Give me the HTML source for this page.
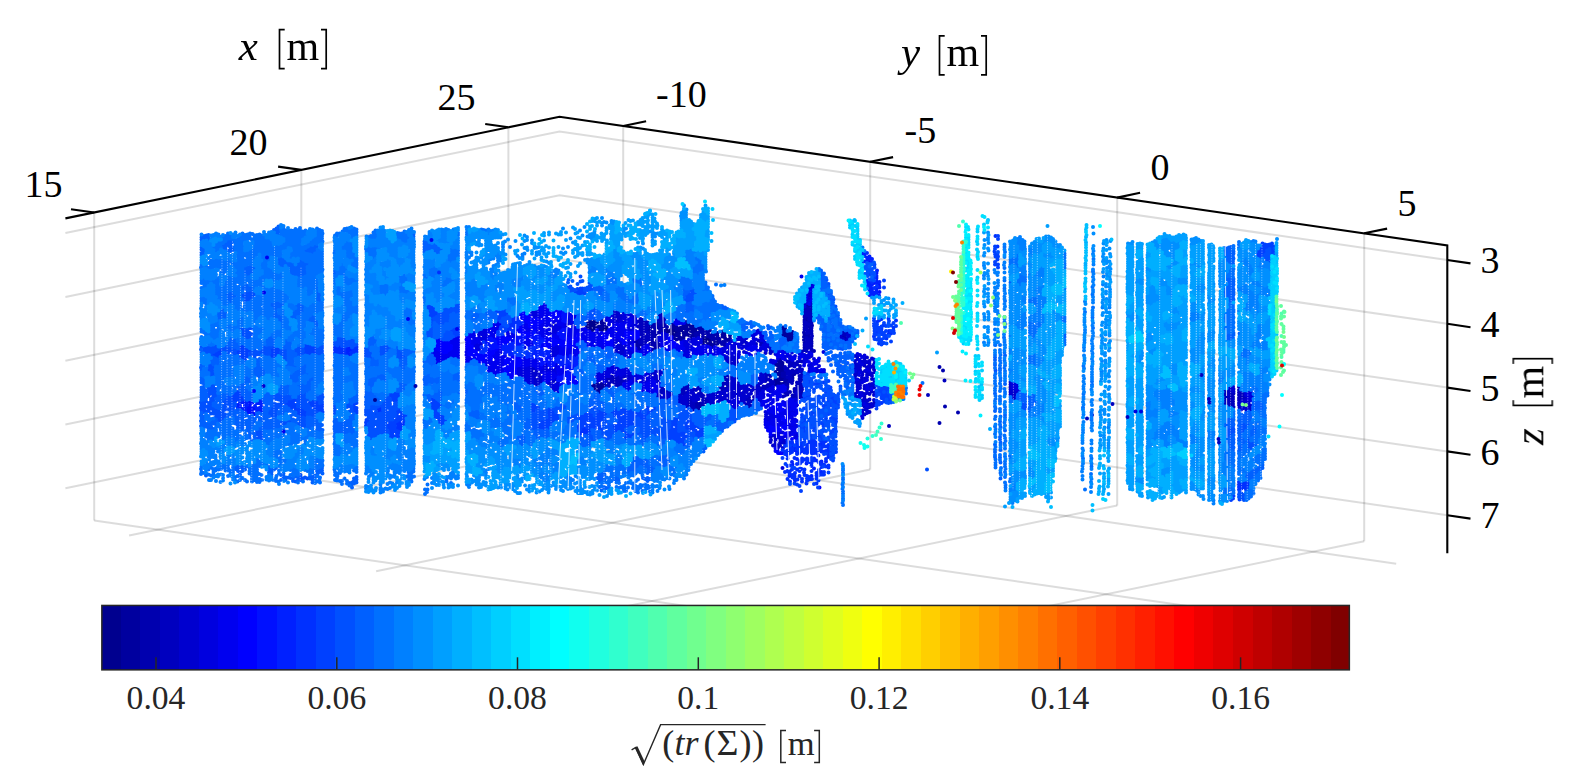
<!DOCTYPE html>
<html lang="en"><head><meta charset="utf-8"><title>Point cloud uncertainty</title>
<style>
html,body{margin:0;padding:0;background:#fff;}
body{width:1575px;height:775px;overflow:hidden;font-family:"Liberation Serif",serif;}
svg{display:block;}
text{-webkit-font-smoothing:antialiased;}
#ticks,#labels,#cbar,#cblabel{opacity:.999;}
.g{stroke:#262626;stroke-opacity:.16;stroke-width:2.0;fill:none;}
.ax{stroke:#000;stroke-width:2.1;fill:none;stroke-linejoin:miter;}
.tk{font-family:"Liberation Serif",serif;font-size:38px;fill:#000;}
.ctk{font-family:"Liberation Serif",serif;font-size:33.6px;fill:#262626;}
.lb{font-family:"Liberation Serif",serif;fill:#000;}
.lbi{font-family:"Liberation Serif",serif;font-style:italic;font-size:43px;fill:#000;}
.br{stroke:#000;stroke-width:1.7;fill:none;}
.cg .br{stroke:#262626;stroke-width:1.5;}
.cg .lb{fill:#262626;}
.cbb{fill:none;stroke:#262626;stroke-width:1.5;}
.cbt{stroke:#262626;stroke-width:1.5;}
.sq{fill:none;stroke:#262626;stroke-width:1.4;stroke-linejoin:miter;}
.cl{font-family:"Liberation Serif",serif;font-size:36px;fill:#262626;}
.cli{font-family:"Liberation Serif",serif;font-style:italic;font-size:36px;fill:#262626;}
</style></head>
<body>
<svg width="1575" height="775" viewBox="0 0 1575 775">
<rect width="1575" height="775" fill="#fff"/>
<g id="grid"><line class="g" x1="94.2" y1="212.5" x2="94.2" y2="520.4"/><line class="g" x1="94.2" y1="520.4" x2="982.0" y2="648.9"/><line class="g" x1="301.3" y1="169.9" x2="301.3" y2="477.8"/><line class="g" x1="301.3" y1="477.8" x2="1189.1" y2="606.3"/><line class="g" x1="508.4" y1="127.3" x2="508.4" y2="435.2"/><line class="g" x1="508.4" y1="435.2" x2="1396.2" y2="563.7"/><line class="g" x1="623.2" y1="126.0" x2="623.2" y2="433.9"/><line class="g" x1="623.2" y1="433.9" x2="129.1" y2="535.5"/><line class="g" x1="870.2" y1="161.8" x2="870.2" y2="469.6"/><line class="g" x1="870.2" y1="469.6" x2="376.1" y2="571.3"/><line class="g" x1="1117.2" y1="197.6" x2="1117.2" y2="505.4"/><line class="g" x1="1117.2" y1="505.4" x2="623.1" y2="607.0"/><line class="g" x1="1364.2" y1="233.3" x2="1364.2" y2="541.2"/><line class="g" x1="1364.2" y1="541.2" x2="870.1" y2="642.8"/><polyline class="g" points="65.4,233.1 559.5,131.5 1447.3,260.0"/><polyline class="g" points="65.4,296.9 559.5,195.2 1447.3,323.8"/><polyline class="g" points="65.4,360.7 559.5,259.1 1447.3,387.6"/><polyline class="g" points="65.4,424.5 559.5,322.9 1447.3,451.4"/><polyline class="g" points="65.4,488.3 559.5,386.6 1447.3,515.2"/></g>
<g id="cloud" fill="none" stroke-linecap="round" stroke-width="8.0" transform="scale(.5)">
<path stroke="#00008f" d="M1174 652h0m1 5h0m0-10h0m5 10h0m0-15h0m0 5h0m0 5h0m4-1h0m0 10h0m1-15h0m4 6h0m0-11h0m1 6h0m-1 10h0m5-12h0m0 10h0m10 5h0m5-3h0m4-2h0m1 5h0m119 0h0m1 5h0m5-3h0m4-4h0m1 6h0m-1 5h0m6-8h0m-1 9h0m5-6h0m53 14h0m0 5h0m1 6h0m4-13h0m0 6h0m5-5h0m0 11h0m4-7h0m160-4h0"/>
<path stroke="#00009f" d="M1185 773h0m4-4h0m0 6h0m0 5h0m5-13h0m0 6h0m0 9h0m4-129h0m1 118h0m0 5h0m0-117h0m0 121h0m0 6h0m4-146h0m0 5h0m0 10h0m0 113h0m1-117h0m0 122h0m0 6h0m4-132h0m1 5h0m0 117h0m0 6h0m134-127h0m1 5h0m4-3h0m0 5h0m0 21h0m5-22h0m0 5h0m0 11h0m0 9h0m5-22h0m0 5h0m0 5h0m0 6h0m0 4h0m4-22h0m1 5h0m-1 16h0m1 5h0m4-30h0m1 5h0m-1 10h0m1 5h0m-1 5h0m5-32h0m0 5h0m1 5h0m-1 6h0m1 4h0m0 5h0m4-20h0m1 10h0m-1 11h0m5-17h0m0 5h0m0 5h0m0 9h0m0 6h0m5-26h0m0 4h0m0 6h0m0 5h0m0 4h0m4-13h0m0 5h0m30 23h0m-1 5h0m5-1h0m0 4h0m5-10h0m1 5h0m4-7h0m0 5h0m10-24h0m0 6h0m0 4h0m4-7h0m0 5h0m1 5h0m5 4h0m5-9h0m0 6h0m0 5h0m91 47h0m0 15h0m0 15h0m-1 5h0m1 5h0m5-47h0m0 6h0m0 4h0m0 6h0m0 10h0m0 11h0m0 4h0m0 6h0m5-51h0m0 5h0m-1 5h0m0 5h0m1 5h0m-1 4h0m1 6h0m0 6h0m0 5h0m0 9h0m5-113h0m-1 5h0m0 6h0m0 5h0m0 55h0m0 5h0m0 6h0m0 5h0m1 16h0m-1 10h0m5-111h0m0 6h0m0 4h0m0 5h0m0 93h0m5-98h0m0 4h0m0 6h0m0 4h0m5-15h0m-1 5h0m1 10h0m5-17h0m0 5h0m0 6h0m-1 4h0m29-38h0"/>
<path stroke="#0000af" d="M1271 687h0m0-6h0m0 11h0m5-14h0m0 5h0m0 5h0m0 6h0m0 5h0m5-10h0m-1 10h0m15-39h0m5-8h0m0 5h0m0 5h0m0 5h0m0 21h0m5-39h0m0 4h0m0 11h0m0 4h0m0 6h0m-1 5h0m1 5h0m0 5h0m-1 10h0m6-53h0m0 6h0m0 5h0m0 5h0m0 5h0m0 5h0m-1 15h0m1 5h0m0 6h0m4-52h0m0 4h0m0 5h0m0 11h0m1 10h0m-1 5h0m1 6h0m0 5h0m0 4h0m4-46h0m0 5h0m1 4h0m-1 6h0m0 25h0m5-42h0m0 5h0m0 5h0m0 6h0m6-17h0m-1 5h0m0 10h0m5-8h0m57 14h0m1 5h0m0 133h0m0 4h0m-1 6h0m6-160h0m0 9h0m0 6h0m-1 137h0m0 6h0m1 5h0m4-164h0m0 5h0m1 4h0m-1 143h0m0 5h0m5-154h0m0 5h0m0 5h0m0 5h0m1 138h0m4-150h0m0 5h0m5-3h0m0 4h0m0 5h0m4-11h0m1 10h0m0 4h0m4-6h0m1 5h0m0 5h0m4-10h0m1 9h0m4-12h0m0 6h0m0 4h0m4 2h0m1 6h0m5 0h0m-1 4h0m6-6h0m0 4h0m0 5h0m115 56h0m0 5h0m6-8h0m-1 5h0m1 5h0m-1 6h0m5-2h0m0 6h0m0 5h0m-1 9h0m1 11h0m10-38h0m0 5h0m4-8h0m0 46h0m10-6h0m4-28h0m0 25h0m6-177h0m0 11h0m0 21h0m-1 25h0m1 4h0m-1 5h0m0 6h0m1 5h0m0 10h0m4-85h0m0 26h0m1 15h0m-1 21h0m5-60h0m1 32h0m-1 9h0m0 6h0m0 9h0m0 5h0m5-52h0m1 30h0m-1 32h0m0 9h0m5 10h0m58-29h0m5 3h0"/>
<path stroke="#0000bf" d="M1213 757h0m0 5h0m1 10h0m5-15h0m-1 10h0m0 5h0m5-9h0m0-10h0m0 6h0m4 1h0m1 5h0m0-10h0m4 15h0m1-15h0m-1 5h0m1 5h0m5-13h0m0 4h0m0 6h0m0 5h0m-1 5h0m5-2h0m0-10h0m0 5h0m5-2h0m29-120h0m0 10h0m5-15h0m0 6h0m0 5h0m0 5h0m0 4h0m-1 5h0m1 6h0m-1 10h0m0 5h0m5-44h0m0 15h0m1-10h0m-1 5h0m0 10h0m1 5h0m0 5h0m-1 6h0m1 5h0m-1 4h0m1 6h0m4-48h0m0 4h0m0 5h0m0 6h0m0 5h0m0 11h0m1 4h0m0 5h0m-1 6h0m5-44h0m1 5h0m-1 5h0m1 10h0m-1 5h0m0 6h0m0 4h0m5-7h0m0 5h0m15-38h0m0 148h0m4-158h0m0 4h0m1 5h0m0 6h0m0 138h0m5-156h0m-1 5h0m0 5h0m0 6h0m0 132h0m0 5h0m0 5h0m5-148h0m0 5h0m0 138h0m0 5h0m5-3h0m5 2h0m4 2h0m15 4h0m4-13h0m1 6h0m-1 4h0m6-13h0m-1 5h0m0 4h0m1 6h0m4-18h0m0 6h0m1 9h0m4-15h0m1 6h0m-1 20h0m0 5h0m0 5h0m0 5h0m5-12h0m0 5h0m0 5h0m0 6h0m5-37h0m0 26h0m0 5h0m0 5h0m0 4h0m5-39h0m5-7h0m-1 4h0m1 11h0m4-12h0m1 6h0m0 5h0m0 5h0m5-1h0m0 5h0m-1 4h0m0 5h0m5-6h0m0 5h0m5-4h0m0 6h0m24-31h0m4-10h0m1 6h0m0 4h0m0 5h0m4-27h0m1 5h0m-1 9h0m1 11h0m5-27h0m-1 9h0m1 5h0m0 5h0m-1 7h0m6-24h0m-1 5h0m0 10h0m0 5h0m5-20h0m29 46h0m0 10h0m5-14h0m0 5h0m-1 5h0m1 5h0m0 5h0m4-12h0m1 9h0m5-18h0m0 6h0m4-112h0m5-7h0m0 92h0m5-88h0m0 5h0m0 87h0m0 5h0m5-95h0m0 86h0m0 5h0m4-32h0m1 6h0m0 5h0m-1 5h0m1 11h0m0 4h0m4-28h0m1 10h0m-1 11h0m0 5h0m5-23h0m0 9h0m0 6h0m0 5h0m5-8h0m0 4h0m20 25h0m4-59h0m1 5h0m-1 31h0m0 15h0m0 6h0m5-68h0m0 15h0m0 5h0m0 5h0m0 6h0m0 20h0m0 10h0m5-61h0m0 5h0m-1 4h0m1 11h0m0 5h0m0 6h0m0 5h0m-1 4h0m1 21h0m5-59h0m-1 6h0m1 10h0m-1 4h0m1 16h0m-1 5h0m1 25h0m-1 6h0m5-70h0m0 16h0m0 35h0m0 5h0m0 6h0m6-65h0m-1 5h0m0 11h0m1 5h0m-1 20h0m0 6h0m0 5h0m1 5h0m0 10h0m-1 5h0m6-74h0m0 10h0m-1 6h0m0 14h0m0 6h0m1 5h0m-1 5h0m0 6h0m0 4h0m0 5h0m0 11h0m5-91h0m0 20h0m0 21h0m0 5h0m-1 5h0m1 15h0m0 6h0m0 4h0m-1 11h0m1 5h0m4-171h0m1 5h0m0 5h0m0 10h0m0 5h0m0 6h0m0 4h0m0 31h0m0 10h0m5-84h0m0 4h0m0 6h0m0 4h0m-1 16h0m0 10h0m1 5h0m0 5h0m-1 10h0m1 6h0m-1 5h0m1 5h0m0 5h0m-1 5h0m5-84h0m0 5h0m1 5h0m0 5h0m-1 6h0m0 10h0m0 15h0m0 15h0m1 5h0m0 5h0m0 6h0m4-89h0m0 5h0m0 16h0m0 5h0m0 4h0m0 6h0m0 4h0m0 10h0m0 6h0m0 5h0m0 10h0m0 10h0m0 11h0m0 5h0m1-87h0m0 56h0m58 4h0m4-13h0m0 5h0m5-2h0m0 4h0m0 11h0m4-16h0m5 9h0m15 90h0m9 46h0m5-18h0m0-61h0m1 26h0m19 48h0m700-13h0m0 10h0m0 5h0m0-25h0m1 5h0m-1 10h0m4-15h0m1 5h0m-1 5h0m1 6h0m-1 5h0m1 5h0m4-27h0m0 5h0m-1 5h0m1 6h0m0 4h0m0 6h0m0 5h0m4-27h0m0 6h0m1 5h0m-1 5h0m1 5h0m-1 6h0m5-25h0m-1 7h0m0 4h0m0 5h0m0 5h0m1 6h0m11-24h0m0-16h0m0 6h0m0 5h0m0 11h0m0 4h0m5-17h0m0 6h0m0 5h0m0 4h0m4-2h0m1-11h0m0 6h0m4 5h0"/>
<path stroke="#0000cf" d="M1063 736h0m0 5h0m0 5h0m1 5h0m5-14h0m-1 10h0m1 5h0m-1 5h0m0 5h0m0 5h0m5-28h0m0 5h0m1 5h0m0 11h0m-1 5h0m1 5h0m4-21h0m1 5h0m-1 4h0m0 6h0m0 5h0m5-14h0m0 5h0m0 6h0m14 0h0m5 2h0m5-6h0m5-4h0m4 7h0m112-143h0m0 5h0m0 5h0m0 5h0m4-14h0m0 10h0m0 71h0m1-77h0m0 16h0m0 51h0m0 6h0m4-56h0m0 47h0m0-67h0m0 5h0m0 5h0m0 5h0m1 57h0m-1 10h0m5-12h0m0 5h0m1-67h0m-1 6h0m1 51h0m-1 15h0m0 5h0m0 46h0m5-53h0m0 5h0m0-11h0m0 57h0m5-62h0m0 61h0m0 10h0m5-11h0m0 5h0m0 6h0m5-10h0m0 6h0m39-10h0m4-3h0m0 11h0m5-13h0m0 5h0m0 6h0m0 5h0m5-17h0m0 11h0m-1 4h0m1 6h0m-1 30h0m5-52h0m1 5h0m0 5h0m-1 6h0m0 35h0m0 5h0m6-52h0m-1 51h0m5-58h0m0 52h0m0 5h0m5-7h0m-1 5h0m1 5h0m5-8h0m0 4h0m4-4h0m15 4h0m0 6h0m0 5h0m4-12h0m1 5h0m0 6h0m5-10h0m-1 6h0m0 4h0m0 5h0m5-18h0m0 5h0m0 6h0m1 5h0m-1 6h0m5-31h0m0 5h0m1 6h0m4-13h0m0 5h0m0 10h0m4-10h0m1 4h0m0 5h0m0 6h0m5-9h0m0 5h0m0 5h0m4-8h0m1 5h0m19-8h0m0 5h0m5-8h0m0 5h0m0 6h0m0 6h0m-1 4h0m6-22h0m-1 5h0m0 5h0m1 5h0m0 5h0m4-20h0m1 5h0m-1 5h0m5-12h0m0 10h0m1 10h0m4-19h0m0 6h0m0 4h0m0 5h0m5-14h0m0 10h0m0 5h0m5-84h0m-1 66h0m0 5h0m1 5h0m0 5h0m4-84h0m0 6h0m0 5h0m1 56h0m0 10h0m0 10h0m4-84h0m1 5h0m-1 5h0m0 51h0m0 10h0m0 5h0m0 6h0m5-87h0m0 6h0m0 10h0m1 31h0m-1 5h0m0 5h0m0 4h0m0 5h0m0 6h0m0 5h0m0 6h0m5-80h0m-1 5h0m0 5h0m1 5h0m0 26h0m0 5h0m0 5h0m0 5h0m0 6h0m0 9h0m0 6h0m4-113h0m0 41h0m1 5h0m-1 6h0m1 24h0m0 16h0m-1 5h0m1 5h0m0 5h0m-1 5h0m5-118h0m1 5h0m-1 87h0m0 5h0m0 5h0m0 6h0m0 4h0m0 5h0m5-115h0m0 5h0m1 5h0m-1 4h0m0 83h0m0 4h0m1 11h0m-1 5h0m0 5h0m0 5h0m5-124h0m1 5h0m-1 10h0m0 77h0m1 5h0m0 5h0m-1 4h0m0 6h0m0 5h0m0 5h0m0 5h0m5-129h0m0 10h0m0 87h0m0 6h0m0 5h0m0 9h0m5-24h0m-1 10h0m1 10h0m5-17h0m0 9h0m-1 6h0m6-13h0m-1 5h0m5-9h0m1 5h0m-1 5h0m0 5h0m0 5h0m6-33h0m-1 11h0m0 10h0m0 5h0m0 4h0m5-40h0m0 4h0m0 5h0m0 6h0m0 4h0m5-18h0m-1 5h0m1 4h0m0 5h0m4-56h0m6-13h0m4 2h0m0 6h0m0 5h0m0 168h0m1 6h0m-1 4h0m5-182h0m0 169h0m0 20h0m5-20h0m0 6h0m0 5h0m0 5h0m0 5h0m4-1h0m1 4h0m4-9h0m0 5h0m6-11h0m-1 5h0m1 11h0m5-14h0m-1 5h0m19-154h0m5 53h0m5-43h0m5-4h0m15-152h0m0 5h0m-1 6h0m5-23h0m0 137h0m58-41h0m5 7h0m10 2h0m0-10h0m0 5h0m4-6h0m10 43h0m0 10h0m0 10h0m0 21h0m0 35h0m1-60h0m-1 9h0m0 11h0m0 16h0m0 29h0m5-81h0m0 6h0m0 15h0m0 5h0m0 11h0m0 20h0m0 15h0m-1 10h0m1-65h0m0 15h0m0 30h0m0 6h0m4-15h0m1 11h0m-1 15h0m1-61h0m0 4h0m0 6h0m0 21h0m0 10h0m4-48h0m0 22h0m0 10h0m0 5h0m0 26h0m1-37h0m0 52h0m0 5h0m0 15h0m0 5h0m4-110h0m0 6h0m0 5h0m0 86h0m0 16h0m1-87h0m-1 30h0m0 5h0m0 11h0m0 9h0m1 6h0m0 15h0m4-103h0m0 9h0m0 11h0m0 10h0m0 72h0m0-67h0m0 36h0m1 15h0m-1 6h0m0 15h0m0 4h0m4-94h0m1 37h0m-1 4h0m1 26h0m0-77h0m0 5h0m0 10h0m0 11h0m0 30h0m0 10h0m0 21h0m0 5h0m0 10h0m4-41h0m0 25h0m1 5h0m0-96h0m0 16h0m0 14h0m0 5h0m0 6h0m0 10h0m0 5h0m4-54h0m0 10h0m0 46h0m0 25h0m1-77h0m0 10h0m-1 6h0m1 5h0m0 25h0m0 16h0m-1 5h0m1 20h0m272-46h0m0 5h0m0 5h0m0 5h0m0 5h0m0 5h0m5-8h0m-1 6h0m0 5h0m1 5h0m5-15h0m-1 5h0m0 6h0m0 4h0m5-13h0m423-8h0m5-1h0m-1 6h0m4-8h0m1 5h0m0 5h0m11 23h0m0 4h0m1 5h0m4-6h0m0 5h0m0 5h0m0-16h0m5-2h0m0 5h0m0 5h0m0 5h0m4-16h0m0 6h0m0 5h0m1 6h0m0 4h0m4-18h0m0 5h0m0 5h0m0 5h0m4-7h0m0 5h0m1 5h0"/>
<path stroke="#0000df" d="M948 691h0m5-2h0m0 5h0m0 4h0m5-35h0m0 6h0m0 6h0m0 15h0m0 5h0m0 4h0m4-36h0m1 5h0m-1 10h0m0 10h0m5-29h0m0 5h0m1 5h0m-1 5h0m1 5h0m4-19h0m1 6h0m-1 4h0m0 6h0m0 4h0m5-6h0m58 61h0m0 6h0m0 5h0m4-11h0m1 5h0m-1 5h0m0 5h0m5-13h0m1 6h0m0 5h0m0 5h0m4-16h0m0 5h0m1 4h0m-1 6h0m0 5h0m0 5h0m5-27h0m0 5h0m0 5h0m0 5h0m0 5h0m1 5h0m-1 5h0m5-32h0m0 5h0m0 4h0m0 6h0m0 6h0m0 5h0m0 5h0m0 4h0m5-144h0m0 5h0m0 127h0m0 6h0m0 5h0m5-143h0m0 5h0m0 5h0m4-12h0m1 5h0m0 6h0m4-1h0m0 5h0m5 103h0m0 4h0m5-13h0m0 6h0m0 4h0m5-13h0m0 4h0m-1 6h0m0 5h0m6-2h0m4-90h0m0 16h0m0 24h0m1 5h0m0 6h0m-1 10h0m0 25h0m0 6h0m0 30h0m5-118h0m0 5h0m0 5h0m0 30h0m0 5h0m0 6h0m1 35h0m-1 30h0m0 6h0m0 5h0m1-71h0m4-60h0m0 5h0m0 6h0m0 5h0m0 25h0m0 6h0m0 4h0m0 26h0m0 5h0m0 5h0m0 5h0m0 5h0m0 21h0m0 4h0m0-65h0m0 4h0m0 67h0m5-127h0m0 6h0m-1 36h0m1 5h0m0 5h0m0 5h0m0 61h0m0 10h0m0-5h0m0 10h0m5-132h0m0 5h0m9-9h0m0 4h0m5-12h0m0 6h0m1-10h0m4 3h0m0 6h0m5 8h0m0-5h0m48 98h0m0 10h0m0-5h0m0 10h0m5-7h0m0-10h0m0 5h0m0 10h0m4-8h0m1-4h0m0 9h0m4-3h0m1-11h0m0 6h0m0 11h0m0 4h0m4-130h0m0 6h0m1 97h0m0 5h0m-1 4h0m1 6h0m4-117h0m0 4h0m0 113h0m1-108h0m-1 5h0m0 88h0m0 4h0m0 5h0m5-13h0m0 5h0m0-107h0m0 11h0m0 101h0m5-60h0m-1 5h0m1 6h0m-1 51h0m1-103h0m0 5h0m0 31h0m0 56h0m0 5h0m4-5h0m0 16h0m1-72h0m-1 6h0m1 61h0m4-9h0m0 5h0m0-61h0m0 67h0m5-104h0m0 41h0m1 56h0m0 5h0m-1 5h0m5-125h0m0 112h0m1-106h0m-1 5h0m0 9h0m0 67h0m1 30h0m-1 5h0m4-112h0m1 5h0m0 102h0m0-112h0m0 72h0m0 5h0m0 4h0m0 26h0m0 10h0m4-118h0m1 10h0m0 16h0m0 4h0m0 20h0m0 6h0m0 5h0m0 10h0m0 5h0m0 11h0m0 25h0m0 5h0m4-96h0m1-20h0m0 6h0m0 25h0m-1 25h0m1 16h0m-1 5h0m1 5h0m0 35h0m4-113h0m0 6h0m0 10h0m0 56h0m0-61h0m1 10h0m-1 5h0m0 20h0m1 5h0m-1 66h0m1 6h0m-1 6h0m5-112h0m1-20h0m-1 4h0m0 6h0m1 5h0m-1 102h0m0 5h0m0 5h0m1 6h0m4-14h0m0 6h0m5-6h0m0 5h0m0 11h0m5-14h0m0 5h0m0 6h0m4-13h0m0 15h0m5-18h0m0 10h0m0 5h0m5-8h0m0 5h0m19-84h0m0 6h0m6-13h0m0 6h0m-1 4h0m0 5h0m5-15h0m0 5h0m0 5h0m5-8h0m0 6h0m34 6h0m0 5h0m0 4h0m0 11h0m-1 6h0m1 4h0m5-28h0m-1 6h0m0 5h0m1 5h0m-1 5h0m1 5h0m0 5h0m5-36h0m-1 10h0m0 6h0m1 5h0m-1 5h0m0 5h0m0 5h0m5-32h0m0 10h0m0 6h0m0 15h0m5-36h0m0 4h0m0 5h0m5-8h0m0 5h0m-1 4h0m6-12h0m0 10h0m0 5h0m5-11h0m0 5h0m43 13h0m0 6h0m-1 5h0m6-12h0m-1 5h0m0 10h0m6-23h0m0 5h0m0 11h0m4-18h0m1 4h0m-1 6h0m0 5h0m0 5h0m0 96h0m1 7h0m4-128h0m0 10h0m0 5h0m0 10h0m0 97h0m0 10h0m5-130h0m0 6h0m0 5h0m0 5h0m0 5h0m-1 96h0m1 6h0m0 5h0m0 5h0m5-128h0m-1 21h0m1 5h0m0 82h0m0 4h0m-1 5h0m1 6h0m-1 4h0m5-127h0m0 5h0m0 10h0m0 5h0m0 5h0m0 91h0m6-109h0m4 8h0m5-12h0m0 4h0m0 10h0m5-18h0m0 5h0m4-23h0m1 14h0m-1 6h0m5-23h0m0 5h0m0 5h0m1 5h0m0 5h0m5-24h0m-1 5h0m0 11h0m0 116h0m5-134h0m0 4h0m1 128h0m-1 6h0m5-134h0m0 5h0m0 5h0m0 5h0m0 16h0m-1 4h0m1 87h0m0 6h0m0 4h0m0 5h0m4-132h0m1 6h0m0 5h0m0 10h0m0 6h0m-1 85h0m1 6h0m0 6h0m4-108h0m1 5h0m-1 5h0m1 5h0m-1 123h0m1 5h0m0 4h0m-1 6h0m6-151h0m-1 92h0m0 21h0m0 25h0m1 9h0m0 6h0m5-120h0m-1 5h0m0 51h0m0 6h0m0 45h0m0 6h0m1 4h0m5-116h0m-1 5h0m0 47h0m0 5h0m0 5h0m0 46h0m0 6h0m5-128h0m0 15h0m0 112h0m5-118h0m-1 148h0m1 5h0m0 5h0m4-10h0m1 10h0m0 6h0m4-16h0m0 10h0m0 61h0m6-232h0m-1 9h0m0 6h0m0 153h0m5-160h0m0 102h0m0 5h0m0 26h0m5-133h0m0 5h0m0 98h0m0 10h0m0 4h0m0 21h0m0 5h0m0 11h0m0 4h0m4-165h0m1 15h0m-1 102h0m0 10h0m1 6h0m0 15h0m0 10h0m5-151h0m0 87h0m-1 5h0m1 20h0m0 26h0m0 20h0m0 5h0m4-74h0m0 10h0m0 31h0m0 10h0m1 16h0m0 4h0m9-163h0m5-96h0m0 97h0m0 5h0m0 5h0m0 6h0m5-137h0m0 12h0m0 5h0m0 106h0m0 5h0m0 5h0m4-145h0m0 25h0m1 103h0m-1 4h0m0 6h0m0 16h0m1 4h0m0 6h0m-1 4h0m5-175h0m0 10h0m1 5h0m-1 11h0m0 132h0m1-138h0m0 143h0m4-163h0m0 148h0m0 25h0m1-20h0m4 14h0m0 6h0m4-21h0m1 10h0m0 10h0m4 3h0m5-41h0m1 36h0m62 2h0m0 16h0m5-50h0m0 51h0m4-39h0m0 4h0m0 26h0m0 46h0m1-86h0m0 35h0m0 41h0m4-57h0m0 36h0m0 26h0m0 41h0m0-118h0m1 122h0m4-125h0m0 51h0m0 46h0m5-68h0m0 15h0m0 5h0m0 11h0m0 41h0m1-36h0m-1 5h0m5-38h0m10 16h0m0 5h0m277 3h0m0 5h0m0 4h0m4-10h0m0 6h0m0 5h0m6-9h0m-1 6h0m0 5h0m5 2h0m452 5h0m0 4h0m5-8h0m0 11h0m0 5h0m0-10h0m5-3h0m-1 6h0m0 10h0m1-6h0m4-2h0"/>
<path stroke="#0000ef" d="M863 705h0m5-2h0m0 4h0m1 5h0m5-12h0m-1 5h0m0 6h0m1 5h0m-1 5h0m1 6h0m4-22h0m0 4h0m0 5h0m0 5h0m0 5h0m5-15h0m0 5h0m0 5h0m0 4h0m5-14h0m0 6h0m-1 5h0m6-11h0m0 5h0m-1 5h0m5-14h0m0 5h0m0 5h0m4-34h0m1 5h0m0 16h0m-1 5h0m1 4h0m4-33h0m0 6h0m1 4h0m0 6h0m-1 4h0m0 5h0m1 6h0m-1 5h0m5-26h0m1-11h0m-1 5h0m0 10h0m1 6h0m-1 4h0m0 5h0m0 6h0m5-39h0m0 11h0m0 26h0m0-31h0m0 10h0m0 5h0m0 5h0m0 5h0m0 11h0m18-18h0m-1 6h0m0 6h0m1 4h0m0 5h0m0 5h0m4-56h0m0 5h0m0 41h0m0 5h0m0 5h0m5-56h0m1 5h0m0 10h0m-1 5h0m0 31h0m5-54h0m0 6h0m0 5h0m0 5h0m0 5h0m1 31h0m4-39h0m0 5h0m4-4h0m1 5h0m14 37h0m0 5h0m0 6h0m5-74h0m0 5h0m0 56h0m0 5h0m0 11h0m0 4h0m0 6h0m4-89h0m1 10h0m0 6h0m0 51h0m-1 4h0m1 6h0m0 4h0m-1 6h0m6-93h0m0 5h0m-1 6h0m1 9h0m0 5h0m0 37h0m0 14h0m-1 5h0m1 6h0m0 5h0m0 5h0m5-99h0m-1 10h0m0 6h0m1 41h0m-1 4h0m0 6h0m1 4h0m-1 6h0m0 4h0m1 6h0m-1 10h0m1 5h0m4-106h0m0 5h0m0 5h0m1 5h0m0 41h0m0 5h0m-1 5h0m0 6h0m0 4h0m0 6h0m0 9h0m0 6h0m0 4h0m5-96h0m0 50h0m0 6h0m1 10h0m-1 5h0m0 5h0m0 5h0m0 5h0m0 6h0m0 5h0m5-32h0m0 5h0m0 5h0m0 5h0m0 10h0m-1 5h0m5-32h0m5-49h0m1 5h0m0 5h0m5 1h0m4-7h0m1 5h0m-1 10h0m5-12h0m0 6h0m15-25h0m0 6h0m-1 65h0m0 6h0m1 5h0m4-88h0m1 5h0m-1 5h0m0 30h0m0 10h0m0 21h0m0 5h0m0 5h0m0 5h0m5-83h0m0 6h0m0 4h0m0 5h0m1 15h0m-1 6h0m1 4h0m0 31h0m-1 6h0m0 5h0m5-73h0m0 5h0m0 20h0m0 5h0m0 6h0m0 24h0m0 5h0m0 6h0m5-64h0m0 21h0m0 5h0m0 30h0m0 6h0m0 4h0m4-9h0m1 5h0m-1 5h0m5-73h0m1 6h0m-1 55h0m1 5h0m-1 6h0m0 5h0m5-119h0m1 5h0m-1 5h0m0 25h0m0 6h0m0 9h0m0 62h0m0 5h0m0 5h0m6-126h0m-1 5h0m0 6h0m0 5h0m0 5h0m0 15h0m0 5h0m0 5h0m0 5h0m0 6h0m0 4h0m0 62h0m5-126h0m0 5h0m0 6h0m0 4h0m0 5h0m0 10h0m0 5h0m0 5h0m0 11h0m-1 6h0m1 4h0m0 5h0m0 71h0m0 6h0m0 5h0m0 5h0m5-152h0m-1 5h0m1 10h0m0 6h0m0 5h0m-1 5h0m1 5h0m0 5h0m0 10h0m0 5h0m0 10h0m-1 72h0m0 5h0m0 11h0m1-144h0m0 138h0m5-140h0m-1 5h0m0 15h0m0 5h0m0 6h0m1 10h0m-1 9h0m1 78h0m-1 5h0m1 10h0m0-133h0m0 128h0m4-8h0m0 10h0m1-5h0m4-109h0m0 26h0m0 5h0m0 72h0m0 4h0m0 5h0m5-115h0m0 31h0m0 5h0m0 76h0m5-110h0m0 30h0m0 5h0m-1 61h0m1 5h0m0 6h0m0-102h0m0 86h0m5-102h0m0 6h0m0 4h0m0 6h0m-1 31h0m0 14h0m1 11h0m-1 5h0m1 31h0m-1 4h0m0 6h0m1-51h0m4-49h0m1 5h0m0 41h0m-1 5h0m0 5h0m1 6h0m0 19h0m0 6h0m-1 5h0m0 5h0m1-102h0m4 49h0m0 6h0m0 4h0m1 5h0m-1 36h0m5-119h0m0 32h0m0 4h0m0 5h0m0 5h0m0 25h0m0 6h0m0 5h0m0 5h0m0-81h0m5-2h0m0 5h0m0 25h0m0 6h0m-1 5h0m1 5h0m0 21h0m0 4h0m0 6h0m5-73h0m-1 4h0m1 5h0m-1 16h0m0 4h0m1 6h0m0 5h0m0 26h0m0 5h0m5-75h0m-1 31h0m1 5h0m-1 6h0m0 20h0m1 15h0m-1 5h0m1-76h0m0 20h0m0 46h0m4-43h0m0 6h0m0 30h0m0 5h0m0 5h0m0 5h0m5-41h0m1-9h0m0 45h0m4-46h0m0 15h0m1-6h0m0 11h0m4-21h0m0 16h0m0 9h0m0-20h0m0 15h0m4-16h0m0 5h0m0 6h0m0 5h0m1 10h0m-1 4h0m5-29h0m0 10h0m1 6h0m0-11h0m0 21h0m4-22h0m0 4h0m0 6h0m0 10h0m1-5h0m0 10h0m4-10h0m1-15h0m-1 5h0m0 6h0m0 15h0m5-28h0m0 20h0m0 6h0m0-31h0m0 15h0m0 6h0m5-12h0m0 5h0m0 5h0m-1 5h0m1 5h0m0 5h0m4-28h0m0 21h0m1-11h0m0 5h0m0 11h0m0 5h0m5-29h0m0 19h0m0 6h0m5-28h0m0 5h0m4-10h0m0 5h0m5-8h0m0 5h0m0 5h0m0 4h0m5-19h0m-1 11h0m1 10h0m0-15h0m0 9h0m4 1h0m1-20h0m0 10h0m0 16h0m4-24h0m0 5h0m0 5h0m1 5h0m0 5h0m0 5h0m5-27h0m-1 5h0m0 6h0m0 4h0m0 6h0m5 104h0m0-123h0m0 6h0m0 5h0m0 5h0m0 5h0m1 97h0m3-123h0m1 16h0m0 107h0m0 4h0m0 6h0m5-134h0m0 6h0m0 44h0m0 72h0m-1 6h0m1 5h0m0 5h0m4-137h0m0 118h0m0-123h0m1 57h0m0 71h0m0 10h0m4-88h0m0 6h0m1 5h0m0 67h0m4-71h0m1 5h0m4 2h0m5 0h0m5-8h0m0 5h0m0 6h0m0 5h0m0 56h0m0 5h0m0 5h0m0 4h0m4-89h0m1 6h0m-1 5h0m0 5h0m0 62h0m1 4h0m4-8h0m0 16h0m0-92h0m1 4h0m-1 11h0m0 67h0m0 5h0m5-80h0m0 5h0m0 61h0m0 5h0m0 5h0m0 6h0m0 5h0m4-25h0m1 5h0m0 5h0m0 11h0m0 6h0m4-23h0m0 4h0m1 5h0m0 5h0m0 7h0m5-12h0m0 5h0m-1 5h0m5-16h0m0 5h0m5-84h0m0 5h0m5-5h0m0 10h0m5-12h0m0 15h0m5-8h0m0 5h0m5 1h0m5-54h0m0 51h0m4-57h0m0 5h0m0 4h0m1 42h0m0 5h0m0 5h0m4-59h0m0 6h0m0 46h0m0 4h0m0 6h0m5-57h0m0 39h0m0 6h0m0 5h0m5-50h0m-1 51h0m19 0h0m1 5h0m0 5h0m5-8h0m-1 4h0m1 6h0m4-12h0m1 4h0m-1 5h0m5-11h0m0 5h0m1 5h0m0 5h0m4-17h0m0 6h0m0 4h0m0 6h0m5-17h0m0 5h0m0 6h0m5-10h0m0 16h0m5-13h0m0 5h0m0 6h0m4 2h0m5-15h0m0 5h0m1 5h0m-1 5h0m5-12h0m0 5h0m1 5h0m4-8h0m0 5h0m0 5h0m57-11h0m1 10h0m4-13h0m1 5h0m-1 11h0m6-18h0m0 5h0m4-5h0m0 6h0m0 10h0m5-7h0m5 106h0m0 4h0m5-9h0m0 6h0m5-6h0m0 11h0m-1 30h0m0 5h0m1 5h0m4-64h0m0 21h0m1 10h0m0 25h0m0 5h0m-1 6h0m5-65h0m0 6h0m1 9h0m-1 10h0m1 6h0m-1 21h0m0 5h0m5-60h0m1 11h0m-1 4h0m0 10h0m0 5h0m1 6h0m-1 16h0m0 4h0m0 5h0m5-66h0m-1 6h0m1 10h0m0 20h0m0 6h0m0 4h0m0 11h0m0 5h0m-1 5h0m6-149h0m0 5h0m-1 5h0m1 61h0m0 6h0m-1 5h0m0 5h0m0 5h0m0 5h0m1 31h0m0 4h0m-1 6h0m0 10h0m6-148h0m-1 10h0m1 61h0m0 5h0m0 6h0m-1 5h0m0 4h0m1 31h0m-1 6h0m0 5h0m0 4h0m0 5h0m0 6h0m5-149h0m1 5h0m-1 5h0m0 6h0m1 55h0m-1 5h0m0 6h0m1 21h0m-1 20h0m0 5h0m1 5h0m0 10h0m-1 5h0m5-74h0m0 5h0m0 26h0m0 5h0m0 10h0m0 5h0m0 21h0m5-140h0m0 97h0m0 5h0m0 16h0m0 5h0m0 5h0m0 5h0m0 10h0m0 5h0m0 11h0m0 5h0m0 4h0m5-76h0m-1 5h0m1 5h0m0 10h0m0 16h0m5-120h0m0 86h0m0 5h0m0 6h0m0 5h0m0 10h0m-1 16h0m1 5h0m-1 10h0m1 10h0m4-151h0m1 91h0m0 6h0m0 5h0m0 11h0m0 9h0m-1 5h0m1 11h0m-1 5h0m1 5h0m4-59h0m0 15h0m0 5h0m0 52h0m5-171h0m0 6h0m0 4h0m5-4h0m4 18h0m5-136h0m5-13h0m0 142h0m1-116h0m4-7h0m0 107h0m0 31h0m0 4h0m5-168h0m0 153h0m0 10h0m5-16h0m0 5h0m5-10h0m5 23h0m5 5h0m95 33h0"/>
<path stroke="#0000ff" d="M869 697h0m5-17h0m0 5h0m-1 5h0m0 6h0m5-18h0m0 6h0m0 5h0m0 5h0m0 5h0m4-17h0m0 6h0m1 5h0m0 5h0m-1 4h0m5-18h0m0 6h0m0 5h0m1 4h0m0 6h0m4-22h0m0 6h0m0 5h0m1 5h0m0 5h0m4-20h0m0 5h0m0 5h0m0 6h0m5-8h0m0 5h0m32-24h0m-1 6h0m1 5h0m0 5h0m0 4h0m5-14h0m0 5h0m-1 4h0m0 6h0m1 5h0m-1 5h0m0 4h0m6-15h0m0 6h0m-1 5h0m0 5h0m5-7h0m0 9h0m4-7h0m1 5h0m0 10h0m5-9h0m-1 5h0m1 5h0m0 5h0m5-16h0m0 5h0m-1 5h0m6-9h0m-1 5h0m0 5h0m0 5h0m5-14h0m5-12h0m0 5h0m0 5h0m0 5h0m5-12h0m0 5h0m-1 5h0m1 5h0m5-16h0m-1 5h0m5-27h0m1 20h0m4-25h0m0 6h0m0 4h0m0 5h0m5-15h0m0 5h0m0 5h0m1 6h0m-1 4h0m5-21h0m0 5h0m0 5h0m5-6h0m0 5h0m0 5h0m0 35h0m0 5h0m-1 11h0m1 5h0m5-65h0m-1 5h0m0 35h0m1 6h0m-1 10h0m0 5h0m0 5h0m1 6h0m4-72h0m0 41h0m1 10h0m0 6h0m-1 5h0m0 10h0m1 5h0m4-42h0m0 11h0m0 5h0m0 4h0m0 6h0m0 5h0m0 4h0m0 6h0m5-43h0m0 5h0m0 6h0m0 4h0m0 5h0m0 6h0m0 5h0m0 4h0m5-87h0m0 57h0m0 5h0m0 4h0m0 6h0m4-103h0m1 26h0m0 5h0m-1 4h0m1 52h0m0 5h0m0 5h0m-1 5h0m5-104h0m0 5h0m0 5h0m1 25h0m0 6h0m5-42h0m0 4h0m-1 6h0m0 4h0m0 26h0m5-32h0m0 4h0m0 6h0m1 25h0m-1 5h0m5-42h0m0 5h0m0 5h0m0 5h0m0 6h0m0 15h0m0 5h0m5-33h0m0 5h0m0 10h0m0 15h0m5-25h0m0 6h0m-1 4h0m1 6h0m4-22h0m1 4h0m-1 6h0m1 5h0m5-11h0m-1 5h0m5-4h0m0 45h0m0 6h0m5-4h0m5-9h0m0 6h0m0 4h0m5-12h0m0 10h0m0 5h0m5-69h0m0 5h0m-1 10h0m0 37h0m1 4h0m4-57h0m0 5h0m0 5h0m0 45h0m0 6h0m0 5h0m5-8h0m0 5h0m0-66h0m0 15h0m5-14h0m0 10h0m0 52h0m0-57h0m5-5h0m0 5h0m0 56h0m0 5h0m5-7h0m0 5h0m-1 5h0m6-12h0m4-1h0m0 5h0m0 5h0m0 5h0m5-12h0m0 5h0m0 5h0m0 67h0m0-5h0m5-64h0m0 62h0m0 10h0m0-77h0m0 72h0m0 10h0m4-89h0m0 5h0m0 71h0m1-66h0m0 76h0m0 6h0m5-94h0m-1 10h0m1-16h0m0 10h0m0 87h0m4-86h0m48-3h0m0-4h0m1 10h0m4-8h0m0 10h0m0 5h0m5-5h0m0 5h0m5-8h0m0 5h0m0 5h0m20-13h0m4 3h0m0 5h0m5-22h0m0 5h0m0 6h0m0 10h0m4-16h0m1-5h0m0 9h0m5-8h0m0 10h0m4-11h0m1 5h0m0 5h0m4-9h0m0-4h0m1 10h0m0 5h0m4-13h0m0 4h0m0 6h0m63 3h0m0 5h0m4-8h0m0 4h0m1 5h0m-1 5h0m1 6h0m5-8h0m-1 5h0m188 170h0m5-7h0m0 5h0m0 5h0m0 5h0m5-13h0m0 5h0m5-46h0m0 42h0m0 4h0m0 36h0m0 5h0m4-93h0m1 10h0m0 36h0m-1 5h0m0 41h0m1 5h0m4-97h0m0 5h0m1 6h0m-1 40h0m1 46h0m4-97h0m0 10h0m1 19h0m0 16h0m-1 52h0m5-65h0m0 11h0m0 5h0m0 10h0m14 11h0"/>
<path stroke="#0010ff" d="M495 816h0m0 4h0m-1 5h0m5-21h0m1 5h0m-1 5h0m0 5h0m1 5h0m5-19h0m-1 11h0m0 4h0m0 5h0m5-8h0m0 11h0m463-143h0m5-7h0m0 10h0m5-11h0m0 4h0m-1 11h0m1 5h0m5-16h0m0 9h0m0 6h0m4-12h0m0 5h0m0 5h0m5 0h0m34-14h0m0 5h0m5-10h0m0 5h0m0 4h0m0 6h0m5-15h0m0 14h0m5-17h0m0 5h0m-1 5h0m0 6h0m5-13h0m15-1h0m4-9h0m0 10h0m1 5h0m4-7h0m1 5h0m4-6h0m1 5h0m-1 41h0m5-40h0m0 41h0m1 5h0m-1 5h0m5-49h0m0 46h0m5-9h0m0 5h0m4-7h0m0 10h0m1 5h0m4-13h0m0 6h0m0 4h0m0 5h0m6-6h0m-1 4h0m10-63h0m-1 93h0m1-5h0m4-92h0m1 5h0m0 6h0m0 81h0m-1 5h0m1 10h0m4-140h0m0 5h0m0 6h0m0 19h0m0 10h0m0 6h0m0 81h0m0 11h0m1-143h0m0 127h0m4-119h0m0 6h0m0 4h0m0 26h0m0 4h0m0 77h0m1-122h0m0 31h0m0 4h0m0 72h0m4-7h0m0 6h0m0 15h0m0 5h0m0 5h0m0 5h0m0 5h0m0-25h0m5-7h0m0 10h0m0-15h0m0 36h0m5-37h0m0 5h0m593-212h0m9 42h0m5-20h0m5 24h0m1 14h0"/>
<path stroke="#0020ff" d="M475 810h0m0 4h0m5-8h0m0 6h0m0 4h0m5-12h0m0 14h0m5-16h0m0 5h0m0 4h0m0 6h0m0 4h0m4-16h0m0 5h0m16 2h0m4-6h0m0 11h0m0 5h0m5-21h0m-1 5h0m1 10h0m-1 5h0m6-19h0m-1 5h0m0 5h0m0 5h0m1 5h0m170-125h0m0 5h0m-1 5h0m6-11h0m0 5h0m-1 5h0m1 5h0m4-12h0m303-6h0m0 5h0m5-6h0m-1 5h0m1 6h0m-1 4h0m6-13h0m-1 5h0m0 4h0m5-14h0m1 5h0m-1 5h0m0 5h0m0 5h0m5-22h0m1 6h0m0 5h0m-1 10h0m5-13h0m33 15h0m1 6h0m5-31h0m0 15h0m-1 6h0m5-18h0m1 6h0m0 10h0m-1 5h0m1 5h0m4-32h0m1 5h0m-1 5h0m0 11h0m0 5h0m6-25h0m0 16h0m-1 5h0m0 5h0m5-3h0m0 5h0m5-8h0m0 4h0m5-3h0m-1 5h0m15 8h0m0 5h0m5-9h0m0 6h0m0 5h0m5 5h0m0-15h0m0 11h0m4-9h0m1 6h0m-1 5h0m5-13h0m0 11h0m1-6h0m0 11h0m4-7h0m5-11h0m0 5h0m0 10h0m5-12h0m0 5h0m0 5h0m5 2h0m0 6h0m0-15h0m0 4h0m4-7h0m0 5h0m1 6h0m0 5h0m423 221h0m5-58h0m0 30h0m1 5h0m5-34h0m-1 5h0m1 61h0m4-73h0m0 16h0m0 14h0m5-12h0m5-4h0m9 25h0m10 25h0m5-35h0m0 20h0m0-31h0m5 15h0m5 25h0m5-58h0m0 56h0m0-21h0m9 0h0m5-9h0m67-409h0m0 5h0m5-3h0m0 5h0m0 11h0m5-8h0m0 6h0m0 40h0m1 5h0m-1 6h0m5-59h0m0 77h0m0-72h0m0 46h0m0 5h0m0 6h0m0 4h0m0 6h0m4-11h0m0 11h0m1-67h0m0 51h0m0 10h0m0 11h0m4 1h0m1-6h0m4-33h0m0 10h0m0 16h0m0 9h0m1-46h0m-1 15h0m0 10h0m0 17h0m6-19h0m0 11h0m-1 16h0"/>
<path stroke="#0030ff" d="M670 695h0m0 5h0m0 6h0m5-10h0m0 5h0m0 5h0m5-14h0m0 4h0m-1 6h0m1 5h0m4-10h0m0 5h0m0 6h0m5-11h0m0 6h0m0 4h0m14-2h0m0 5h0m5-14h0m0 5h0m0 6h0m5-13h0m0 5h0m0 5h0m39 124h0m4-11h0m0 6h0m5-7h0m0 5h0m33 26h0m0 6h0m0 4h0m5-13h0m0 5h0m0 6h0m0 4h0m5-10h0m-1 6h0m1 4h0m4-14h0m1 6h0m154-157h0m-1 10h0m5-20h0m0 15h0m0 6h0m5-14h0m0 4h0m0 6h0m44-43h0m4-10h0m0 5h0m0 5h0m5-21h0m0 4h0m0 6h0m0 4h0m0 11h0m6-28h0m-1 5h0m0 5h0m0 6h0m0 5h0m0 4h0m0 6h0m4-31h0m1 5h0m0 5h0m-1 6h0m1 4h0m4-10h0m1 4h0m5-2h0m9 58h0m0 5h0m0 5h0m5-17h0m0 11h0m0 4h0m5-17h0m0 6h0m4-6h0m92 169h0m0 4h0m5-11h0m0 5h0m5-5h0m0 6h0m0 5h0m4-7h0m1 5h0m4-5h0m386 39h0m5-8h0m0 11h0m0 5h0m0 36h0m5-63h0m0 5h0m0 15h0m0 5h0m0 5h0m0 6h0m0 15h0m0 10h0m0 16h0m5-73h0m0 11h0m0 4h0m0 6h0m0 25h0m0 11h0m-1 5h0m1 16h0m4-79h0m1 4h0m0 10h0m-1 6h0m0 35h0m1 11h0m0 5h0m4-39h0m1 30h0m-1 6h0m0 5h0m5-74h0m0 9h0m0 6h0m0 10h0m0 20h0m0 11h0m1 20h0m4-68h0m0 5h0m0 26h0m1 5h0m0 10h0m-1 5h0m0 10h0m5-66h0m0 6h0m0 5h0m0 20h0m0 6h0m-1 15h0m1 20h0m0 5h0m4-64h0m1 6h0m-1 14h0m1 20h0m-1 6h0m1 5h0m5-60h0m-1 6h0m0 5h0m1 5h0m0 11h0m0 4h0m0 31h0m0 5h0m0 5h0m-1 5h0m6-84h0m-1 5h0m0 5h0m1 6h0m-1 4h0m1 16h0m-1 5h0m0 30h0m0 5h0m5-78h0m1 5h0m-1 5h0m0 5h0m0 5h0m1 21h0m-1 5h0m0 5h0m0 10h0m1-35h0m0 51h0m4-77h0m0 5h0m0 5h0m0 5h0m0 25h0m0-20h0m4-16h0m1 5h0m0 10h0m0 6h0m0 40h0m0 5h0m0 6h0m0 10h0m4-67h0m0 11h0m1 14h0m-1 26h0m1-62h0m0 51h0m4-58h0m0 11h0m0 5h0m0 31h0m1 5h0m0 15h0m0-46h0m4-138h0m0 118h0m0 4h0m0 6h0m1 10h0m0 26h0m0 15h0m0 5h0m4-67h0m0 11h0m0 9h0m0 16h0m0 15h0m5-43h0m0 4h0m0 5h0m0 11h0m0 21h0m0-27h0m0 31h0m77-429h0m10 18h0m0 40h0m4 109h0m1-97h0m5-4h0m0 72h0m0 20h0m4-23h0m0 46h0m5-29h0m0-20h0m0 168h0m4-155h0m6 26h0m4-9h0m0-31h0m1 25h0m4 5h0m5-12h0m5-14h0m686 328h0m0 5h0m0 5h0m0-15h0m5 8h0m0-5h0m0 10h0m4-12h0m1 5h0m0 4h0m4 0h0m0 5h0m1-15h0m0 5h0m4-2h0m0 10h0m0-6h0"/>
<path stroke="#0040ff" d="M427 709h0m5-2h0m0 5h0m5-9h0m-1 5h0m1 5h0m5-14h0m0 5h0m-1 5h0m5-8h0m19 90h0m1 5h0m-1 4h0m5-14h0m0 5h0m0 5h0m1 5h0m4-99h0m0 5h0m0 77h0m1 5h0m-1 4h0m1 6h0m4-105h0m1 5h0m-1 5h0m0 10h0m0 72h0m0 4h0m0 5h0m0 6h0m5-109h0m0 4h0m0 6h0m0 5h0m0 4h0m0 6h0m0 77h0m0 5h0m4-105h0m1 6h0m-1 4h0m1 5h0m-1 5h0m1 6h0m4-22h0m0 6h0m0 5h0m1 4h0m5-11h0m43-4h0m0 6h0m0 5h0m0 5h0m5-20h0m0 5h0m-1 5h0m1 6h0m0 5h0m5-19h0m-1 5h0m1 6h0m-1 5h0m6-14h0m-1 4h0m0 6h0m15 100h0m5-6h0m0 5h0m-1 5h0m5-9h0m1 4h0m0 6h0m0 5h0m5-20h0m-1 6h0m0 5h0m0 5h0m6-14h0m-1 10h0m0 5h0m0 5h0m5 3h0m0 5h0m0-10h0m5 0h0m0 4h0m0 6h0m0 5h0m4-13h0m1 5h0m0 5h0m4-140h0m0 5h0m1 5h0m0 5h0m-1 123h0m0 5h0m1-10h0m4-132h0m0 6h0m1 10h0m0-5h0m4-9h0m0 4h0m0 11h0m0 97h0m0 5h0m0-107h0m5-3h0m0 101h0m0 6h0m0 4h0m1-118h0m-1 11h0m5-8h0m0 4h0m-1 6h0m1 96h0m0 15h0m0-9h0m0 4h0m4-3h0m1 5h0m-1 5h0m1-15h0m4 7h0m0 5h0m0 6h0m5-13h0m0 10h0m0-6h0m1 11h0m63-16h0m0 6h0m0 4h0m0 6h0m5-18h0m0 10h0m0 6h0m0 4h0m20 14h0m-1 5h0m0 6h0m5-9h0m39 9h0m-1 5h0m5-68h0m0 4h0m0 52h0m0 4h0m0 5h0m0 6h0m0 4h0m0 6h0m0 5h0m5-85h0m0 5h0m0 5h0m-1 46h0m1 6h0m-1 5h0m1 4h0m0 5h0m0 5h0m-1 6h0m5-90h0m1 5h0m-1 5h0m0 5h0m0 41h0m0 5h0m1 5h0m-1 5h0m1 5h0m0 11h0m4-86h0m1 4h0m0 6h0m-1 4h0m0 22h0m0 4h0m0 6h0m0 5h0m0 4h0m0 20h0m0 5h0m1 6h0m4-85h0m0 5h0m0 26h0m0 4h0m0 11h0m0 5h0m0 25h0m0 5h0m0 6h0m5-51h0m0 4h0m-1 5h0m0 5h0m5-8h0m1 5h0m0 5h0m4-9h0m42-219h0m-1 5h0m5-5h0m0 4h0m0 6h0m0 5h0m0 5h0m5-18h0m0 4h0m0 6h0m0 6h0m0 4h0m0 5h0m0 159h0m0 9h0m0 5h0m0 6h0m4-202h0m0 5h0m1 5h0m-1 5h0m1 168h0m-1 5h0m1 5h0m-1 6h0m1 5h0m0 4h0m0 5h0m-1 6h0m5-211h0m0 6h0m0 173h0m1 4h0m-1 6h0m1 5h0m-1 6h0m1 4h0m-1 6h0m5-28h0m0 5h0m0 5h0m0 11h0m0 5h0m0 5h0m0 5h0m0 5h0m4-37h0m0 21h0m0 5h0m1 5h0m0 4h0m0 6h0m4-18h0m0 5h0m1 4h0m0 5h0m5-5h0m9-181h0m4-4h0m1 6h0m0 5h0m4-11h0m0 4h0m0 6h0m0 4h0m5-17h0m0 5h0m0 6h0m0 4h0m76-46h0m4 0h0m0 11h0m0 5h0m0 25h0m0 5h0m5-46h0m0 5h0m0 6h0m0 4h0m1 16h0m-1 4h0m0 11h0m5-47h0m0 5h0m0 5h0m0 21h0m0 10h0m-1 5h0m6-47h0m0 5h0m0 5h0m0 25h0m0 5h0m5-34h0m14 74h0m0 5h0m5-11h0m0 5h0m0 10h0m4-15h0m1 4h0m0 5h0m0 6h0m5-18h0m0 5h0m-1 5h0m0 10h0m5-7h0m15 102h0m0 6h0m0 5h0m0 4h0m5-15h0m0 5h0m-1 6h0m0 4h0m6-6h0m4-2h0m1 36h0m-1 6h0m5-15h0m1 6h0m-1 5h0m0 6h0m5-15h0m0 6h0m0 5h0m0 4h0m4-18h0m1 5h0m-1 5h0m1 5h0m5-38h0m-1 5h0m0 4h0m1 12h0m-1 5h0m1 4h0m-1 6h0m1 4h0m0-25h0m5-13h0m-1 5h0m0 10h0m0 11h0m0 5h0m1-21h0m0 11h0m4-18h0m0 5h0m0 5h0m0 6h0m0 5h0m5-13h0m0 4h0m0 6h0m5-8h0m0 4h0m34-251h0m4-7h0m1 10h0m-1 265h0m0 10h0m1-280h0m0 276h0m4-276h0m0 5h0m0 244h0m0 11h0m0 5h0m0 5h0m0 6h0m1-282h0m-1 261h0m5-261h0m0 10h0m0 245h0m0 5h0m0 5h0m1-260h0m-1 266h0m0 5h0m5-21h0m-1 5h0m0 4h0m1 6h0m0-260h0m0 239h0m5 25h0m-1 4h0m1-25h0m0 6h0m0 4h0m5-14h0m0 5h0m0 10h0m0 10h0m-1 6h0m1-20h0m4 12h0m0 6h0m1-25h0m0 4h0m0 6h0m0 4h0m4 7h0m0-15h0m0 5h0m0 5h0m1 10h0m4-7h0m0-20h0m0 5h0m0 5h0m0 4h0m4-16h0m1 4h0m-1 5h0m1 5h0m-1 5h0m1-25h0m0 31h0m0 5h0m4-22h0m0 4h0m0 20h0m1-35h0m0 5h0m5-4h0m-1 5h0m1 6h0m4-8h0m10-3h0m4 1h0m1-6h0m0 11h0m0 21h0m0 4h0m4-29h0m0 25h0m0 10h0m1-45h0m0 4h0m0 36h0m4-24h0m0 11h0m0 15h0m1-36h0m0 5h0m0 11h0m0 10h0m0 5h0m4-3h0m0 6h0m0-36h0m0 6h0m0 9h0m0 6h0m1 20h0m4-12h0m0-31h0m1 5h0m-1 10h0m0 6h0m0 5h0m0 10h0m1 5h0m3-36h0m0 9h0m1 31h0m-1 10h0m1-56h0m0 11h0m0 10h0m0 5h0m0 5h0m0 5h0m0 15h0m0 11h0m4-32h0m1-26h0m0 6h0m-1 5h0m1 5h0m0 5h0m0 10h0m-1 16h0m1 5h0m4-55h0m0 15h0m0 5h0m0-15h0m0 5h0m1 15h0m-1 6h0m1 19h0m0 6h0m4-6h0m1-46h0m-1 5h0m1 5h0m-1 6h0m1 10h0m4-24h0m1 9h0m4-8h0m0 5h0m4-10h0m0 6h0m1 5h0m0 5h0m5-9h0m0 6h0m0 5h0m4-2h0m1-5h0m5-19h0m-1 6h0m0 4h0m0 6h0m5-4h0m5-3h0m5-7h0m0 5h0m29 41h0m0 4h0m0 6h0m0 5h0m5-34h0m0 4h0m-1 6h0m0 5h0m1 5h0m-1 6h0m1 4h0m-1 6h0m6-40h0m0 5h0m0 6h0m-1 10h0m0 5h0m0 5h0m0 5h0m0 6h0m5-43h0m0 5h0m0 6h0m0 4h0m0 6h0m0 5h0m0 5h0m0 5h0m0 5h0m1 6h0m4-17h0m0 4h0m0 5h0m0 5h0m0 6h0m5-22h0m0 5h0m0 9h0m-1 6h0m6-20h0m-1 5h0m1 5h0m0 5h0m0 6h0m0 5h0m4-44h0m0 6h0m1 5h0m0 15h0m4-30h0m0 11h0m1 5h0m4-18h0m1 5h0m-1 5h0m0 5h0m5-10h0m0 5h0m0 5h0m0 4h0m5-8h0m-1 9h0m1 6h0m-1 4h0m6-17h0m0 11h0m-1 4h0m0 5h0m6-16h0m-1 5h0m0 5h0m0 5h0m6-16h0m-1 5h0m0 5h0m0 5h0m159 44h0m6 12h0m4-37h0m5 0h0m5 44h0m4-44h0m0 45h0m0 31h0m5 2h0m5-165h0m0 46h0m0 5h0m1 25h0m-1 6h0m0 15h0m0 71h0m5-142h0m0 5h0m0 11h0m0 10h0m5-104h0m0 45h0m-1 20h0m1 21h0m0 5h0m0 10h0m-1 5h0m1 5h0m0 15h0m0 6h0m-1 5h0m6-141h0m-1 26h0m1 10h0m0 9h0m0 32h0m4-75h0m1 11h0m0 4h0m-1 26h0m6 34h0m-1 5h0m0 20h0m0 21h0m0 45h0m1-40h0m4-108h0m0 11h0m0 46h0m0 30h0m0 6h0m0 107h0m5-164h0m0 66h0m0-102h0m5-1h0m-1 52h0m0 51h0m1 4h0m0 21h0m-1 66h0m1-168h0m5 53h0m-1 26h0m1 6h0m4-82h0m0 5h0m0 11h0m0 34h0m0 6h0m0 10h0m1 46h0m-1 25h0m1-117h0m4-31h0m0 52h0m0 5h0m0-31h0m0 96h0m5-145h0m0 41h0m0 25h0m0 47h0m0 70h0m0-168h0m4-2h0m1 21h0m0 10h0m0 31h0m0 31h0m0-57h0m0 52h0m0 41h0m0 9h0m5-119h0m-1 5h0m1 5h0m-1 30h0m1 26h0m-1 5h0m0 11h0m0 14h0m0 20h0m0 11h0m1-81h0m4-39h0m0 46h0m0 11h0m1-51h0m0 10h0m0 20h0m0 6h0m0 61h0m4-94h0m48-285h0m15 24h0m9 88h0m0 4h0m0 6h0m0 5h0m1-123h0m-1 26h0m1 102h0m0 5h0m0 6h0m0 10h0m4-9h0m0 117h0m1-137h0m0 5h0m0 5h0m0 20h0m-1 113h0m0 9h0m1 6h0m-1 4h0m0 6h0m5-156h0m0 118h0m0 25h0m0 5h0m1-153h0m-1 11h0m0 9h0m1 6h0m-1 102h0m5-131h0m0 15h0m0 15h0m0 103h0m0-123h0m0 16h0m0 10h0m0 87h0m1 5h0m-1 10h0m0 5h0m5-150h0m0 20h0m0 5h0m0 5h0m0 10h0m0 88h0m0 4h0m0 11h0m0 4h0m0 6h0m0 4h0m4-151h0m0 127h0m0-117h0m1 10h0m0 102h0m0 11h0m0 5h0m0 4h0m4 6h0m1-158h0m-1 133h0m0 5h0m1 10h0m-1 4h0m5-143h0m0 148h0m0-137h0m0 21h0m5-37h0m0 15h0m1 5h0m4-14h0m670 348h0m5-8h0m-1 5h0m13 2h0m37-498h0m0 6h0m0 5h0m5-15h0m-1 5h0m0 5h0m0 4h0m1 6h0m4-30h0m0 5h0m0 5h0m0 4h0m0 6h0m0 5h0m5-23h0m0 6h0m0 4h0m0 5h0m5-14h0m0 6h0m4-7h0m0 4h0m5-6h0m0 6h0m0 4h0m0 5h0m0 5h0m5-14h0m-1 10h0"/>
<path stroke="#0050ff" d="M403 694h0m-1 111h0m1 6h0m-1 5h0m1 5h0m5-125h0m0 5h0m-1 102h0m1 5h0m0 6h0m0 5h0m-1 5h0m6-129h0m-1 6h0m1 4h0m-1 98h0m0 10h0m0 10h0m5-128h0m0 4h0m0 6h0m0 25h0m1 5h0m-1 5h0m0 36h0m0 5h0m1 6h0m-1 5h0m1 14h0m-1 6h0m0 5h0m0 5h0m5-127h0m0 5h0m0 5h0m0 6h0m0 20h0m0 5h0m0 5h0m0 5h0m0 5h0m0 20h0m0 6h0m0 4h0m0 6h0m0 11h0m0 4h0m0 5h0m0 5h0m0 5h0m0 10h0m5-133h0m0 5h0m0 5h0m0 31h0m-1 5h0m1 5h0m0 4h0m0 21h0m0 6h0m0 4h0m0 6h0m0 4h0m-1 5h0m1 6h0m0 15h0m0 5h0m0 6h0m5-136h0m0 6h0m0 4h0m0 77h0m0 6h0m0 4h0m0 6h0m0 25h0m0 5h0m0 5h0m0 5h0m5-136h0m0 123h0m0 5h0m0 5h0m-1 5h0m0 5h0m6-15h0m-1 4h0m1 6h0m0 6h0m4-146h0m1 106h0m-1 10h0m0 6h0m0 4h0m0 6h0m0 5h0m0 6h0m5-148h0m0 5h0m0 6h0m0 97h0m0 5h0m0 5h0m0 5h0m0 5h0m0 10h0m0 6h0m5-139h0m0 5h0m0 5h0m0 87h0m0 5h0m0 5h0m0 5h0m0 11h0m5-122h0m0 4h0m0 92h0m-1 5h0m1 5h0m-1 5h0m1 6h0m-1 5h0m6-120h0m0 5h0m0 5h0m0 97h0m0 6h0m0 4h0m0 5h0m5-122h0m-1 5h0m1 6h0m-1 97h0m0 4h0m5 8h0m5-161h0m5-69h0m0 5h0m0 66h0m0 5h0m0 6h0m5-83h0m0 5h0m0 4h0m0 5h0m-1 56h0m1 6h0m0 5h0m0 5h0m5-88h0m0 5h0m0 5h0m-1 5h0m0 56h0m1 5h0m0 6h0m-1 5h0m1 4h0m5-92h0m-1 5h0m1 5h0m0 5h0m0 56h0m-1 10h0m0 5h0m0 5h0m1 31h0m0 5h0m4-126h0m0 4h0m1 5h0m0 62h0m-1 11h0m0 35h0m0 5h0m5-120h0m0 111h0m0 6h0m0 5h0m0 5h0m5-11h0m-1 5h0m1 153h0m-1 6h0m1 9h0m5-173h0m0 5h0m0 153h0m-1 5h0m1 5h0m0 5h0m5-177h0m0 6h0m0 158h0m0 4h0m0 6h0m-1 5h0m5-186h0m0 5h0m0 6h0m0 4h0m5-14h0m1 5h0m-1 6h0m0 4h0m5-14h0m0 5h0m1 5h0m-1 5h0m0 112h0m0 6h0m5-134h0m0 122h0m0 5h0m0 6h0m0 4h0m5-40h0m-1 5h0m1 11h0m0 5h0m-1 5h0m1 5h0m0 5h0m-1 5h0m6-44h0m0 5h0m-1 5h0m1 11h0m0 5h0m0 5h0m0 5h0m-1 5h0m0 5h0m5-45h0m0 6h0m0 4h0m1 10h0m-1 5h0m6-115h0m-1 6h0m0 5h0m0 82h0m1 4h0m-1 5h0m1 6h0m-1 5h0m0 31h0m5-142h0m0 6h0m0 5h0m1 5h0m0 76h0m-1 5h0m0 6h0m0 40h0m0 5h0m5-149h0m0 5h0m0 11h0m0 5h0m0 71h0m0 6h0m0 5h0m0 45h0m0-137h0m0 132h0m5-51h0m0 5h0m0 46h0m5-51h0m0 5h0m-1 46h0m10-145h0m0 6h0m5-3h0m0 4h0m0 5h0m0 83h0m0 5h0m0 9h0m0 6h0m0 35h0m0-153h0m0 108h0m5-108h0m0 5h0m0 5h0m0 5h0m0 76h0m0 10h0m0 6h0m0 5h0m0 31h0m0 4h0m0 5h0m0 5h0m0 98h0m0 4h0m0-163h0m0 21h0m0 148h0m4-262h0m1 4h0m-1 5h0m1 87h0m0 5h0m0 6h0m-1 5h0m1 30h0m0 5h0m0-56h0m0 26h0m0 20h0m0 16h0m0 106h0m4-170h0m1 16h0m-1 9h0m1 6h0m-1 19h0m0 6h0m0 6h0m1 5h0m-1 101h0m1-163h0m0 5h0m0 10h0m4-8h0m1 14h0m-1 6h0m0 10h0m0 128h0m1-148h0m0 15h0m4-9h0m1 5h0m0 5h0m0 5h0m4-9h0m0 6h0m0 5h0m5-10h0m0 6h0m4-29h0m0 26h0m1-128h0m0 5h0m0 5h0m0 87h0m4-100h0m0 5h0m0 5h0m0 5h0m0 82h0m1 15h0m0-10h0m0 5h0m4-109h0m0 4h0m0 6h0m0 5h0m0 82h0m0 9h0m0 6h0m1-10h0m25-109h0m0 4h0m0 123h0m0 5h0m0 5h0m0 5h0m4-150h0m0 5h0m0 4h0m1 5h0m5-15h0m0 6h0m-1 5h0m6-10h0m-1 5h0m1 5h0m-1 5h0m5-15h0m0 5h0m0 5h0m0 6h0m5-11h0m-1 5h0m1 4h0m0 118h0m0 5h0m4-134h0m1 6h0m0 4h0m0 118h0m0 4h0m0 11h0m5-144h0m-1 5h0m0 5h0m1 6h0m-1 117h0m0 4h0m1 6h0m4-141h0m0 5h0m0 5h0m5-2h0m19 8h0m0 5h0m0 5h0m0 5h0m0 108h0m0 4h0m0 5h0m5-130h0m0 4h0m0 5h0m0 5h0m0 107h0m0 6h0m0 5h0m0 5h0m1 11h0m-1 4h0m1 6h0m0 4h0m-1 5h0m0 6h0m6-166h0m-1 5h0m0 5h0m0 96h0m0 6h0m0 5h0m0 5h0m0 5h0m1 5h0m-1 5h0m0 6h0m0 4h0m0 6h0m0 4h0m1 6h0m-1 5h0m0 4h0m5-65h0m0 4h0m0 11h0m0 5h0m0 4h0m0 6h0m0 5h0m-1 5h0m0 5h0m1 5h0m0 6h0m0 4h0m5-61h0m-1 5h0m1 6h0m-1 10h0m1 10h0m0 5h0m0 11h0m-1 4h0m1 6h0m-1 4h0m5-60h0m0 15h0m0 5h0m1 5h0m0 6h0m0 4h0m-1 5h0m0 6h0m0 4h0m1 6h0m4-175h0m0 5h0m0 5h0m0 6h0m0 101h0m0 16h0m0 5h0m0 5h0m0 5h0m0 4h0m0 6h0m0 4h0m0 6h0m0 5h0m5-173h0m0 5h0m-1 4h0m1 6h0m0 96h0m0 5h0m0 6h0m0 4h0m0 6h0m0 5h0m0 5h0m0 5h0m0 6h0m0 5h0m-1 4h0m1 5h0m0 6h0m4-176h0m0 6h0m1 4h0m0 6h0m-1 91h0m0 5h0m1 5h0m0 6h0m0 5h0m0 5h0m-1 5h0m1 5h0m0 5h0m0 6h0m-1 4h0m1 5h0m0 6h0m0 5h0m4-173h0m1 5h0m-1 5h0m1 92h0m-1 5h0m0 6h0m0 5h0m0 5h0m1 10h0m-1 5h0m1 5h0m-1 5h0m0 21h0m1 4h0m4-169h0m0 102h0m0 4h0m0 6h0m0 5h0m0 5h0m0 6h0m0 4h0m0 6h0m0 5h0m5-24h0m0 4h0m0 6h0m0 5h0m0 5h0m0 4h0m5-32h0m-1 5h0m1 4h0m-1 5h0m1 6h0m0 5h0m4-137h0m0 5h0m0 5h0m0 5h0m0 5h0m0 92h0m0 5h0m0 5h0m5-116h0m0 5h0m0 5h0m0 6h0m5-11h0m-1 6h0m1 4h0m4-3h0m46-50h0m0 5h0m1 5h0m4-16h0m0 5h0m0 5h0m0 6h0m5-28h0m0 5h0m0 5h0m0 5h0m-1 5h0m1 5h0m-1 5h0m5-38h0m1 3h0m4-6h0m0 6h0m0 5h0m5-17h0m0 4h0m0 5h0m0 5h0m0 6h0m5-21h0m0 5h0m0 5h0m0 5h0m-1 5h0m1 30h0m5-59h0m0 5h0m0 5h0m-1 5h0m0 5h0m1 5h0m0 6h0m0 20h0m0 5h0m-1 5h0m5-63h0m0 6h0m0 5h0m0 6h0m0 4h0m1 5h0m-1 21h0m0 4h0m0 6h0m0 6h0m5-61h0m0 5h0m0 5h0m0 5h0m0 6h0m0 4h0m0 20h0m0 6h0m0 5h0m0 5h0m5-64h0m0 5h0m-1 5h0m1 41h0m0 5h0m0 5h0m4-59h0m1 5h0m-1 51h0m5-63h0m1 6h0m-1 5h0m0 5h0m5-17h0m0 5h0m0 5h0m0 4h0m85 20h0m5-6h0m0 6h0m0 5h0m5-12h0m-1 5h0m1 5h0m0 5h0m5-19h0m0 5h0m-1 15h0m5-20h0m0 5h0m0 6h0m44 185h0m0 5h0m-1 4h0m1 6h0m0 5h0m0 11h0m5-31h0m-1 5h0m1 5h0m-1 5h0m1 6h0m-1 4h0m0 6h0m6-38h0m0 5h0m0 5h0m-1 5h0m0 5h0m1 6h0m0 5h0m-1 4h0m5-36h0m0 5h0m0 5h0m1 5h0m0 5h0m4-19h0m0 5h0m0 6h0m1 4h0m4-13h0m0 5h0m0 10h0m5-19h0m-1 5h0m0 6h0m1 4h0m14-16h0m5-4h0m0 6h0m0 4h0m5-8h0m4-5h0m1 5h0m0 5h0m4-12h0m1 10h0m0-5h0m4 3h0m1-6h0m4-236h0m0 266h0m0 5h0m1-10h0m4-263h0m0 6h0m0 6h0m0 249h0m0 10h0m0-15h0m4-251h0m1 4h0m0 250h0m0 10h0m4-262h0m1 255h0m0-6h0m0 10h0m4-271h0m1 260h0m0 10h0m5-285h0m0 10h0m4-1h0m5 15h0m0 4h0m5-1h0m0 51h0m-1 5h0m0 235h0m1-296h0m0 52h0m4-61h0m0 15h0m0 41h0m1 5h0m-1 184h0m1 10h0m-1 46h0m0 5h0m1-301h0m0 5h0m0 56h0m0 5h0m0 240h0m4-307h0m0 9h0m0 57h0m0 188h0m0 51h0m1-254h0m-1 10h0m1 188h0m-1 51h0m1 10h0m4-258h0m0 15h0m0 188h0m0 6h0m0 50h0m1-265h0m0 10h0m0 189h0m4 3h0m0 5h0m9 42h0m1 5h0m4-19h0m0 15h0m0 11h0m1-37h0m-1 6h0m0 10h0m5-2h0m0 10h0m0-21h0m1 26h0m-1 10h0m5-31h0m0 31h0m0-26h0m1 6h0m-1 4h0m0 6h0m0 5h0m5-24h0m0 6h0m-1 19h0m1-14h0m0 4h0m0 6h0m4-9h0m1 5h0m43-27h0m0 5h0m0 5h0m5 2h0m0-15h0m0 5h0m0 5h0m0 20h0m4 1h0m1-26h0m0 5h0m0 5h0m0 5h0m0 5h0m4-13h0m1-25h0m-1 20h0m1 9h0m-1 6h0m1 6h0m-1 5h0m1 5h0m4-12h0m1-42h0m-1 5h0m1 16h0m-1 4h0m1 6h0m-1 5h0m1 10h0m0 5h0m0 5h0m5-39h0m0 5h0m0 5h0m0 6h0m-1 5h0m0 5h0m1 5h0m-1 5h0m6-33h0m-1 5h0m0 10h0m0 5h0m0 5h0m5-4h0m0 6h0m5-12h0m0 5h0m-1 5h0m1 5h0m5-12h0m0 5h0m4-5h0m1 4h0m0 6h0m0 5h0m4-33h0m0 5h0m0 11h0m0 5h0m0 5h0m1 6h0m0 5h0m4-42h0m0 4h0m0 6h0m0 5h0m0 6h0m0 4h0m0 5h0m0 5h0m0 6h0m4-39h0m0 6h0m1 5h0m-1 5h0m1 5h0m0 5h0m-1 6h0m1 4h0m5-34h0m0 5h0m0 5h0m-1 5h0m20-24h0m0 4h0m0 10h0m0 6h0m0 5h0m0 6h0m4-34h0m0 6h0m0 5h0m0 5h0m1 5h0m0 5h0m0 6h0m4-260h0m0 219h0m0 6h0m0 4h0m1 6h0m0 5h0m0 5h0m-1 10h0m1 5h0m4-268h0m0 6h0m0 5h0m1 220h0m-1 4h0m1 6h0m-1 4h0m1 26h0m4-275h0m0 5h0m1 5h0m-1 6h0m1 213h0m-1 11h0m0 5h0m0 30h0m1 5h0m-1 6h0m5-293h0m0 6h0m0 4h0m0 5h0m0 5h0m0 220h0m0 10h0m0 5h0m0 31h0m0 4h0m5-290h0m0 4h0m0 5h0m0 6h0m0 4h0m0 266h0m0 5h0m0 5h0m5-290h0m62 251h0m1 5h0m4-23h0m1 5h0m-1 5h0m0 5h0m1 6h0m4-21h0m1 6h0m-1 5h0m0 5h0m0 5h0m5-18h0m0 5h0m0 5h0m0 5h0m0 6h0m4-22h0m1 6h0m-1 5h0m0 5h0m126-18h0m0 26h0m0 15h0m0 5h0m1 5h0m0 6h0m4-76h0m0 21h0m0 19h0m0 11h0m0 10h0m0 5h0m0 6h0m5-116h0m0 5h0m-1 6h0m1 4h0m0 16h0m-1 4h0m1 11h0m0 31h0m0 15h0m0 21h0m-1 5h0m6-121h0m0 5h0m0 6h0m-1 4h0m0 11h0m1 9h0m0 10h0m0 11h0m0 5h0m0 5h0m0 11h0m0 4h0m0 11h0m0 10h0m0 6h0m0 4h0m-1 6h0m0 4h0m5-119h0m0 15h0m1 10h0m-1 6h0m0 10h0m1 4h0m-1 5h0m0 6h0m0 5h0m1 10h0m-1 10h0m0 5h0m1 5h0m0 5h0m-1 5h0m1 6h0m-1 4h0m0 6h0m0 5h0m5-120h0m0 11h0m0 5h0m0 25h0m0 11h0m1 4h0m-1 21h0m0 5h0m1 5h0m-1 10h0m1-91h0m4-10h0m0 30h0m0 15h0m0 10h0m0 25h0m0 6h0m0 5h0m0 5h0m0 25h0m0-61h0m0 57h0m4-109h0m1 32h0m0 5h0m0 9h0m0 6h0m0 10h0m-1 5h0m0 11h0m1 5h0m0 9h0m0 6h0m0 5h0m0 10h0m0-101h0m0 76h0m5-77h0m-1 25h0m1 5h0m0 21h0m0 5h0m0 10h0m0 5h0m-1 5h0m1 30h0m0-46h0m0 31h0m4-109h0m0 16h0m0 5h0m0 19h0m0 12h0m1 14h0m0 6h0m-1 35h0m1-311h0m0 214h0m0 72h0m0 30h0m4-87h0m1 41h0m-1 5h0m0 6h0m1 10h0m-1 16h0m0 15h0m1 5h0m0-87h0m4-21h0m0 20h0m0 16h0m0 10h0m0 16h0m0 15h0m0 4h0m0 11h0m1-302h0m-1 200h0m0 5h0m0 11h0m0 4h0m1 46h0m4-258h0m0 20h0m0 199h0m0 31h0m0 5h0m0 20h0m0 5h0m0 5h0m0 26h0m0-106h0m0 10h0m0 10h0m0 4h0m0 11h0m0 5h0m5-215h0m-1 86h0m1 102h0m0 5h0m0 11h0m-1 19h0m1 6h0m0 15h0m0 31h0m-1 10h0m1 5h0m0 6h0m0 4h0m0 20h0m0-137h0m0 127h0m4-99h0m1 5h0m-1 5h0m0 5h0m1 6h0m-1 15h0m0 5h0m1 36h0m0 10h0m-1 5h0m1 15h0m0-317h0m0 190h0m0 81h0m0 11h0m0 25h0m4-293h0m0 179h0m0 5h0m1 30h0m0 5h0m-1 21h0m0 15h0m0 5h0m0 21h0m1-82h0m0 10h0m0 41h0m0 20h0m0 6h0m0 9h0m4-104h0m0 21h0m1-27h0m0 11h0m0 5h0m4-82h0m0 10h0m0 41h0m0-76h0m4 1h0m10 28h0m5 10h0m6 28h0m4-88h0m19-143h0m0 4h0m0 11h0m5-17h0m0 5h0m0 11h0m0-21h0m1 15h0m0 11h0m4-24h0m0 10h0m0 5h0m0 16h0m5-11h0m0 11h0m0-21h0m0 6h0m4-19h0m0 36h0m1-26h0m0 11h0m0 4h0m4 221h0m0 10h0m5-110h0m0 103h0m0 15h0m10-5h0m5-97h0m0 112h0m0 6h0m4-158h0m0 5h0m1 20h0m-1 113h0m0 21h0m5-16h0m0 4h0m0 11h0m262 3h0m1 4h0m0 5h0m5-8h0m0 5h0m-1 5h0m404 39h0m0 6h0m0 6h0m1 4h0m4-16h0m0 4h0m0 5h0m0 6h0m4-16h0m0 5h0m0 6h0m4-14h0m1 5h0m0 5h0m12 120h0m-1 5h0m0 5h0m5-135h0m0 6h0m0 122h0m0 10h0m0-148h0m0 5h0m0 138h0m4-145h0m0 10h0m1-5h0m0 10h0m0 128h0m0 4h0m0 6h0m4-148h0m0 5h0m5-7h0m0 30h0m0 4h0m0 5h0m0 5h0m5-7h0m0 10h0m0-5h0m5-7h0m0 5h0m4 1h0m19-381h0m0 5h0m4-14h0m0 5h0m0 5h0m1 5h0m-1 5h0m5-23h0m0 6h0m0 5h0m1 5h0m0 4h0m0 7h0m9-28h0m0 12h0"/>
<path stroke="#0060ff" d="M403 475h0m0 4h0m0 16h0m0 4h0m0 6h0m0 5h0m-1 189h0m1 5h0m0 26h0m-1 5h0m1 5h0m0 15h0m0 5h0m0 5h0m0 10h0m0 5h0m0 5h0m0 5h0m0 5h0m0 5h0m0 26h0m-1 5h0m1 5h0m-1 6h0m1 4h0m-1 6h0m6-380h0m0 5h0m0 20h0m0 6h0m-1 4h0m0 225h0m1 25h0m-1 6h0m1 5h0m0 5h0m0 5h0m-1 5h0m0 5h0m1 5h0m0 6h0m-1 34h0m0 6h0m1 5h0m0 5h0m0 5h0m5-383h0m-1 5h0m1 305h0m-1 6h0m1 5h0m-1 5h0m1 51h0m-1 5h0m0 98h0m5-481h0m0 5h0m0 5h0m1 367h0m-1 5h0m0 5h0m5-136h0m0 4h0m0 118h0m0 5h0m0 5h0m0 5h0m5-143h0m0 4h0m0 6h0m0 4h0m0 78h0m0 4h0m0 31h0m0 5h0m0 11h0m4-141h0m0 5h0m1 5h0m0 71h0m0 6h0m-1 5h0m1 5h0m0 25h0m0 5h0m0 5h0m5-222h0m0 5h0m0 5h0m-1 82h0m1 5h0m-1 5h0m1 61h0m-1 6h0m1 4h0m-1 11h0m1 5h0m4-195h0m0 6h0m0 5h0m0 6h0m0 152h0m0 5h0m1 5h0m-1 6h0m1 5h0m0 5h0m5-324h0m-1 5h0m0 122h0m0 5h0m0 5h0m1 5h0m-1 154h0m0 4h0m0 6h0m5-311h0m0 5h0m0 6h0m1 91h0m-1 37h0m0 4h0m1 5h0m-1 153h0m0 5h0m4-311h0m1 5h0m0 5h0m0 10h0m0 87h0m0 6h0m0 4h0m0 87h0m0 5h0m0 97h0m0 41h0m-1 5h0m6-352h0m0 5h0m0 6h0m0 5h0m0 4h0m-1 82h0m1 5h0m-1 5h0m1 6h0m0 5h0m0 72h0m-1 4h0m1 5h0m0 5h0m0 133h0m0 5h0m4-345h0m1 11h0m0 5h0m0 87h0m-1 5h0m0 4h0m1 87h0m0 5h0m-1 6h0m1 132h0m0 6h0m4-240h0m0 87h0m0 5h0m0 5h0m0 5h0m0 128h0m0 5h0m0 5h0m1 5h0m0 5h0m0 5h0m-1 87h0m1 4h0m4-252h0m1 6h0m0 5h0m0 76h0m-1 52h0m0 10h0m0 5h0m1 5h0m-1 4h0m1 6h0m-1 76h0m0 6h0m1 5h0m4-171h0m0 5h0m0 4h0m1 41h0m-1 6h0m0 4h0m1 6h0m-1 9h0m0 6h0m1 5h0m-1 77h0m0 10h0m0 5h0m5-375h0m0 5h0m0 189h0m0 4h0m0 6h0m0 5h0m0 6h0m0 35h0m0 5h0m0 5h0m0 5h0m0 5h0m0 5h0m0 6h0m0 4h0m0 72h0m0 5h0m0 6h0m5-406h0m0 5h0m0 5h0m0 26h0m0 5h0m-1 179h0m1 5h0m0 5h0m0 10h0m0 5h0m0 5h0m0 5h0m0 5h0m0 30h0m0 6h0m0 10h0m0 6h0m0 86h0m0 5h0m4-404h0m1 5h0m0 5h0m0 5h0m-1 21h0m0 5h0m1 5h0m0 173h0m0 5h0m-1 5h0m1 15h0m-1 6h0m0 4h0m0 6h0m0 5h0m0 31h0m1 10h0m0 5h0m0 5h0m0 5h0m-1 5h0m6-328h0m-1 6h0m0 4h0m1 6h0m-1 25h0m1 5h0m-1 178h0m1 6h0m-1 20h0m0 5h0m1 5h0m-1 5h0m0 36h0m0 5h0m1 5h0m-1 5h0m1 5h0m0 6h0m0 5h0m-1 5h0m0 5h0m5-341h0m0 6h0m0 5h0m1 30h0m0 5h0m0 174h0m-1 30h0m1 6h0m-1 5h0m0 5h0m0 31h0m0 4h0m0 5h0m1 6h0m-1 5h0m0 4h0m1 11h0m-1 15h0m5-344h0m0 198h0m0 6h0m0 5h0m0 4h0m1 88h0m-1 4h0m0 26h0m0 5h0m1 5h0m3-158h0m1 4h0m0 5h0m0 6h0m0 5h0m0 5h0m0 5h0m0 77h0m0 5h0m5-114h0m0 6h0m-1 5h0m1 6h0m0 4h0m0 5h0m0 5h0m0 5h0m-1 72h0m1 10h0m0 5h0m0 16h0m4-121h0m1 5h0m-1 5h0m0 5h0m1 46h0m-1 31h0m0 10h0m0 5h0m1 10h0m-1 5h0m5-118h0m0 5h0m1 5h0m0 40h0m0 6h0m-1 5h0m1 4h0m-1 11h0m1 5h0m-1 5h0m0 6h0m0 5h0m1 10h0m-1 5h0m1 5h0m4-178h0m0 5h0m0 6h0m0 96h0m1 5h0m0 6h0m0 5h0m-1 4h0m0 5h0m0 6h0m1 5h0m-1 5h0m1 5h0m-1 5h0m0 5h0m1 5h0m-1 6h0m1 5h0m4-183h0m0 4h0m0 5h0m0 5h0m0 98h0m0 5h0m0 5h0m0 5h0m1 5h0m-1 10h0m0 16h0m0 9h0m0 5h0m0 6h0m0 4h0m0 77h0m0 6h0m0 5h0m5-338h0m0 5h0m0 61h0m0 5h0m0 5h0m-1 6h0m1 102h0m0 5h0m0 4h0m0 6h0m0 5h0m0 30h0m0 6h0m0 5h0m0 5h0m0 81h0m0 6h0m0 5h0m5-489h0m0 147h0m0 6h0m0 4h0m0 10h0m-1 6h0m1 46h0m0 5h0m0 5h0m0 148h0m0 5h0m0 6h0m0 4h0m0 5h0m0 82h0m5-482h0m0 5h0m0 5h0m-1 138h0m0 5h0m1 5h0m-1 5h0m0 5h0m0 5h0m1 6h0m-1 203h0m1 5h0m0 6h0m0 5h0m-1 81h0m5-483h0m1 4h0m0 6h0m-1 4h0m1 52h0m0 4h0m0 6h0m-1 77h0m1 4h0m-1 5h0m0 15h0m0 6h0m0 5h0m1 138h0m0 4h0m-1 41h0m1 5h0m0 10h0m-1 6h0m0 6h0m1 4h0m4-339h0m0 5h0m1 5h0m-1 6h0m0 76h0m1 6h0m-1 20h0m0 5h0m0 5h0m0 128h0m0 5h0m0 4h0m1 5h0m-1 31h0m0 5h0m0 5h0m0 26h0m0 97h0m0 10h0m5-442h0m0 6h0m0 4h0m0 5h0m0 77h0m0 81h0m0 5h0m0 77h0m0 5h0m0 5h0m0 5h0m0 26h0m0 5h0m0 5h0m0 5h0m0 118h0m0 5h0m0 4h0m5-434h0m0 5h0m0 153h0m0 6h0m-1 4h0m1 5h0m0 36h0m0 41h0m0 5h0m0 5h0m-1 5h0m1 26h0m-1 5h0m1 5h0m-1 137h0m1-5h0m5-424h0m0 154h0m0 5h0m0 4h0m0 6h0m0 5h0m0 5h0m0 5h0m0 5h0m0 6h0m-1 4h0m1 41h0m0 5h0m-1 5h0m1 5h0m0 31h0m-1 5h0m1 133h0m0-428h0m4 0h0m0 4h0m1 6h0m0 10h0m0 87h0m0 51h0m0 5h0m-1 5h0m0 5h0m1 11h0m-1 4h0m1 5h0m0 5h0m-1 6h0m1 20h0m0 6h0m0 65h0m-1 10h0m1 6h0m-1 118h0m1-414h0m0 164h0m4-178h0m0 5h0m0 10h0m0 6h0m0 75h0m1 6h0m-1 72h0m1 5h0m-1 5h0m1 5h0m-1 5h0m0 5h0m0 5h0m0 16h0m1 5h0m-1 5h0m0 5h0m0 66h0m0 10h0m0 5h0m0 112h0m0 6h0m1-424h0m0 97h0m0 189h0m4-290h0m0 6h0m0 10h0m1 71h0m-1 11h0m0 5h0m0 71h0m0 5h0m0 31h0m0 5h0m0 5h0m0 71h0m0 5h0m0 11h0m1 4h0m-1 108h0m0 10h0m1-418h0m0 67h0m0 14h0m0 107h0m0 26h0m0 5h0m4-232h0m0 5h0m0 5h0m0 10h0m0 62h0m0 4h0m0 5h0m0 6h0m0 112h0m0 10h0m0 5h0m0 15h0m0 62h0m0 5h0m0 122h0m0-433h0m0 20h0m1 61h0m0 138h0m-1 16h0m0 193h0m5-434h0m0 5h0m0 5h0m0 6h0m0 4h0m-1 6h0m1 5h0m0 56h0m0 10h0m0 6h0m0 4h0m0 108h0m0 15h0m0 26h0m0 4h0m0-167h0m0 127h0m0 5h0m0 26h0m5-248h0m0 6h0m0 4h0m-1 5h0m1 6h0m0 71h0m-1 5h0m1 112h0m0 5h0m-1 5h0m0 6h0m0 26h0m1 5h0m0 5h0m0-235h0m0 61h0m0 158h0m4-242h0m0 4h0m0 6h0m1 5h0m0 5h0m0 188h0m0 6h0m0 5h0m0 25h0m-1 11h0m1-281h0m0 230h0m0 45h0m4-273h0m0 26h0m0 235h0m1 4h0m0 5h0m0 10h0m-1 52h0m0 4h0m0 6h0m1 5h0m-1 5h0m1-357h0m0 142h0m0 107h0m0 32h0m4-275h0m0 138h0m0 117h0m0 5h0m0 11h0m0 66h0m0 4h0m0 5h0m0 103h0m0 4h0m1-463h0m-1 5h0m1 137h0m0 133h0m0 10h0m-1 56h0m1 21h0m4-361h0m0 11h0m0 127h0m0 5h0m0 5h0m0 118h0m0 76h0m0 5h0m0 5h0m0 5h0m0 113h0m0-464h0m0 254h0m0 199h0m0 5h0m5-467h0m-1 4h0m1 6h0m0 336h0m-1 10h0m1 103h0m0 4h0m0-321h0m0 6h0m0 4h0m0 5h0m0 185h0m0 9h0m4-350h0m0 86h0m1 11h0m0 5h0m0 5h0m-1 51h0m1 189h0m-1 5h0m0 5h0m1 5h0m-1 5h0m0 82h0m1 6h0m0-373h0m0 10h0m0 57h0m0 4h0m4-58h0m1 4h0m-1 5h0m0 266h0m0 75h0m0 6h0m1-342h0m0 245h0m0 5h0m0 5h0m4-7h0m0 86h0m0 5h0m1-81h0m0 87h0m25-405h0m0 5h0m0 291h0m-1 5h0m1 5h0m-1 5h0m0 5h0m1 5h0m0 5h0m5-28h0m-1 4h0m1 5h0m0 6h0m0 5h0m-1 4h0m6-19h0m-1 4h0m0 6h0m0 5h0m0 5h0m5-19h0m0 5h0m0 4h0m0 5h0m0 6h0m5-20h0m0 5h0m0 4h0m0 6h0m0 5h0m5-26h0m-1 5h0m1 5h0m-1 10h0m1 5h0m5-67h0m0 5h0m0 31h0m0 5h0m-1 5h0m1 4h0m0 6h0m-1 5h0m1 5h0m-1 102h0m5-170h0m1 5h0m-1 5h0m0 26h0m0 5h0m0 5h0m0 6h0m1 4h0m-1 6h0m0 5h0m0 5h0m1 97h0m-1 4h0m1 6h0m4-182h0m0 5h0m0 5h0m0 25h0m0 6h0m0 5h0m0 21h0m0 5h0m0 92h0m0 4h0m0 6h0m5-176h0m0 6h0m0 4h0m0 153h0m0 5h0m0 6h0m20-181h0m0 5h0m-1 5h0m1 5h0m-1 5h0m0 5h0m1 6h0m4-137h0m0 5h0m0 5h0m0 6h0m1 40h0m-1 25h0m0 5h0m0 5h0m0 16h0m1 5h0m-1 5h0m1 6h0m-1 5h0m0 4h0m0 5h0m5-141h0m0 6h0m0 5h0m0 5h0m0 31h0m0 5h0m0 5h0m0 25h0m0 5h0m0 5h0m0 5h0m0 5h0m0 6h0m0 5h0m0 5h0m0 5h0m0 6h0m0 4h0m4-132h0m1 4h0m0 6h0m-1 5h0m1 26h0m0 4h0m0 6h0m-1 4h0m1 27h0m0 5h0m0 4h0m-1 5h0m1 16h0m-1 5h0m1 5h0m0 5h0m0 5h0m5-128h0m0 6h0m0 36h0m-1 4h0m1 6h0m-1 25h0m1 6h0m-1 31h0m0 5h0m0 4h0m1 6h0m4-87h0m0 5h0m0 6h0m1 20h0m-1 4h0m1 41h0m-1 5h0m1 6h0m4-58h0m0 5h0m0 5h0m0 46h0m5-56h0m0 4h0m0 5h0m5-6h0m0 5h0m-1 4h0m24 14h0m0 6h0m5-60h0m0 4h0m0 6h0m0 35h0m0 5h0m0 6h0m0 4h0m5-81h0m0 20h0m0 6h0m-1 5h0m1 5h0m0 31h0m-1 4h0m1 5h0m0 6h0m5-86h0m-1 6h0m0 5h0m0 10h0m0 5h0m0 5h0m1 5h0m0 5h0m0 30h0m-1 5h0m0 6h0m5-81h0m0 6h0m0 4h0m1 6h0m0 5h0m-1 5h0m0 5h0m0 40h0m5-69h0m0 5h0m0 5h0m5-7h0m-1 5h0m5-240h0m0 5h0m0 230h0m22-220h0m0 5h0m0 6h0m0 5h0m0 5h0m0 219h0m1 31h0m-1 5h0m1 5h0m0 5h0m-1 21h0m0 50h0m5-355h0m0 4h0m0 5h0m0 6h0m0 214h0m0 5h0m0 5h0m0 26h0m0 5h0m0 5h0m1 5h0m-1 5h0m0 20h0m0 5h0m5-306h0m0 6h0m0 4h0m0 210h0m0 5h0m0 5h0m1 5h0m-1 5h0m0 20h0m0 5h0m0 5h0m0 6h0m0 25h0m0 5h0m0 5h0m4-308h0m1 5h0m0 214h0m-1 5h0m1 5h0m0 5h0m0 6h0m0 24h0m0 6h0m0 4h0m-1 26h0m5-304h0m0 5h0m1 5h0m-1 5h0m1 143h0m-1 5h0m1 5h0m0 6h0m0 5h0m0 5h0m-1 5h0m0 40h0m1 6h0m-1 5h0m0 30h0m0 6h0m0 25h0m1 5h0m5-303h0m-1 6h0m0 5h0m0 4h0m0 144h0m0 5h0m0 5h0m0 5h0m0 5h0m1 5h0m-1 82h0m0 5h0m0 5h0m0 20h0m0 6h0m1 5h0m5-303h0m-1 5h0m0 6h0m0 147h0m0 5h0m0 5h0m0 5h0m0 5h0m0 83h0m0 4h0m0 5h0m0 16h0m0 4h0m0 5h0m0 5h0m0 6h0m5-302h0m0 153h0m0 5h0m-1 5h0m1 6h0m0 4h0m0 113h0m0 4h0m0 6h0m0 5h0m4-147h0m0 6h0m0 4h0m5-15h0m1 4h0m-1 5h0m5-9h0m0 5h0m1 5h0m4-28h0m0 6h0m-1 5h0m1 5h0m0 5h0m0 5h0m5-29h0m0 6h0m0 4h0m0 6h0m-1 5h0m0 5h0m1 97h0m-1 5h0m0 5h0m5-129h0m1 6h0m-1 4h0m0 5h0m0 6h0m0 96h0m0 5h0m0 6h0m5-130h0m0 5h0m0 6h0m0 4h0m0 5h0m0 97h0m0 6h0m0 4h0m0 5h0m0 26h0m18-6h0m0 4h0m4 41h0m0 5h0m5-208h0m0 9h0m0 5h0m1 184h0m-1 5h0m0 5h0m5-201h0m0 10h0m0 184h0m0 5h0m0 4h0m5-206h0m0 6h0m0 4h0m0 184h0m0 5h0m0 6h0m0 5h0m5-209h0m0 6h0m0 188h0m0 5h0m0 5h0m0 5h0m14-213h0m0 5h0m5-7h0m0 5h0m0 10h0m5-16h0m0 4h0m0 6h0m0 4h0m5-10h0m0 5h0m-1 4h0m5-6h0m1 5h0m-1 5h0m34 166h0m5 4h0m0 5h0m0 5h0m5-11h0m0 6h0m0 4h0m0 5h0m0 52h0m0 4h0m5-66h0m0 5h0m0 5h0m0 51h0m0 10h0m0 5h0m4-17h0m0 4h0m1 6h0m0 4h0m-1 6h0m5-43h0m1 6h0m-1 20h0m0 6h0m0 4h0m5-47h0m0 4h0m0 5h0m0 6h0m0 5h0m5-17h0m0 5h0m0 5h0m0 5h0m9-73h0m1 81h0m0 6h0m4-93h0m0 10h0m0 76h0m0 5h0m0 5h0m1 5h0m5-103h0m0 5h0m0 10h0m-1 72h0m0 5h0m1 10h0m4-106h0m0 6h0m0 4h0m1 5h0m-1 5h0m1 72h0m-1 5h0m0 5h0m5-84h0m0 76h0m0 5h0m0 5h0m5-14h0m0 5h0m0 5h0m-1 6h0m6-13h0m-1 4h0m0 6h0m39-308h0m1-5h0m8 2h0m6 84h0m-1 102h0m1-107h0m0 97h0m0 4h0m4-104h0m0 5h0m0 46h0m0 57h0m0 128h0m1-246h0m0 6h0m0 15h0m0 5h0m0 81h0m4-106h0m0 5h0m0 5h0m0 56h0m0 41h0m0 138h0m0 5h0m0 10h0m1-245h0m0 41h0m0 5h0m0 51h0m4-93h0m0 36h0m0 10h0m0 184h0m0 15h0m0-259h0m0 4h0m0 6h0m1 46h0m-1 9h0m0 42h0m0 4h0m0 138h0m0 5h0m5-240h0m0 41h0m0 194h0m0 4h0m0 5h0m0-260h0m0 6h0m0 56h0m0 178h0m4-159h0m0 168h0m0 11h0m1-174h0m0 158h0m0 10h0m4-81h0m0 77h0m0 5h0m1-174h0m0 6h0m0 81h0m0 93h0m4-185h0m0 90h0m0 11h0m1-96h0m0 9h0m0 82h0m-1 56h0m1 6h0m4-290h0m0 153h0m0 66h0m0 66h0m0 11h0m1-292h0m0 138h0m-1 5h0m0 67h0m0 15h0m0 61h0m1 11h0m4-303h0m0 50h0m0 108h0m0 4h0m0 51h0m0 5h0m0 6h0m0 10h0m0 56h0m0 92h0m0-377h0m0 40h0m0 10h0m0 6h0m1 5h0m-1 102h0m0 61h0m0 66h0m0 5h0m4-302h0m1 55h0m0 6h0m0 5h0m0 96h0m0 57h0m0 15h0m0 5h0m-1 66h0m0 72h0m1 6h0m0-378h0m0 5h0m0 4h0m0 37h0m0 107h0m0 10h0m0 55h0m0 6h0m0 15h0m0 47h0m0 5h0m0 4h0m0 87h0m0 5h0m5-232h0m-1 11h0m1 61h0m-1 70h0m0 73h0m1 4h0m-1 6h0m0 5h0m0 19h0m1-407h0m0 5h0m0 5h0m0 5h0m0 41h0m0 5h0m0 102h0m0 82h0m4-238h0m0 51h0m0 71h0m0 5h0m0 26h0m0 76h0m0 10h0m0 154h0m1-236h0m0 41h0m0 26h0m0 11h0m0 133h0m0 10h0m-1 20h0m5-263h0m1-20h0m-1 4h0m1 11h0m-1 66h0m0 5h0m1 51h0m-1 143h0m5-259h0m0 71h0m0 40h0m0-132h0m0 4h0m0 6h0m0 5h0m0 71h0m1 51h0m-1 10h0m0 134h0m5-274h0m0 132h0m0-138h0m0 10h0m0 6h0m0 66h0m0 5h0m0 6h0m0 40h0m0 10h0m0 5h0m4-136h0m1 76h0m0 5h0m0 6h0m0 5h0m0 36h0m0 4h0m0 117h0m4-249h0m0 245h0m0 5h0m1-118h0m4 115h0m0 5h0m15-102h0m5-1h0m0 5h0m0 72h0m0 5h0m0 4h0m4-89h0m1 5h0m-1 5h0m0 66h0m1 6h0m0 5h0m4-83h0m0 66h0m0 6h0m0-77h0m0 61h0m0 5h0m0 16h0m1 4h0m4-24h0m0-56h0m0 5h0m0 56h0m1 5h0m-1 6h0m0 4h0m0 6h0m5-85h0m0 5h0m0 52h0m0 4h0m0 5h0m0 6h0m0 4h0m5-61h0m0 11h0m0 36h0m0 5h0m0 4h0m4-48h0m1 4h0m0 5h0m0 32h0m0 4h0m0 5h0m0 26h0m4-23h0m1-50h0m-1 36h0m0 10h0m0 29h0m6-124h0m-1 86h0m0 5h0m0 6h0m1 5h0m0 4h0m-1 6h0m0 10h0m0 6h0m5-131h0m0 4h0m0 98h0m0 4h0m0 5h0m0 16h0m5-131h0m0 5h0m0 10h0m0 5h0m0 5h0m0 82h0m0 5h0m0 5h0m4-120h0m1 5h0m0 6h0m0 6h0m0 5h0m0 4h0m0 87h0m5-123h0m0 5h0m-1 11h0m1 4h0m-1 6h0m1 4h0m0 5h0m0 41h0m5-87h0m0 5h0m-1 4h0m0 6h0m0 5h0m0 5h0m0 10h0m0 5h0m0 6h0m0 4h0m0 26h0m1 36h0m-1 4h0m0 11h0m5-129h0m0 5h0m1 5h0m-1 5h0m0 5h0m1 5h0m0 5h0m-1 51h0m0 6h0m0 4h0m0 21h0m0 5h0m1 5h0m-1 10h0m5-132h0m0 4h0m0 6h0m0 5h0m0 9h0m0 6h0m0 50h0m0 5h0m1 27h0m-1 5h0m0 4h0m0 5h0m0 5h0m5-129h0m0 5h0m0 5h0m0 67h0m-1 30h0m0 11h0m1 5h0m0 4h0m5-130h0m-1 5h0m1 112h0m-1 5h0m6-126h0m0 10h0m0 5h0m4-18h0m1 5h0m-1 5h0m0 5h0m5-17h0m0 5h0m0 6h0m0 5h0m5 3h0m0 5h0m0 6h0m5-8h0m0 5h0m5-239h0m0 6h0m-1 5h0m1 5h0m0 219h0m5-231h0m-1 4h0m1 21h0m-1 5h0m0 5h0m1 5h0m-1 260h0m0 11h0m5-311h0m0 25h0m0 5h0m0 5h0m0 6h0m0 255h0m0 5h0m0 5h0m0 4h0m5-287h0m0 5h0m0 6h0m1 5h0m-1 255h0m0 5h0m0 5h0m5-276h0m0 5h0m0 6h0m0 208h0m0 5h0m0 6h0m0 40h0m5-60h0m0 6h0m0 4h0m-1 5h0m0 5h0m1 6h0m4-23h0m0 4h0m1 6h0m-1 5h0m1 5h0m-1 5h0m5-26h0m0 5h0m1 5h0m-1 4h0m0 5h0m1 6h0m-1 5h0m5-22h0m0 5h0m0 5h0m0 5h0m0 6h0m1 45h0m0 6h0m5-68h0m-1 5h0m0 4h0m1 6h0m-1 41h0m0 5h0m5-65h0m0 5h0m0 5h0m5-13h0m0 6h0m0 5h0m4-8h0m1 21h0m4-10h0m0 5h0m1 5h0m5-7h0m-1 5h0m0 5h0m0 5h0m5-18h0m0 4h0m0 5h0m0 6h0m0 4h0m4-249h0m1 5h0m-1 230h0m0 4h0m1 6h0m-1 5h0m6-247h0m0 5h0m0 225h0m-1 4h0m1 5h0m5-236h0m0 229h0m0 6h0m29-204h0m-1 5h0m0 6h0m6-13h0m-1 6h0m0 5h0m0 5h0m5-17h0m0 9h0m4-8h0m5-3h0m1 5h0m0 5h0m-1 97h0m1 5h0m0 6h0m0 4h0m5-115h0m0 11h0m0 86h0m-1 5h0m0 6h0m1 4h0m0 6h0m0 36h0m-1 5h0m0 5h0m1 5h0m4-70h0m0 4h0m1 5h0m-1 6h0m0 35h0m1 5h0m-1 6h0m0 5h0m0 5h0m5-13h0m0 5h0m0 6h0m5-2h0m5-151h0m4-1h0m1 5h0m-1 6h0m5-24h0m1 5h0m-1 20h0m0 6h0m6-28h0m-1 10h0m1 5h0m-1 5h0m0 6h0m5-9h0m0 5h0m15 0h0m-1 5h0m1 5h0m0 5h0m0 5h0m4-21h0m0 5h0m0 6h0m0 4h0m5-13h0m1 5h0m-1 5h0m43 162h0m15-30h0m5-185h0m4-5h0m1 5h0m0 127h0m0-122h0m4-99h0m0 16h0m1 4h0m-1 6h0m0 5h0m0 5h0m0 61h0m0 5h0m1 5h0m-1 10h0m1 174h0m0-286h0m0 35h0m0 52h0m4-82h0m0 6h0m0 5h0m0 4h0m1 6h0m-1 5h0m0 61h0m1 5h0m0 6h0m-1 4h0m0 10h0m0 11h0m0 15h0m0 5h0m1-147h0m0 111h0m0 26h0m4-128h0m0 10h0m0 6h0m0 15h0m0 61h0m0 5h0m0 5h0m0 5h0m0 5h0m0 5h0m0 5h0m0 5h0m0 5h0m0 5h0m0 6h0m0 9h0m0 169h0m1-301h0m-1 245h0m5-227h0m0 5h0m0 35h0m0 5h0m0 26h0m0 11h0m0 10h0m-1 4h0m1 6h0m0 25h0m0 138h0m0-286h0m0 143h0m5-130h0m0 5h0m0 12h0m0 4h0m0 10h0m0 21h0m-1 11h0m1 10h0m0 4h0m0 11h0m0 5h0m0 25h0m-1 15h0m1-106h0m0 15h0m0 15h0m0 52h0m0 35h0m4-135h0m0 10h0m0 5h0m0 11h0m1 4h0m-1 26h0m1 5h0m0 5h0m-1 5h0m1 15h0m-1 6h0m0 9h0m0 16h0m0 31h0m1-108h0m0 57h0m0 25h0m4-93h0m0 5h0m0 35h0m0 25h0m0 22h0m0 4h0m1-82h0m0 26h0m0 16h0m0 5h0m0 4h0m0 41h0m0 5h0m4-99h0m0 5h0m0 5h0m0 5h0m0 5h0m0 15h0m0 11h0m0 9h0m0 6h0m0 5h0m0 26h0m0 15h0m0-26h0m1 15h0m0 6h0m-1 10h0m0 5h0m5-102h0m0 20h0m0 15h0m0 5h0m0 21h0m0 10h0m0 25h0m0 11h0m0-102h0m0 5h0m0 55h0m0 27h0m0 40h0m0 4h0m4-38h0m1-91h0m0 5h0m0 25h0m0 5h0m0 6h0m0 20h0m0 10h0m0 10h0m0 5h0m0 11h0m5-89h0m0 25h0m-1 20h0m0 5h0m0 10h0m1 11h0m0 5h0m-1 21h0m1-41h0m0 9h0m0 16h0m0 10h0m0 11h0m0 9h0m0 16h0m4-103h0m0 57h0m0 14h0m0 16h0m0 5h0m1-123h0m0 6h0m0 30h0m0 5h0m0 16h0m0 5h0m0 46h0m0 5h0m4-107h0m0 4h0m0 15h0m0 6h0m0 10h0m0 10h0m0 37h0m0-52h0m1 20h0m0 5h0m0 16h0m-1 16h0m1 15h0m4-43h0m0 21h0m0 15h0m1-92h0m-1 10h0m0 10h0m0 30h0m0 17h0m5-64h0m0 5h0m5-9h0m0 4h0m0 6h0m24-139h0m4-4h0m1 25h0m277 11h0m15 224h0m-1 5h0m0 5h0m5-14h0m0 5h0m0 6h0m0 5h0m5-14h0m-1 5h0m1 4h0m0 5h0m5-13h0m0 5h0m0 5h0m0 5h0m9-10h0m1 5h0m0 5h0m0 5h0m0 6h0m-1 4h0m1 5h0m4-34h0m0 4h0m1 6h0m0 4h0m-1 5h0m0 6h0m5-24h0m0 5h0m0 6h0m4 2h0m56-134h0m0 5h0m320-178h0m0 5h0m0 353h0m0-347h0m1 5h0m0 65h0m-1 6h0m1 5h0m-1 5h0m0 255h0m5-351h0m-1 5h0m0 5h0m1 5h0m-1 5h0m0 5h0m0 36h0m0 15h0m0 6h0m0 5h0m1 4h0m0 6h0m0 77h0m-1 5h0m0 4h0m1 158h0m-1 6h0m0 5h0m1 5h0m-1 25h0m0 5h0m5-389h0m0 5h0m0 5h0m0 6h0m0 5h0m0 5h0m-1 5h0m1 30h0m0 6h0m0 5h0m0 5h0m0 5h0m0 5h0m0 6h0m0 4h0m-1 5h0m1 6h0m0 66h0m0 5h0m-1 4h0m0 159h0m1 5h0m0 5h0m0 5h0m0 25h0m0 6h0m0 6h0m-1 4h0m5-399h0m0 6h0m1 5h0m-1 5h0m1 5h0m0 5h0m-1 6h0m1 5h0m-1 25h0m0 5h0m0 5h0m0 6h0m0 5h0m0 5h0m0 5h0m0 5h0m1 5h0m0 5h0m-1 66h0m0 6h0m0 4h0m0 158h0m1 5h0m-1 6h0m0 5h0m1 21h0m-1 4h0m0 6h0m1 5h0m-1 4h0m0 6h0m5-395h0m0 4h0m-1 5h0m1 5h0m-1 5h0m0 5h0m1 31h0m0 5h0m0 6h0m-1 5h0m1 5h0m0 5h0m0 5h0m-1 5h0m1 5h0m0 67h0m0 4h0m-1 6h0m1 163h0m-1 5h0m1 5h0m0 21h0m-1 5h0m1 4h0m0 6h0m-1 4h0m1 6h0m-1 5h0m12-23h0m1-210h0m-1 174h0m1 5h0m-1 5h0m0 6h0m0 4h0m0 5h0m1 5h0m-1 10h0m1 11h0m0 5h0m-1 5h0m5-68h0m0 52h0m0 14h0m0-71h0m0 11h0m0 5h0m0 25h0m0 5h0m0 5h0m0 11h0m0 4h0m4-63h0m1 5h0m0 5h0m0 36h0m0 5h0m0 5h0m4-62h0m0 5h0m0 11h0m0 41h0m0 65h0m0-111h0m1 9h0m0 108h0m4-131h0m0 6h0m0 5h0m0 4h0m0 6h0m0 30h0m0 77h0m0 5h0m0-10h0m0 15h0m4-125h0m0 5h0m0 25h0m1 5h0m0 72h0m0 5h0m0 5h0m0 5h0m0-132h0m0 5h0m0 30h0m5-53h0m-1 6h0m0 4h0m0 36h0m0 6h0m1 5h0m0 81h0m0 5h0m-1 5h0m1-152h0m0 66h0m0 71h0m5-137h0m0 6h0m-1 5h0m0 4h0m0 37h0m0 5h0m0 4h0m0 72h0m0 5h0m0 5h0m5-145h0m0 6h0m-1 5h0m1 5h0m0 118h0m-1 4h0m1 6h0m4-143h0m1 4h0m0 6h0m0 4h0m0 118h0m-1 5h0m5-133h0m0 5h0m0 6h0m0 112h0m0 6h0"/>
<path stroke="#0070ff" d="M403 530h0m-1 5h0m1 26h0m0 5h0m0 10h0m0 21h0m0 5h0m0 56h0m0 5h0m0 11h0m0 71h0m0 5h0m0 183h0m-1 5h0m1 6h0m-1 4h0m6-415h0m-1 26h0m0 4h0m1 5h0m0 6h0m-1 20h0m0 6h0m1 5h0m-1 56h0m1 4h0m0 72h0m-1 5h0m1 5h0m0 6h0m0 193h0m4-414h0m1 31h0m-1 5h0m1 5h0m0 25h0m-1 5h0m1 5h0m-1 57h0m0 5h0m1 66h0m-1 5h0m0 5h0m1 5h0m-1 77h0m0 5h0m0 5h0m1 30h0m-1 5h0m6-347h0m-1 10h0m0 25h0m1 6h0m0 102h0m0 20h0m-1 57h0m0 4h0m0 82h0m1 6h0m0 4h0m-1 20h0m0 6h0m0 4h0m0 6h0m0 61h0m0 10h0m5-428h0m0 6h0m0 5h0m0 5h0m0 25h0m0 87h0m0 6h0m1 4h0m-1 5h0m1 6h0m-1 5h0m0 10h0m0 5h0m0 148h0m0 25h0m0 6h0m0 4h0m0 6h0m0 56h0m0 16h0m5-456h0m0 26h0m0 5h0m0 5h0m-1 5h0m1 25h0m0 6h0m0 81h0m0 5h0m0 5h0m0 6h0m0 4h0m0 5h0m0 6h0m0 10h0m0 148h0m0 25h0m0 6h0m0 5h0m0 5h0m-1 60h0m1 6h0m0 5h0m5-461h0m0 5h0m0 5h0m0 5h0m0 15h0m-1 5h0m1 5h0m0 5h0m0 26h0m0 6h0m0 5h0m0 5h0m0 4h0m0 6h0m0 5h0m-1 56h0m1 4h0m0 11h0m-1 5h0m1 6h0m0 5h0m0 56h0m-1 5h0m0 5h0m1 5h0m0 5h0m0 4h0m0 6h0m0 5h0m0 87h0m0 5h0m0 6h0m0 4h0m0 67h0m-1 4h0m5-456h0m1 5h0m0 4h0m0 5h0m-1 21h0m0 6h0m0 5h0m0 5h0m1 20h0m0 5h0m-1 5h0m0 5h0m1 5h0m-1 5h0m0 6h0m1 4h0m0 6h0m-1 45h0m0 5h0m1 6h0m0 5h0m0 5h0m-1 6h0m1 4h0m0 61h0m0 6h0m-1 5h0m0 4h0m1 6h0m0 5h0m-1 5h0m1 5h0m0 5h0m-1 5h0m0 6h0m0 61h0m1 5h0m-1 15h0m1 6h0m0 66h0m4-455h0m0 5h0m1 6h0m0 25h0m0 5h0m-1 5h0m0 5h0m1 10h0m-1 31h0m0 5h0m0 5h0m1 6h0m0 4h0m-1 6h0m0 55h0m0 57h0m1 5h0m0 5h0m-1 6h0m1 4h0m0 5h0m0 5h0m0 5h0m-1 6h0m0 5h0m1 5h0m-1 5h0m0 5h0m1 11h0m-1 65h0m0 6h0m1 4h0m-1 6h0m1 66h0m0 5h0m4-462h0m0 5h0m0 5h0m0 35h0m0 6h0m0 5h0m0 6h0m0 4h0m0 5h0m0 26h0m0 5h0m0 5h0m1 5h0m-1 6h0m0 5h0m0 4h0m0 6h0m0 96h0m1 5h0m0 6h0m-1 10h0m0 6h0m0 4h0m0 5h0m1 5h0m-1 6h0m0 5h0m0 9h0m0 5h0m0 6h0m0 5h0m0 62h0m1 4h0m0 5h0m0 6h0m0 5h0m-1 5h0m1 4h0m-1 6h0m1 51h0m0 5h0m4-463h0m0 6h0m0 4h0m1 41h0m-1 5h0m0 6h0m1 4h0m-1 5h0m1 21h0m-1 5h0m0 6h0m1 5h0m-1 5h0m0 9h0m1 6h0m-1 5h0m0 5h0m1 45h0m-1 52h0m0 5h0m0 5h0m1 5h0m-1 5h0m0 5h0m0 6h0m0 5h0m0 5h0m1 5h0m-1 20h0m0 5h0m0 6h0m0 55h0m1 6h0m-1 5h0m0 4h0m0 6h0m0 5h0m0 5h0m0 5h0m0 56h0m0 6h0m0 4h0m5-474h0m0 5h0m0 5h0m0 40h0m0 5h0m0 7h0m-1 4h0m1 6h0m0 15h0m0 4h0m0 5h0m0 6h0m0 5h0m0 5h0m-1 5h0m1 21h0m0 5h0m0 40h0m0 6h0m0 56h0m0 10h0m0 5h0m0 5h0m0 6h0m0 4h0m0 5h0m0 6h0m-1 20h0m1 5h0m0 5h0m0 56h0m0 5h0m0 5h0m0 5h0m0 6h0m0 5h0m0 5h0m0 60h0m0 6h0m0 5h0m0 11h0m5-480h0m0 5h0m0 46h0m0 31h0m0 5h0m0 5h0m0 5h0m0 5h0m0 6h0m0 70h0m0 5h0m0 6h0m0 51h0m-1 4h0m1 6h0m0 5h0m0 4h0m0 7h0m0 4h0m0 6h0m-1 5h0m1 19h0m0 6h0m-1 6h0m1 5h0m0 50h0m0 5h0m-1 6h0m1 5h0m0 5h0m0 5h0m0 4h0m-1 5h0m0 67h0m1 6h0m5-468h0m-1 46h0m0 6h0m1 25h0m-1 6h0m0 5h0m1 4h0m-1 5h0m1 5h0m0 21h0m0 5h0m0 45h0m-1 6h0m1 5h0m0 50h0m0 6h0m0 6h0m-1 4h0m1 10h0m-1 6h0m1 5h0m0 5h0m0 16h0m-1 10h0m0 5h0m1 50h0m0 5h0m0 5h0m-1 11h0m1 5h0m-1 5h0m1 5h0m0 62h0m0 5h0m0 5h0m4-464h0m1 5h0m0 5h0m-1 5h0m1 5h0m0 26h0m-1 4h0m0 6h0m1 10h0m0 10h0m-1 6h0m0 4h0m0 5h0m0 6h0m0 5h0m0 5h0m0 11h0m1 4h0m-1 5h0m0 6h0m0 5h0m1 36h0m0 4h0m0 56h0m0 6h0m0 5h0m0 5h0m-1 45h0m0 6h0m0 82h0m1 5h0m-1 9h0m1 5h0m-1 72h0m0 6h0m6-482h0m-1 4h0m0 5h0m0 6h0m1 5h0m-1 6h0m0 4h0m1 5h0m0 6h0m-1 5h0m0 5h0m0 4h0m1 6h0m-1 4h0m0 6h0m0 5h0m0 5h0m1 5h0m0 10h0m-1 6h0m0 5h0m0 4h0m0 7h0m0 4h0m0 5h0m1 5h0m-1 5h0m1 5h0m-1 21h0m0 5h0m0 6h0m0 4h0m1 21h0m-1 5h0m0 30h0m0 5h0m0 5h0m0 6h0m0 132h0m0 5h0m0 5h0m0 6h0m0 5h0m0 71h0m0 11h0m6-488h0m-1 5h0m0 5h0m0 5h0m0 5h0m0 5h0m0 5h0m0 5h0m0 5h0m0 5h0m0 6h0m1 5h0m0 5h0m-1 5h0m0 5h0m0 5h0m0 5h0m0 6h0m0 4h0m0 6h0m0 5h0m0 4h0m0 5h0m0 6h0m0 5h0m0 5h0m0 5h0m0 5h0m0 5h0m0 21h0m0 5h0m0 5h0m0 5h0m0 25h0m0 6h0m0 4h0m1 32h0m-1 4h0m0 6h0m0 132h0m0 10h0m0 5h0m0 77h0m0 6h0m5-493h0m0 5h0m0 4h0m0 6h0m-1 5h0m1 5h0m0 6h0m0 4h0m0 6h0m0 4h0m0 6h0m0 5h0m0 5h0m0 5h0m0 5h0m0 5h0m0 6h0m0 4h0m0 5h0m-1 6h0m1 5h0m0 15h0m0 15h0m0 21h0m0 15h0m0 5h0m0 6h0m0 5h0m0 25h0m0 5h0m0 5h0m0 36h0m0 5h0m0 229h0m5-486h0m-1 5h0m1 5h0m0 25h0m0 6h0m0 10h0m0 4h0m0 6h0m0 20h0m0 6h0m0 5h0m0 4h0m0 41h0m-1 6h0m1 5h0m0 5h0m-1 56h0m1 5h0m0 5h0m0 36h0m0 5h0m0 5h0m0 5h0m0 6h0m0 4h0m0 112h0m0 6h0m0 5h0m-1 5h0m1 82h0m5-491h0m-1 5h0m0 5h0m1 25h0m0 5h0m0 5h0m0 6h0m0 4h0m-1 5h0m1 26h0m0 5h0m0 46h0m0 5h0m-1 5h0m1 6h0m-1 60h0m1 6h0m-1 5h0m0 41h0m0 5h0m0 6h0m1 4h0m0 20h0m-1 5h0m0 98h0m0 4h0m1 56h0m-1 31h0m6-496h0m-1 6h0m1 4h0m-1 26h0m1 5h0m0 5h0m0 6h0m-1 4h0m1 5h0m-1 26h0m1 4h0m-1 6h0m1 6h0m0 35h0m-1 5h0m1 5h0m0 6h0m-1 60h0m1 6h0m-1 4h0m0 5h0m0 42h0m0 5h0m1 4h0m-1 5h0m1 21h0m-1 6h0m0 157h0m0 6h0m0 5h0m6-479h0m-1 11h0m1 20h0m0 5h0m-1 5h0m1 6h0m0 4h0m-1 5h0m0 5h0m1 31h0m-1 5h0m0 6h0m0 30h0m0 5h0m0 5h0m0 5h0m0 5h0m0 57h0m0 4h0m0 6h0m0 4h0m1 6h0m-1 40h0m0 6h0m1 5h0m-1 20h0m0 6h0m0 86h0m0 71h0m0 6h0m0 5h0m0 5h0m0 4h0m0 6h0m0 5h0m5-492h0m0 4h0m0 5h0m0 5h0m0 6h0m0 4h0m0 5h0m0 5h0m1 6h0m0 5h0m-1 46h0m0 5h0m0 5h0m0 5h0m0 20h0m0 6h0m0 5h0m0 5h0m1 5h0m-1 5h0m1 6h0m-1 4h0m0 6h0m1 4h0m-1 10h0m0 6h0m1 5h0m0 5h0m-1 5h0m0 5h0m0 5h0m0 6h0m0 5h0m0 158h0m0 4h0m0 72h0m0 5h0m0 5h0m0 5h0m1 5h0m-1 6h0m0 5h0m5-490h0m0 5h0m0 5h0m0 5h0m0 5h0m0 4h0m-1 6h0m1 5h0m-1 5h0m1 51h0m0 6h0m-1 4h0m1 20h0m0 6h0m0 5h0m0 5h0m0 6h0m0 4h0m0 5h0m0 6h0m0 4h0m0 6h0m0 15h0m0 6h0m0 4h0m0 6h0m0 4h0m0 5h0m0 6h0m0 5h0m0 5h0m0 152h0m0 6h0m0 6h0m0 60h0m0 6h0m0 4h0m0 5h0m0 6h0m0 4h0m0 6h0m-1 5h0m1 5h0m0 5h0m5-495h0m0 5h0m0 5h0m-1 5h0m0 5h0m1 5h0m0 6h0m0 4h0m0 51h0m0 5h0m0 6h0m0 4h0m0 21h0m0 5h0m0 5h0m0 6h0m0 4h0m-1 6h0m0 5h0m1 5h0m0 5h0m0 25h0m-1 6h0m1 5h0m0 10h0m0 6h0m0 4h0m-1 5h0m1 5h0m0 148h0m0 5h0m0 72h0m-1 5h0m1 4h0m-1 16h0m1 10h0m0 6h0m4-493h0m1 5h0m0 5h0m0 5h0m-1 5h0m0 5h0m0 5h0m1 6h0m-1 4h0m0 5h0m0 10h0m0 6h0m0 5h0m0 15h0m0 6h0m1 4h0m-1 5h0m1 6h0m0 20h0m-1 5h0m0 5h0m1 6h0m-1 9h0m1 5h0m0 6h0m-1 25h0m0 6h0m1 4h0m-1 20h0m0 6h0m0 5h0m1 16h0m-1 9h0m0 5h0m1 6h0m-1 117h0m0 76h0m1 6h0m-1 20h0m1 10h0m4-486h0m0 5h0m1 5h0m0 6h0m-1 5h0m1 5h0m0 5h0m-1 5h0m1 5h0m0 5h0m-1 5h0m1 5h0m0 6h0m-1 4h0m1 6h0m-1 4h0m1 6h0m0 5h0m-1 10h0m1 5h0m0 10h0m0 6h0m0 5h0m0 4h0m-1 6h0m1 5h0m-1 5h0m0 5h0m0 5h0m1 5h0m-1 25h0m0 26h0m1 5h0m-1 26h0m0 5h0m1 6h0m0 5h0m0 5h0m0 127h0m0 5h0m0 5h0m0 10h0m-1 46h0m5-448h0m0 5h0m0 5h0m0 5h0m0 6h0m0 4h0m0 6h0m0 5h0m0 5h0m1 5h0m-1 5h0m0 6h0m0 4h0m1 6h0m-1 4h0m0 5h0m0 20h0m0 6h0m1 5h0m0 5h0m-1 5h0m0 6h0m0 5h0m0 4h0m0 6h0m1 5h0m-1 5h0m1 4h0m0 6h0m-1 77h0m0 5h0m1 4h0m-1 6h0m0 5h0m0 5h0m0 6h0m0 117h0m0 9h0m0 6h0m0 5h0m0 5h0m0 41h0m5-449h0m0 6h0m0 5h0m0 4h0m0 6h0m0 5h0m0 5h0m0 5h0m0 6h0m1 15h0m-1 5h0m0 5h0m1 5h0m-1 5h0m0 21h0m0 4h0m1 5h0m-1 6h0m0 5h0m1 5h0m-1 5h0m0 5h0m0 6h0m0 5h0m0 5h0m1 4h0m-1 6h0m0 76h0m0 6h0m1 4h0m-1 6h0m0 5h0m1 5h0m-1 5h0m0 117h0m0 5h0m0 10h0m0 6h0m0 4h0m5-403h0m0 5h0m0 5h0m0 5h0m0 5h0m0 5h0m0 30h0m0 6h0m0 5h0m0 5h0m0 20h0m0 6h0m0 5h0m0 5h0m0 4h0m0 6h0m0 15h0m0 5h0m0 6h0m0 4h0m0 36h0m0 51h0m0 6h0m0 5h0m0 5h0m0 5h0m0 5h0m0 5h0m0 112h0m0 6h0m0 4h0m-1 6h0m1 4h0m4-386h0m1 4h0m0 5h0m0 6h0m0 36h0m0 5h0m-1 5h0m1 4h0m0 11h0m0 5h0m0 5h0m0 5h0m0 6h0m0 4h0m-1 6h0m1 20h0m0 40h0m0 6h0m-1 4h0m0 46h0m1 6h0m-1 5h0m1 5h0m-1 5h0m1 6h0m0 5h0m0 117h0m0 4h0m-1 5h0m1 27h0m0 4h0m0 5h0m-1 47h0m5-467h0m1 5h0m0 4h0m0 6h0m0 4h0m0 36h0m0 6h0m0 4h0m0 22h0m-1 4h0m1 5h0m0 6h0m-1 5h0m1 60h0m0 6h0m-1 5h0m1 5h0m-1 47h0m1 4h0m0 5h0m0 5h0m-1 6h0m1 4h0m-1 6h0m0 107h0m0 5h0m0 5h0m1 6h0m-1 25h0m0 5h0m1 5h0m-1 4h0m1 37h0m-1 4h0m0 6h0m6-469h0m-1 5h0m0 5h0m1 5h0m0 5h0m0 37h0m-1 4h0m1 5h0m0 21h0m-1 5h0m0 4h0m1 6h0m0 5h0m-1 20h0m1 6h0m0 35h0m-1 6h0m0 4h0m1 57h0m0 5h0m-1 15h0m1 5h0m-1 107h0m0 10h0m0 5h0m0 26h0m0 5h0m0 11h0m0 5h0m1 10h0m0 9h0m0 6h0m-1 16h0m5-503h0m1 5h0m-1 5h0m0 21h0m1 5h0m-1 5h0m0 5h0m1 5h0m-1 36h0m0 5h0m0 5h0m0 25h0m0 5h0m1 5h0m-1 6h0m0 5h0m1 16h0m0 4h0m0 5h0m-1 20h0m0 6h0m0 5h0m0 6h0m1 5h0m-1 4h0m0 57h0m0 4h0m1 122h0m-1 7h0m0 5h0m1 4h0m-1 31h0m1 5h0m-1 5h0m0 5h0m0 5h0m0 5h0m5-472h0m0 5h0m0 5h0m0 5h0m0 15h0m0 6h0m0 5h0m0 56h0m0 30h0m0 5h0m0 5h0m0 6h0m0 5h0m0 15h0m0 5h0m0 6h0m0 4h0m0 6h0m0 5h0m0 5h0m0 5h0m0 198h0m0 6h0m0 5h0m0 5h0m0 51h0m5-460h0m0 5h0m0 5h0m0 5h0m0 5h0m0 5h0m0 5h0m0 6h0m0 92h0m0 5h0m0 5h0m0 5h0m0 30h0m0 5h0m0 5h0m0 5h0m0 5h0m0 6h0m0 76h0m0 117h0m0 10h0m0 57h0m0 5h0m5-464h0m0 4h0m0 5h0m0 6h0m0 5h0m0 5h0m-1 5h0m1 102h0m-1 5h0m0 10h0m1 5h0m0 26h0m0 5h0m0 5h0m0 5h0m0 5h0m0 16h0m0 5h0m0 55h0m0 6h0m0 107h0m0 5h0m-1 10h0m1 5h0m0 20h0m5-427h0m0 4h0m0 6h0m0 5h0m0 5h0m-1 5h0m1 5h0m0 15h0m-1 6h0m0 5h0m1 92h0m0 45h0m0 6h0m0 10h0m0 5h0m-1 5h0m1 56h0m0 5h0m0 5h0m0 26h0m-1 5h0m0 10h0m1 61h0m0 6h0m-1 4h0m1 6h0m0 5h0m0 5h0m-1 4h0m0 6h0m0 56h0m0 10h0m1-336h0m0 4h0m0 164h0m0 107h0m4-427h0m1 5h0m-1 10h0m1 6h0m-1 4h0m1 10h0m0 6h0m0 5h0m-1 102h0m1 5h0m-1 5h0m0 46h0m0 5h0m0 5h0m0 6h0m0 55h0m0 5h0m1 31h0m-1 5h0m0 5h0m0 11h0m1 55h0m0 5h0m0 5h0m-1 5h0m0 6h0m0 5h0m1 5h0m-1 5h0m1 56h0m-1 6h0m1 5h0m0-480h0m0 21h0m0 20h0m0 255h0m0 21h0m0 147h0m4-478h0m0 6h0m0 4h0m0 10h0m0 6h0m0 4h0m0 5h0m1 16h0m-1 5h0m0 102h0m0 46h0m0 6h0m0 4h0m0 46h0m0 10h0m0 10h0m0 31h0m0 5h0m0 5h0m0 5h0m0 5h0m0 5h0m0 73h0m1 4h0m-1 5h0m0 5h0m0 6h0m0 51h0m0 5h0m1-469h0m0 25h0m0 5h0m0 219h0m0 128h0m0 97h0m4-483h0m0 6h0m0 5h0m0 5h0m0 5h0m0 5h0m0 10h0m0 6h0m0 4h0m0 46h0m0 6h0m0 5h0m0 5h0m0 61h0m0 10h0m0 5h0m0 6h0m0 4h0m0 5h0m0 5h0m0 6h0m0 45h0m0 16h0m0 31h0m0 9h0m0 11h0m0 152h0m0 6h0m0 5h0m0 15h0m1-505h0m0 37h0m0 142h0m0 51h0m0 25h0m-1 10h0m0 6h0m1 51h0m0 86h0m0 5h0m-1 6h0m0 5h0m4-428h0m0 5h0m1 10h0m0 5h0m0 10h0m0 10h0m-1 5h0m1 5h0m0 5h0m0 5h0m-1 41h0m1 5h0m0 6h0m0 66h0m0 5h0m0 4h0m0 6h0m0 5h0m0 10h0m-1 6h0m1 4h0m0 10h0m0 5h0m0 27h0m0 4h0m0 6h0m0 4h0m-1 25h0m1 6h0m0 5h0m0 113h0m0-414h0m0 16h0m0 9h0m0 82h0m0 88h0m0 20h0m0 194h0m4-411h0m1 5h0m0 5h0m0 20h0m0 6h0m0 4h0m0 6h0m0 10h0m0 41h0m0 10h0m0 5h0m-1 52h0m0 4h0m0 6h0m1 10h0m0 5h0m0 10h0m0 5h0m0 10h0m-1 5h0m0 6h0m1 25h0m-1 5h0m0 5h0m0 5h0m1 25h0m0 6h0m0 117h0m0-362h0m0 41h0m0 10h0m0 76h0m0 16h0m0 15h0m0 20h0m0 71h0m0 200h0m5-498h0m-1 27h0m0 15h0m0 5h0m1 4h0m0 6h0m0 31h0m0 10h0m0 4h0m0 6h0m0 40h0m-1 6h0m0 15h0m1 5h0m0 5h0m-1 5h0m0 5h0m1 10h0m-1 11h0m1 36h0m0 5h0m-1 5h0m1 30h0m0 10h0m-1 5h0m0 108h0m0 4h0m1 5h0m-1 6h0m0 51h0m1-479h0m0 10h0m0 25h0m0 61h0m0 66h0m0 6h0m0 41h0m0 55h0m0 32h0m4-269h0m0 20h0m0 6h0m0 9h0m0 11h0m0 5h0m0 20h0m0 5h0m0 10h0m0 5h0m0 10h0m0 26h0m0 6h0m0 4h0m0 6h0m0 5h0m0 76h0m0 5h0m0 6h0m0 15h0m0 5h0m0 10h0m0 4h0m0 32h0m0 5h0m0 66h0m0 5h0m0 10h0m0 67h0m1-449h0m0 26h0m0 25h0m0 5h0m0 5h0m0 15h0m0 16h0m0 143h0m0 4h0m0 138h0m4-361h0m0 5h0m0 10h0m0 5h0m0 11h0m0 4h0m0 6h0m0 5h0m0 6h0m0 4h0m0 10h0m0 10h0m0 26h0m0 11h0m0 5h0m0 4h0m0 35h0m0 57h0m0 6h0m0 14h0m0 6h0m0 4h0m0 32h0m0 10h0m0 71h0m0 6h0m0 66h0m0 4h0m0 6h0m1-465h0m0 6h0m-1 30h0m1 15h0m0 36h0m0 10h0m-1 11h0m1 26h0m0 96h0m0 5h0m0 15h0m0 6h0m0 50h0m0 10h0m4-319h0m0 5h0m0 5h0m0 21h0m0 10h0m0 5h0m0 10h0m0 5h0m0 6h0m0 5h0m0 4h0m0 6h0m0 5h0m0 5h0m0 5h0m0 9h0m0 21h0m0 5h0m0 51h0m0 47h0m0 4h0m0 5h0m0 5h0m0 15h0m0 7h0m0 5h0m0 14h0m0 11h0m0 5h0m0 10h0m0 5h0m0 76h0m0-356h0m0 15h0m1 51h0m-1 35h0m0 5h0m0 5h0m1 31h0m-1 11h0m1 60h0m0 6h0m-1 36h0m0 15h0m0 71h0m0 6h0m1 5h0m-1 71h0m0 6h0m5-469h0m0 6h0m0 25h0m0 10h0m0 5h0m0 10h0m0 11h0m0 4h0m0 5h0m0 5h0m0 11h0m0 10h0m0 31h0m-1 5h0m1 5h0m0 5h0m0 36h0m0 5h0m0 5h0m0 5h0m-1 5h0m0 6h0m1 30h0m0 5h0m0 5h0m0 5h0m0 6h0m0 15h0m0 14h0m-1 26h0m1 72h0m0 4h0m-1 5h0m1 6h0m0 46h0m0 5h0m0 6h0m0 30h0m0-480h0m0 26h0m0 15h0m0 10h0m0 26h0m0 10h0m0 82h0m0 35h0m0 21h0m0 30h0m0 6h0m0 10h0m0 5h0m0 10h0m0 5h0m0 5h0m0 5h0m0 11h0m0 122h0m0 41h0m4-504h0m0 10h0m0 6h0m0 5h0m0 10h0m1 16h0m0 5h0m-1 4h0m1 11h0m0 20h0m0 6h0m-1 9h0m1 11h0m0 36h0m-1 4h0m1 5h0m-1 10h0m0 41h0m1 6h0m-1 10h0m0 31h0m0 10h0m1 20h0m0 10h0m0 21h0m0 15h0m0 76h0m-1 5h0m0 6h0m1 46h0m-1 10h0m1 4h0m-1 27h0m1-501h0m0 21h0m0 16h0m0 20h0m0 10h0m0 5h0m0 5h0m0 26h0m0 56h0m0 36h0m0 4h0m0 16h0m0 10h0m0 5h0m0 26h0m0 10h0m0 5h0m0 5h0m0 10h0m0 10h0m0 6h0m0 5h0m0 148h0m0 35h0m4-492h0m0 10h0m0 10h0m0 20h0m0 5h0m0 5h0m1 21h0m-1 15h0m0 66h0m1 46h0m0 11h0m-1 4h0m0 10h0m0 6h0m1 30h0m-1 6h0m0 4h0m1 22h0m-1 4h0m0 5h0m0 5h0m0 102h0m0 11h0m0 46h0m1 31h0m-1 4h0m1 6h0m0-500h0m0 10h0m0 10h0m0 31h0m0 5h0m0 5h0m0 10h0m0 6h0m0 65h0m0 10h0m0 6h0m0 40h0m0 15h0m0 36h0m0 21h0m0 5h0m0 5h0m0 128h0m0 46h0m0 10h0m0 5h0m4-472h0m0 10h0m0 5h0m0 26h0m0 5h0m0 10h0m0 5h0m0 5h0m0 5h0m0 72h0m0 5h0m0 5h0m0 66h0m0 6h0m0 55h0m0 6h0m0 4h0m0 6h0m0 5h0m0 102h0m0 5h0m0 56h0m1-459h0m0 16h0m-1 30h0m1 26h0m-1 4h0m0 78h0m1 40h0m-1 5h0m1 5h0m0 5h0m0 35h0m0 6h0m-1 5h0m1 5h0m0 6h0m0 5h0m-1 137h0m1 46h0m0 10h0m25-460h0m0 30h0m-1 5h0m1 46h0m0 5h0m0 5h0m0 5h0m0 82h0m0 5h0m0 5h0m0 5h0m0 5h0m0 41h0m0 5h0m0 6h0m0 4h0m-1 6h0m1 5h0m0 5h0m0 5h0m0 5h0m-1 5h0m1 5h0m0 6h0m0 4h0m0 6h0m0 4h0m0 6h0m0 5h0m-1 5h0m1 6h0m0 4h0m-1 66h0m1 6h0m0 5h0m-1 4h0m1 6h0m0 5h0m0 5h0m0 5h0m-1 30h0m1 5h0m0 6h0m0 10h0m4-493h0m0 5h0m0 71h0m1 5h0m-1 6h0m1 21h0m-1 4h0m1 6h0m0 5h0m-1 61h0m0 5h0m1 5h0m0 5h0m0 5h0m0 40h0m-1 5h0m0 6h0m0 6h0m1 4h0m0 6h0m0 5h0m0 5h0m0 5h0m0 4h0m0 5h0m-1 6h0m1 6h0m-1 4h0m1 6h0m0 4h0m0 6h0m-1 5h0m1 5h0m0 86h0m0 5h0m0 6h0m0 4h0m0 6h0m0 36h0m0 5h0m-1 4h0m0 5h0m5-494h0m0 67h0m0 5h0m1 5h0m-1 5h0m1 26h0m0 5h0m0 5h0m-1 4h0m1 57h0m0 5h0m0 5h0m0 5h0m0 5h0m0 5h0m0 41h0m-1 5h0m0 5h0m1 6h0m-1 4h0m0 6h0m0 4h0m0 6h0m0 5h0m1 4h0m0 6h0m-1 5h0m0 5h0m0 6h0m0 4h0m0 6h0m1 5h0m-1 5h0m0 5h0m0 87h0m0 5h0m1 5h0m0 5h0m-1 5h0m1 35h0m0 16h0m5-499h0m0 30h0m-1 5h0m0 31h0m1 5h0m-1 5h0m0 5h0m1 5h0m-1 36h0m0 5h0m0 5h0m0 35h0m1 6h0m-1 5h0m0 5h0m0 5h0m0 6h0m0 5h0m0 4h0m1 6h0m0 40h0m-1 6h0m0 4h0m0 5h0m0 6h0m0 6h0m0 4h0m1 5h0m-1 6h0m0 4h0m0 6h0m0 5h0m0 5h0m0 5h0m0 11h0m0 5h0m0 5h0m0 96h0m0 66h0m0 6h0m5-510h0m0 4h0m0 27h0m0 5h0m0 5h0m0 36h0m0 4h0m0 5h0m0 6h0m0 5h0m0 5h0m0 5h0m0 21h0m0 4h0m0 6h0m0 4h0m0 6h0m0 4h0m0 16h0m0 5h0m0 6h0m0 5h0m0 10h0m0 61h0m0 5h0m0 5h0m0 5h0m0 5h0m0 21h0m0 5h0m0 4h0m0 109h0m0 4h0m0 5h0m0 5h0m0 71h0m5-500h0m-1 5h0m1 21h0m-1 5h0m1 4h0m0 5h0m0 6h0m0 6h0m0 4h0m0 26h0m0 15h0m0 5h0m0 5h0m0 5h0m0 15h0m0 6h0m-1 5h0m1 5h0m0 6h0m0 5h0m0 5h0m-1 5h0m1 4h0m-1 5h0m1 6h0m0 5h0m0 72h0m0 5h0m0 4h0m0 5h0m0 6h0m0 20h0m-1 4h0m1 6h0m0 108h0m0 5h0m-1 5h0m0 4h0m1 77h0m0 5h0m5-506h0m-1 5h0m1 20h0m0 6h0m0 5h0m-1 5h0m1 5h0m0 5h0m-1 6h0m1 40h0m0 6h0m-1 4h0m1 16h0m-1 5h0m1 5h0m0 4h0m-1 6h0m1 5h0m0 5h0m-1 5h0m0 5h0m1 5h0m0 5h0m0 82h0m-1 5h0m0 5h0m1 5h0m0 6h0m0 5h0m-1 10h0m1 5h0m0 5h0m0 107h0m0 5h0m-1 5h0m1 5h0m0 87h0m4-511h0m1 5h0m0 5h0m0 5h0m0 10h0m-1 5h0m1 6h0m-1 4h0m0 5h0m1 6h0m-1 4h0m0 11h0m0 6h0m0 25h0m0 4h0m0 6h0m0 15h0m0 5h0m0 5h0m1 11h0m-1 5h0m0 4h0m1 6h0m0 5h0m-1 5h0m1 97h0m-1 5h0m0 6h0m1 4h0m0 6h0m-1 5h0m1 5h0m0 4h0m0 113h0m0 5h0m-1 5h0m0 6h0m5-432h0m0 5h0m0 5h0m0 5h0m0 35h0m0 6h0m0 5h0m0 5h0m0 5h0m0 5h0m1 26h0m-1 5h0m0 51h0m0 4h0m0 6h0m1 101h0m-1 6h0m0 5h0m1 5h0m-1 5h0m0 6h0m0 5h0m0 4h0m0 6h0m0 5h0m0 5h0m1 91h0m0 6h0m-1 5h0m0 5h0m0 5h0m1 5h0m-1 40h0m0 6h0m5-482h0m0 5h0m0 6h0m0 46h0m0 4h0m0 6h0m0 4h0m0 6h0m0 25h0m0 52h0m0 5h0m0 4h0m0 6h0m0 102h0m0 5h0m0 5h0m0 5h0m0 5h0m0 5h0m0 6h0m0 4h0m0 5h0m0 6h0m0 5h0m0 4h0m0 77h0m0 6h0m0 5h0m0 9h0m0 6h0m0 5h0m0 41h0m0 5h0m0 5h0m19-446h0m1 6h0m-1 214h0m0 4h0m0 6h0m1 4h0m0 6h0m-1 5h0m0 5h0m1 6h0m0 5h0m0 4h0m-1 5h0m1 6h0m0 5h0m5-305h0m-1 21h0m0 4h0m0 6h0m0 4h0m1 210h0m-1 5h0m0 5h0m0 10h0m0 5h0m0 5h0m1 5h0m-1 21h0m1 5h0m4-308h0m0 4h0m0 20h0m1 5h0m-1 6h0m0 5h0m1 183h0m-1 5h0m0 36h0m0 6h0m0 4h0m0 6h0m5-287h0m0 6h0m0 5h0m0 20h0m0 5h0m0 5h0m0 5h0m0 5h0m-1 179h0m1 6h0m0 4h0m-1 6h0m1 25h0m0 4h0m0 6h0m-1 5h0m5-290h0m0 4h0m1 6h0m0 5h0m0 20h0m-1 5h0m1 6h0m-1 4h0m1 179h0m0 5h0m-1 5h0m1 5h0m0 6h0m0 5h0m0 20h0m0 5h0m-1 6h0m0 4h0m0 36h0m6-290h0m-1 199h0m0 4h0m0 6h0m0 4h0m1 5h0m0 21h0m-1 5h0m1 6h0m0 40h0m-1 5h0m5-220h0m0 5h0m0 5h0m1 5h0m-1 128h0m0 5h0m0 4h0m0 6h0m0 5h0m0 5h0m0 5h0m0 41h0m0 5h0m0 5h0m5-225h0m0 5h0m0 5h0m0 5h0m0 128h0m-1 5h0m1 4h0m0 6h0m0 6h0m-1 5h0m1 5h0m0 40h0m0 5h0m0 5h0m0 5h0m5-231h0m-1 5h0m1 5h0m0 6h0m-1 4h0m1 122h0m-1 6h0m1 5h0m-1 5h0m0 5h0m1 5h0m-1 5h0m1 6h0m0 41h0m-1 4h0m5-223h0m0 6h0m0 4h0m1 5h0m-1 122h0m0 5h0m1 6h0m-1 5h0m0 5h0m1 6h0m-1 4h0m0 5h0m0 46h0m5-88h0m0 5h0m0 5h0m0 5h0m0 21h0m0 4h0m0 5h0m5-49h0m0 6h0m0 5h0m0 4h0m0 26h0m0 5h0m0 5h0m0 5h0m5-54h0m0 5h0m0 6h0m0 25h0m-1 6h0m1 4h0m0 6h0m0 4h0m5-289h0m-1 4h0m1 5h0m0 260h0m-1 6h0m1 5h0m-1 4h0m0 6h0m0 5h0m5-294h0m0 4h0m0 6h0m0 77h0m0 5h0m0 4h0m0 11h0m-1 4h0m1 6h0m0 153h0m0 5h0m0 5h0m0 6h0m0 4h0m0 5h0m5-295h0m-1 4h0m1 6h0m0 5h0m0 72h0m0 5h0m0 4h0m-1 6h0m0 5h0m1 5h0m0 5h0m0 158h0m-1 5h0m1 6h0m0 4h0m0 5h0m5-299h0m0 4h0m-1 6h0m1 5h0m-1 5h0m0 67h0m0 5h0m0 5h0m1 5h0m-1 11h0m1 4h0m0 5h0m-1 36h0m1 5h0m0 5h0m-1 112h0m1 5h0m0 5h0m-1 6h0m0 5h0m5-295h0m0 5h0m0 5h0m0 6h0m0 71h0m0 5h0m0 20h0m1 5h0m-1 31h0m1 5h0m-1 5h0m0 5h0m0 102h0m0 6h0m0 4h0m1 6h0m-1 5h0m0 4h0m1 6h0m-1 188h0m5-477h0m0 107h0m0 35h0m0 6h0m0 5h0m0 5h0m0 5h0m0 4h0m0 6h0m0 87h0m0 5h0m0 5h0m0 5h0m-1 5h0m1 5h0m0 5h0m-1 178h0m1 6h0m0 5h0m0 5h0m4-340h0m0 6h0m0 5h0m1 5h0m-1 4h0m1 6h0m0 5h0m0 87h0m0 5h0m0 5h0m-1 5h0m1 6h0m0 4h0m0 179h0m0 4h0m-1 6h0m1 4h0m0 7h0m4-322h0m0 6h0m1 87h0m-1 4h0m1 5h0m-1 6h0m0 5h0m0 5h0m1 16h0m-1 5h0m0 157h0m0 6h0m1 10h0m21-403h0m1 6h0m-1 39h0m1 5h0m0 5h0m0 124h0m-1 4h0m1 6h0m0 5h0m0 4h0m-1 97h0m1 6h0m0 5h0m0 123h0m0 9h0m4-432h0m0 173h0m0 6h0m1 4h0m0 6h0m-1 96h0m0 5h0m0 6h0m0 4h0m1 113h0m0 10h0m-1 5h0m5-445h0m0 6h0m0 5h0m0 183h0m0 6h0m0 5h0m0 26h0m0 66h0m0 5h0m0 5h0m4-309h0m1 6h0m0 5h0m0 4h0m0 185h0m0 5h0m0 4h0m-1 5h0m0 22h0m1 4h0m0 61h0m-1 5h0m5-309h0m1 5h0m0 5h0m-1 5h0m0 6h0m0 178h0m1 5h0m-1 6h0m0 4h0m1 5h0m0 16h0m0 4h0m0 6h0m-1 4h0m5-245h0m0 4h0m0 5h0m0 185h0m0 4h0m0 6h0m1 5h0m0 4h0m0 21h0m-1 5h0m0 5h0m5-241h0m0 194h0m0 5h0m0 5h0m0 5h0m0 20h0m0 5h0m5-205h0m0 173h0m-1 6h0m1 5h0m-1 5h0m0 5h0m0 5h0m1 6h0m-1 4h0m5-217h0m1 4h0m-1 6h0m1 173h0m0 6h0m0 4h0m0 5h0m-1 5h0m1 6h0m0 5h0m-1 5h0m1 6h0m-1 4h0m0 21h0m5-256h0m0 5h0m0 5h0m0 5h0m1 173h0m-1 6h0m0 5h0m0 4h0m0 6h0m0 4h0m1 6h0m0 6h0m-1 4h0m0 5h0m0 16h0m1 5h0m0 5h0m0 143h0m0 4h0m4-453h0m0 5h0m0 6h0m0 36h0m0 5h0m0 5h0m0 173h0m0 5h0m0 5h0m0 6h0m1 5h0m-1 5h0m0 5h0m0 5h0m0 5h0m0 5h0m0 5h0m0 16h0m0 5h0m0 5h0m5-319h0m0 5h0m0 5h0m-1 5h0m1 5h0m-1 5h0m1 36h0m0 4h0m0 154h0m0 5h0m-1 6h0m1 20h0m0 5h0m0 5h0m0 5h0m0 5h0m0 5h0m-1 5h0m1 6h0m-1 5h0m1 20h0m0 4h0m0 153h0m5-466h0m0 5h0m0 5h0m0 5h0m0 5h0m-1 41h0m1 158h0m-1 5h0m1 6h0m0 35h0m-1 5h0m1 6h0m0 4h0m-1 6h0m0 15h0m1 5h0m4-307h0m0 5h0m0 5h0m0 5h0m0 6h0m0 198h0m1 5h0m-1 5h0m0 5h0m0 31h0m0 4h0m0 6h0m0 5h0m0 6h0m5-55h0m0 37h0m0-301h0m0 4h0m0 31h0m0 6h0m0 5h0m0 209h0m0 5h0m0 46h0m0 4h0m0 5h0m18-316h0m0 4h0m0 153h0m0 6h0m-1 5h0m1 4h0m0 92h0m-1 5h0m0 36h0m0 5h0m1 16h0m0 5h0m-1 4h0m0 6h0m1 40h0m-1 5h0m0 6h0m0 5h0m5-240h0m0 5h0m1 5h0m0 5h0m-1 92h0m0 36h0m0 4h0m0 6h0m1 5h0m0 5h0m0 6h0m-1 4h0m1 5h0m0 6h0m-1 5h0m1 41h0m-1 5h0m0 4h0m5-234h0m0 16h0m0 81h0m0 5h0m0 37h0m0 4h0m0 5h0m0 5h0m0 5h0m0 6h0m1 5h0m0 4h0m-1 6h0m1 5h0m-1 5h0m0 46h0m0 5h0m0 5h0m1 5h0m4-227h0m0 5h0m0 66h0m0 5h0m0 6h0m0 36h0m0 5h0m0 5h0m0 5h0m0 5h0m0 5h0m0 6h0m0 4h0m0 5h0m0 6h0m0 4h0m0 41h0m0 5h0m0 6h0m0 5h0m4-232h0m1 10h0m0 5h0m0 5h0m0 61h0m0 5h0m0 46h0m0 5h0m0 6h0m0 4h0m0 6h0m-1 4h0m1 6h0m0 5h0m0 5h0m0 46h0m0 5h0m0 5h0m0 5h0m5-238h0m0 10h0m0 5h0m0 5h0m0 71h0m0 5h0m0 5h0m0 6h0m-1 35h0m1 5h0m-1 6h0m1 5h0m0 4h0m0 6h0m-1 5h0m0 5h0m1 46h0m0 4h0m-1 6h0m1 5h0m5-419h0m0 169h0m-1 4h0m1 5h0m0 6h0m-1 15h0m0 76h0m0 6h0m1 4h0m0 5h0m0 26h0m-1 10h0m1 5h0m-1 6h0m1 4h0m0 6h0m-1 20h0m0 6h0m1 5h0m-1 25h0m1 5h0m0 5h0m4-412h0m1 168h0m0 6h0m-1 96h0m1 5h0m0 5h0m-1 5h0m1 31h0m-1 5h0m0 10h0m0 36h0m0 5h0m1 5h0m-1 31h0m0 4h0m5-411h0m0 174h0m0 4h0m0 97h0m0 31h0m0 5h0m1 5h0m-1 5h0m0 5h0m0 47h0m1 4h0m4-73h0m0 5h0m0 6h0m0 4h0m0 6h0m0 5h0m0 50h0m5-72h0m0 5h0m0 5h0m0 5h0m0 55h0m0 6h0m0 4h0m0 6h0m5-88h0m-1 6h0m0 10h0m1 5h0m0 5h0m-1 50h0m1 6h0m0 4h0m4-83h0m0 5h0m0 6h0m1 5h0m0 5h0m-1 41h0m0 5h0m1 5h0m0 5h0m-1 5h0m6-80h0m-1 5h0m0 5h0m0 5h0m0 4h0m1 6h0m0 5h0m-1 36h0m0 5h0m0 5h0m0 5h0m0 31h0m1 4h0m5-117h0m-1 5h0m0 5h0m1 6h0m-1 4h0m0 5h0m0 6h0m0 5h0m0 35h0m0 5h0m0 6h0m0 26h0m0 5h0m1 9h0m4-123h0m0 5h0m-1 6h0m1 10h0m0 4h0m0 5h0m0 47h0m0 5h0m0 4h0m0 5h0m0 21h0m0 5h0m0 6h0m5-124h0m0 4h0m-1 5h0m1 6h0m0 5h0m-1 5h0m1 5h0m0 6h0m0 5h0m0 14h0m0 16h0m0 5h0m0 5h0m-1 5h0m0 5h0m1 5h0m0 11h0m-1 5h0m1 5h0m4-290h0m1 5h0m0 168h0m-1 11h0m0 5h0m1 11h0m-1 4h0m1 11h0m-1 5h0m0 4h0m0 5h0m0 11h0m0 5h0m0 5h0m0 10h0m1 5h0m0 6h0m0 10h0m0 5h0m0 5h0m4-290h0m0 5h0m0 6h0m0 153h0m0 5h0m0 4h0m0 11h0m0 5h0m0 5h0m1 5h0m-1 5h0m1 5h0m0 16h0m0 4h0m0 6h0m-1 4h0m1 6h0m-1 5h0m0 10h0m0 5h0m0 5h0m0 6h0m0 4h0m5-282h0m0 5h0m0 6h0m0 5h0m0 153h0m0 5h0m0 5h0m1 5h0m-1 6h0m0 4h0m0 5h0m0 5h0m1 32h0m-1 4h0m1 5h0m-1 6h0m0 25h0m0 5h0m5-278h0m0 5h0m0 6h0m0 148h0m0 5h0m0 5h0m0 6h0m0 4h0m0 5h0m0 5h0m0 6h0m0 4h0m0 42h0m5-236h0m-1 154h0m1 5h0m0 4h0m-1 6h0m1 4h0m0 6h0m0 5h0m0 5h0m0 6h0m0 4h0m-1 30h0m1 6h0m5-82h0m0 4h0m0 5h0m0 5h0m-1 6h0m0 5h0m1 5h0m0 5h0m0 11h0m0 5h0m0 20h0m0 5h0m0 5h0m5-79h0m0 6h0m-1 5h0m1 4h0m-1 11h0m1 5h0m0 5h0m0 6h0m-1 4h0m1 5h0m0 11h0m0 5h0m-1 4h0m0 6h0m1 5h0m0 5h0m0 16h0m5-94h0m-1 10h0m0 5h0m1 5h0m-1 5h0m1 5h0m-1 6h0m0 5h0m0 5h0m0 5h0m1 5h0m-1 5h0m0 6h0m0 5h0m0 25h0m1 4h0m4-97h0m0 4h0m0 5h0m0 6h0m0 10h0m0 5h0m0 5h0m0 5h0m1 5h0m-1 6h0m0 4h0m0 6h0m0 30h0m0 5h0m0 5h0m0 6h0m0 4h0m0 5h0m5-114h0m0 6h0m0 10h0m0 5h0m0 10h0m0 6h0m-1 4h0m1 5h0m0 5h0m0 5h0m0 5h0m0 31h0m0 6h0m0 5h0m0 5h0m0 5h0m0 5h0m5-119h0m0 4h0m0 5h0m0 6h0m-1 5h0m1 6h0m0 4h0m0 61h0m0 10h0m0 5h0m0 6h0m0 5h0m4-112h0m1 10h0m-1 6h0m1 4h0m-1 6h0m0 71h0m0 5h0m0 5h0m5-93h0m1 4h0m-1 5h0m0 6h0m6-11h0m-1 4h0m1 10h0m4-13h0m0 11h0m0 4h0m0 6h0m4-19h0m1 4h0m0 5h0m0 5h0m5-8h0m0 5h0m0 5h0m9 51h0m0 5h0m0 6h0m5-69h0m0 5h0m0 57h0m0 5h0m0 4h0m1-14h0m4-65h0m0 5h0m0 5h0m0 56h0m0 6h0m4-66h0m1 5h0m0 57h0m0-71h0m0 4h0m4 32h0m1 10h0m0 25h0m0-31h0m4-13h0m0 6h0m1 5h0m-1 5h0m0 26h0m1-6h0m4-52h0m0 15h0m0 5h0m0 5h0m0 5h0m0 5h0m0 11h0m0 9h0m1-5h0m0 11h0m4-68h0m0 5h0m0 5h0m0 6h0m0 10h0m0 25h0m0 5h0m0 5h0m0 10h0m0-76h0m0 35h0m1 36h0m4-72h0m0 4h0m0 5h0m0 6h0m0 10h0m0 31h0m0 10h0m0 5h0m0 4h0m0 6h0m0-61h0m0 40h0m5-63h0m0 6h0m0 5h0m0 5h0m0 5h0m-1 6h0m0 9h0m1 21h0m0 10h0m-1 5h0m1 5h0m0-46h0m0 51h0m5-94h0m0 5h0m-1 10h0m0 10h0m1 10h0m0 5h0m-1 6h0m0 30h0m1 5h0m0-87h0m0 36h0m0 35h0m0 6h0m0 15h0m4-114h0m0 36h0m0 15h0m0 5h0m0 11h0m1 50h0m0-112h0m0 16h0m0 4h0m0 36h0m0 11h0m0 20h0m4-122h0m0 4h0m0 5h0m0 21h0m0 16h0m0 9h0m0 6h0m0 25h0m0 5h0m0 6h0m0 5h0m0 4h0m1-71h0m-1 5h0m0 11h0m1 15h0m4-57h0m0 5h0m0 21h0m0 5h0m0 5h0m0 5h0m0 5h0m0 5h0m0 31h0m0 5h0m0 4h0m0 5h0m1-100h0m-1 60h0m0 20h0m5-107h0m0 20h0m0 6h0m0 35h0m0 50h0m-1 6h0m1-87h0m0 21h0m0 5h0m0 10h0m0 5h0m0 5h0m0 6h0m0 4h0m0 37h0m5-114h0m0 16h0m-1 35h0m0 10h0m0 5h0m0 15h0m0 26h0m1-117h0m0 55h0m0 10h0m0 16h0m0 6h0m0 25h0m0 10h0m5-122h0m-1 6h0m0 51h0m0 10h0m0 4h0m1 6h0m0 5h0m-1 5h0m1-76h0m0 41h0m0 10h0m4-12h0m0 30h0m0 16h0m1-97h0m-1 4h0m1 51h0m0 6h0m0 31h0m4-91h0m0 61h0m0-46h0m0 35h0m0 16h0m0 20h0m5-88h0m0 15h0m0 10h0m0-20h0m0 5h0m0 10h0m4-7h0m0 5h0m1-16h0m0 27h0m0 249h0m4-380h0m0 6h0m0 112h0m1 10h0m0 244h0m-1 6h0m1-270h0m0 5h0m0 20h0m4-141h0m0 15h0m0 112h0m0 225h0m0 4h0m0 22h0m1-373h0m0 5h0m0 122h0m0 6h0m4-166h0m0 250h0m0 5h0m0 127h0m0 15h0m0-392h0m1 5h0m0 15h0m0 5h0m-1 5h0m1 5h0m0 6h0m0 117h0m-1 5h0m0 5h0m1 87h0m0 5h0m-1 107h0m1 6h0m0 29h0m4-403h0m0 246h0m0-240h0m0 21h0m0 5h0m0 4h0m0 6h0m1 117h0m-1 10h0m1 82h0m-1 5h0m0 5h0m0 112h0m0 6h0m1 15h0m-1 5h0m0 5h0m0 5h0m5-157h0m0 6h0m-1 61h0m1 51h0m0 5h0m0-377h0m0 163h0m0 5h0m0 82h0m0 132h0m0 5h0m0 5h0m0 10h0m4-407h0m0 10h0m0 210h0m0 36h0m0 66h0m0 56h0m0 4h0m0 11h0m0 6h0m1-240h0m0 5h0m0 5h0m0 56h0m0 25h0m0 11h0m0 56h0m0 10h0m0 5h0m4-321h0m0 11h0m0 143h0m0 60h0m0 88h0m0 9h0m1-320h0m0 4h0m0 21h0m0 5h0m0 137h0m0 6h0m0 55h0m-1 21h0m0 5h0m1 61h0m0 11h0m0 5h0m0 46h0m0 4h0m0 6h0m-1 5h0m1 16h0m0 9h0m4-385h0m0 4h0m0 118h0m0 15h0m0 153h0m0 57h0m0 4h0m1-366h0m-1 4h0m0 6h0m1 131h0m-1 6h0m1 56h0m0 6h0m0 25h0m0 5h0m-1 5h0m1 46h0m0 5h0m-1 5h0m0 10h0m1 6h0m0 41h0m-1 15h0m0 5h0m1 15h0m0 10h0m4-395h0m0 194h0m0 103h0m0 5h0m0-307h0m0 10h0m0 6h0m0 5h0m0 183h0m1 26h0m-1 5h0m0 57h0m0 5h0m1 15h0m0 41h0m-1 4h0m0 5h0m0 36h0m5-374h0m0 179h0m0 152h0m0-357h0m0 6h0m0 4h0m0 5h0m0 5h0m0 215h0m0 4h0m0 57h0m0 10h0m0 6h0m0 50h0m1 6h0m-1 5h0m1 25h0m-1 6h0m1 4h0m4-378h0m0 210h0m0-225h0m0 5h0m0 5h0m0 285h0m0 52h0m0 10h0m0 20h0m0 11h0m0 5h0m4-103h0m0 96h0m1-382h0m0 5h0m0 5h0m-1 280h0m1 6h0m0 61h0m0 15h0m4-14h0m0-352h0m1 6h0m0 184h0m-1 91h0m0 5h0m1 5h0m0 56h0m0 20h0m4-361h0m0 275h0m0 66h0m1-388h0m-1 6h0m0 30h0m1 5h0m0 11h0m0 178h0m0 5h0m0 5h0m0 21h0m0 56h0m-1 10h0m1 4h0m0 62h0m0 16h0m0 4h0m-1 5h0m5-411h0m0 245h0m1-251h0m-1 31h0m0 5h0m0 5h0m1 5h0m-1 184h0m0 15h0m0 16h0m0 51h0m0 4h0m0 10h0m0 6h0m0 56h0m1 15h0m-1 10h0m1 5h0m-1 5h0m5-375h0m0 214h0m0 66h0m0-325h0m0 4h0m0 20h0m0 6h0m0 5h0m0 5h0m0 26h0m0 4h0m0 154h0m0 5h0m0 5h0m0 15h0m0 5h0m0 61h0m0 6h0m0 56h0m0 4h0m0 16h0m0 15h0m0 5h0m0 6h0m4-199h0m0 10h0m1-239h0m-1 5h0m1 5h0m0 4h0m0 52h0m0 5h0m0 163h0m0 10h0m0 15h0m-1 72h0m1 46h0m0 5h0m0 6h0m0 25h0m0 5h0m4-172h0m1-184h0m0 5h0m-1 5h0m1 159h0m-1 10h0m0 11h0m0 5h0m0 122h0m1 5h0m-1 5h0m0 5h0m0 20h0m0 11h0m5-344h0m1-16h0m-1 5h0m1 6h0m-1 153h0m1 4h0m0 6h0m-1 5h0m0 138h0m0 4h0m0 26h0m1 5h0m0 5h0m4-350h0m0 159h0m0 5h0m0 5h0m0 5h0m0 5h0m0 71h0m0 6h0m0 86h0m1 5h0m4-268h0m0 35h0m0 47h0m0 4h0m0 5h0m0 6h0m0 5h0m0 66h0m1 6h0m-1 35h0m1 5h0m-1 5h0m0 47h0m0 9h0m5-274h0m0 5h0m0 16h0m0 5h0m0 6h0m0 50h0m0 6h0m0 4h0m0 6h0m0 4h0m0 61h0m0 6h0m0 5h0m0 31h0m-1 4h0m1 5h0m0 6h0m5-226h0m0 5h0m-1 4h0m0 16h0m1 5h0m0 56h0m-1 5h0m1 5h0m0 5h0m0 6h0m-1 66h0m1 5h0m0 5h0m0 26h0m0 10h0m0 5h0m-1 5h0m6-231h0m-1 6h0m1 21h0m0 4h0m0 5h0m0 61h0m0 6h0m0 5h0m0 66h0m-1 5h0m0 5h0m1 25h0m0 6h0m0 10h0m0 5h0m4-230h0m1 5h0m-1 4h0m1 21h0m-1 5h0m6-38h0m-1 6h0m0 5h0m0 20h0m0 6h0m1 30h0m-1 5h0m5-66h0m0 4h0m0 57h0m0 5h0m5-64h0m0 5h0m0 57h0m0 4h0m0 5h0m-1 41h0m1 5h0m-1 5h0m1 6h0m5-65h0m0 5h0m0 5h0m0 36h0m0 4h0m0 7h0m-1 4h0m1 6h0m-1 96h0m0 5h0m1 5h0m4-177h0m1 5h0m-1 6h0m1 5h0m-1 35h0m1 5h0m-1 5h0m0 6h0m1 5h0m0 97h0m-1 5h0m0 10h0m6-325h0m-1 77h0m0 112h0m0 5h0m0 5h0m1 5h0m0 67h0m-1 4h0m0 41h0m1 6h0m4-328h0m0 5h0m0 5h0m0 5h0m0 72h0m0 5h0m0 107h0m0 5h0m0 10h0m0 57h0m0 4h0m1 5h0m-1 6h0m0 30h0m5-374h0m0 51h0m0 5h0m0 5h0m0 6h0m0 5h0m0 5h0m0 71h0m0 5h0m0 179h0m0 4h0m0 6h0m5-348h0m0 4h0m0 6h0m-1 5h0m1 41h0m0 5h0m0 5h0m0 10h0m0 5h0m0 5h0m0 66h0m-1 5h0m1 5h0m-1 174h0m1 5h0m0 5h0m0 6h0m5-352h0m-1 6h0m1 4h0m0 5h0m0 6h0m0 35h0m0 6h0m-1 5h0m0 5h0m0 5h0m0 10h0m1 255h0m-1 5h0m1 5h0m4-349h0m0 5h0m0 5h0m0 5h0m0 5h0m1 52h0m0 4h0m4-76h0m0 6h0m0 5h0m0 5h0m0 4h0m0 52h0m1 4h0m-1 6h0m0 5h0m5-84h0m0 6h0m0 5h0m0 5h0m0 50h0m0 6h0m0 5h0m0 6h0m5-109h0m0 6h0m0 4h0m-1 31h0m1 52h0m0 4h0m0 5h0m0 5h0m0 5h0m4-131h0m1 6h0m0 10h0m0 5h0m0 5h0m0 5h0m0 65h0m-1 6h0m0 26h0m1 4h0m0 5h0m5-134h0m-1 5h0m0 5h0m1 5h0m-1 5h0m0 5h0m1 6h0m0 65h0m0 5h0m0 21h0m-1 5h0m1 5h0m4-128h0m1 5h0m0 4h0m-1 6h0m0 5h0m1 71h0m0 5h0m0 5h0m0 16h0m-1 5h0m5-114h0m1 6h0m-1 5h0m1 40h0m-1 26h0m0 5h0m0 5h0m0 5h0m0 5h0m0 5h0m0 5h0m5-72h0m0 5h0m0 5h0m0 5h0m1 25h0m-1 6h0m0 4h0m0 6h0m0 4h0m0 6h0m0 5h0m0 5h0m5-66h0m0 6h0m-1 26h0m0 5h0m1 5h0m-1 5h0m1 4h0m0 5h0m-1 6h0m1 209h0m0 4h0m5-251h0m-1 5h0m1 5h0m0 5h0m0 5h0m-1 6h0m0 5h0m1 9h0m-1 205h0m1 5h0m4-257h0m1 6h0m-1 5h0m0 4h0m0 5h0m1 6h0m-1 4h0m1 215h0m-1 6h0m0 5h0m5-245h0m0 4h0m1 6h0m-1 5h0m0 4h0m1 210h0m-1 5h0m5-227h0m0 5h0m0 5h0m0 210h0m0 5h0m0 5h0m5-228h0m0 5h0m15 118h0m0 11h0m4-14h0m0 5h0m0 5h0m1 6h0m-1 97h0m0 4h0m6-116h0m-1 5h0m0 5h0m0 6h0m0 96h0m5-110h0m0 6h0m0 5h0m0 5h0m5-108h0m0 92h0m0 5h0m0 5h0m0 6h0m5-109h0m-1 5h0m1 169h0m-1 4h0m1 6h0m-1 5h0m0 5h0m6-197h0m0 5h0m-1 164h0m1 10h0m-1 5h0m0 5h0m0 4h0m5-189h0m0 172h0m1 6h0m0 5h0m-1 5h0m5-17h0m0 5h0m0 5h0m0 5h0m4-9h0m0 5h0m1 5h0m5-13h0m-1 6h0m1 5h0m4-3h0m34-140h0m1 5h0m4-8h0m0 5h0m0 5h0m0 5h0m4-9h0m1 5h0m0 5h0m0 5h0m4-16h0m1 4h0m0 6h0m15-45h0m4 10h0m0 25h0m0 5h0m0 10h0m5 0h0m5-17h0m0 9h0m0 6h0m5-34h0m0 5h0m0 5h0m-1 10h0m0 5h0m0 5h0m6-18h0m0 6h0m-1 5h0m1 5h0m-1 5h0m0 5h0m5-2h0m10 44h0m29-101h0m0 107h0m0-214h0m5 115h0m-1 97h0m5-168h0m0 97h0m1-10h0m4-88h0m1 11h0m4-14h0m0 6h0m0 66h0m0 5h0m0 5h0m0 10h0m0-26h0m0 36h0m0 26h0m5-124h0m-1 51h0m0 20h0m1 15h0m0 21h0m0-67h0m4-7h0m0 26h0m1-10h0m0 15h0m0 26h0m0 5h0m5-23h0m0 16h0m-1 25h0m1 25h0m0-101h0m0 19h0m0 5h0m0 6h0m4-23h0m0 30h0m0 15h0m0 10h0m1 82h0m4-123h0m1 20h0m0 31h0m3 94h0m1 5h0m5-135h0m0 36h0m0 6h0m0 71h0m4-32h0m1 10h0m0-41h0m4 47h0m0 35h0m1-10h0m-1 15h0m5-58h0m0 10h0m0 26h0m0 10h0m0 4h0m0 6h0m0-133h0m0 11h0m0 10h0m0 31h0m1 51h0m-1 15h0m5-114h0m77 143h0m10-5h0m15-23h0m0 11h0m209-268h0m0 5h0m0 5h0m0 143h0m0 122h0m0 5h0m0 5h0m-1 108h0m1 5h0m0 41h0m-1 5h0m6-447h0m0 6h0m0 4h0m-1 276h0m6-285h0m0 5h0m0 5h0m4-18h0m0 4h0m0 5h0m0 6h0m1 4h0m-1 5h0m1 26h0m0 6h0m4-15h0m0 6h0m0 4h0m0 6h0m0 5h0m5-19h0m0 5h0m-1 5h0m6-8h0m0 5h0m0 4h0m10 37h0m0 4h0m0 41h0m0 6h0m0 5h0m0 5h0m0 4h0m0 6h0m0 41h0m0 5h0m0 4h0m0 6h0m5-132h0m-1 4h0m0 6h0m0 40h0m1 5h0m-1 5h0m1 6h0m0 5h0m-1 5h0m1 6h0m0 35h0m-1 5h0m0 5h0m0 5h0m5-130h0m0 5h0m0 4h0m0 47h0m0 5h0m0 5h0m0 5h0m0 5h0m0 36h0m0 5h0m0 5h0m0 6h0m0 4h0m4-134h0m1 5h0m-1 5h0m1 5h0m0 36h0m0 5h0m0 5h0m-1 5h0m0 5h0m1 66h0m5-87h0m0 5h0m0 5h0m4-9h0m0 6h0m42-19h0m-1 4h0m0 5h0m5-135h0m0 4h0m0 5h0m0 11h0m0 4h0m0 5h0m0 41h0m0 57h0m0 4h0m0 5h0m0 37h0m0 5h0m0 4h0m320-55h0m0 5h0m0 270h0m0 10h0m0 67h0m0-357h0m0 15h0m0 10h0m0 5h0m0 255h0m0 62h0m1 5h0m4-433h0m0 4h0m0 68h0m-1 5h0m0 4h0m0 5h0m0 6h0m0 5h0m1 4h0m0 6h0m-1 5h0m0 5h0m0 235h0m0 4h0m0 6h0m1 5h0m0 5h0m-1 5h0m0 52h0m1 5h0m0 4h0m3-445h0m1 5h0m0 6h0m0 56h0m0 5h0m0 5h0m0 5h0m0 5h0m0 5h0m-1 5h0m1 6h0m-1 4h0m1 6h0m0 5h0m0 5h0m-1 235h0m1 4h0m0 5h0m0 6h0m0 4h0m0 6h0m0 4h0m0 47h0m0 5h0m0 10h0m5-455h0m-1 6h0m1 5h0m-1 5h0m0 57h0m1 4h0m-1 6h0m0 4h0m0 6h0m1 5h0m-1 4h0m0 6h0m1 5h0m-1 5h0m0 5h0m1 6h0m-1 238h0m0 6h0m0 6h0m0 5h0m0 4h0m1 5h0m0 46h0m-1 5h0m0 10h0m5-497h0m0 5h0m0 41h0m-1 5h0m0 5h0m0 6h0m0 56h0m0 4h0m1 6h0m0 4h0m-1 6h0m1 5h0m-1 5h0m1 5h0m-1 5h0m1 5h0m-1 6h0m1 162h0m0 5h0m0 6h0m0 72h0m0 4h0m-1 5h0m1 6h0m-1 4h0m1 6h0m-1 5h0m0 41h0m1 4h0m0 5h0m11-491h0m0 340h0m0-351h0m0 5h0m0 133h0m0 199h0m0 5h0m1 5h0m-1 56h0m0 20h0m1 5h0m-1 5h0m0 6h0m0 5h0m0 5h0m0 5h0m0 6h0m0 4h0m5-42h0m-1 30h0m1-229h0m0 5h0m0 198h0m0 6h0m0 25h0m4-242h0m0 169h0m0 4h0m1 26h0m0 41h0m-1 5h0m1-240h0m0 5h0m0 6h0m0 177h0m0 11h0m0 5h0m4-209h0m0 15h0m0 148h0m0 5h0m0 11h0m0 20h0m0 5h0m0 82h0m0 9h0m0-290h0m0 5h0m1 163h0m0 16h0m0 4h0m0 52h0m0 45h0m0 11h0m4-299h0m0 153h0m0 5h0m0 11h0m0 30h0m0 86h0m0 5h0m0 6h0m0-291h0m0 5h0m0 5h0m0 148h0m0 41h0m0 76h0m5-273h0m0 72h0m0 66h0m0 5h0m0 5h0m0 25h0m0 97h0m0 6h0m0 5h0m0-112h0m0 116h0m4-220h0m1 4h0m0 11h0m-1 56h0m1 31h0m0 5h0m0 40h0m-1 62h0m1 5h0m4-213h0m0 5h0m1 5h0m-1 5h0m0 56h0m0 6h0m0 20h0m0 5h0m0 5h0m0 5h0m0 25h0m0 6h0m0 5h0m0 31h0m1 5h0m4-181h0m0 5h0m0 41h0m0 20h0m0 10h0m0 6h0m0 4h0m0 6h0m0 5h0m0 6h0m-1 5h0m1 25h0m-1 5h0m1 5h0m0 5h0m0 25h0m0 5h0m0 6h0m4-138h0m1 5h0m0 5h0m-1 10h0m1 6h0m0 4h0m0 6h0m-1 5h0m1 4h0m-1 6h0m0 35h0m1 6h0m-1 5h0m0 5h0m1 5h0m-1 15h0m0 5h0m1 6h0m4-168h0m0 5h0m0 5h0m0 5h0m0 20h0m1 6h0m0 4h0m-1 21h0m0 5h0m0 5h0m1 35h0m0 5h0m-1 6h0m0 5h0m0 5h0m0 5h0m5-140h0m0 5h0m0 6h0m0 4h0m0 5h0m-1 6h0m1 5h0m-1 5h0m0 5h0m1 5h0m0 5h0m0 21h0m0 5h0m0 4h0m0 32h0m0 4h0m0 5h0m0 6h0m0 5h0m5-132h0m0 5h0"/>
<path stroke="#0080ff" d="M403 469h0m0 16h0m0 5h0m0 50h0m0 5h0m0 6h0m0 5h0m0 26h0m0 4h0m0 5h0m0 16h0m0 5h0m-1 5h0m1 5h0m-1 5h0m0 6h0m1 5h0m-1 40h0m0 5h0m0 5h0m1 21h0m0 5h0m0 5h0m0 5h0m0 133h0m0 4h0m-1 6h0m1 5h0m0 6h0m0 5h0m-1 4h0m1 6h0m0 5h0m4-416h0m1 6h0m0 5h0m0 45h0m-1 6h0m0 4h0m1 5h0m0 26h0m-1 5h0m1 6h0m0 30h0m0 5h0m-1 5h0m1 5h0m0 41h0m-1 5h0m1 5h0m-1 5h0m0 16h0m1 9h0m0 5h0m-1 6h0m0 132h0m0 5h0m0 6h0m1 10h0m-1 5h0m1 5h0m0 5h0m-1 36h0m1 5h0m5-455h0m-1 5h0m0 5h0m0 5h0m1 5h0m-1 5h0m0 32h0m0 4h0m1 6h0m-1 4h0m0 5h0m0 21h0m0 4h0m0 6h0m1 5h0m-1 21h0m1 4h0m-1 6h0m0 5h0m0 46h0m1 5h0m0 5h0m-1 5h0m0 21h0m0 4h0m0 6h0m1 5h0m0 4h0m-1 26h0m1 6h0m0 4h0m0 6h0m-1 112h0m1 4h0m-1 6h0m1 5h0m-1 25h0m0 6h0m0 5h0m0 5h0m0 5h0m5-460h0m0 5h0m1 5h0m0 5h0m-1 5h0m0 11h0m0 25h0m0 5h0m0 5h0m1 6h0m-1 15h0m1 5h0m-1 5h0m0 5h0m1 6h0m0 4h0m-1 5h0m0 6h0m1 20h0m-1 5h0m1 6h0m-1 5h0m0 30h0m0 5h0m1 5h0m0 26h0m0 4h0m-1 6h0m1 5h0m-1 30h0m0 5h0m0 5h0m1 6h0m-1 112h0m1 10h0m0 5h0m-1 5h0m0 5h0m0 5h0m1 6h0m-1 10h0m0 5h0m1 26h0m4-489h0m1 5h0m-1 10h0m0 4h0m0 7h0m1 5h0m-1 4h0m0 6h0m1 30h0m0 6h0m0 4h0m-1 6h0m0 9h0m0 6h0m0 5h0m0 4h0m0 6h0m0 5h0m0 5h0m0 5h0m0 25h0m0 6h0m0 6h0m1 4h0m-1 35h0m0 37h0m1 40h0m-1 6h0m0 4h0m0 127h0m0 5h0m0 6h0m0 6h0m0 4h0m0 11h0m0 4h0m0 31h0m5-490h0m0 5h0m0 25h0m0 6h0m0 4h0m0 6h0m0 25h0m0 6h0m0 4h0m0 6h0m0 14h0m0 6h0m0 5h0m0 5h0m0 5h0m0 5h0m0 5h0m0 6h0m0 25h0m0 5h0m0 5h0m0 40h0m0 72h0m0 5h0m0 5h0m0 133h0m0 5h0m-1 5h0m1 6h0m0 10h0m0 5h0m0 26h0m5-488h0m0 5h0m0 36h0m0 6h0m0 25h0m-1 5h0m1 5h0m-1 5h0m1 40h0m-1 5h0m1 6h0m0 5h0m-1 21h0m1 5h0m0 5h0m0 41h0m0 4h0m0 210h0m-1 15h0m0 5h0m1 5h0m0 5h0m0 26h0m0 10h0m5-493h0m0 6h0m0 30h0m-1 4h0m1 6h0m-1 25h0m1 62h0m0 5h0m0 5h0m0 5h0m-1 62h0m1 4h0m-1 5h0m1 5h0m-1 205h0m0 5h0m1 20h0m0 5h0m-1 5h0m0 16h0m0 4h0m5-479h0m1 25h0m-1 6h0m1 10h0m-1 35h0m0 5h0m1 6h0m0 4h0m0 5h0m-1 36h0m0 6h0m0 4h0m0 26h0m0 5h0m1 6h0m0 10h0m-1 4h0m0 5h0m0 5h0m0 6h0m1 5h0m-1 5h0m1 199h0m0 5h0m-1 5h0m1 25h0m0 22h0m-1 15h0m5-494h0m0 32h0m0 5h0m1 5h0m-1 4h0m0 37h0m1 4h0m-1 6h0m0 5h0m0 46h0m0 26h0m0 5h0m1 4h0m0 6h0m-1 10h0m1 5h0m-1 5h0m1 5h0m-1 5h0m1 6h0m0 198h0m-1 5h0m0 5h0m0 5h0m0 46h0m0 6h0m0 5h0m5-458h0m0 5h0m0 4h0m0 6h0m0 36h0m0 4h0m0 57h0m0 6h0m0 20h0m0 5h0m0 4h0m0 10h0m0 17h0m0 10h0m1 71h0m-1 5h0m0 118h0m0 5h0m0 10h0m1 25h0m-1 5h0m5-419h0m0 5h0m0 32h0m0 4h0m0 67h0m0 5h0m0 10h0m0 5h0m0 5h0m0 6h0m0 15h0m0 5h0m0 4h0m0 5h0m-1 5h0m1 78h0m0 4h0m0 6h0m0 107h0m0 5h0m0 6h0m0 4h0m0 20h0m0 5h0m0 6h0m0 5h0m5-414h0m0 5h0m0 16h0m-1 5h0m0 6h0m1 5h0m0 61h0m0 5h0m-1 5h0m0 5h0m0 5h0m1 5h0m0 5h0m-1 5h0m0 21h0m0 5h0m1 86h0m0 6h0m-1 5h0m1 112h0m0 5h0m0 5h0m0 20h0m0 11h0m0 5h0m0 25h0m5-482h0m0 5h0m-1 36h0m0 5h0m0 6h0m0 14h0m0 5h0m1 6h0m-1 5h0m1 62h0m-1 4h0m1 5h0m0 5h0m-1 6h0m1 4h0m0 11h0m0 20h0m0 5h0m0 86h0m0 6h0m0 113h0m0 4h0m-1 6h0m1 5h0m0 15h0m0 4h0m0 6h0m-1 5h0m1 5h0m0 21h0m-1 5h0m1 5h0m5-494h0m0 4h0m-1 5h0m1 32h0m-1 4h0m0 5h0m1 6h0m-1 20h0m1 10h0m0 71h0m0 6h0m0 5h0m0 5h0m-1 5h0m1 5h0m0 15h0m0 6h0m-1 5h0m0 61h0m1 4h0m-1 6h0m1 5h0m-1 11h0m0 5h0m0 122h0m0 5h0m1 26h0m-1 5h0m0 5h0m6-457h0m-1 154h0m1 5h0m-1 5h0m0 25h0m0 5h0m0 5h0m1 62h0m-1 5h0m0 5h0m0 5h0m0 5h0m0 5h0m0 5h0m1 6h0m-1 116h0m5-416h0m1 154h0m-1 4h0m0 5h0m0 31h0m0 6h0m0 5h0m0 61h0m0 5h0m0 5h0m0 6h0m0 4h0m1 5h0m-1 5h0m0 117h0m1 6h0m4-263h0m0 5h0m0 102h0m0 5h0m0 5h0m0 5h0m0 5h0m0 6h0m0 5h0m0 112h0m0 5h0m0 5h0m0 5h0m5-405h0m0 5h0m0 6h0m0 5h0m-1 127h0m1 5h0m0 5h0m0 6h0m0 4h0m0 5h0m0 235h0m5-404h0m0 5h0m0 5h0m0 6h0m0 127h0m0 10h0m0 6h0m-1 4h0m0 6h0m1 71h0m-1 5h0m6-242h0m0 6h0m0 4h0m0 128h0m0 5h0m-1 5h0m1 6h0m-1 5h0m1 5h0m0 65h0m0 7h0m-1 4h0m1 6h0m5-249h0m0 4h0m-1 6h0m0 56h0m0 5h0m0 71h0m0 5h0m1 6h0m-1 4h0m0 5h0m1 6h0m-1 66h0m1 5h0m-1 6h0m0 5h0m0 25h0m1 5h0m4-242h0m0 4h0m0 5h0m0 11h0m1 5h0m-1 4h0m0 6h0m1 25h0m-1 138h0m0 5h0m0 6h0m0 24h0m1 6h0m-1 5h0m0 5h0m4-255h0m1 4h0m0 6h0m0 4h0m0 6h0m0 5h0m0 5h0m0 5h0m0 5h0m-1 21h0m1 5h0m0 4h0m0 57h0m0 5h0m0 118h0m0 4h0m5-261h0m0 5h0m0 6h0m0 5h0m-1 5h0m1 5h0m-1 6h0m1 5h0m0 4h0m0 26h0m0 5h0m0 5h0m0 51h0m0 6h0m0 9h0m0 21h0m0 87h0m0 5h0m4-244h0m1 21h0m0 5h0m-1 31h0m0 5h0m0 5h0m0 46h0m1 5h0m-1 5h0m1 6h0m0 19h0m-1 5h0m5-210h0m0 5h0m0 113h0m1 55h0m-1 6h0m0 5h0m1 5h0m-1 10h0m0 5h0m0 5h0m0 5h0m5-208h0m0 5h0m0 168h0m0 6h0m0 5h0m0 5h0m0 5h0m0 5h0m0 5h0m0 229h0m0 5h0m0 46h0m0 5h0m5-494h0m0 5h0m0 5h0m0 51h0m0 6h0m0 112h0m0 5h0m0 5h0m0 5h0m0 5h0m0 6h0m0 224h0m0 4h0m0 6h0m0 5h0m0 5h0m0 36h0m0 4h0m0 7h0m5-497h0m0 5h0m0 5h0m0 5h0m0 36h0m0 5h0m0 5h0m0 5h0m0 5h0m0 103h0m0 5h0m-1 5h0m1 5h0m0 5h0m0 5h0m0 92h0m0 132h0m0 6h0m0 5h0m0 5h0m0 5h0m0 5h0m0 41h0m-1 5h0m6-494h0m0 5h0m-1 5h0m1 5h0m-1 5h0m1 5h0m0 26h0m0 5h0m0 5h0m-1 5h0m1 5h0m0 5h0m0 26h0m0 72h0m0 5h0m0 5h0m0 5h0m0 5h0m0 97h0m0 5h0m0 5h0m0 117h0m0 4h0m-1 7h0m1 4h0m5-426h0m0 5h0m0 5h0m-1 5h0m0 31h0m1 5h0m0 5h0m-1 6h0m1 5h0m0 4h0m-1 21h0m0 5h0m0 5h0m1 66h0m0 5h0m-1 6h0m1 5h0m0 25h0m-1 6h0m0 5h0m0 65h0m1 6h0m-1 5h0m1 112h0m-1 5h0m1 5h0m0 6h0m4-423h0m0 5h0m1 5h0m-1 5h0m0 46h0m0 5h0m0 5h0m0 21h0m0 5h0m0 5h0m1 71h0m0 5h0m0 5h0m-1 21h0m1 5h0m-1 5h0m0 5h0m0 46h0m1 5h0m0 15h0m-1 6h0m0 5h0m0 4h0m0 62h0m0 46h0m0 4h0m0 5h0m0 6h0m1 72h0m4-518h0m0 5h0m0 20h0m0 6h0m0 5h0m0 51h0m0 4h0m0 21h0m0 5h0m0 5h0m1 5h0m-1 103h0m0 5h0m1 4h0m-1 6h0m0 45h0m1 6h0m-1 4h0m0 6h0m0 5h0m0 5h0m0 67h0m0 5h0m0 40h0m0 5h0m0 5h0m0 6h0m0 40h0m1 5h0m4-487h0m0 26h0m0 4h0m0 21h0m1 5h0m-1 5h0m0 25h0m0 6h0m0 5h0m0 9h0m0 5h0m0 6h0m1 5h0m-1 5h0m0 81h0m0 6h0m0 4h0m0 6h0m0 6h0m0 5h0m0 50h0m0 6h0m0 5h0m0 5h0m1 5h0m-1 5h0m0 5h0m0 66h0m0 5h0m0 41h0m0 5h0m0 5h0m0 5h0m0 36h0m0 6h0m0 5h0m1 20h0m4-460h0m0 10h0m0 5h0m-1 15h0m1 10h0m0 5h0m0 5h0m0 6h0m0 5h0m0 5h0m0 5h0m0 5h0m0 6h0m0 80h0m0 6h0m0 5h0m0 67h0m0 4h0m0 6h0m0 4h0m0 6h0m-1 5h0m1 61h0m0 5h0m0 6h0m0 35h0m0 5h0m0 5h0m0 5h0m0 41h0m0 5h0m0 5h0m0-433h0m0 30h0m4-81h0m1 40h0m0 5h0m0 5h0m0 5h0m-1 6h0m0 4h0m0 16h0m0 4h0m1 6h0m0 11h0m0 4h0m-1 5h0m0 5h0m1 5h0m-1 6h0m1 5h0m0 76h0m0 5h0m0 77h0m-1 5h0m0 6h0m1 4h0m0 5h0m-1 67h0m1 4h0m0 36h0m0 5h0m0 5h0m0 36h0m-1 5h0m0 6h0m0 9h0m0 26h0m1-413h0m0 51h0m0 332h0m4-438h0m1 4h0m-1 20h0m0 31h0m0 6h0m0 4h0m1 6h0m0 5h0m0 5h0m-1 10h0m0 5h0m1 6h0m0 4h0m0 62h0m-1 97h0m0 4h0m1 154h0m-1 10h0m1 5h0m0-352h0m0 342h0m5-408h0m-1 6h0m0 31h0m1 5h0m0 5h0m-1 10h0m0 5h0m0 5h0m0 5h0m0 6h0m0 4h0m1 5h0m0 82h0m-1 5h0m0 5h0m0 219h0m0 6h0m0 5h0m1-357h0m0 362h0m5-412h0m-1 6h0m0 4h0m1 26h0m-1 5h0m0 5h0m0 6h0m0 4h0m0 6h0m0 5h0m0 5h0m0 5h0m0 5h0m0 6h0m1 75h0m-1 5h0m0 6h0m0 214h0m0 4h0m0 6h0m0 5h0m0 11h0m1-256h0m0 179h0m4-339h0m0 5h0m0 56h0m0 5h0m0 6h0m0 4h0m0 6h0m0 4h0m0 77h0m0 5h0m0 169h0m0 4h0m0 5h0m0 36h0m0 5h0m0 5h0m0 5h0m5-336h0m0 10h0m0 5h0m0 5h0m0 5h0m0 260h0m0 31h0m0 5h0m0 5h0m0 5h0m0-326h0m0 275h0m5-379h0m0 5h0m-1 4h0m1 93h0m-1 9h0m0 5h0m1 6h0m0 5h0m0 255h0m0 5h0m0 5h0m-1 26h0m0 4h0m0 6h0m1-322h0m5-110h0m-1 6h0m1 5h0m0 91h0m-1 6h0m1 4h0m-1 12h0m1 5h0m-1 4h0m1 51h0m0 21h0m-1 5h0m1 174h0m-1 5h0m1 4h0m-1 57h0m1-332h0m4-126h0m0 10h0m1 6h0m-1 112h0m1 11h0m-1 5h0m0 34h0m0 11h0m0 10h0m0 5h0m1 11h0m-1 4h0m1-223h0m0 10h0m0 127h0m0 51h0m0 10h0m0 15h0m4-208h0m0 138h0m0 41h0m0 10h0m0 5h0m0 16h0m0 5h0m0 4h0m0 230h0m0 5h0m0 5h0m0 5h0m0-474h0m1 5h0m-1 11h0m1 4h0m0 117h0m-1 6h0m1 50h0m0 22h0m0 238h0m4-446h0m0 127h0m0 5h0m0 5h0m0 46h0m0 26h0m0 5h0m0 5h0m0 230h0m0 9h0m0 6h0m0 5h0m0-475h0m0 10h0m0 5h0m0 179h0m0 36h0m0 230h0m5-458h0m0 5h0m0 5h0m0 112h0m0 10h0m-1 6h0m1 5h0m-1 311h0m1-327h0m0 41h0m4 8h0m0 142h0m0 5h0m1-230h0m0 77h0m0 199h0m0 5h0m4-284h0m0 10h0m0 11h0m0 5h0m0 5h0m1 45h0m-1 6h0m0 5h0m0 5h0m0 128h0m0 5h0m0 55h0m1-341h0m0 5h0m0 61h0m0 11h0m0 81h0m0 6h0m0 127h0m0 5h0m0 41h0m0 10h0m0 5h0m4-354h0m0 4h0m0 6h0m0 51h0m0 10h0m0 5h0m0 21h0m0 10h0m0 40h0m0 6h0m0 4h0m0 6h0m0 116h0m0 6h0m0 10h0m0 56h0m1-286h0m0 16h0m0 5h0m0 5h0m0 10h0m0 10h0m0 27h0m0 5h0m0 24h0m0 123h0m0 51h0m0 6h0m24-360h0m0 6h0m1 4h0m0 6h0m0 5h0m0 15h0m-1 5h0m1 5h0m0 6h0m0 4h0m0 6h0m0 36h0m0 4h0m-1 6h0m1 4h0m0 6h0m0 25h0m0 5h0m0 52h0m0 4h0m0 154h0m4-355h0m0 5h0m0 4h0m0 5h0m1 5h0m-1 6h0m1 5h0m0 5h0m0 5h0m0 5h0m-1 5h0m1 5h0m0 5h0m0 77h0m-1 5h0m1 5h0m0 184h0m0 5h0m0 10h0m0 5h0m0 107h0m5-464h0m0 6h0m-1 4h0m0 6h0m1 5h0m0 4h0m-1 6h0m0 5h0m0 5h0m0 6h0m1 4h0m0 6h0m-1 87h0m0 4h0m1 5h0m-1 185h0m0 4h0m1 5h0m-1 6h0m1 4h0m-1 5h0m0 6h0m1 91h0m-1 10h0m5-474h0m0 6h0m0 5h0m0 5h0m1 5h0m-1 15h0m1 5h0m-1 5h0m0 6h0m1 4h0m-1 51h0m0 7h0m0 29h0m1 6h0m0 5h0m-1 5h0m1 158h0m-1 21h0m0 4h0m1 5h0m-1 5h0m0 6h0m1 5h0m-1 10h0m0 61h0m1 5h0m-1 26h0m0 5h0m0 5h0m5-474h0m0 5h0m0 5h0m0 5h0m0 20h0m0 6h0m0 4h0m0 7h0m0 4h0m0 5h0m0 41h0m0 5h0m0 5h0m0 36h0m0 5h0m0 26h0m0 9h0m0 6h0m0 4h0m0 6h0m0 67h0m0 5h0m0 5h0m0 20h0m0 5h0m0 5h0m0 5h0m0 5h0m0 5h0m0 6h0m0 10h0m0 5h0m0 5h0m0 5h0m0 5h0m0 6h0m0 55h0m0 5h0m0 6h0m0 5h0m0 25h0m0 6h0m0 5h0m4-475h0m1 5h0m-1 5h0m1 41h0m0 4h0m0 6h0m0 5h0m0 10h0m0 5h0m0 25h0m0 5h0m0 67h0m0 5h0m0 5h0m0 6h0m0 4h0m0 5h0m0 6h0m0 61h0m0 4h0m0 6h0m-1 21h0m1 4h0m0 6h0m0 4h0m0 5h0m-1 5h0m0 6h0m1 5h0m0 20h0m0 5h0m0 6h0m0 56h0m0 5h0m0 10h0m-1 5h0m1 21h0m0 5h0m0 5h0m5-486h0m-1 16h0m1 4h0m-1 5h0m1 41h0m0 5h0m0 16h0m0 5h0m0 5h0m0 21h0m-1 4h0m1 62h0m0 5h0m0 5h0m0 5h0m-1 5h0m1 5h0m0 6h0m0 5h0m-1 71h0m1 20h0m0 5h0m0 5h0m-1 5h0m0 6h0m1 5h0m-1 35h0m0 62h0m0 4h0m0 6h0m0 5h0m1 26h0m-1 5h0m1 4h0m0 5h0m4-491h0m1 67h0m0 26h0m0 5h0m0 20h0m0 5h0m-1 21h0m0 35h0m0 6h0m0 5h0m1 4h0m-1 5h0m1 21h0m-1 41h0m1 4h0m-1 47h0m0 5h0m1 5h0m-1 5h0m0 5h0m0 5h0m0 107h0m0 6h0m1 25h0m0 5h0m4-386h0m0 5h0m0 15h0m0 6h0m0 5h0m0 5h0m1 6h0m0 5h0m-1 4h0m0 5h0m0 5h0m0 41h0m0 25h0m0 36h0m0 5h0m0 6h0m0 61h0m0 5h0m0 56h0m0 6h0m0 81h0m5-385h0m0 6h0m0 5h0m0 10h0m0 5h0m0 4h0m0 6h0m0 5h0m0 5h0m0 6h0m0 5h0m0 4h0m0 67h0m0 5h0m0 4h0m0 26h0m0 5h0m0 6h0m0 4h0m0 108h0m0 4h0m0 6h0m0 5h0m0 5h0m20-379h0m0 56h0m0 5h0m-1 5h0m1 5h0m-1 5h0m1 5h0m-1 5h0m1 5h0m-1 26h0m1 6h0m0 4h0m0 5h0m-1 5h0m1 5h0m0 6h0m0 5h0m-1 5h0m1 5h0m-1 5h0m1 5h0m-1 5h0m1 280h0m0 6h0m0 5h0m-1 5h0m0 25h0m0 5h0m5-498h0m1 5h0m0 6h0m-1 35h0m1 5h0m-1 5h0m0 5h0m1 6h0m-1 4h0m1 5h0m-1 5h0m0 5h0m0 26h0m0 5h0m1 6h0m-1 5h0m0 5h0m0 4h0m0 6h0m0 5h0m0 4h0m1 6h0m0 5h0m0 5h0m0 6h0m-1 280h0m0 5h0m0 5h0m1 10h0m-1 21h0m5-493h0m0 5h0m0 6h0m0 30h0m0 5h0m0 5h0m0 6h0m0 10h0m0 4h0m0 5h0m0 6h0m0 4h0m1 11h0m-1 5h0m0 26h0m0 4h0m0 6h0m0 6h0m0 4h0m0 265h0m0 5h0m0 6h0m0 5h0m0 30h0m1 5h0m-1 5h0m5-469h0m0 5h0m0 5h0m0 30h0m0 6h0m0 5h0m0 15h0m0 5h0m0 5h0m0 5h0m0 5h0m0 6h0m0 5h0m-1 5h0m0 5h0m1 20h0m0 5h0m0 6h0m0 50h0m0 108h0m0 5h0m0 117h0m0 5h0m-1 5h0m1 36h0m-1 5h0m6-469h0m-1 5h0m1 5h0m0 26h0m-1 5h0m1 5h0m0 20h0m-1 5h0m0 5h0m0 6h0m1 5h0m0 5h0m0 4h0m0 5h0m0 6h0m-1 26h0m0 5h0m0 5h0m1 35h0m0 6h0m0 4h0m0 6h0m0 92h0m-1 5h0m1 5h0m0 5h0m-1 128h0m5-449h0m0 4h0m1 6h0m-1 6h0m0 5h0m0 4h0m0 6h0m0 70h0m0 6h0m0 4h0m0 6h0m0 5h0m1 5h0m-1 21h0m1 5h0m-1 4h0m0 6h0m0 5h0m0 30h0m1 6h0m-1 5h0m0 4h0m1 6h0m-1 5h0m1 5h0m0 71h0m-1 5h0m0 6h0m0 5h0m1 6h0m5-324h0m-1 5h0m1 6h0m-1 4h0m0 5h0m0 5h0m0 6h0m0 4h0m0 32h0m0 5h0m0 82h0m0 4h0m0 5h0m0 5h0m0 31h0m0 5h0m0 5h0m1 11h0m-1 4h0m0 5h0m0 77h0m0 5h0m1 5h0m-1 6h0m0 188h0m0 6h0m0 5h0m0 5h0m5-526h0m0 4h0m0 6h0m-1 5h0m1 5h0m0 5h0m0 6h0m0 4h0m0 32h0m-1 4h0m1 6h0m-1 4h0m1 6h0m0 4h0m0 67h0m0 4h0m0 6h0m0 5h0m0 26h0m0 20h0m0 5h0m-1 5h0m1 76h0m0 6h0m-1 4h0m1 6h0m0 199h0m0 4h0m4-521h0m0 5h0m0 6h0m1 5h0m0 5h0m0 4h0m-1 6h0m1 30h0m0 5h0m-1 5h0m1 11h0m-1 5h0m0 5h0m1 5h0m0 56h0m0 5h0m0 6h0m-1 4h0m0 5h0m0 15h0m0 5h0m1 26h0m0 6h0m-1 81h0m1 5h0m-1 5h0m0 5h0m1 128h0m0 5h0m0 61h0m4-499h0m0 5h0m1 6h0m-1 5h0m0 4h0m0 5h0m0 16h0m0 5h0m0 6h0m1 5h0m-1 20h0m0 61h0m0 5h0m0 6h0m0 4h0m0 5h0m1 5h0m-1 6h0m0 4h0m0 5h0m1 26h0m0 5h0m-1 61h0m0 6h0m1 4h0m-1 6h0m0 5h0m0 5h0m0 6h0m0 4h0m1 112h0m-1 5h0m0 5h0m0 6h0m0 5h0m1 20h0m0 5h0m-1 5h0m0 21h0m0 10h0m5-496h0m0 5h0m0 5h0m0 5h0m0 4h0m0 5h0m0 6h0m0 11h0m0 4h0m0 5h0m0 41h0m0 5h0m0 46h0m0 6h0m0 5h0m0 4h0m0 6h0m0 5h0m0 5h0m0 5h0m0 16h0m0 4h0m0 5h0m0 6h0m0 61h0m0 4h0m0 144h0m0 5h0m0 5h0m0 5h0m0 5h0m0 10h0m0 5h0m0 16h0m0 5h0m0 9h0m0 11h0m5-488h0m-1 5h0m1 6h0m0 4h0m0 5h0m0 5h0m0 56h0m0 6h0m-1 5h0m0 51h0m1 5h0m0 5h0m0 5h0m-1 6h0m1 4h0m0 26h0m0 5h0m-1 5h0m0 66h0m1 143h0m0 6h0m-1 5h0m1 15h0m0 5h0m0 5h0m0 16h0m0 14h0m4-482h0m1 5h0m0 6h0m-1 4h0m1 5h0m-1 5h0m0 5h0m1 52h0m-1 4h0m0 5h0m0 6h0m0 51h0m0 5h0m0 6h0m1 4h0m0 6h0m-1 30h0m1 5h0m-1 5h0m0 210h0m0 5h0m0 20h0m1 5h0m0 4h0m-1 6h0m0 5h0m1 5h0m4-474h0m1 5h0m0 6h0m-1 5h0m0 5h0m0 5h0m0 5h0m1 5h0m-1 5h0m1 5h0m0 41h0m-1 5h0m1 5h0m0 67h0m-1 5h0m0 5h0m0 30h0m1 5h0m0 194h0m-1 11h0m0 5h0m0 4h0m0 6h0m0 5h0m0 15h0m0 6h0m0 4h0m0 5h0m0 21h0m5-483h0m-1 5h0m0 5h0m1 25h0m0 5h0m0 6h0m0 5h0m0 36h0m-1 20h0m1 5h0m0 5h0m0 41h0m0 5h0m0 5h0m0 5h0m0 224h0m0 6h0m0 5h0m0 5h0m0 5h0m0 5h0m0 5h0m0 5h0m0 5h0m0 10h0m0 5h0m0 6h0m0 5h0m5-459h0m0 5h0m-1 26h0m0 4h0m0 6h0m1 61h0m0 5h0m0 5h0m0 5h0m0 36h0m-1 5h0m1 5h0m0 5h0m0 158h0m0 6h0m0 60h0m0 5h0m0 6h0m0 5h0m0 6h0m-1 9h0m1 5h0m0 6h0m0 5h0m-1 10h0m0 5h0m6-452h0m-1 30h0m0 5h0m1 66h0m-1 6h0m0 5h0m0 4h0m1 32h0m-1 5h0m0 4h0m1 6h0m-1 132h0m0 5h0m0 26h0m0 5h0m1 5h0m-1 56h0m1 5h0m-1 10h0m1 6h0m-1 5h0m1 15h0m-1 5h0m0 5h0m1 5h0m0 5h0m4-478h0m0 25h0m0 25h0m1 37h0m-1 40h0m0 5h0m0 42h0m0 4h0m0 6h0m0 5h0m0 5h0m0 5h0m0 112h0m1 5h0m-1 5h0m1 5h0m-1 21h0m0 5h0m0 5h0m0 5h0m0 11h0m1 4h0m-1 6h0m0 4h0m1 5h0m-1 47h0m0 5h0m0 4h0m0 11h0m0 5h0m0 5h0m1 5h0m4-478h0m0 5h0m0 5h0m0 11h0m0 4h0m0 6h0m0 5h0m0 10h0m0 5h0m0 5h0m0 30h0m0 6h0m0 5h0m0 5h0m0 26h0m0 5h0m-1 5h0m1 55h0m0 6h0m0 6h0m0 4h0m0 102h0m0 5h0m-1 6h0m1 5h0m0 5h0m0 20h0m0 6h0m0 5h0m0 4h0m0 5h0m0 6h0m0 5h0m0 5h0m0 5h0m0 5h0m0 11h0m0 4h0m0 26h0m0 5h0m0 5h0m0 6h0m0 5h0m0 5h0m0 4h0m0 6h0m0 5h0m5-483h0m0 5h0m-1 5h0m1 6h0m-1 4h0m1 6h0m-1 4h0m1 6h0m0 5h0m0 5h0m-1 5h0m0 6h0m1 5h0m0 4h0m-1 5h0m1 6h0m-1 15h0m0 4h0m1 6h0m0 5h0m0 21h0m0 5h0m0 4h0m0 6h0m-1 56h0m0 5h0m1 6h0m0 4h0m-1 41h0m1 56h0m-1 5h0m0 5h0m0 6h0m0 4h0m0 20h0m1 6h0m0 6h0m0 4h0m0 6h0m0 4h0m0 6h0m0 5h0m0 4h0m-1 6h0m1 5h0m0 6h0m-1 4h0m1 26h0m0 4h0m-1 6h0m1 5h0m0 5h0m0 5h0m-1 6h0m1 4h0m0 6h0m5-473h0m-1 14h0m1 5h0m0 6h0m0 5h0m-1 5h0m0 5h0m0 6h0m0 5h0m0 5h0m0 5h0m1 5h0m0 5h0m-1 5h0m0 10h0m0 6h0m0 4h0m0 5h0m1 20h0m-1 6h0m1 5h0m0 5h0m-1 20h0m0 31h0m1 5h0m0 5h0m-1 6h0m0 4h0m0 5h0m0 32h0m1 4h0m-1 6h0m0 45h0m0 5h0m0 41h0m1 5h0m-1 5h0m1 5h0m-1 5h0m1 6h0m0 5h0m-1 5h0m0 5h0m0 5h0m1 5h0m0 5h0m0 5h0m-1 5h0m0 21h0m0 5h0m1 5h0m-1 6h0m0 4h0m1 5h0m0 6h0m-1 4h0m23-459h0m0 5h0m0 42h0m0 4h0m0 5h0m-1 5h0m1 5h0m0 5h0m0 37h0m-1 5h0m1 4h0m0 21h0m-1 56h0m1 5h0m-1 5h0m1 6h0m0 5h0m0 87h0m0 4h0m0 6h0m0 10h0m0 5h0m-1 4h0m0 6h0m0 148h0m5-484h0m1 5h0m-1 41h0m1 5h0m-1 5h0m0 5h0m1 6h0m-1 5h0m1 4h0m-1 27h0m0 4h0m0 5h0m0 92h0m1 97h0m0 5h0m-1 5h0m0 21h0m1 5h0m-1 5h0m0 138h0m5-490h0m0 4h0m0 6h0m0 5h0m0 5h0m0 35h0m0 6h0m0 5h0m0 4h0m0 42h0m0 5h0m0 5h0m0 189h0m0 5h0m0 4h0m0 26h0m0 6h0m5-350h0m0 5h0m0 5h0m-1 5h0m1 5h0m-1 36h0m1 5h0m0 5h0m-1 31h0m1 5h0m0 5h0m0 6h0m0 4h0m0 200h0m0 4h0m0 169h0m0 10h0m4-447h0m0 5h0m0 4h0m1 32h0m0 5h0m-1 5h0m0 5h0m0 5h0m0 5h0m1 5h0m0 5h0m5-114h0m-1 72h0m0 5h0m0 5h0m0 5h0m0 5h0m0 6h0m0 4h0m0 6h0m0 4h0m1 5h0m-1 5h0m6-123h0m-1 5h0m0 51h0m0 10h0m0 5h0m0 6h0m0 5h0m0 4h0m0 5h0m0 6h0m0 4h0m0 5h0m0 6h0m0 5h0m0 5h0m0 127h0m0 92h0m5-362h0m0 4h0m0 6h0m0 4h0m0 5h0m0 5h0m0 46h0m0 5h0m-1 6h0m0 5h0m1 5h0m0 5h0m0 6h0m0 4h0m0 10h0m0 5h0m0 6h0m0 5h0m0 5h0m0 132h0m0 6h0m-1 5h0m1 66h0m0 10h0m0 5h0m0 6h0m0 30h0m0 5h0m4-401h0m1 6h0m0 4h0m0 5h0m-1 5h0m1 5h0m0 41h0m0 5h0m0 5h0m0 6h0m0 4h0m-1 6h0m1 5h0m0 30h0m0 6h0m-1 132h0m1 5h0m0 5h0m0 6h0m-1 55h0m1 6h0m-1 4h0m1 11h0m0 4h0m-1 6h0m1 30h0m-1 6h0m0 4h0m1 5h0m4-414h0m0 6h0m1 4h0m-1 6h0m1 5h0m-1 5h0m0 36h0m0 5h0m0 5h0m0 5h0m0 5h0m1 6h0m0 5h0m-1 172h0m0 6h0m1 5h0m-1 5h0m0 56h0m0 6h0m0 19h0m1 6h0m-1 5h0m0 5h0m0 26h0m0 10h0m0 5h0m1 77h0m4-494h0m0 25h0m0 41h0m0 5h0m0 5h0m0 5h0m0 5h0m0 6h0m0 41h0m0 127h0m0 5h0m0 5h0m0 5h0m0 61h0m0 26h0m0 5h0m0 5h0m0 6h0m0 19h0m0 5h0m0 6h0m0 5h0m0 81h0m5-462h0m0 37h0m0 4h0m0 16h0m-1 4h0m0 36h0m1 6h0m0 137h0m-1 5h0m1 5h0m-1 52h0m1 4h0m0 21h0m0 11h0m0 4h0m0 25h0m0 6h0m0 82h0m-1 4h0m1 6h0m5-498h0m-1 25h0m0 6h0m0 5h0m0 30h0m0 5h0m0 6h0m0 51h0m1 5h0m-1 5h0m1 137h0m-1 5h0m0 6h0m0 45h0m1 5h0m-1 16h0m1 5h0m0 5h0m-1 36h0m0 87h0m1 4h0m0 5h0m4-474h0m0 4h0m0 6h0m1 5h0m-1 30h0m1 5h0m-1 6h0m0 4h0m0 21h0m0 5h0m1 5h0m-1 5h0m0 5h0m1 6h0m0 4h0m-1 5h0m1 6h0m-1 4h0m0 133h0m0 5h0m1 46h0m-1 5h0m0 5h0m1 5h0m-1 5h0m0 41h0m0 5h0m0 5h0m0 93h0m1 4h0m4-389h0m0 173h0m0-265h0m0 5h0m0 5h0m0 6h0m0 4h0m0 31h0m0 5h0m0 6h0m0 4h0m0 6h0m0 10h0m0 5h0m0 11h0m0 4h0m0 6h0m0 4h0m0 5h0m0 5h0m0 138h0m0 56h0m0 5h0m0 5h0m0 11h0m0 41h0m0 4h0m0 93h0m0 5h0m17-502h0m1 5h0m0 40h0m-1 6h0m0 5h0m0 5h0m1 5h0m-1 15h0m1 6h0m-1 5h0m0 20h0m1 5h0m-1 5h0m1 5h0m0 6h0m0 5h0m0 51h0m0 5h0m0 5h0m0 5h0m0 5h0m-1 76h0m1 6h0m0 5h0m-1 5h0m1 5h0m-1 5h0m0 46h0m1 5h0m0 6h0m0 19h0m0 128h0m4-515h0m1 50h0m-1 11h0m1 50h0m-1 6h0m1 5h0m0 6h0m-1 5h0m0 4h0m0 52h0m0 5h0m0 5h0m0 5h0m1 5h0m-1 71h0m1 5h0m-1 6h0m0 5h0m0 4h0m1 6h0m-1 56h0m1 5h0m0 15h0m-1 5h0m1 5h0m0 123h0m-1 5h0m5-469h0m0 5h0m0 51h0m0 5h0m0 5h0m1 6h0m0 5h0m0 4h0m-1 5h0m0 26h0m0 31h0m1 5h0m-1 5h0m0 5h0m0 71h0m1 5h0m-1 5h0m0 6h0m0 5h0m0 5h0m0 77h0m0 4h0m1 6h0m0 4h0m4-293h0m0 6h0m0 5h0m0 4h0m0 5h0m0 7h0m1 4h0m-1 25h0m0 6h0m0 116h0m0 6h0m0 5h0m0 5h0m0 6h0m0 5h0m0 76h0m0 5h0m0 5h0m5-284h0m0 6h0m0 5h0m0 6h0m0 5h0m0 5h0m0 30h0m0 113h0m0 4h0m0 5h0m0 6h0m0 92h0m0 5h0m0 5h0m0 30h0m5-305h0m-1 5h0m1 5h0m-1 5h0m1 6h0m0 10h0m-1 5h0m1 4h0m0 6h0m0 219h0m0 42h0m0 5h0m5-318h0m0 5h0m0 5h0m0 5h0m-1 5h0m0 6h0m1 4h0m0 16h0m-1 5h0m1 30h0m0 158h0m0 6h0m-1 5h0m1 56h0m-1 5h0m1 6h0m0 4h0m5-319h0m0 4h0m-1 5h0m0 5h0m1 5h0m-1 6h0m0 5h0m1 41h0m-1 5h0m0 5h0m0 96h0m0 5h0m1 5h0m-1 37h0m1 4h0m-1 21h0m0 56h0m1 10h0m-1 5h0m0 51h0m5-375h0m0 4h0m1 6h0m-1 15h0m0 50h0m0 5h0m0 5h0m0 93h0m0 5h0m1 5h0m0 4h0m-1 32h0m0 5h0m0 5h0m0 5h0m0 5h0m0 4h0m0 6h0m0 5h0m0 41h0m0 5h0m0 5h0m0 11h0m0 5h0m0 46h0m0 5h0m0 5h0m5-492h0m0 5h0m0 5h0m0 51h0m0 5h0m0 52h0m0 70h0m0 6h0m0 96h0m0 5h0m0 6h0m0 36h0m0 9h0m0 6h0m0 10h0m0 5h0m0 10h0m0 31h0m0 16h0m0 9h0m0 46h0m5-476h0m0 56h0m0 21h0m0 5h0m0 5h0m0 5h0m0 87h0m0 5h0m0 5h0m0 97h0m0 5h0m0 5h0m0 5h0m0 36h0m0 5h0m0 11h0m0 5h0m0 4h0m0 5h0m0 5h0m0 26h0m0 5h0m-1 5h0m1 6h0m0 4h0m0 6h0m5-425h0m0 56h0m0 15h0m-1 6h0m0 5h0m1 10h0m0 5h0m0 194h0m0 5h0m0 5h0m0 36h0m0 5h0m0 10h0m-1 5h0m1 10h0m0 5h0m-1 31h0m1 5h0m-1 5h0m0 6h0m6-369h0m0 19h0m0 17h0m-1 5h0m0 20h0m0 4h0m1 6h0m-1 61h0m0 117h0m0 6h0m1 30h0m-1 5h0m0 6h0m0 5h0m0 5h0m1 5h0m0 4h0m-1 47h0m0 5h0m1 5h0m5-377h0m-1 5h0m0 5h0m0 5h0m0 6h0m0 40h0m0 5h0m0 179h0m0 11h0m1 4h0m-1 41h0m1 5h0m0 5h0m0 11h0m-1 4h0m0 42h0m0 4h0m6-367h0m-1 5h0m0 5h0m0 46h0m0 5h0m0 5h0m0 5h0m0 5h0m0 163h0m0 6h0m0 5h0m0 51h0m0 4h0m0 11h0m0 10h0m5-348h0m0 5h0m0 76h0m0 6h0m0 173h0m0 5h0m0 6h0m0 5h0m0 45h0m0 6h0m0 5h0m0 5h0m0 5h0m0 5h0m-1 5h0m5-358h0m0 265h0m1 6h0m0 4h0m0 56h0m0 6h0m0 10h0m0 4h0m5-227h0m-1 5h0m1 5h0m-1 5h0m0 133h0m1 5h0m4-266h0m1 118h0m-1 5h0m1 5h0m0 189h0m-1 5h0m1 66h0m-1 6h0m5-328h0m0 5h0m1 6h0m-1 244h0m0 5h0m0 6h0m0 24h0m0 6h0m0 5h0m0 6h0m0 20h0m0 30h0m0 5h0m6-364h0m-1 10h0m0 5h0m0 250h0m0 5h0m0 6h0m0 10h0m0 5h0m0 5h0m0 5h0m0 5h0m0 6h0m0 4h0m0 10h0m0 5h0m0 31h0m0 5h0m0 5h0m5-418h0m0 46h0m-1 5h0m1 4h0m0 6h0m0 270h0m0 5h0m0 5h0m0 6h0m0 4h0m0 5h0m-1 15h0m1 6h0m-1 5h0m0 25h0m0 6h0m0 5h0m6-374h0m0 6h0m0 5h0m0 6h0m-1 274h0m1 6h0m0 5h0m0 5h0m0 5h0m-1 51h0m1 11h0m-1 4h0m6-425h0m0 5h0m-1 40h0m0 5h0m1 291h0m-1 6h0m5-349h0m19 413h0m1 5h0m4-6h0m1 9h0m0 5h0m5-16h0m0 10h0m-1 5h0m0 5h0m0 10h0m0 5h0m5-44h0m0 6h0m1 4h0m-1 10h0m0 11h0m0 5h0m0 5h0m0 6h0m5-188h0m-1 5h0m1 5h0m0 16h0m0 117h0m0 5h0m-1 5h0m1 5h0m-1 5h0m0 16h0m1 10h0m0 4h0m4-186h0m1 5h0m0 5h0m0 4h0m0 6h0m-1 5h0m1 97h0m0 5h0m0 5h0m-1 5h0m1 6h0m0 4h0m-1 5h0m0 21h0m1 10h0m-1 5h0m1-11h0m4-400h0m0 225h0m1 4h0m0 12h0m0 4h0m0 5h0m0 6h0m-1 4h0m0 88h0m0 4h0m1 6h0m0 5h0m0 14h0m-1 27h0m1 5h0m4-416h0m1 5h0m-1 5h0m0 234h0m0 6h0m0 4h0m1 6h0m0 4h0m-1 5h0m0 42h0m0 5h0m0 41h0m1 9h0m-1 11h0m1 6h0m-1 5h0m0 19h0m1-168h0m0 123h0m5-364h0m-1 11h0m0 4h0m0 230h0m1 4h0m-1 62h0m0 46h0m0 5h0m0 5h0m0 20h0m0 10h0m0 6h0m1-142h0m0 45h0m0 11h0m4-320h0m0 5h0m0 5h0m0 5h0m0 234h0m0 6h0m0 51h0m0 11h0m0 25h0m0 26h0m0 20h0m0 5h0m0 4h0m0 5h0m0-40h0m5-360h0m0 306h0m0 5h0m0 9h0m0 16h0m0 5h0m0 20h0m0 6h0m0 25h0m0 5h0m0 5h0m0-397h0m0 311h0m0 71h0m4-147h0m1 4h0m0 62h0m-1 5h0m1 5h0m0 4h0m0 12h0m0 9h0m0 6h0m0-112h0m0 101h0m4-104h0m1 72h0m-1 9h0m0 21h0m1 10h0m0-107h0m0 5h0m0 66h0m4-78h0m0 4h0m0 5h0m0 67h0m0 26h0m0 5h0m1 4h0m4-108h0m0 102h0m0 72h0m0 5h0m0 5h0m4-185h0m1 11h0m0 173h0m0 5h0m0 5h0m0-179h0m4-17h0m1 189h0m0-184h0m0 5h0m5 7h0m0 164h0m4-160h0m0 127h0m1 5h0m4-213h0m0 86h0m0 117h0m0 6h0m1-204h0m0 86h0m-1 122h0m5-214h0m0 92h0m0 122h0m0 5h0m0-224h0m1 10h0m0 82h0m-1 116h0m0 6h0m5-205h0m0 21h0m0 4h0m0 51h0m0 5h0m0 11h0m0 123h0m0-220h0m0 92h0m0 122h0m5-195h0m0 21h0m-1 56h0m1-71h0m0 5h0m0 4h0m0 52h0m0 4h0m4-254h0m0 184h0m0 10h0m1 5h0m0-204h0m0 194h0m4-6h0m0 5h0m0 5h0m0-204h0m1 4h0m0 5h0m-1 200h0m5-209h0m0 5h0m0 6h0m0 189h0m0 4h0m0 6h0m0-158h0m0 5h0m5 3h0m0-57h0m0 52h0m0 9h0m5-2h0m4 202h0m1-15h0m0 5h0m4-218h0m0 225h0m0 5h0m0 81h0m1-306h0m0 210h0m0 5h0m0 96h0m-1 6h0m5-314h0m0 210h0m0 5h0m0 9h0m0-265h0m0 5h0m1 11h0m-1 20h0m1 225h0m-1 86h0m1 5h0m0 5h0m0 11h0m4-327h0m0 5h0m0 209h0m0 6h0m0 87h0m0 19h0m0-361h0m0 5h0m0 5h0m0 21h0m0 316h0m0 4h0m5-319h0m0 5h0m0 317h0m0-352h0m0 5h0m0 20h0m0 316h0m0 6h0m0 10h0m0 4h0m4-335h0m0 5h0m0 30h0m0 6h0m1 5h0m0 290h0m0-357h0m0 30h0m0 312h0m0 5h0m4-295h0m0 6h0m0 10h0m1-46h0m0 41h0m0 177h0m0 6h0m0 6h0m-1 111h0m1 5h0m0 5h0m0 6h0m4-132h0m1-199h0m-1 6h0m0 5h0m1 5h0m-1 5h0m1 112h0m-1 57h0m0 5h0m0 117h0m1 10h0m-1 5h0m5-124h0m0 112h0m0 41h0m0-352h0m0 5h0m0 5h0m0 6h0m0 4h0m1 92h0m-1 6h0m0 4h0m1 6h0m-1 4h0m0 51h0m1 11h0m0 123h0m-1 5h0m5-319h0m0 112h0m0 10h0m0 56h0m0 15h0m0-189h0m0 6h0m0 5h0m0 103h0m0 10h0m0 56h0m0 5h0m0 10h0m0 148h0m5-342h0m-1 9h0m1 5h0m-1 184h0m1-193h0m0 107h0m0 5h0m0 4h0m0 52h0m0 5h0m0 5h0m0 5h0m0 5h0m0 148h0m4-342h0m0 5h0m0 173h0m0 15h0m1-183h0m0 5h0m0 96h0m0 6h0m-1 5h0m0 61h0m1 5h0m0 11h0m-1 5h0m1 4h0m0 138h0m4-339h0m0 183h0m0 10h0m0 153h0m1-352h0m-1 11h0m1 111h0m0 6h0m-1 45h0m1 10h0m0 21h0m4-78h0m0-5h0m0 11h0m1 5h0m-1 26h0m0 4h0m1 5h0m-1 22h0m0 4h0m0 5h0m5-45h0m1-30h0m-1 4h0m0 32h0m0 4h0m5-48h0m0 10h0m0 5h0m0 25h0m0 5h0m5-40h0m0 5h0m0 6h0m0 24h0m-1 6h0m5-34h0m1-5h0m-1 10h0m5-8h0m1-24h0m4-96h0m0-4h0m0 9h0m1 87h0m-1 5h0m1 6h0m0 20h0m4-126h0m0 5h0m0 6h0m1 86h0m0 6h0m-1 4h0m5-115h0m0 5h0m0 5h0m-1 5h0m1 102h0m0 224h0m0 5h0m0 5h0m0 11h0m0 4h0m0 6h0m0 5h0m5-369h0m0 5h0m0 97h0m0 5h0m0 219h0m-1 5h0m1 5h0m0 5h0m-1 5h0m1 11h0m4-261h0m1 5h0m0 5h0m-1 214h0m0 5h0m0 6h0m1 4h0m0 5h0m0 6h0m-1 10h0m1 10h0m4-262h0m1 6h0m0 168h0m0 10h0m-1 5h0m1 26h0m-1 5h0m0 6h0m1 5h0m-1 5h0m0 20h0m5-263h0m1 6h0m-1 5h0m0 31h0m0 5h0m0 137h0m0 6h0m0 4h0m0 42h0m1 5h0m-1 4h0m5-327h0m0 88h0m0 5h0m0 19h0m0 6h0m0 5h0m0 6h0m0 132h0m0 4h0m0 6h0m0 5h0m0 52h0m5-329h0m0 5h0m0 9h0m-1 98h0m1 5h0m0 5h0m0 6h0m0 4h0m0 132h0m0 6h0m-1 5h0m1 51h0m5-329h0m0 4h0m0 5h0m0 6h0m0 5h0m-1 61h0m1 5h0m0 26h0m0 4h0m0 5h0m0 6h0m0 142h0m0 5h0m0 5h0m0 5h0m0 46h0m0 21h0m4-351h0m1 6h0m-1 4h0m1 5h0m0 62h0m-1 6h0m1 40h0m-1 5h0m0 5h0m1 138h0m0 5h0m0 6h0m0 4h0m4-339h0m1 5h0m-1 50h0m0 6h0m1 71h0m-1 5h0m1 25h0m0 6h0m-1 5h0m1 5h0m-1 153h0m0 5h0m1 41h0m0 10h0m-1 5h0m5-388h0m0 4h0m0 133h0m0 26h0m0 5h0m0 5h0m0 158h0m0 46h0m0 5h0m5-390h0m0 6h0m0 4h0m0 5h0m0 6h0m0 321h0m0 5h0m0 5h0m0 5h0m5-353h0m-1 4h0m1 6h0m-1 5h0m1 327h0m-1 4h0m1 6h0m4-413h0m1 398h0m0 5h0m-1 5h0m1 5h0m0 6h0m0 20h0m0 5h0m4-456h0m1 4h0m0 6h0m0 5h0m-1 5h0m1 383h0m-1 5h0m0 5h0m0 5h0m1 6h0m-1 4h0m1 5h0m0 6h0m-1 5h0m1 4h0m4-448h0m1 6h0m-1 4h0m0 6h0m0 5h0m0 5h0m0 372h0m0 5h0m0 5h0m1 5h0m0 6h0m0 4h0m0 5h0m-1 5h0m0 6h0m5-441h0m0 5h0m0 5h0m0 6h0m0 5h0m0 5h0m0 5h0m0 5h0m0 368h0m0 9h0m0 11h0m0 5h0m5-424h0m0 4h0m0 6h0m0 6h0m0 5h0m0 5h0m0 20h0m0 5h0m0 4h0m0 7h0m0 5h0m0 35h0m0 281h0m0 4h0m0 6h0m0 4h0m0 6h0m-1 5h0m1 5h0m0 5h0m4-417h0m1 20h0m-1 25h0m0 6h0m1 5h0m-1 5h0m1 5h0m0 6h0m0 5h0m-1 10h0m0 5h0m0 5h0m1 5h0m0 15h0m0 5h0m-1 5h0m1 245h0m0 5h0m-1 6h0m0 5h0m1 5h0m0 5h0m-1 5h0m1 4h0m4-359h0m0 6h0m0 5h0m1 5h0m-1 4h0m1 6h0m-1 5h0m1 6h0m0 5h0m0 5h0m-1 5h0m0 4h0m0 16h0m1 5h0m-1 5h0m0 123h0m1 5h0m0 122h0m0 5h0m0 5h0m-1 6h0m1 9h0m4-363h0m1 5h0m-1 5h0m0 6h0m0 5h0m0 5h0m1 5h0m-1 5h0m1 5h0m-1 5h0m0 5h0m1 5h0m-1 5h0m1 21h0m0 5h0m-1 15h0m1 107h0m-1 5h0m0 6h0m1 5h0m0 106h0m-1 6h0m1 4h0m0 6h0m-1 5h0m0 5h0m5-359h0m0 5h0m0 6h0m0 4h0m1 5h0m-1 6h0m0 5h0m0 10h0m1 5h0m-1 6h0m0 5h0m1 41h0m-1 5h0m1 4h0m-1 103h0m1 15h0m0 5h0m-1 6h0m0 96h0m0 5h0m0 5h0m0 5h0m5-353h0m1 4h0m-1 42h0m0 5h0m0 5h0m0 5h0m0 47h0m0 4h0m0 5h0m0 118h0m0 4h0m0 5h0m5-197h0m-1 5h0m1 5h0m0 5h0m0 41h0m-1 5h0m1 5h0m-1 5h0m0 117h0m1 5h0m0 5h0m4-200h0m1 5h0m-1 6h0m1 51h0m-1 4h0m1 5h0m4-12h0m0 5h0m1 6h0m0 10h0m5-21h0m-1 5h0m1 10h0m-1 5h0m5-17h0m5 17h0m0 77h0m0 5h0m0 4h0m5-9h0m0 5h0m-1 4h0m6-11h0m0 10h0m29-19h0m-1 5h0m0 5h0m6-74h0m-1 4h0m1 46h0m0 10h0m0 6h0m0 9h0m5-72h0m-1 5h0m0 45h0m0 11h0m0 5h0m1 5h0m0 5h0m4-78h0m0 6h0m0 40h0m0 10h0m0 5h0m0 5h0m0 5h0m5-75h0m0 5h0m0 5h0m-1 46h0m1 5h0m0 5h0m0 6h0m0 5h0m0 4h0m5-78h0m-1 50h0m1 5h0m0 5h0m0 5h0m-1 6h0m0 5h0m1 5h0m5-100h0m-1 72h0m0 6h0m1 5h0m0 4h0m-1 6h0m1 4h0m4-95h0m0 65h0m0 6h0m0 10h0m0 5h0m0 5h0m0 6h0m0 81h0m5-176h0m0 57h0m0 5h0m0 5h0m0 5h0m0 5h0m0 5h0m0 11h0m4-89h0m1 5h0m0 52h0m0 15h0m0 5h0m0 4h0m0 6h0m5-86h0m0 57h0m0 10h0m0 5h0m0 5h0m-1 5h0m1 6h0m4-27h0m1 5h0m-1 5h0m1 15h0m4-12h0m1 4h0m-1 6h0m0 5h0m5-13h0m0 5h0m5-79h0m0 76h0m0 5h0m0 11h0m5-87h0m0 10h0m0 6h0m-1 71h0m1 5h0m5-99h0m-1 6h0m1 10h0m-1 5h0m6-25h0m-1 5h0m1 6h0m0 4h0m-1 6h0m6 24h0m4-3h0m1 5h0m4-1h0m5-41h0m0 30h0m0 6h0m0 5h0m5-8h0m4-8h0m0 21h0m5-34h0m1 6h0m28 75h0m5-108h0m0 107h0m10-205h0m10 207h0m4 5h0m1-6h0m23-88h0m14 122h0m5 4h0m1-5h0m4-128h0m0 127h0m25-286h0m4 7h0m5 75h0m53 211h0m14 11h0m6-1h0m4-17h0m210-84h0m0 5h0m0 5h0m-1 32h0m1 4h0m0 6h0m0 117h0m0 112h0m0 5h0m4-243h0m1 230h0m-1 5h0m1 5h0m-1 26h0m5-356h0m0 316h0m0 4h0m1 5h0m-1 6h0m5-503h0m0 5h0m0 4h0m0 159h0m0 5h0m0 5h0m5-182h0m0 5h0m0 5h0m0 5h0m0 6h0m0 4h0m0 36h0m0 5h0m0 93h0m0 5h0m0 5h0m0 4h0m0 5h0m0 6h0m5-178h0m0 6h0m0 5h0m0 5h0m0 5h0m0 30h0m0 5h0m0 6h0m0 5h0m-1 46h0m0 4h0m1 6h0m0 25h0m0 5h0m0 5h0m-1 6h0m1 5h0m0 5h0m0 5h0m4-176h0m0 5h0m0 5h0m1 5h0m-1 36h0m0 4h0m1 5h0m0 6h0m-1 46h0m0 4h0m0 6h0m0 20h0m0 5h0m1 6h0m-1 4h0m1 5h0m0 5h0m10-152h0m0 4h0m0 6h0m0 41h0m0 86h0m0 5h0m0 189h0m0 5h0m5-336h0m0 4h0m-1 6h0m1 5h0m-1 117h0m1 5h0m-1 5h0m1 179h0m-1 5h0m1 5h0m0 5h0m4-283h0m0 30h0m0 46h0m0 5h0m0 5h0m0 5h0m1 174h0m-1 4h0m1 11h0m4-288h0m-1 6h0m1 5h0m0 20h0m0 6h0m0 5h0m-1 5h0m1 25h0m-1 5h0m0 5h0m0 6h0m1 5h0m-1 5h0m1 71h0m0 5h0m0 5h0m0 6h0m0 81h0m0 5h0m-1 5h0m1 6h0m0 5h0m-1 4h0m6-296h0m-1 4h0m0 5h0m1 6h0m-1 20h0m1 6h0m-1 4h0m1 10h0m-1 6h0m1 5h0m-1 6h0m0 4h0m0 6h0m1 5h0m-1 5h0m0 5h0m0 5h0m1 76h0m-1 5h0m0 6h0m0 4h0m0 76h0m1 7h0m0 5h0m0 4h0m0 5h0m4-293h0m0 4h0m0 6h0m-1 5h0m1 25h0m0 5h0m-1 5h0m1 6h0m-1 5h0m0 5h0m1 5h0m0 4h0m0 5h0m0 5h0m0 6h0m0 5h0m0 5h0m0 6h0m0 75h0m0 6h0m0 4h0m0 83h0m0 5h0m0 4h0m-1 6h0m6-288h0m0 6h0m-1 5h0m0 5h0m0 20h0m0 21h0m0 5h0m1 5h0m-1 5h0m0 5h0m1 16h0m0 5h0m-1 4h0m0 5h0m0 77h0m0 87h0m1 5h0m-1 5h0m0 5h0m5-227h0m0 5h0m0 5h0m37-84h0m166 284h0m0 5h0m0 10h0m0 5h0m0 5h0m0 6h0m1-21h0m4-13h0m0 6h0m0 9h0m0 11h0m0 5h0m1-21h0m0 10h0m4-2h0m0 5h0m0 52h0m0-46h0m5-50h0m0 10h0m-1 26h0m1 6h0m-1 5h0m0 36h0m1 5h0m0 4h0m0-87h0m0 46h0m0 46h0m4-95h0m1 5h0m0 5h0m0 5h0m-1 21h0m0 5h0m1 4h0m-1 5h0m0 26h0m0 6h0m0 10h0m1-97h0m0 92h0m4-91h0m0 5h0m0 5h0m0 31h0m0 36h0m0 5h0m0 5h0m0 5h0m0 5h0m1-81h0m0 5h0m4-20h0m0 5h0m0 5h0m0 6h0m0 4h0m0 6h0m0 5h0m0 4h0m0 37h0m0 9h0m0 6h0m0 5h0m0 5h0m0-21h0m4-77h0m0 10h0m1 4h0m-1 5h0m1 6h0m0 5h0m0 6h0m0 30h0m0 5h0m0 5h0m0 6h0m0 14h0m0 5h0m0 6h0m0 5h0m0-107h0m0 87h0m4-99h0m1 5h0m0 5h0m-1 5h0m1 5h0m-1 5h0m0 6h0m1 9h0m0 31h0m-1 5h0m1 6h0m-1 10h0m0 4h0m1 6h0m0 5h0m0 10h0m-1 5h0m1-86h0m0 9h0m0 67h0m4-107h0m1 4h0m-1 5h0m0 6h0m1 5h0m-1 5h0m0 4h0m0 6h0m1 5h0m0 5h0m-1 10h0m0 11h0m0 5h0m0 5h0m0 5h0m0 5h0m1 20h0m-1 5h0m1-60h0m0 40h0m4-88h0m0 6h0m1 5h0m-1 4h0m0 6h0m0 5h0m0 16h0m0 9h0m0 15h0m0 6h0m0 5h0m0 5h0m0 5h0m0 25h0m5-92h0m0 9h0m0 15h0m0 6h0m0 20h0m0 5h0m0 6h0m0 5h0m0 5h0m0-67h0m4 20h0m1 5h0m-1 31h0m1 5h0m0 9h0m0 6h0m0-10h0m4-44h0m1 36h0m-1 5h0m1 4h0m0 5h0m0 5h0m4-2h0m0 4h0m5-2h0m0 6h0m0 5h0m5-9h0m0 4h0m0 5h0m12-266h0m0 4h0m-1 6h0m1 4h0m-1 230h0m1 5h0m0 5h0m0 5h0m5-260h0m-1 5h0m0 6h0m0 4h0m0 230h0m1 5h0m-1 5h0m0 6h0m5-262h0m-1 5h0m0 5h0m1 5h0m0 234h0m0 6h0m-1 4h0m5-257h0m0 5h0m0 6h0m21 224h0m0 15h0m1-10h0m0 5h0m3-10h0m0 11h0m1 4h0m-1 5h0m1-15h0m4-3h0m0 5h0m-1 5h0m0 5h0m1 122h0m0 6h0m14-250h0m-1 4h0m0 6h0m4 169h0m1-183h0m0 5h0m0 5h0m0 163h0m0 5h0m0 11h0m4-185h0m0 167h0m0 6h0m0 5h0m0 5h0m0 5h0m0 5h0m4-20h0m1 5h0m-1 6h0m1 5h0m-1 5h0m1 4h0m0 5h0m3-26h0m1 5h0m0 5h0m-1 6h0m1 4h0m0 6h0m-1 5h0m1 4h0m4-36h0m0 6h0m0 5h0m1 5h0m0 5h0m-1 5h0m0 10h0m5-28h0m-1 5h0m0 5h0m1 5h0m0 5h0m0 5h0m0 6h0m11-397h0m0 6h0m0 377h0m5-383h0m-1 204h0m1-256h0m0 56h0m0 5h0m0 184h0m0 5h0m0 148h0m0 5h0m0 6h0m0 20h0m0 5h0m0 5h0m4-441h0m0 51h0m1 15h0m-1 158h0m0 5h0m0 10h0m0 10h0m0 11h0m0 142h0m0 6h0m0 26h0m1-429h0m0 50h0m0 5h0m0 37h0m0 137h0m0 10h0m0 10h0m0 143h0m0 31h0m0 11h0m4-444h0m0 5h0m0 5h0m0 4h0m0 41h0m0 6h0m0 10h0m0 20h0m0 112h0m0 5h0m0 26h0m0 5h0m0 16h0m0 4h0m0 148h0m0 6h0m0 9h0m0 21h0m0-377h0m0 30h0m0 5h0m0 5h0m1 107h0m0 15h0m0 16h0m0 6h0m0 15h0m0 132h0m0 5h0m0 16h0m4-412h0m0 6h0m0 15h0m0 6h0m0 30h0m0 5h0m0 4h0m0 12h0m0 9h0m0 5h0m0 107h0m0 31h0m0 6h0m0 4h0m0 6h0m0 143h0m0 25h0m0 5h0m0-408h0m0 5h0m0 55h0m0 12h0m0 15h0m0 106h0m0 21h0m0 25h0m0 6h0m0 147h0m0 5h0m5-446h0m-1 45h0m1 16h0m0 6h0m0 35h0m-1 5h0m0 6h0m1 4h0m0 5h0m-1 6h0m1 4h0m0 6h0m-1 122h0m0 10h0m0 11h0m1 5h0m0 147h0m0 5h0m-1 5h0m1 5h0m0 31h0m0 5h0m-1 6h0m1-440h0m0 6h0m0 41h0m0 112h0m0 56h0m0 10h0m0 178h0m5-455h0m0 56h0m-1 5h0m1 21h0m-1 4h0m0 16h0m0 6h0m0 4h0m1 11h0m-1 5h0m1 76h0m-1 6h0m1 4h0m-1 51h0m0 5h0m0 5h0m1 6h0m-1 5h0m1 30h0m-1 26h0m0 16h0m1 86h0m-1 5h0m0 30h0m0 6h0m0 5h0m1-373h0m0 230h0m0 148h0m4-494h0m0 82h0m0 4h0m0 21h0m0 6h0m0 5h0m0 5h0m0 5h0m0 5h0m0 51h0m0 5h0m0 11h0m1 4h0m0 5h0m-1 62h0m1 5h0m-1 5h0m0 5h0m0 25h0m0 5h0m0 26h0m0 5h0m0 5h0m0 5h0m0 93h0m0 29h0m0 6h0m4-435h0m0 30h0m1 5h0m0 5h0m0 15h0m0 5h0m0 6h0m0 5h0m0 5h0m-1 5h0m1 5h0m0 5h0m-1 26h0m0 4h0m1 5h0m-1 6h0m1 5h0m0 5h0m-1 6h0m1 4h0m0 5h0m0 5h0m0 56h0m0 6h0m-1 5h0m1 6h0m0 4h0m0 15h0m-1 6h0m1 4h0m-1 32h0m1 5h0m0 5h0m5-318h0m-1 6h0m0 4h0m1 6h0m-1 31h0m0 5h0m1 10h0m0 5h0m-1 62h0m1 4h0m0 6h0m0 5h0m0 5h0m-1 5h0m0 15h0m1 5h0m-1 41h0m1 6h0m0 4h0m-1 6h0m0 4h0m0 5h0m0 6h0m1 5h0m-1 5h0m1 4h0m0 6h0m-1 5h0m0 6h0m1 40h0m-1 41h0m0 4h0m1 6h0m4-372h0m0 5h0m0 11h0m1 5h0m-1 35h0m0 5h0m0 5h0m0 6h0m0 97h0m0 4h0m0 5h0m0 6h0m0 36h0m0 5h0m0 5h0m0 5h0m0 5h0m1 5h0m-1 4h0m0 6h0m0 5h0m1 6h0m-1 56h0m0 5h0m1 5h0m-1 25h0m0 6h0m1 4h0m-1 5h0m5-364h0m0 5h0m0 6h0m0 41h0m0 4h0m0 6h0m0 96h0m0 6h0m0 4h0m0 6h0m0 36h0m0 4h0m0 5h0m0 21h0m0 5h0m0 5h0m0 5h0m0 61h0m0 5h0m0 6h0m-1 20h0m1 6h0m0 9h0m-1 5h0m6-366h0m0 5h0m-1 5h0m1 36h0m-1 5h0m1 5h0m-1 10h0m0 92h0m1 5h0m-1 5h0m0 5h0m1 36h0m-1 6h0m0 25h0m1 5h0m0 5h0m-1 5h0m5-252h0m1 5h0m-1 5h0m0 41h0m1 5h0m-1 5h0"/>
<path stroke="#008fff" d="M403 515h0m0 5h0m0 5h0m0 118h0m0 5h0m0 4h0m0 251h0m0 5h0m-1 5h0m1 10h0m0 5h0m4-415h0m1 5h0m0 4h0m0 7h0m-1 111h0m1 5h0m0 5h0m0 6h0m-1 244h0m1 6h0m0 5h0m-1 5h0m0 5h0m1 4h0m4-413h0m0 9h0m1 6h0m-1 112h0m1 5h0m-1 6h0m0 5h0m1 5h0m-1 244h0m1 5h0m-1 11h0m5-307h0m1 5h0m0 5h0m-1 25h0m0 6h0m0 4h0m0 5h0m5-182h0m0 127h0m0 5h0m0 6h0m0 4h0m0 260h0m0 5h0m5-409h0m0 6h0m0 5h0m0 122h0m0 5h0m0 5h0m0 6h0m0 260h0m0 4h0m4-415h0m1 6h0m0 132h0m0 5h0m-1 6h0m1 260h0m0 4h0m5-411h0m0 142h0m0 271h0m5-413h0m-1 429h0m0 5h0m1 4h0m4-7h0m0 5h0m1 5h0m0 4h0m4-8h0m10-450h0m0 501h0m9-64h0m1 6h0m-1 56h0m6-74h0m0 11h0m-1 4h0m0 5h0m0 5h0m0 6h0m0 4h0m5-28h0m0 4h0m0 6h0m0 5h0m0 6h0m0 4h0m0 5h0m5-33h0m0 5h0m0 5h0m0 10h0m0 11h0m4-28h0m0 26h0m0 5h0m6-36h0m-1 4h0m0 5h0m0 5h0m1 6h0m-1 4h0m0 5h0m5-37h0m0 5h0m0 16h0m1 4h0m-1 6h0m0 5h0m0 5h0m0 5h0m6-151h0m-1 107h0m0 5h0m0 10h0m0 4h0m1 6h0m0 6h0m4-142h0m0 5h0m0 6h0m0 5h0m0 5h0m0 5h0m0 81h0m0 6h0m0 4h0m0 5h0m0 6h0m0 5h0m0 10h0m0 5h0m5-148h0m0 5h0m0 5h0m0 5h0m0 5h0m0 5h0m0 81h0m0 5h0m0 6h0m0 5h0m0 5h0m0 5h0m0 5h0m5-143h0m0 5h0m0 5h0m0 5h0m-1 5h0m1 5h0m-1 87h0m1 5h0m0 5h0m0 5h0m-1 5h0m1 11h0m5-157h0m-1 5h0m1 6h0m-1 5h0m1 5h0m0 5h0m0 5h0m0 5h0m-1 92h0m1 4h0m-1 6h0m0 5h0m1 5h0m0 5h0m-1 6h0m1 5h0m0 14h0m4-367h0m0 188h0m1 5h0m0 5h0m0 5h0m0 5h0m0 5h0m-1 5h0m0 102h0m0 5h0m0 5h0m0 6h0m1 5h0m-1 4h0m0 6h0m1 5h0m0 10h0m4-372h0m0 5h0m0 6h0m0 179h0m0 5h0m1 5h0m-1 5h0m0 4h0m0 6h0m1 5h0m-1 112h0m1 21h0m-1 5h0m0 5h0m0 10h0m0 5h0m5-377h0m0 5h0m0 6h0m0 178h0m0 5h0m0 6h0m0 4h0m0 153h0m0 5h0m4-363h0m1 5h0m0 5h0m0 190h0m0 4h0m0 153h0m0 6h0m0 4h0m0 5h0m5-15h0m0 10h0m0 5h0m5-216h0m0 204h0m0 5h0m0 5h0m4-219h0m1 5h0m-1 6h0m5-8h0m0 5h0m0 6h0m5-111h0m0 107h0m0 5h0m0 5h0m1 168h0m-1 11h0m5-302h0m0 5h0m0 4h0m0 6h0m0 5h0m-1 97h0m1 179h0m0 4h0m0 5h0m0-15h0m5-276h0m-1 6h0m1 4h0m-1 265h0m1 6h0m0 5h0m0 5h0m0-295h0m5 4h0m-1 16h0m1 5h0m-1 5h0m0 245h0m0 5h0m1 6h0m0 4h0m0-281h0m0 286h0m5-274h0m-1 5h0m1 6h0m-1 5h0m0 4h0m0 235h0m1 6h0m-1 5h0m0 4h0m5-268h0m0 10h0m0 239h0m0 11h0m1-255h0m0 11h0m4 236h0m0 31h0m0 10h0m1-15h0m-1 10h0m5-16h0m0 15h0m0 5h0m0 6h0m0-16h0m5-8h0m-1 6h0m1 16h0m0-47h0m0 21h0m0 16h0m0 4h0m4-38h0m1 5h0m0 5h0m-1 5h0m0 11h0m1 9h0m0 5h0m4-48h0m1 25h0m-1 6h0m0 15h0m0 4h0m1-46h0m0 11h0m0 5h0m4-29h0m0 4h0m0 11h0m0 15h0m1-6h0m4-19h0m0 6h0m0 10h0m0 10h0m1-30h0m-1 15h0m5-9h0m0 10h0m0 6h0m0 9h0m0-20h0m0 16h0m4-9h0m1-15h0m0 5h0m0 15h0m0 6h0m0 5h0m4-30h0m1 6h0m-1 10h0m0 16h0m1-11h0m0 6h0m4-24h0m0 25h0m0 5h0m1-34h0m0 15h0m0 5h0m0 5h0m25-308h0m0 6h0m0 5h0m0 4h0m0 16h0m-1 4h0m0 6h0m0 5h0m1 271h0m-1 4h0m1 5h0m0 5h0m-1 5h0m5-375h0m0 5h0m1 5h0m-1 25h0m1 5h0m0 6h0m0 5h0m-1 20h0m1 5h0m0 5h0m-1 6h0m1 270h0m-1 5h0m1 5h0m0 5h0m4-377h0m0 5h0m0 5h0m0 5h0m0 26h0m0 5h0m1 6h0m-1 4h0m1 21h0m0 5h0m-1 5h0m0 275h0m1 5h0m0 5h0m4-372h0m0 5h0m0 5h0m0 5h0m0 31h0m0 6h0m0 305h0m0 5h0m1 6h0m4-10h0m0 5h0m0 5h0m0 5h0m5-10h0m0 5h0m0 4h0m5-393h0m-1 5h0m0 377h0m0 5h0m0 5h0m5-444h0m0 55h0m1 5h0m0 118h0m-1 4h0m0 6h0m1 239h0m-1 6h0m0 5h0m0 5h0m6-447h0m-1 5h0m0 5h0m0 5h0m1 6h0m-1 4h0m0 36h0m1 5h0m-1 87h0m0 5h0m0 5h0m1 5h0m-1 10h0m0 5h0m0 6h0m0 4h0m1 231h0m-1 4h0m1 5h0m-1 6h0m1 5h0m-1 4h0m5-450h0m0 4h0m0 6h0m0 5h0m0 5h0m0 5h0m0 5h0m0 6h0m0 30h0m0 91h0m0 6h0m0 5h0m0 5h0m0 6h0m0 4h0m0 5h0m0 6h0m0 189h0m0 40h0m0 6h0m0 4h0m0 5h0m0 5h0m0 6h0m0 4h0m20-451h0m0 6h0m0 5h0m-1 5h0m1 15h0m0 5h0m0 5h0m-1 5h0m0 47h0m1 4h0m0 6h0m-1 4h0m1 72h0m0 5h0m0 6h0m-1 4h0m1 6h0m0 4h0m-1 5h0m1 6h0m-1 164h0m0 5h0m1 4h0m0 10h0m0 6h0m-1 4h0m0 6h0m0 5h0m1 4h0m-1 6h0m1 5h0m0 5h0m0 5h0m0 6h0m-1 56h0m5-468h0m0 5h0m0 51h0m0 5h0m1 6h0m-1 4h0m1 72h0m-1 4h0m1 5h0m-1 6h0m0 204h0m0 5h0m0 5h0m0 6h0m1 4h0m-1 5h0m1 6h0m-1 5h0m1 5h0m-1 5h0m1 5h0m-1 30h0m0 6h0m0 15h0m0 5h0m5-468h0m0 27h0m0 30h0m0 15h0m0 5h0m0 5h0m0 5h0m0 31h0m0 6h0m0 4h0m0 6h0m0 4h0m0 6h0m0 5h0m0 5h0m0 214h0m0 5h0m0 25h0m0 6h0m0 5h0m0 5h0m0 4h0m0 37h0m0 5h0m0 5h0m5-444h0m0 5h0m0 51h0m0 6h0m0 4h0m0 20h0m0 6h0m0 5h0m0 5h0m0 5h0m-1 5h0m1 5h0m0 5h0m0 6h0m0 214h0m0 4h0m0 6h0m0 26h0m0 5h0m0 5h0m0 4h0m0 5h0m0 6h0m0 15h0m0 5h0m0 5h0m0 16h0m0 4h0m4-453h0m1 5h0m0 5h0m0 51h0m-1 6h0m1 4h0m-1 6h0m0 19h0m0 6h0m0 5h0m1 5h0m-1 6h0m1 4h0m0 224h0m0 6h0m-1 5h0m1 5h0m0 6h0m0 4h0m0 11h0m-1 5h0m1 4h0m0 5h0m0 6h0m0 9h0m0 11h0m-1 6h0m1 15h0m-1 5h0m5-480h0m1 5h0m-1 6h0m0 4h0m0 6h0m0 5h0m0 5h0m0 6h0m0 4h0m0 5h0m0 6h0m0 5h0m0 35h0m1 5h0m-1 6h0m0 30h0m0 6h0m1 4h0m-1 6h0m1 4h0m0 220h0m-1 5h0m0 6h0m0 4h0m0 5h0m0 5h0m0 5h0m1 5h0m0 6h0m-1 5h0m0 5h0m0 5h0m0 5h0m1 15h0m-1 6h0m5-501h0m1 46h0m-1 4h0m0 5h0m0 5h0m0 5h0m0 16h0m0 5h0m0 5h0m0 5h0m0 5h0m0 6h0m0 4h0m0 26h0m0 5h0m0 5h0m1 5h0m-1 26h0m1 5h0m-1 5h0m0 5h0m0 5h0m1 21h0m-1 198h0m0 5h0m0 6h0m0 5h0m0 4h0m0 6h0m0 5h0m0 5h0m0 5h0m0 6h0m0 5h0m0 4h0m0 6h0m0 4h0m0 5h0m0 6h0m0 5h0m1 5h0m-1 5h0m5-510h0m0 45h0m0 6h0m0 5h0m-1 5h0m1 5h0m0 36h0m0 5h0m0 5h0m0 25h0m0 6h0m0 5h0m0 4h0m0 5h0m0 26h0m0 6h0m0 5h0m0 4h0m0 10h0m0 6h0m0 5h0m0 199h0m0 5h0m0 5h0m-1 5h0m0 5h0m1 5h0m-1 11h0m1 9h0m0 6h0m0 5h0m0 5h0m0 5h0m-1 5h0m1 5h0m-1 5h0m1 6h0m0 5h0m5-466h0m-1 5h0m1 5h0m0 5h0m0 5h0m-1 20h0m1 26h0m0 31h0m0 5h0m0 5h0m0 5h0m-1 30h0m1 6h0m0 15h0m-1 5h0m1 5h0m-1 5h0m0 194h0m1 5h0m-1 5h0m1 6h0m-1 5h0m0 5h0m0 4h0m0 6h0m1 15h0m0 5h0m0 6h0m0 5h0m-1 4h0m0 11h0m1 5h0m4-448h0m0 5h0m0 26h0m0 4h0m1 6h0m-1 10h0m0 5h0m1 25h0m0 5h0m0 5h0m-1 5h0m0 6h0m1 51h0m0 4h0m-1 6h0m0 5h0m0 194h0m0 5h0m1 5h0m0 5h0m-1 5h0m0 31h0m1 5h0m-1 25h0m5-435h0m0 20h0m0 6h0m0 5h0m0 4h0m0 6h0m0 5h0m0 5h0m0 16h0m0 5h0m0 5h0m0 5h0m0 5h0m0 5h0m0 5h0m0 5h0m0 46h0m0 5h0m0 51h0m0 6h0m0 4h0m0 31h0m0 5h0m0 5h0m0 5h0m0 6h0m0 96h0m0 46h0m5-407h0m0 6h0m0 5h0m0 5h0m0 5h0m0 5h0m-1 5h0m1 5h0m0 6h0m0 4h0m0 21h0m-1 6h0m1 4h0m0 5h0m0 5h0m0 5h0m0 6h0m0 4h0m0 6h0m-1 92h0m1 5h0m0 5h0m0 5h0m0 31h0m0 4h0m0 5h0m0 6h0m0 4h0m-1 134h0m1 4h0m0 52h0m4-452h0m1 5h0m-1 5h0m1 5h0m-1 5h0m0 5h0m1 5h0m-1 6h0m1 4h0m0 26h0m0 5h0m-1 5h0m0 5h0m0 6h0m0 5h0m1 5h0m0 4h0m0 6h0m-1 86h0m1 6h0m0 5h0m-1 4h0m1 31h0m-1 6h0m0 5h0m0 5h0m0 4h0m0 133h0m0 6h0m0 4h0m1 47h0m-1 4h0m1 6h0m4-448h0m1 4h0m0 6h0m-1 4h0m0 6h0m1 5h0m0 5h0m0 21h0m0 5h0m-1 5h0m1 4h0m-1 6h0m0 4h0m0 6h0m0 5h0m0 5h0m0 5h0m0 6h0m0 5h0m0 81h0m1 6h0m-1 4h0m0 36h0m1 6h0m-1 152h0m0 31h0m0 4h0m0 17h0m5-479h0m0 5h0m0 6h0m0 4h0m0 26h0m0 5h0m0 5h0m0 56h0m0 5h0m0 5h0m0 6h0m0 4h0m0 6h0m0 4h0m0 52h0m0 5h0m0 5h0m0 102h0m0 5h0m0 5h0m0 5h0m0 113h0m0 35h0m0 5h0m0 6h0m5-475h0m0 5h0m0 5h0m0 5h0m0 21h0m-1 5h0m0 4h0m0 6h0m1 62h0m0 5h0m0 5h0m0 5h0m0 5h0m0 5h0m0 26h0m-1 4h0m1 6h0m0 5h0m0 4h0m0 6h0m0 5h0m-1 5h0m0 92h0m0 5h0m0 5h0m1 5h0m-1 5h0m1 143h0m0 5h0m0 10h0m4-473h0m1 5h0m-1 6h0m0 5h0m1 4h0m0 16h0m-1 5h0m0 6h0m1 4h0m0 67h0m-1 5h0m0 41h0m0 5h0m1 5h0m0 5h0m-1 5h0m0 5h0m1 5h0m0 6h0m0 101h0m-1 6h0m0 4h0m1 6h0m-1 142h0m1 5h0m4-462h0m0 5h0m0 4h0m0 5h0m0 11h0m0 6h0m0 4h0m0 6h0m0 5h0m0 4h0m0 57h0m0 5h0m0 4h0m0 57h0m0 5h0m0 5h0m0 6h0m0 4h0m0 6h0m0 102h0m0 4h0m0 5h0m0 78h0m0 4h0m0 77h0m0 4h0m1 6h0m3-472h0m1 19h0m-1 5h0m1 5h0m0 6h0m0 5h0m0 61h0m0 5h0m0 5h0m-1 61h0m1 6h0m0 4h0m0 5h0m0 6h0m0 20h0m0 5h0m0 5h0m0 6h0m0 66h0m-1 5h0m1 5h0m0 72h0m0 4h0m0 5h0m0 6h0m0 71h0m0 5h0m5-431h0m0 5h0m0 61h0m0 5h0m0 5h0m0 62h0m0 4h0m0 6h0m0 4h0m0 6h0m-1 20h0m1 5h0m0 5h0m-1 6h0m1 61h0m0 5h0m0 5h0m0 77h0m0 4h0m0 6h0m5-345h0m-1 60h0m1 6h0m-1 4h0m1 11h0m-1 4h0m1 5h0m0 47h0m-1 4h0m0 5h0m1 6h0m-1 25h0m0 6h0m0 56h0m0 5h0m0 5h0m0 5h0m0 5h0m0 76h0m0 6h0m1 5h0m21-383h0m1 5h0m-1 46h0m0 6h0m1 4h0m-1 5h0m1 41h0m0 5h0m-1 5h0m0 5h0m0 5h0m0 5h0m0 6h0m1 5h0m-1 5h0m0 6h0m1 30h0m-1 5h0m0 4h0m1 6h0m0 5h0m-1 5h0m0 143h0m0 5h0m1 6h0m-1 4h0m1 6h0m0 5h0m-1 26h0m0 4h0m0 5h0m5-417h0m1 5h0m0 5h0m0 46h0m-1 5h0m1 6h0m-1 19h0m1 6h0m0 5h0m-1 5h0m0 15h0m1 5h0m-1 5h0m0 6h0m1 4h0m-1 6h0m1 5h0m0 5h0m0 36h0m-1 4h0m0 6h0m0 4h0m0 153h0m1 6h0m-1 5h0m0 5h0m0 5h0m1 5h0m0 26h0m0 5h0m-1 5h0m5-419h0m1 6h0m-1 5h0m0 41h0m1 4h0m-1 5h0m1 6h0m-1 20h0m0 5h0m0 5h0m0 5h0m0 31h0m0 5h0m0 5h0m0 6h0m0 45h0m0 5h0m0 153h0m0 5h0m0 5h0m0 5h0m0 6h0m0 4h0m0 5h0m0 27h0m0 5h0m0 5h0m5-462h0m0 41h0m0 4h0m-1 5h0m1 5h0m0 42h0m0 30h0m0 5h0m-1 5h0m1 6h0m0 4h0m0 241h0m0 4h0m0 6h0m0 5h0m0 4h0m-1 6h0m1 5h0m0 5h0m0 92h0m4-513h0m0 4h0m1 6h0m-1 4h0m0 6h0m1 25h0m0 5h0m0 87h0m-1 5h0m1 6h0m-1 229h0m1 5h0m-1 5h0m1 11h0m0 5h0m0 4h0m0 6h0m0 4h0m-1 67h0m0 5h0m1 5h0m-1 5h0m1 5h0m5-506h0m-1 5h0m0 5h0m0 6h0m1 9h0m-1 26h0m1 5h0m0 5h0m-1 5h0m0 5h0m0 77h0m0 5h0m0 5h0m0 225h0m0 4h0m1 6h0m-1 4h0m1 72h0m-1 20h0m0 6h0m1 4h0m-1 10h0m5-511h0m0 5h0m0 5h0m0 5h0m0 16h0m0 21h0m0 4h0m0 6h0m0 4h0m0 6h0m0 77h0m0 4h0m1 5h0m-1 5h0m0 229h0m0 6h0m0 71h0m0 6h0m0 19h0m1 6h0m-1 5h0m0 6h0m4-481h0m1 5h0m0 10h0m0 5h0m0 6h0m-1 5h0m1 4h0m0 77h0m-1 5h0m1 5h0m-1 5h0m1 5h0m0 307h0m-1 9h0m1 26h0m4-473h0m1 5h0m0 6h0m0 5h0m-1 5h0m0 5h0m1 5h0m-1 57h0m0 4h0m0 16h0m1 5h0m0 4h0m-1 6h0m0 240h0m0 76h0m1 6h0m0 5h0m-1 24h0m0 6h0m1 5h0m5-485h0m-1 4h0m1 6h0m-1 5h0m0 5h0m0 5h0m0 61h0m0 5h0m0 5h0m0 5h0m0 6h0m1 4h0m-1 6h0m0 5h0m0 234h0m0 5h0m1 6h0m-1 71h0m1 5h0m4-468h0m0 5h0m0 5h0m0 5h0m0 10h0m0 5h0m0 5h0m0 5h0m0 67h0m0 5h0m0 5h0m0 5h0m0 10h0m0 6h0m0 4h0m0 6h0m0 230h0m0 4h0m0 6h0m0 76h0m0 4h0m0 6h0m0 30h0m0 6h0m5-513h0m-1 5h0m1 5h0m-1 5h0m1 6h0m0 4h0m0 51h0m-1 5h0m0 26h0m1 5h0m0 6h0m0 4h0m0 16h0m-1 5h0m1 5h0m-1 229h0m0 11h0m0 4h0m1 119h0m4-508h0m1 5h0m0 4h0m0 5h0m-1 62h0m1 5h0m-1 5h0m0 5h0m0 10h0m1 5h0m0 5h0m-1 5h0m1 21h0m0 4h0m-1 5h0m1 215h0m0 5h0m0 6h0m0 4h0m0 6h0m-1 122h0m0 5h0m5-516h0m1 5h0m0 4h0m0 7h0m-1 71h0m1 5h0m0 4h0m-1 266h0m1 5h0m-1 5h0m0 5h0m0 5h0m0 5h0m5-389h0m0 4h0m0 57h0m0 4h0m0 31h0m0 52h0m0 214h0m0 5h0m0 5h0m0 5h0m0 5h0m0 133h0m17-496h0m0 4h0m1 5h0m0 6h0m0 5h0m-1 30h0m1 5h0m-1 21h0m0 5h0m1 5h0m0 35h0m-1 6h0m1 5h0m0 5h0m0 5h0m-1 52h0m0 158h0m1 4h0m0 6h0m0 51h0m0 5h0m0 5h0m-1 50h0m1 5h0m5-484h0m0 5h0m-1 6h0m1 4h0m-1 6h0m0 45h0m0 5h0m0 6h0m1 5h0m-1 5h0m1 4h0m-1 37h0m1 5h0m-1 5h0m0 5h0m0 5h0m1 266h0m0 4h0m0 6h0m0 5h0m0 5h0m-1 4h0m6-442h0m-1 4h0m0 6h0m1 4h0m0 5h0m-1 41h0m1 10h0m-1 6h0m0 5h0m1 5h0m-1 4h0m0 327h0m1 5h0m-1 6h0m0 10h0m0 5h0m0 51h0m1 6h0m4-498h0m0 5h0m0 5h0m0 4h0m0 42h0m1 5h0m-1 5h0m0 5h0m0 5h0m1 5h0m-1 5h0m0 326h0m0 5h0m0 6h0m0 5h0m0 6h0m0 4h0m0 46h0m0 11h0m5-498h0m0 5h0m0 5h0m-1 11h0m1 4h0m0 16h0m0 10h0m-1 5h0m0 5h0m1 5h0m0 6h0m0 5h0m0 5h0m0 209h0m-1 5h0m1 5h0m0 5h0m0 117h0m0 11h0m0 4h0m0 6h0m0 20h0m0 5h0m0 21h0m0 5h0m0 5h0m0 5h0m5-509h0m0 5h0m-1 4h0m1 7h0m0 4h0m0 6h0m0 5h0m-1 25h0m0 5h0m1 21h0m0 209h0m0 5h0m0 4h0m0 5h0m0 6h0m-1 5h0m1 72h0m-1 4h0m1 42h0m-1 4h0m1 6h0m-1 5h0m1 5h0m0 5h0m0 6h0m-1 4h0m1 5h0m-1 15h0m1 6h0m0 5h0m-1 5h0m1 5h0m0 5h0m4-511h0m0 5h0m1 5h0m0 16h0m0 25h0m-1 10h0m1 15h0m0 5h0m-1 5h0m1 57h0m-1 5h0m1 142h0m0 6h0m0 5h0m-1 5h0m1 81h0m0 47h0m-1 5h0m0 5h0m0 5h0m1 5h0m0 5h0m-1 10h0m1 5h0m-1 11h0m0 20h0m0 5h0m5-509h0m0 5h0m0 5h0m0 35h0m0 11h0m1 5h0m-1 5h0m0 5h0m1 5h0m0 5h0m-1 5h0m0 57h0m0 5h0m0 5h0m0 5h0m1 220h0m-1 5h0m0 5h0m0 5h0m0 4h0m1 36h0m0 5h0m-1 5h0m0 6h0m0 5h0m0 5h0m0 5h0m0 10h0m0 10h0m0 15h0m1 5h0m4-502h0m0 4h0m0 5h0m0 5h0m0 6h0m0 4h0m0 6h0m0 5h0m0 5h0m1 5h0m-1 5h0m1 6h0m-1 4h0m0 10h0m1 5h0m-1 6h0m0 5h0m0 5h0m1 26h0m-1 5h0m1 14h0m-1 6h0m0 11h0m0 224h0m0 5h0m0 5h0m0 5h0m0 5h0m0 41h0m0 15h0m0 4h0m0 32h0m0 9h0m0 6h0m5-497h0m0 6h0m0 4h0m0 5h0m0 6h0m0 5h0m0 10h0m0 5h0m0 31h0m0 5h0m0 5h0m0 5h0m0 5h0m0 15h0m0 5h0m0 6h0m0 24h0m0 230h0m0 5h0m0 6h0m0 4h0m0 36h0m0 6h0m0 5h0m0 5h0m0 5h0m5-450h0m0 4h0m0 5h0m-1 6h0m1 5h0m0 4h0m0 6h0m0 5h0m0 5h0m0 5h0m-1 46h0m1 5h0m0 5h0m-1 5h0m1 5h0m0 5h0m0 6h0m0 300h0m0 11h0m0 4h0m-1 6h0m6-445h0m0 6h0m-1 4h0m0 16h0m1 5h0m-1 5h0m1 5h0m-1 5h0m0 51h0m0 5h0m1 6h0m-1 5h0m1 5h0m-1 5h0m1 5h0m0 5h0m-1 260h0m1 30h0m0 6h0m0 4h0m-1 5h0m1 6h0m0 5h0m4-456h0m0 6h0m0 4h0m0 6h0m0 16h0m0 4h0m0 5h0m0 6h0m0 30h0m1 5h0m-1 15h0m1 6h0m0 4h0m-1 21h0m1 5h0m-1 6h0m0 4h0m0 5h0m0 5h0m1 250h0m-1 6h0m0 20h0m1 5h0m-1 5h0m1 11h0m0 5h0m0 5h0m-1 5h0m1 14h0m4-478h0m0 6h0m0 4h0m0 5h0m0 11h0m0 10h0m0 5h0m1 31h0m0 9h0m0 11h0m-1 5h0m0 31h0m0 5h0m0 4h0m0 6h0m0 6h0m1 4h0m0 5h0m0 240h0m-1 5h0m0 5h0m0 25h0m0 6h0m1 5h0m0 5h0m-1 5h0m1 6h0m-1 4h0m0 5h0m1 6h0m-1 5h0m0 5h0m0 30h0m5-505h0m0 5h0m0 31h0m0 41h0m0 4h0m0 5h0m0 6h0m0 30h0m0 11h0m0 5h0m0 4h0m0 6h0m0 240h0m0 5h0m0 5h0m0 5h0m1 25h0m-1 6h0m0 10h0m0 4h0m0 6h0m1 5h0m-1 5h0m0 5h0m0 6h0m0 25h0m1 5h0m4-506h0m0 16h0m0 15h0m0 5h0m0 5h0m0 36h0m0 4h0m0 6h0m0 5h0m0 25h0m0 5h0m0 5h0m0 6h0m0 4h0m0 6h0m0 5h0m0 254h0m0 26h0m0 10h0m0 5h0m0 6h0m0 5h0m-1 9h0m1 6h0m5-429h0m-1 36h0m1 4h0m-1 6h0m1 5h0m0 4h0m0 6h0m0 4h0m0 6h0m0 5h0m0 5h0m0 5h0m-1 6h0m1 5h0m0 5h0m0 4h0m0 291h0m0 5h0m0 5h0m0 6h0m0 5h0m0 5h0m0 35h0m0 6h0m0 4h0m5-498h0m0 61h0m-1 5h0m1 5h0m0 6h0m-1 4h0m0 5h0m1 6h0m0 5h0m0 5h0m0 6h0m0 4h0m-1 331h0m1 6h0m-1 4h0m1 37h0m-1 10h0m6-438h0m-1 4h0m0 6h0m1 5h0m-1 5h0m0 5h0m0 5h0m0 6h0m0 5h0m0 4h0m0 6h0m0 35h0m0 281h0m1 6h0m0 4h0m0 5h0m-1 5h0m1 6h0m-1 36h0m1 4h0m5-445h0m-1 5h0m0 5h0m0 5h0m1 5h0m-1 6h0m0 20h0m0 5h0m0 5h0m1 6h0m0 25h0m-1 5h0m1 6h0m-1 5h0m0 270h0m0 4h0m0 6h0m0 56h0m0 5h0m0 5h0m6-496h0m-1 46h0m0 4h0m0 5h0m0 6h0m0 5h0m0 5h0m0 30h0m0 31h0m0 5h0m0 5h0m0 5h0m0 271h0m0 5h0m0 5h0m0 4h0m0 57h0m0 11h0m5-455h0m0 10h0m0 5h0m0 5h0m0 6h0m0 55h0m0 6h0m0 5h0m0 4h0m0 6h0m0 270h0m0 5h0m0 10h0m0 37h0m0 4h0m0 31h0m4-470h0m1 10h0m0 5h0m0 5h0m-1 6h0m0 5h0m1 5h0m0 56h0m0 5h0m0 4h0m0 6h0m-1 270h0m0 6h0m1 4h0m-1 5h0m0 6h0m1 30h0m-1 16h0m1 26h0m5-468h0m-1 16h0m0 5h0m1 5h0m-1 5h0m1 16h0m0 5h0m0 326h0m0 5h0m-1 5h0m0 6h0m1 5h0m0 5h0m-1 5h0m0 30h0m0 6h0m5-492h0m0 11h0m0 14h0m0 36h0m1 21h0m0 5h0m-1 4h0m0 6h0m0 5h0m1 6h0m0 311h0m-1 4h0m0 6h0m1 5h0m-1 4h0m0 5h0m0 5h0m1 6h0m-1 25h0m0 6h0m1 15h0m4-497h0m0 6h0m0 15h0m1 5h0m-1 30h0m0 27h0m0 4h0m0 5h0m0 6h0m0 5h0m0 4h0m0 312h0m1 5h0m-1 10h0m0 11h0m0 5h0m0 5h0m0 50h0m5-455h0m0 5h0m0 30h0m0 6h0m0 5h0m0 5h0m0 5h0m0 316h0m0 6h0m0 4h0m0 5h0m0 16h0m0 5h0m0 40h0m0 6h0m0 5h0m5-502h0m0 5h0m0 72h0m0 10h0m0 5h0m0 4h0m-1 333h0m1 4h0m0 10h0m0 6h0m0 5h0m-1 5h0m1 5h0m5-454h0m0 5h0m0 36h0m0 20h0m0 6h0m0 4h0m-1 11h0m1 5h0m0 352h0m-1 10h0m1 5h0m0 6h0m5-456h0m-1 10h0m0 5h0m1 25h0m-1 5h0m1 6h0m-1 4h0m1 6h0m0 15h0m0 5h0m0 6h0m0 300h0m-1 6h0m0 4h0m1 46h0m-1 5h0m1 6h0m-1 36h0m5-491h0m0 10h0m1 4h0m-1 26h0m0 6h0m0 5h0m0 5h0m0 4h0m0 16h0m1 5h0m-1 5h0m1 5h0m-1 301h0m0 5h0m0 5h0m0 6h0m1 4h0m-1 36h0m1 41h0m5-447h0m-1 5h0m0 5h0m0 5h0m0 5h0m0 16h0m0 4h0m0 5h0m0 6h0m0 291h0m0 5h0m0 5h0m0 4h0m0 6h0m0 5h0m1 77h0m4-448h0m0 5h0m0 6h0m0 4h0m0 6h0m0 15h0m0 5h0m0 5h0m-1 5h0m1 296h0m0 5h0m0 5h0m0 6h0m0 4h0m0 36h0m0 5h0m-1 31h0m1 5h0m5-453h0m0 11h0m-1 15h0m0 15h0m1 5h0m-1 11h0m0 301h0m0 4h0m1 6h0m0 41h0m0 5h0m0 5h0m-1 25h0m0 5h0m1 6h0m5-452h0m0 31h0m-1 5h0m0 5h0m1 4h0m0 307h0m-1 10h0m1 56h0m-1 21h0m1 5h0m0 5h0m0 5h0m-1 5h0m5-426h0m0 10h0m1 15h0m-1 6h0m1 5h0m-1 5h0m0 316h0m0 20h0m0 5h0m0 6h0m0 25h0m1-408h0m4-2h0m0 6h0m0 15h0m0 4h0m0 6h0m0 5h0m0 5h0m0 311h0m0 6h0m0 4h0m0 41h0m1 5h0m4-390h0m0 5h0m0 5h0m0 10h0m0 316h0m0 5h0m0 52h0m0 5h0m1-383h0m4-24h0m0 5h0m0 5h0m-1 5h0m0 5h0m1 199h0m0 128h0m0 55h0m4-402h0m0 16h0m0 203h0m1 5h0m0 5h0m0 154h0m0 10h0m0 10h0m0 6h0m0-475h0m0 72h0m0 4h0m4-124h0m0 40h0m0 72h0m0 9h0m0 6h0m1 35h0m-1 179h0m1 164h0m-1 4h0m0 6h0m0 10h0m1-474h0m0 81h0m0 25h0m0 174h0m0 5h0m0 11h0m4-299h0m0 66h0m1 11h0m-1 16h0m0 4h0m0 6h0m1 5h0m0 9h0m-1 169h0m0 10h0m0 153h0m0 11h0m0 5h0m1-393h0m0 15h0m0 25h0m0 179h0m0 179h0m4-481h0m0 87h0m0 5h0m0 15h0m0 6h0m0 5h0m0 351h0m0 5h0m0 10h0m1-388h0m0 6h0m0 20h0m-1 5h0m5-144h0m0 112h0m0 5h0m0 5h0m0 10h0m0 6h0m0 5h0m0 351h0m0-367h0m0 373h0m5-492h0m-1 103h0m1 5h0m0 10h0m-1 15h0m1 5h0m0-25h0m0 16h0m0 361h0m4-385h0m0 5h0m0 4h0m1 11h0m-1 5h0m1 6h0m-1 346h0m1-362h0m0 21h0m0 356h0m4-389h0m0 10h0m0 5h0m0 5h0m0 11h0m0 270h0m0 10h0m0 31h0m1 10h0m-1 20h0m0 11h0m1-378h0m0 342h0m0 15h0m0 26h0m0 5h0m4-525h0m0 133h0m0 4h0m0 6h0m0 9h0m0 10h0m0 271h0m0 5h0m0 11h0m0 24h0m0 5h0m0 6h0m0 21h0m0 5h0m0 15h0m1-378h0m0 11h0m0 286h0m-1 56h0m1 15h0m0 5h0m4-510h0m0 126h0m0 6h0m0 5h0m0 10h0m0 6h0m0 274h0m0 36h0m0 5h0m0 6h0m0 4h0m0 31h0m0-387h0m0 19h0m0 297h0m0 45h0m0 32h0m4-532h0m1 66h0m0 76h0m0 11h0m0 11h0m0 10h0m-1 270h0m1 5h0m0 5h0m0 41h0m0 5h0m0-353h0m0 21h0m0 291h0m0 21h0m0 5h0m0 5h0m0 30h0m0 10h0m5-511h0m0 46h0m0 102h0m0 275h0m0 27h0m0 14h0m-1 11h0m1 36h0m0 4h0m0-463h0m0 65h0m0 5h0m0 306h0m0 6h0m0 4h0m0 32h0m4-469h0m1 51h0m-1 5h0m0 5h0m0 51h0m0 11h0m0 5h0m0 295h0m0 6h0m0 4h0m0 6h0m0 4h0m0 6h0m0 5h0m0 5h0m0 10h0m0 5h0m0 10h0m0 27h0m1-516h0m0 51h0m0 72h0m0 346h0m0 16h0m0 35h0m4-521h0m0 10h0m0 40h0m0 10h0m0 57h0m0 4h0m0 5h0m0 11h0m0 316h0m0 6h0m0 14h0m0 11h0m0 4h0m0 16h0m1-499h0m-1 51h0m1 75h0m-1 306h0m1 27h0m0 5h0m0 10h0m0 35h0m0 5h0m4-519h0m0 5h0m0 52h0m0 5h0m0 76h0m0 5h0m0 306h0m0 11h0m0 4h0m0 41h0m0 6h0m0-516h0m0 56h0m1 77h0m0 4h0m-1 322h0m0 16h0m0 5h0m0 15h0m5-441h0m0 11h0m0 397h0m0 6h0m0-409h0m0 11h0m0 71h0m0 5h0m0 6h0m0 321h0m0 5h0m0 25h0m0 5h0m0 10h0m4-461h0m0 16h0m1 66h0m-1 327h0m1 10h0m0-423h0m0 9h0m0 6h0m0 10h0m0 5h0m0 61h0m0 5h0m0 5h0m0 307h0m0 19h0m4-497h0m0 102h0m0 72h0m1 311h0m-1 10h0m1-505h0m0 15h0m0 78h0m0 4h0m0 5h0m0 5h0m0 62h0m0 5h0m0 5h0m0 311h0m0 10h0m4-492h0m0 96h0m0 10h0m0 61h0m0 6h0m0 310h0m0 6h0m1-398h0m0 10h0m0 61h0m0 15h0m-1 6h0m1 356h0m4-370h0m0-168h0m0 164h0m1 10h0m-1 5h0m0 5h0m1 363h0m4-460h0m0 82h0m0-77h0m0 71h0m0 11h0m1 6h0m-1 5h0m0 351h0m0 5h0m5-395h0m0 19h0m0 10h0m0-178h0m0 5h0m0 82h0m0 5h0m0 6h0m0 45h0m0 10h0m0 6h0m0 4h0m0 11h0m0 10h0m4-116h0m0 20h0m0 10h0m0 51h0m1-148h0m0 5h0m0 52h0m0 5h0m0 10h0m0 10h0m0 10h0m0 51h0m0 10h0m0 5h0m4-91h0m0 10h0m0 10h0m0 11h0m0 50h0m0 7h0m1-98h0m0 5h0m0 10h0m0 11h0m0 10h0m0 10h0m-1 6h0m1 341h0m0 10h0m4-391h0m0 10h0m0 41h0m0 5h0m1-61h0m0 10h0m0 10h0m0 5h0m-1 6h0m0 5h0m0 4h0m0 6h0m0 5h0m1 336h0m0 11h0m4-380h0m0 11h0m0-21h0m0 5h0m0 11h0m0 10h0m0 5h0m0 5h0m1 15h0m-1 5h0m1 321h0m-1 6h0m5-441h0m0 5h0m0 61h0m0 6h0m0 41h0m0 321h0m5-434h0m0 112h0m0 4h0m0 6h0m0 4h0m4-6h0m1-4h0m0 10h0m0 5h0m4-75h0m0 61h0m0 6h0m0-11h0m0 21h0m0 5h0m1 127h0m4-210h0m0 5h0m0 205h0m1-214h0m-1 61h0m0 4h0m0 6h0m0 5h0m1 4h0m0 26h0m-1 6h0m0 4h0m1 87h0m-1 5h0m1 10h0m4-218h0m0 5h0m0 5h0m0 51h0m0 5h0m0 6h0m0 5h0m0 26h0m0 4h0m0 5h0m0 6h0m0 82h0m0 4h0m0 5h0m0 5h0m0 5h0m5-202h0m0 56h0m0-76h0m0 5h0m0 5h0m0 5h0m0 11h0m0 4h0m0 36h0m0 6h0m0 35h0m0 5h0m0 6h0m0 86h0m0 5h0m0 6h0m0 5h0m5-230h0m-1 16h0m1 5h0m0 4h0m0 6h0m0 5h0m0 6h0m0 5h0m0 5h0m0 30h0m0 5h0m0 31h0m0 5h0m0 92h0m0 10h0m0 5h0m0 5h0m4-9h0m1-234h0m0 10h0m-1 20h0m0 6h0m1 4h0m0 6h0m0 5h0m0 5h0m0 6h0m-1 4h0m1 5h0m0 16h0m-1 5h0m1 5h0m0 132h0m-1 11h0m1 5h0m4-201h0m0 25h0m0 163h0m0-199h0m1 5h0m-1 10h0m1 5h0m0 5h0m-1 6h0m0 10h0m0 5h0m0 6h0m0 4h0m0 6h0m1 4h0m-1 139h0m0 5h0m1 5h0m0 153h0m0 5h0m0 4h0m4-374h0m0 5h0m0 15h0m0 5h0m0 5h0m0 5h0m0 5h0m0 5h0m0 5h0m0 6h0m0 5h0m1 5h0m0 45h0m-1 93h0m0 10h0m1 153h0m-1 5h0m1 5h0m4-437h0m0 92h0m0 5h0m0 5h0m0 20h0m1 5h0m-1 41h0m0 6h0m1 9h0m-1 87h0m0 5h0m0 148h0m0 5h0m0 5h0m5-432h0m0 6h0m0 4h0m0 7h0m0 111h0m-1 5h0m1 5h0m0 26h0m0 5h0m0 5h0m0 5h0m-1 246h0m1 5h0m0 9h0m4-436h0m1 6h0m0 113h0m0 4h0m0 6h0m0 5h0m-1 5h0m1 5h0m-1 15h0m1 16h0m0 249h0m0 5h0m0 6h0m0 4h0m5-439h0m0 118h0m0 4h0m-1 11h0m0 5h0m1 5h0m0 5h0m-1 5h0m1 6h0m-1 9h0m0 260h0m1 6h0m0 5h0m4-318h0m1 6h0m-1 5h0m0 4h0m1 5h0m0 6h0m0 5h0m-1 5h0m1 341h0m0 6h0m5-441h0m-1 5h0m0 26h0m0 41h0m0 4h0m0 6h0m0 5h0m0 5h0m0 316h0m0 5h0m5-428h0m0 4h0m0 6h0m0 5h0m0 4h0m0 22h0m0 25h0m0 5h0m0 20h0m0 5h0m0 118h0m0 5h0m0 204h0m0 4h0m0 6h0m0 31h0m5-467h0m0 6h0m0 4h0m0 6h0m0 4h0m0 6h0m0 10h0m0 5h0m0 6h0m0 5h0m0 4h0m0 11h0m0 5h0m-1 133h0m1 4h0m0 5h0m0 6h0m0 152h0m0 5h0m0 47h0m-1 5h0m1 5h0m0 5h0m4-442h0m1 5h0m0 5h0m0 10h0m0 5h0m0 5h0m0 6h0m0 4h0m0 6h0m-1 5h0m1 4h0m0 6h0m0 6h0m-1 4h0m1 5h0m0 133h0m0 5h0m0 11h0m-1 152h0m1 5h0m-1 56h0m0 26h0m6-458h0m0 5h0m0 5h0m-1 6h0m0 4h0m1 16h0m0 5h0m-1 5h0m1 5h0m0 5h0m0 6h0m-1 5h0m0 4h0m1 5h0m-1 7h0m0 127h0m1 4h0m-1 6h0m1 148h0m0 5h0m0 5h0m-1 25h0m0 6h0m1 4h0m4-421h0m1 5h0m0 5h0m-1 5h0m0 5h0m0 5h0m0 21h0m1 5h0m0 5h0m-1 6h0m0 14h0m1 5h0m-1 5h0m0 129h0m1 5h0m0 4h0m0 31h0m-1 5h0m0 10h0m0 5h0m1 5h0m-1 98h0m0 5h0m1 25h0m-1 10h0m0 5h0m5-414h0m0 6h0m0 35h0m1 5h0m-1 5h0m0 21h0m0 5h0m0 127h0m0 6h0m0 5h0m0 25h0m0 5h0m0 5h0m0 6h0m0 4h0m0 6h0m0 5h0m0 127h0m0 5h0m0 5h0m0 6h0m1 10h0m0 9h0m4-231h0m0 5h0m0 5h0m0 6h0m0 5h0m0 4h0m-1 5h0m1 11h0m0 5h0m0 5h0m-1 5h0m1 5h0m0 5h0m0 149h0m-1 4h0m1 6h0m0 4h0m0 5h0m5-526h0m-1 6h0m1 4h0m0 5h0m0 281h0m0 5h0m0 4h0m-1 5h0m1 6h0m0 11h0m0 4h0m0 5h0m0 5h0m-1 6h0m1 157h0m0 6h0m0 4h0m0 12h0m5-541h0m-1 11h0m1 4h0m-1 6h0m0 5h0m1 280h0m-1 6h0m1 5h0m-1 5h0m1 4h0m-1 6h0m0 5h0m1 5h0m0 5h0m-1 5h0m1 6h0m-1 168h0m0 10h0m6-528h0m-1 6h0m0 5h0m0 5h0m1 285h0m0 5h0m0 6h0m0 5h0m0 15h0m0 5h0m0 5h0m0 6h0m4-47h0m1 6h0m0 4h0m-1 21h0m5-32h0m0 5h0m0 4h0m0 6h0m5-21h0m0 4h0m0 17h0m4-224h0m0 204h0m0 10h0m1 5h0m0 5h0m0 16h0m0 167h0m5-415h0m-1 5h0m1 6h0m0 209h0m0 5h0m-1 5h0m0 5h0m0 6h0m0 4h0m1 5h0m4-246h0m0 5h0m1 5h0m-1 199h0m0 5h0m1 6h0m-1 5h0m0 5h0m1 5h0m-1 5h0m1 5h0m4-246h0m0 5h0m0 6h0m1 4h0m-1 5h0m0 189h0m0 5h0m1 11h0m0 5h0m-1 4h0m1 5h0m0 6h0m4-237h0m0 6h0m0 5h0m0 5h0m0 5h0m0 178h0m0 5h0m0 6h0m0 5h0m0 5h0m0 5h0m0 5h0m0 5h0m0 5h0m5-35h0m0 5h0m0 6h0m0 5h0m0 4h0m0 6h0m0 5h0m5-37h0m-1 4h0m1 5h0m-1 6h0m1 5h0m-1 5h0m1 4h0m-1 11h0m5-124h0m0 5h0m1 6h0m0 76h0m-1 4h0m1 6h0m0 5h0m0 5h0m0 5h0m0 5h0m0 5h0m5-122h0m-1 10h0m0 77h0m0 20h0m1 5h0m0 5h0m0 6h0m4-126h0m0 6h0m0 5h0m0 4h0m0 98h0m0 10h0m5-126h0m0 5h0m0 10h0m0 76h0m5-90h0m0 5h0m0 4h0m-1 83h0m1 4h0m-1 6h0m1 4h0m0 6h0m5-111h0m0 6h0m-1 5h0m1 92h0m0 6h0m4-109h0m1 4h0m-1 6h0m0 96h0m5-110h0m1 5h0m-1 6h0m0 4h0m0 10h0m20 99h0m0 6h0m0 5h0m0 5h0m5-14h0m0 5h0m0 5h0m-1 5h0m0 5h0m5-17h0m0 5h0m0 5h0m1 6h0m4-17h0m0 5h0m0 5h0m0 4h0m5-13h0m0 5h0m0 4h0m0 6h0m82-103h0m115 167h0m5-21h0m5-7h0m10 0h0m4 52h0m1-31h0m24-226h0m14 41h0m5-29h0m5-7h0m9-3h0m243-114h0m1 5h0m0 6h0m-1 5h0m1 5h0m0 5h0m0 5h0m-1 20h0m1 6h0m-1 4h0m1 5h0m0 21h0m0 4h0m-1 7h0m0 5h0m1 4h0m0 5h0m0 5h0m0 5h0m0 6h0m0 4h0m0 6h0m0 5h0m0 5h0m0 5h0m0 5h0m0 5h0m0 6h0m0 71h0m0 5h0m0 5h0m-1 20h0m1 6h0m0 66h0m0 5h0m0 5h0m-1 5h0m1 5h0m0 6h0m0 5h0m0 4h0m0 10h0m0 6h0m0 5h0m-1 5h0m1 5h0m0 6h0m-1 5h0m1 4h0m0 15h0m0 6h0m0 21h0m0 46h0m0 5h0m0 5h0m5-523h0m0 5h0m-1 5h0m0 5h0m1 5h0m0 4h0m0 6h0m-1 20h0m0 6h0m1 5h0m0 4h0m-1 26h0m0 5h0m1 5h0m-1 6h0m0 4h0m1 5h0m-1 5h0m1 6h0m-1 5h0m0 6h0m1 9h0m-1 5h0m1 5h0m-1 5h0m1 5h0m0 57h0m-1 4h0m1 6h0m-1 5h0m1 6h0m0 4h0m-1 5h0m1 11h0m-1 4h0m0 6h0m0 5h0m1 66h0m-1 5h0m1 6h0m0 4h0m0 6h0m-1 5h0m1 5h0m-1 20h0m1 6h0m0 5h0m-1 5h0m1 5h0m0 5h0m0 10h0m-1 5h0m0 5h0m0 6h0m1 14h0m-1 11h0m1 4h0m0 6h0m0 20h0m-1 5h0m1 5h0m0 5h0m4-524h0m1 5h0m-1 5h0m0 6h0m1 4h0m-1 6h0m0 5h0m0 5h0m0 21h0m0 5h0m0 5h0m0 5h0m0 20h0m1 5h0m-1 5h0m0 5h0m0 6h0m1 4h0m-1 5h0m1 6h0m0 10h0m-1 4h0m0 6h0m0 5h0m0 6h0m1 4h0m-1 5h0m1 52h0m0 5h0m0 5h0m0 5h0m-1 4h0m0 6h0m0 5h0m0 5h0m0 6h0m1 5h0m0 5h0m-1 4h0m1 5h0m0 6h0m-1 66h0m0 5h0m1 5h0m0 5h0m-1 6h0m0 5h0m1 4h0m-1 21h0m1 6h0m-1 5h0m0 4h0m0 6h0m0 4h0m1 16h0m0 5h0m-1 15h0m0 5h0m0 6h0m0 4h0m1 6h0m0 25h0m0 5h0m-1 5h0m1 5h0m4-508h0m0 5h0m0 6h0m0 35h0m0 5h0m0 26h0m0 4h0m0 6h0m0 10h0m1 4h0m-1 6h0m0 5h0m0 6h0m0 4h0m0 6h0m0 4h0m0 5h0m1 6h0m-1 61h0m0 5h0m0 5h0m1 6h0m-1 4h0m0 10h0m1 6h0m0 5h0m0 4h0m-1 6h0m0 5h0m1 5h0m-1 66h0m0 5h0m0 5h0m0 52h0m0 5h0m0 5h0m0 46h0m0 5h0m0 5h0m0 5h0m0 5h0m0 20h0m0 6h0m0 4h0m5-488h0m0 72h0m0 5h0m0 5h0m0 5h0m0 6h0m0 5h0m0 5h0m0 5h0m0 6h0m0 4h0m0 5h0m0 72h0m0 5h0m0 5h0m0 5h0m0 5h0m0 5h0m0 5h0m0 21h0m0 5h0m0 5h0m0 61h0m0 5h0m0 5h0m0 113h0m0 5h0m0 5h0m-1 5h0m5-453h0m1 5h0m0 57h0m0 4h0m0 5h0m0 6h0m0 25h0m0 11h0m0 4h0m-1 77h0m1 5h0m-1 5h0m1 11h0m0 4h0m0 5h0m0 26h0m-1 5h0m0 61h0m1 5h0m-1 6h0m1 111h0m0 6h0m-1 5h0m6-452h0m0 5h0m-1 5h0m1 5h0m0 10h0m0 41h0m-1 5h0m0 5h0m1 5h0m0 5h0m0 112h0m-1 6h0m0 4h0m1 5h0m-1 6h0m1 5h0m-1 31h0m0 5h0m0 61h0m1 5h0m-1 6h0m0 107h0m0 5h0m1 5h0m0 4h0m10-463h0m0 19h0m0 6h0m0 5h0m-1 5h0m1 5h0m0 5h0m0 5h0m-1 11h0m1 4h0m0 6h0m0 5h0m0 5h0m-1 5h0m1 5h0m0 5h0m0 5h0m0 87h0m0 5h0m0 5h0m0 245h0m0 5h0m0 5h0m0 5h0m4-464h0m0 5h0m1 36h0m0 6h0m-1 19h0m0 6h0m1 5h0m0 5h0m-1 5h0m0 5h0m1 5h0m0 5h0m0 92h0m-1 5h0m0 5h0m1 245h0m0 6h0m0 4h0m-1 6h0m0 4h0m5-472h0m0 5h0m0 5h0m0 5h0m0 6h0m1 50h0m-1 6h0m0 5h0m0 5h0m0 5h0m0 10h0m0 5h0m0 88h0m0 4h0m0 71h0m0 6h0m0 183h0m0 5h0m0 5h0m4-470h0m0 5h0m1 5h0m0 5h0m-1 5h0m1 5h0m-1 51h0m1 5h0m0 5h0m-1 107h0m1 6h0m0 5h0m-1 4h0m1 16h0m-1 41h0m1 5h0m0 5h0m0 5h0m0 5h0m0 6h0m0 4h0m-1 6h0m1 5h0m0 5h0m-1 4h0m6-311h0m-1 5h0m0 4h0m1 6h0m0 5h0m-1 51h0m0 5h0m1 6h0m-1 112h0m0 4h0m1 5h0m-1 5h0m1 6h0m0 5h0m0 5h0m-1 41h0m0 5h0m0 5h0m0 5h0m0 5h0m0 6h0m0 4h0m1 6h0m-1 5h0m0 4h0m1 5h0m-1 31h0m0 6h0m5-351h0m-1 6h0m1 5h0m0 4h0m0 57h0m0 5h0m-1 4h0m1 113h0m0 10h0m0 5h0m0 6h0m0 5h0m0 5h0m0 41h0m0 10h0m0 5h0m0 5h0m0 5h0m0 5h0m0 6h0m0 4h0m-1 11h0m1 25h0m0 5h0m0 6h0m5-360h0m-1 5h0m1 21h0m0 5h0m0 46h0m-1 5h0m0 127h0m1 5h0m-1 6h0m0 5h0m1 10h0m0 41h0m0 5h0m-1 10h0m0 5h0m1 6h0m0 4h0m-1 6h0m0 5h0m1 5h0m-1 30h0m0 6h0m0 5h0m5-371h0m0 6h0m0 4h0m0 26h0m0 5h0m0 184h0m0 5h0m0 5h0m0 71h0m0 6h0m0 5h0m0 5h0m0 5h0m0 5h0m0 77h0m4-404h0m1-5h0m0 9h0m0 26h0m0 5h0m-1 361h0m1 7h0m0 4h0m4-369h0m0 362h0m0 5h0m1-408h0m0 5h0m0 5h0m0 20h0m0 5h0m-1 378h0m1 5h0m4-379h0m0 362h0m0 16h0m0-414h0m0 6h0m0 4h0m0 5h0m0 128h0m0 5h0m0 255h0m0 6h0m5-394h0m-1 133h0m1 6h0m-1 255h0m1 4h0m0-408h0m0 6h0m0 147h0m0 5h0m0 235h0m4-386h0m0 5h0m0 132h0m0 6h0m0 4h0m0 5h0m0 240h0m1-6h0m4-386h0m-1 6h0m1 133h0m-1 4h0m1 6h0m136-152h0m0 142h0m0 6h0m5-147h0m0 143h0m-1 5h0m1 6h0m-1 336h0m4-489h0m0 152h0m1-157h0m0 142h0m0 5h0m0 6h0m10-77h0m-1 5h0m1 66h0m0 5h0m0 87h0m-1 234h0m0 6h0m5-400h0m0-5h0m0 10h0m0 142h0m0 6h0m0 5h0m0 5h0m0 229h0m0 6h0m1 5h0m4-407h0m0 5h0m-1 30h0m0 108h0m0 15h0m1 240h0m0-419h0m0 30h0m0 138h0m0 5h0m0 251h0m0 5h0m11-431h0m0 5h0m0 51h0m0 4h0m0 5h0m0 5h0m0 72h0m0 6h0m0 87h0m0 4h0m0 5h0m0 6h0m1 10h0m-1 4h0m0 61h0m0 6h0m1 6h0m-1 4h0m1 10h0m-1 6h0m0 4h0m1-341h0m0 113h0m0 4h0m0 117h0m0 93h0m4-345h0m0 36h0m0 4h0m0 6h0m0 5h0m0 6h0m0 4h0m0 6h0m0 4h0m0 57h0m0 5h0m0 5h0m0 5h0m0 21h0m0 71h0m0 5h0m0 10h0m0 10h0m0 47h0m0 15h0m0 9h0m0 6h0m0 5h0m0-337h0m0 164h0m1 76h0m0 10h0m-1 46h0m1 26h0m0 19h0m-1 7h0m1 5h0m4-411h0m0 92h0m0 5h0m-1 5h0m1 5h0m0 15h0m0 67h0m0 4h0m0 22h0m0 4h0m-1 5h0m1 72h0m-1 5h0m0 5h0m1 5h0m0 5h0m0 5h0m0 6h0m-1 5h0m1 20h0m0 5h0m0 5h0m0 6h0m0 4h0m0 5h0m0 5h0m0 5h0m0-300h0m0 25h0m0 5h0m0 169h0m0 5h0m0 112h0m5-406h0m-1 5h0m1 5h0m-1 82h0m1 5h0m0 10h0m0 5h0m-1 5h0m0 6h0m1 91h0m-1 82h0m1 20h0m0 5h0m0 6h0m0 4h0m0 26h0m0 5h0m0 5h0m-1 6h0m0 5h0m1-277h0m0 119h0m0 65h0m5-284h0m0 5h0m-1 5h0m0 5h0m0 92h0m0 5h0m0 5h0m0 159h0m0 5h0m0 5h0m0 36h0m0 4h0m1 5h0m-1 26h0m1 5h0m0 5h0m0 5h0m4-365h0m0 71h0m0 5h0m0 5h0m0 21h0m0 5h0m0 5h0m1 163h0m-1 41h0m0 5h0m0 5h0m0 30h0m0 6h0m1-357h0m0 265h0m4-280h0m0 6h0m0 4h0m0 5h0m0 6h0m0 55h0m0 6h0m0 4h0m0 6h0m0 184h0m0 4h0m0 179h0m0 5h0m0 5h0m5-465h0m0 6h0m0 4h0m0 5h0m0 10h0m0 61h0m0 77h0m0 5h0m0 107h0m0 179h0m-1 4h0m1 6h0m0 5h0m0-475h0m0 26h0m0 62h0m4-89h0m0 11h0m1 5h0m0 4h0m0 6h0m0 5h0m0 5h0m0 20h0m-1 31h0m0 5h0m1 4h0m0 6h0m-1 5h0m0 6h0m1 55h0m-1 5h0m0 6h0m1 4h0m0 276h0m0 5h0m0-459h0m0 464h0m5-465h0m-1 6h0m0 5h0m0 4h0m0 11h0m0 5h0m0 25h0m0 36h0m0 6h0m0 5h0m0 4h0m1 62h0m0 5h0m-1 5h0m0 76h0m1 138h0m-1 6h0m0 55h0m0 6h0m0 5h0m1-413h0m4-48h0m0 6h0m0 4h0m1 6h0m0 5h0m-1 5h0m0 5h0m0 10h0m0 6h0m0 4h0m1 41h0m-1 6h0m0 5h0m0 5h0m0 30h0m0 21h0m0 5h0m0 5h0m0 5h0m0 5h0m0 66h0m0 5h0m0 5h0m0 5h0m0 73h0m0 20h0m0 5h0m0 30h0m0 11h0m0 5h0m1-11h0m4-394h0m0 6h0m0 5h0m0 5h0m0 5h0m0 10h0m0 6h0m0 5h0m0 5h0m0 86h0m0 5h0m0 5h0m0 20h0m0 5h0m0 6h0m0 71h0m0 5h0m0 6h0m0 4h0m0 6h0m0 40h0m-1 26h0m1 20h0m0 6h0m0 5h0m0 30h0m0 5h0m0 5h0m0-377h0m0 275h0m0 10h0m5-307h0m-1 5h0m1 5h0m0 26h0m-1 5h0m0 87h0m1 5h0m0 5h0m0 21h0m0 4h0m0 6h0m0 71h0m0 5h0m0 5h0m-1 6h0m1 5h0m0 35h0m0 5h0m-1 5h0m1 5h0m0 5h0m-1 11h0m0 5h0m0 14h0m1 6h0m0 6h0m0 9h0m0 31h0m0-76h0m0 40h0m5-365h0m0 5h0m0 5h0m0 31h0m0 31h0m-1 4h0m0 6h0m1 56h0m0 5h0m-1 20h0m1 128h0m-1 4h0m0 6h0m0 6h0m1 4h0m0 11h0m-1 4h0m1 6h0m0 5h0m0 10h0m0 5h0m0 5h0m-1 6h0m0 4h0m1-208h0m0 157h0m4-237h0m1 4h0m0 215h0m-1 5h0m0 5h0m0 5h0m0 6h0m0 4h0m0 5h0m0 6h0m1-261h0m0 220h0m4-217h0m0 6h0m0 219h0m0 5h0m1 5h0m-1 5h0m0 6h0m0 4h0m0 6h0m0 5h0m1-265h0m4 0h0m0 6h0m0 4h0m0 220h0m0 5h0m0 5h0m-1 6h0m0 4h0m1 5h0m0 6h0m0 4h0m11-343h0m1 4h0m-1 6h0m0 40h0m1 76h0m0 6h0m0 5h0m0 5h0m0 77h0m-1 5h0m1 4h0m0 6h0m0 5h0m0 5h0m0 51h0m-1 5h0m1 6h0m0 20h0m0 5h0m0 5h0m0 5h0m0 36h0m0 5h0m0 4h0m0 51h0m0 6h0m0 5h0m0 6h0m0 30h0m-1 4h0m0 6h0m0 5h0m5-500h0m0 5h0m1 6h0m0 35h0m-1 5h0m0 76h0m0 5h0m0 6h0m0 5h0m0 77h0m1 5h0m-1 4h0m1 5h0m-1 6h0m0 5h0m0 5h0m0 46h0m0 5h0m0 6h0m0 19h0m0 5h0m0 5h0m0 31h0m0 5h0m0 5h0m1 6h0m0 5h0m-1 46h0m0 5h0m0 5h0m1 5h0m-1 5h0m0 5h0m0 5h0m0 26h0m0 4h0m0 6h0m4-502h0m1 5h0m-1 6h0m0 40h0m1 5h0m0 41h0m-1 6h0m1 20h0m-1 10h0m1 5h0m0 5h0m-1 62h0m1 4h0m0 5h0m0 6h0m0 4h0m-1 6h0m1 6h0m-1 4h0m1 5h0m0 5h0m-1 47h0m1 4h0m0 6h0m-1 31h0m1 35h0m0 4h0m0 6h0m-1 5h0m1 35h0m-1 5h0m1 6h0m0 5h0m0 5h0m0 5h0m0 6h0m0 4h0m0 6h0m-1 30h0m1 5h0m0 5h0m4-502h0m1 6h0m-1 46h0m0 4h0m0 35h0m0 6h0m0 6h0m0 91h0m0 5h0m0 5h0m0 5h0m0 5h0m1 6h0m-1 5h0m0 5h0m0 5h0m0 5h0m0 5h0m0 26h0m1 4h0m-1 21h0m1 5h0m-1 5h0m0 72h0m0 5h0m1 15h0m-1 5h0m0 5h0m0 6h0m1 5h0m0 4h0m-1 6h0m0 5h0m0 9h0m0 11h0m0 5h0m0 41h0m0 5h0m0 5h0m5-507h0m0 51h0m0 35h0m-1 5h0m0 6h0m1 5h0m0 6h0m-1 40h0m1 5h0m0 5h0m0 25h0m0 5h0m0 6h0m0 5h0m-1 5h0m1 6h0m0 4h0m0 6h0m-1 5h0m1 30h0m0 5h0m0 6h0m0 5h0m0 4h0m0 26h0m0 46h0m-1 5h0m1 5h0m0 36h0m0 5h0m0 5h0m0 5h0m0 5h0m0 5h0m0 5h0m0 6h0m0 4h0m-1 15h0m1 6h0m-1 5h0m0 51h0m5-362h0m0 10h0m0 42h0m0 9h0m0 56h0m0 11h0m0 26h0m0 91h0m0 6h0m0 60h0m0-372h0m1 6h0m-1 4h0m0 5h0m1 42h0m-1 9h0m0 31h0m0 5h0m1 6h0m-1 9h0m0 11h0m0 5h0m0 5h0m0 25h0m0 6h0m0 4h0m0 11h0m0 10h0m0 25h0m0 6h0m0 25h0m1 6h0m-1 5h0m0 5h0m0 5h0m0 46h0m0 5h0m0 5h0m0 5h0m0 10h0m0 20h0m0 6h0m0 55h0m1 6h0m11-330h0m0 107h0m0 5h0m0 21h0m0 81h0m0 5h0m0 72h0m0 25h0m0 5h0m0 11h0m0-409h0m0 5h0m1 6h0m-1 5h0m1 30h0m0 26h0m-1 10h0m0 5h0m0 5h0m0 46h0m1 6h0m-1 20h0m0 5h0m0 5h0m0 5h0m1 15h0m-1 6h0m0 5h0m0 9h0m0 6h0m1 5h0m-1 11h0m1 4h0m-1 61h0m0 5h0m1 56h0m-1 11h0m0 5h0m1 26h0m4-393h0m0 5h0m-1 56h0m1 5h0m-1 5h0m0 5h0m0 6h0m0 30h0m0 5h0m0 6h0m0 5h0m1 4h0m-1 26h0m0 5h0m0 5h0m0 6h0m0 4h0m0 5h0m0 5h0m0 6h0m0 4h0m0 6h0m1 5h0m-1 5h0m0 5h0m0 66h0m0 6h0m0 5h0m0 55h0m0 11h0m1 5h0m0 10h0m0 11h0m-1 4h0m0 5h0m1-40h0m0 15h0m0 10h0m4-416h0m0 31h0m-1 5h0m0 56h0m1 5h0m-1 5h0m0 4h0m0 6h0m0 35h0m1 6h0m-1 5h0m1 5h0m0 5h0m0 5h0m-1 6h0m0 4h0m0 5h0m1 6h0m-1 5h0m1 5h0m-1 5h0m0 6h0m0 4h0m0 6h0m1 5h0m0 5h0m-1 4h0m1 5h0m-1 6h0m1 5h0m-1 62h0m1 4h0m-1 5h0m0 21h0m0 15h0m0 5h0m1 21h0m0 5h0m-1 5h0m1 5h0m0 5h0m0 15h0m-1 5h0m14-469h0m0 5h0m0 5h0m0 6h0m1 5h0m-1 4h0m1 5h0m-1 5h0m0 6h0m1 5h0m-1 147h0m0 21h0m0 6h0m0 4h0m1 57h0m-1 5h0m0 4h0m0 5h0m0 16h0m0 5h0m0 5h0m0 5h0m0 36h0m1 5h0m-1 5h0m0 6h0m0 4h0m1 5h0m-1 6h0m0 5h0m1 5h0m0 5h0m0 5h0m-1 5h0m0 5h0m1 26h0m0 5h0m0 10h0m0 5h0m-1 6h0m4-483h0m0 30h0m0 260h0m0 11h0m0 20h0m0 51h0m0 107h0m1-474h0m0 5h0m0 4h0m0 5h0m0 6h0m0 10h0m0 5h0m0 5h0m0 6h0m0 173h0m0 4h0m0 57h0m0 10h0m0 10h0m-1 6h0m0 5h0m1 10h0m0 5h0m0 46h0m0 5h0m0 5h0m0 5h0m0 5h0m0 5h0m-1 56h0m1 15h0m0 11h0m4-487h0m0 11h0m0 5h0m0 5h0m0 5h0m0 16h0m0 4h0m0 179h0m0 11h0m0 61h0m0 5h0m0 5h0m0 10h0m0 4h0m0 52h0m0 10h0m0 92h0m0 5h0m0 5h0m0-480h0m1 26h0m-1 5h0m0 20h0m1 174h0m-1 81h0m0 16h0m0 41h0m0 9h0m4-366h0m0 6h0m1 5h0m0 5h0m-1 25h0m0 174h0m0 4h0m0 6h0m0 61h0m1 5h0m0 6h0m-1 5h0m0 4h0m0 57h0m1 4h0m0 97h0m-1 6h0m1 5h0m4-471h0m-1 5h0m0 148h0m1 5h0m0 5h0m-1 42h0m1 4h0m0 5h0m0 5h0m0 5h0m0 62h0m0 5h0m0 5h0m0 5h0m-1 163h0m5-311h0m1 5h0m-1 4h0m0 42h0m0 5h0m0 5h0m0 5h0m1 5h0m-1 61h0m1 5h0m0 6h0m0 5h0m-1 163h0m5-314h0m0 5h0m0 5h0m-1 5h0m0 31h0m1 5h0m-1 5h0m1 5h0m0 6h0m-1 4h0m0 67h0m12-269h0m0 21h0m0 76h0m0 5h0m0 26h0m0 5h0m0 46h0m0-230h0m1 6h0m-1 5h0m1 4h0m-1 26h0m0 6h0m0 9h0m0 6h0m0 4h0m0 78h0m0 15h0m1 15h0m-1 15h0m1 26h0m0 5h0m0 5h0m0 10h0m-1 11h0m4-242h0m1 15h0m0 16h0m0 5h0m0 5h0m0 9h0m0 6h0m0 92h0m0 4h0m0 16h0m-1 10h0m0 36h0m1 5h0m0 11h0m0-235h0m0 9h0m0 6h0m0 36h0m0 15h0m0 5h0m0 77h0m0 15h0m0 5h0m0 10h0m0 10h0m0 5h0m0 36h0m0 10h0m0 5h0m0 5h0m4-232h0m1 25h0m-1 11h0m0 15h0m0 77h0m0 5h0m1 5h0m-1 5h0m0 10h0m0 6h0m0 4h0m0 52h0m0 5h0m1-235h0m0 6h0m0 4h0m0 26h0m0 10h0m0 10h0m0 5h0m0 103h0m0 20h0m0 5h0m0 30h0m0 5h0m0 16h0m4-235h0m0 46h0m0 6h0m0 4h0m0 87h0m0 5h0m0 5h0m0 10h0m0 6h0m0 4h0m0 6h0m0 10h0m0 40h0m0-234h0m1 11h0m-1 25h0m1 5h0m0 122h0m0 26h0m0 51h0m4-233h0m0 5h0m0 6h0m0 40h0m0 16h0m0 81h0m0 15h0m0 6h0m0 10h0m0 10h0m0-199h0m0 56h0m0 11h0m0 86h0m0 10h0m0 6h0m0 14h0m0 11h0m0 40h0m0 6h0m0 5h0m5-253h0m-1 5h0m1 6h0m0 9h0m0 5h0m-1 41h0m0 6h0m0 10h0m0 5h0m1 51h0m0 31h0m-1 5h0m0 4h0m1 6h0m-1 4h0m0 11h0m1 25h0m0 11h0m0 188h0m0-393h0m0 6h0m0 157h0m0 36h0m0 190h0m4-420h0m1 5h0m-1 5h0m0 5h0m0 5h0m0 10h0m0 5h0m0 5h0m1 5h0m0 25h0m-1 16h0m0 5h0m0 41h0m0 4h0m0 6h0m0 5h0m1 35h0m-1 5h0m0 5h0m0 31h0m1 5h0m-1 5h0m0 6h0m1 173h0m-1 6h0m0 4h0m5-421h0m0 5h0m0 5h0m0 5h0m0 10h0m0 4h0m0 6h0m0 6h0m0 5h0m0 40h0m1 5h0m-1 6h0m0 40h0m0 5h0m1 5h0m-1 5h0m0 36h0m0 36h0m0 5h0m0 5h0m0 5h0m0 168h0m0 6h0m0 5h0m5-416h0m0 6h0m0 21h0m0 4h0m-1 6h0m1 10h0m0 5h0m0 35h0m0 6h0m0 46h0m0 86h0m0 5h0m-1 5h0m1 168h0m0 5h0m0 5h0m4-413h0m0 51h0m0 5h0m0 5h0m0 5h0m1 6h0m-1 15h0m1 30h0m0 5h0m-1 6h0m1 5h0m-1 92h0m0 4h0m1 5h0m0 6h0m-1 163h0m0 10h0m5-361h0m0 4h0m0 6h0m0 4h0m0 6h0m0 5h0m0 46h0m0 5h0m0 5h0m0 25h0m0 5h0m1 6h0m-1 5h0m0 11h0m0 45h0m0 5h0m1 6h0m3-192h0m1 5h0m0 6h0m0 5h0m-1 5h0m1 5h0m0 5h0m0 41h0m0 5h0m0 5h0m0 20h0m-1 5h0m1 6h0m0 5h0m-1 5h0m1 5h0m0 5h0m0 6h0m-1 40h0m1 5h0m0 5h0m0 21h0m0 5h0m0 5h0m4-219h0m1 5h0m0 5h0m-1 6h0m1 5h0m0 5h0m0 45h0m0 6h0m-1 5h0m1 15h0m0 6h0m0 5h0m0 4h0m0 6h0m0 4h0m-1 6h0m0 5h0m1 46h0m0 5h0m0 5h0m0 21h0m0 4h0m-1 6h0m5-216h0m0 4h0m1 6h0m-1 4h0m1 5h0m0 67h0m0 5h0m-1 5h0m1 5h0m-1 6h0m0 5h0m0 5h0m1 5h0m-1 4h0m0 47h0m0 5h0m0 6h0m0 4h0m0 11h0m0 5h0m0 5h0m0 5h0m0 10h0"/>
<path stroke="#009fff" d="M432 876h0m-1 5h0m5 7h0m5-6h0m0 5h0m5-3h0m5 16h0m5-5h0m0 5h0m0 6h0m5-11h0m0 6h0m0 5h0m5-9h0m0 5h0m72-130h0m0 4h0m0 5h0m5-11h0m0 5h0m-1 5h0m1 6h0m4-15h0m1 4h0m0 6h0m0 5h0m5-12h0m0 4h0m0 5h0m121 87h0m1 5h0m-1 5h0m1 5h0m4-15h0m0 6h0m0 4h0m0 6h0m5-16h0m0 5h0m1 11h0m-1 5h0m91-429h0m0 6h0m0 4h0m5-11h0m0 5h0m0 6h0m0 5h0m0 407h0m0 5h0m0 5h0m5-432h0m-1 5h0m1 5h0m0 6h0m0 5h0m0 179h0m0 5h0m0 4h0m0 5h0m-1 205h0m1 5h0m0 5h0m0 6h0m4-433h0m0 6h0m1 4h0m0 5h0m0 179h0m0 5h0m0 6h0m-1 5h0m0 5h0m1 199h0m-1 5h0m1 5h0m0 5h0m-1 5h0m5-240h0m0 6h0m0 6h0m1 4h0m-1 5h0m5-19h0m0 6h0m0 4h0m0 6h0m0 4h0m5 185h0m-1 5h0m1 4h0m4-304h0m0 285h0m0 5h0m0 6h0m0 5h0m1 5h0m4-310h0m0 5h0m0 5h0m0 285h0m0 6h0m0 5h0m0 4h0m5-309h0m0 5h0m0 5h0m0 286h0m5-294h0m0 5h0m-1 6h0m6-9h0m0 4h0m-1 5h0m23 240h0m0 5h0m0 5h0m0 6h0m-1 56h0m0 5h0m1 4h0m0 5h0m-1 21h0m1 5h0m0 5h0m-1 6h0m1 10h0m4-270h0m0 6h0m1 132h0m-1 5h0m0 5h0m0 6h0m1 56h0m-1 5h0m0 4h0m0 6h0m5-230h0m0 5h0m0 5h0m1 5h0m-1 128h0m0 5h0m0 4h0m0 62h0m0 6h0m0 4h0m0 6h0m5-228h0m0 5h0m0 5h0m0 6h0m0 5h0m0 122h0m0 5h0m0 5h0m0 56h0m0 5h0m-1 5h0m1 10h0m0 5h0m-1 5h0m5-237h0m1 5h0m-1 5h0m1 219h0m-1 6h0m1 5h0m0 5h0m-1 10h0m1 5h0m4-33h0m0 5h0m0 11h0m0 10h0m1 5h0m4-32h0m0 5h0m0 6h0m0 4h0m0 15h0m0 10h0m5-36h0m-1 5h0m1 5h0m0 31h0m4-60h0m1 6h0m0 5h0m0 5h0m-1 4h0m1 6h0m0 5h0m0 31h0m4-58h0m0 6h0m1 4h0m-1 5h0m0 6h0m5-40h0m0 20h0m0 16h0m0 5h0m0 5h0m5-54h0m0 5h0m-1 6h0m1 14h0m0 6h0m0 10h0m0 5h0m0 5h0m0 5h0m0 5h0m5-64h0m-1 5h0m1 11h0m0 35h0m0 6h0m-1 4h0m1 5h0m-1 5h0m5-72h0m0 4h0m0 6h0m0 5h0m0 36h0m0 4h0m0 6h0m0 5h0m1 5h0m0 6h0m4-79h0m0 5h0m0 4h0m0 6h0m0 41h0m0 9h0m0 6h0m0 10h0m18-78h0m0 6h0m0 4h0m-1 5h0m1 21h0m0 5h0m0 6h0m-1 4h0m0 6h0m1 4h0m0 6h0m0 4h0m0 6h0m-1 14h0m0 6h0m6-505h0m0 5h0m-1 31h0m0 4h0m0 367h0m1 5h0m0 6h0m-1 51h0m1 5h0m-1 5h0m1 5h0m-1 16h0m0 5h0m6-505h0m-1 30h0m0 108h0m0 10h0m0 5h0m0 321h0m0 6h0m0 5h0m5-487h0m0 4h0m0 26h0m0 107h0m0 5h0m0 10h0m5-150h0m0 92h0m0 5h0m0 40h0m-1 6h0m1 5h0m5-60h0m-1 5h0m1 4h0m-1 6h0m0 5h0m1 5h0m0 31h0m5-99h0m-1 6h0m1 45h0m0 6h0m0 5h0m4-66h0m0 6h0m0 51h0m0 5h0m1 4h0m5-3h0m-1 36h0m0 331h0m5-334h0m0 5h0m0 6h0m0 5h0m0 311h0m0 5h0m0 26h0m0 20h0m0 5h0m5-384h0m0 5h0m0 5h0m0 5h0m0 5h0m0 301h0m-1 6h0m1 4h0m-1 11h0m0 25h0m1 5h0m0 5h0m0 6h0m5-374h0m-1 5h0m0 5h0m1 5h0m-1 301h0m1 6h0m0 9h0m0 6h0m-1 5h0m0 5h0m1 5h0m0 5h0m0 10h0m0 5h0m5-359h0m-1 317h0m0 10h0m1 5h0m-1 6h0m0 9h0m1 6h0m-1 4h0m5-24h0m1 5h0m4-490h0m0 489h0m0 5h0m0 6h0m5-451h0m0 6h0m0 6h0m0 418h0m0 4h0m0 11h0m0 4h0m5-495h0m0 50h0m-1 378h0m1 5h0m-1 36h0m1 5h0m0 5h0m0 6h0m-1 5h0m0 5h0m5-71h0m1 6h0m0 4h0m0 5h0m-1 31h0m1 6h0m0 4h0m0 5h0m-1 5h0m1 5h0m4-70h0m1 5h0m-1 41h0m0 5h0m1 5h0m-1 5h0m5-62h0m0 5h0m0 41h0m1 5h0m-1 14h0m5-455h0m1 5h0m-1 71h0m0 316h0m0 41h0m0 5h0m0 6h0m0 9h0m0 5h0m0 6h0m5-465h0m0 77h0m0 5h0m0 4h0m-1 7h0m1 5h0m-1 335h0m1 6h0m-1 5h0m0 16h0m1 4h0m-1 6h0m0 5h0m6-398h0m0 4h0m0 5h0m0 5h0m-1 5h0m1 6h0m0 336h0m0 26h0m0 5h0m4-481h0m1 86h0m0 5h0m0 5h0m0 5h0m-1 6h0m0 4h0m0 5h0m1 327h0m0 5h0m0 5h0m5-404h0m-1 4h0m0 5h0m1 36h0m-1 5h0m1 6h0m-1 5h0m1 5h0m-1 331h0m1 5h0m-1 5h0m5-409h0m0 4h0m0 6h0m0 41h0m0 5h0m0 10h0m0 332h0m1 5h0m0 10h0m4-415h0m0 5h0m0 5h0m0 6h0m0 4h0m0 31h0m0 5h0m0 10h0m0 5h0m0 5h0m0 327h0m5-435h0m0 5h0m0 24h0m0 6h0m0 5h0m-1 6h0m1 5h0m0 30h0m0 5h0m0 5h0m0 5h0m0 6h0m-1 5h0m1 5h0m0 4h0m-1 282h0m1 5h0m0 66h0m0 5h0m0 5h0m5-464h0m0 20h0m0 6h0m0 5h0m0 35h0m0 5h0m-1 5h0m1 5h0m0 5h0m0 11h0m0 4h0m0 271h0m-1 5h0m1 5h0m-1 5h0m1 5h0m0 5h0m0 56h0m-1 6h0m5-415h0m1 5h0m-1 21h0m1 4h0m0 6h0m0 5h0m-1 5h0m1 5h0m-1 5h0m0 286h0m1 5h0m-1 4h0m1 42h0m0 4h0m0 6h0m0 16h0m4-420h0m0 4h0m0 26h0m0 6h0m0 4h0m0 6h0m0 356h0m0 6h0m6-473h0m-1 6h0m0 14h0m0 5h0m0 11h0m0 30h0m1 5h0m-1 26h0m0 5h0m0 5h0m0 5h0m0 358h0m0 4h0m5-503h0m0 5h0m-1 26h0m1 4h0m0 6h0m0 15h0m-1 35h0m1 5h0m0 27h0m0 4h0m0 6h0m0-118h0m4 11h0m0 17h0m1 4h0m0 26h0m0 4h0m-1 12h0m0 5h0m1 14h0m0 11h0m-1 5h0m1 5h0m0 5h0m0 5h0m5-140h0m0 4h0m0 26h0m-1 11h0m1 30h0m-1 5h0m0 6h0m0 35h0m1 5h0m0 5h0m-1 6h0m1 5h0m-1 5h0m0 5h0m1-36h0m4-53h0m0 5h0m1 4h0m-1 6h0m1 36h0m0 5h0m-1 25h0m0 5h0m0 6h0m0 4h0m0 260h0m0 5h0m0 5h0m0 67h0m5-349h0m0 6h0m0 5h0m0 264h0m1 11h0m-1 57h0m1 4h0m0-382h0m0 5h0m0 311h0m4-422h0m0 92h0m0 5h0m0 6h0m0 5h0m0 41h0m0 269h0m0 6h0m0 4h0m0 57h0m0 5h0m0 6h0m0-358h0m0 5h0m0 337h0m0 20h0m5-498h0m0 51h0m0 35h0m0 6h0m0 6h0m0 29h0m0 5h0m0 6h0m0 5h0m0 276h0m-1 4h0m1 5h0m-1 62h0m0 5h0m1-470h0m0 123h0m0 332h0m0 4h0m5-484h0m0 77h0m0 5h0m0 5h0m0 10h0m-1 26h0m1 15h0m0 5h0m-1 5h0m1-153h0m0 97h0m0 35h0m0 6h0m5-44h0m-1 36h0m1 6h0m-1 9h0m5-57h0m1-87h0m0 15h0m0 56h0m4-1h0m0 10h0m5-17h0m0 20h0m0 6h0m5-99h0m0 46h0m0 5h0m4-48h0m1 9h0m0 16h0m-1 15h0m0 16h0m1 31h0m0-57h0m4-23h0m1 10h0m-1 15h0m0 6h0m0 5h0m0 10h0m1-5h0m0 26h0m4-56h0m0 20h0m0 31h0m1-20h0m4-16h0m0 15h0m0 4h0m5 102h0m-1 352h0m0 5h0m1-485h0m5 20h0m-1 112h0m0 342h0m1-449h0m0 97h0m0 4h0m4-101h0m0 47h0m0 5h0m0 51h0m0 5h0m0 357h0m1-469h0m0 46h0m0 56h0m4-165h0m0 66h0m0 57h0m0 50h0m0 296h0m1-362h0m0 10h0m-1 51h0m1 276h0m0 5h0m4-335h0m0 4h0m0 6h0m0 4h0m0 316h0m0 6h0m0 15h0m1-469h0m-1 4h0m0 37h0m0 70h0m0 363h0m5-476h0m0 9h0m0 31h0m0 72h0m0 15h0m0 327h0m0 4h0m0 11h0m0-454h0m0 21h0m0 10h0m0 71h0m0 5h0m0 11h0m0 316h0m0 15h0m0 10h0m0 5h0m5-440h0m0 86h0m-1 332h0m0 15h0m1-465h0m0 108h0m0 6h0m0 10h0m0 315h0m0 21h0m0 11h0m0 5h0m0 71h0m4-523h0m1 5h0m0 10h0m-1 36h0m0 41h0m0 10h0m0 326h0m0 11h0m0 15h0m1-443h0m0 35h0m0 11h0m0 30h0m0 326h0m0 5h0m0 5h0m0 11h0m0 10h0m0 4h0m4-442h0m0 5h0m0 36h0m0 5h0m0 6h0m0 30h0m0 439h0m1-525h0m0 40h0m0 20h0m0 31h0m0 6h0m0 331h0m0 5h0m0 5h0m0 10h0m0 5h0m4-461h0m0 5h0m0 46h0m0 10h0m0 10h0m0 378h0m0 9h0m0-463h0m1 25h0m-1 5h0m0 31h0m0 408h0m5-403h0m0 388h0m0 15h0m1-474h0m0 5h0m-1 51h0m0 5h0m0 5h0m0 10h0m0 387h0m5-457h0m-1 11h0m1 5h0m-1 5h0m1 30h0m0 403h0m-1 16h0m1 61h0m0-535h0m0 10h0m0 40h0m0 10h0m0 5h0m0 6h0m0 392h0m0 61h0m0 6h0m4-529h0m0 9h0m1 11h0m-1 10h0m0 36h0m0 397h0m0 6h0m1-465h0m0 11h0m0 9h0m0 12h0m0 422h0m0 16h0m4-448h0m1-10h0m0 5h0m0 10h0m0 5h0m0 5h0m0 485h0m4-499h0m0 501h0m1-516h0m-1 6h0m0 4h0m0 10h0m0 6h0m0 494h0m5-84h0m0-433h0m1 5h0m0 5h0m-1 31h0m0 475h0m5-477h0m0-41h0m0 46h0m0 5h0m0 15h0m0 5h0m0 6h0m0 351h0m0 6h0m0 5h0m0 5h0m4-465h0m0 26h0m0 35h0m0 20h0m1 378h0m0-438h0m0 46h0m0 5h0m0 4h0m0 11h0m0 5h0m0 5h0m0 5h0m0 342h0m0 5h0m0 15h0m4-6h0m1-464h0m0 26h0m0 46h0m0 4h0m0 6h0m0 5h0m0 5h0m0 10h0m0 5h0m0 5h0m-1 15h0m1 327h0m0 4h0m4-456h0m0 117h0m0-41h0m1 5h0m0 5h0m-1 6h0m1 4h0m0 6h0m0 4h0m0 6h0m0 10h0m0 331h0m0 11h0m4-465h0m0 453h0m1-371h0m-1 4h0m1 11h0m0 5h0m-1 4h0m0 6h0m0 347h0m0 5h0m0 5h0m5-5h0m0-381h0m0 4h0m0 5h0m0 5h0m0 6h0m0 10h0m0 342h0m5-401h0m0 51h0m0 5h0m0 5h0m0-112h0m0 5h0m0 36h0m0 56h0m0 352h0m0 5h0m0 5h0m0 6h0m4-403h0m0 101h0m0 291h0m1-458h0m0 4h0m0 5h0m-1 11h0m1 4h0m0 5h0m-1 7h0m0 25h0m1 51h0m-1 35h0m0 5h0m1 5h0m0 6h0m0 290h0m-1 10h0m1 6h0m0 4h0m4-2h0m0-475h0m0 6h0m1 4h0m-1 6h0m1 10h0m0 4h0m-1 6h0m1 5h0m-1 5h0m1 31h0m-1 76h0m0 5h0m0 5h0m1 5h0m0 6h0m-1 4h0m0 286h0m0 5h0m1 10h0m0 71h0m4-552h0m0 9h0m0 11h0m1 5h0m-1 6h0m1 5h0m-1 30h0m1 5h0m-1 5h0m0 5h0m0 76h0m0 6h0m1 5h0m-1 5h0m1 6h0m-1 4h0m1 285h0m-1 6h0m0 5h0m1 71h0m5-553h0m-1 4h0m1 6h0m-1 5h0m1 4h0m-1 6h0m0 6h0m0 4h0m0 42h0m0 4h0m0 5h0m1 21h0m-1 55h0m1 6h0m-1 5h0m0 5h0m0 296h0m0 6h0m1 4h0m4-487h0m0 25h0m0 57h0m0 4h0m0 5h0m0 26h0m1 30h0m-1 5h0m0 16h0m0 5h0m0 4h0m0 5h0m1 296h0m-1 6h0m1 77h0m4-560h0m0 6h0m0 5h0m0 4h0m0 6h0m0 5h0m0 4h0m0 26h0m0 6h0m0 19h0m0 5h0m0 27h0m0 4h0m0 5h0m0 6h0m0 5h0m0 5h0m0 5h0m0 5h0m0 5h0m-1 5h0m1 322h0m4-472h0m1 6h0m0 10h0m0 30h0m0 5h0m0 21h0m0 5h0m0 5h0m0 26h0m0 9h0m0 5h0m-1 6h0m1 4h0m0 6h0m0 5h0m4-133h0m1 4h0m-1 5h0m0 52h0m1 5h0m0 5h0m0 5h0m0 36h0m-1 6h0m1 4h0m-1 5h0m1 6h0m5-114h0m-1 4h0m1 31h0m0 6h0m-1 5h0m0 5h0m1 6h0m-1 4h0m0 41h0m1 5h0m0 10h0m4-124h0m0 5h0m0 5h0m0 5h0m1 26h0m-1 4h0m0 6h0m1 5h0m-1 5h0m0 5h0m0 41h0m0 5h0m0 6h0m0 4h0m0 5h0m0 6h0m0 4h0m5-133h0m0 5h0m0 11h0m0 31h0m0 60h0m0 6h0m0 15h0m0 5h0m0 5h0m5-135h0m0 5h0m0 5h0m0 21h0m0 5h0m0 6h0m0 66h0m0 14h0m0 6h0m0 10h0m5-106h0m0 93h0m0 5h0m-1 5h0m5-60h0m0 62h0m6-111h0m0 5h0m-1 6h0m0 35h0m0 5h0m1 5h0m-1 51h0m1 5h0m0 5h0m4-134h0m0 6h0m0 5h0m0 5h0m0 5h0m0 4h0m0 7h0m0 4h0m0 26h0m0 5h0m0 4h0m0 6h0m0 45h0m0 5h0m0 6h0m5-129h0m0 5h0m-1 5h0m1 4h0m0 6h0m0 5h0m0 5h0m0 5h0m0 26h0m0 10h0m0 5h0m0 41h0m0 5h0m0 6h0m5-161h0m0 5h0m0 6h0m0 19h0m-1 6h0m0 5h0m0 5h0m0 6h0m1 4h0m-1 5h0m0 5h0m0 27h0m1 4h0m0 6h0m-1 45h0m1 5h0m0 5h0m4-162h0m1 5h0m-1 6h0m1 4h0m0 5h0m0 16h0m0 5h0m0 5h0m-1 5h0m1 5h0m-1 5h0m1 6h0m-1 30h0m1 5h0m-1 6h0m1 55h0m5-165h0m-1 5h0m0 5h0m0 5h0m1 5h0m-1 5h0m0 5h0m0 6h0m0 5h0m0 5h0m1 5h0m-1 5h0m0 41h0m0 5h0m1 5h0m0 5h0m5-112h0m-1 5h0m0 5h0m1 5h0m-1 6h0m1 4h0m-1 6h0m0 5h0m0 5h0m0 5h0m0 5h0m0 5h0m0 46h0m0 6h0m1 4h0m0 205h0m-1 4h0m5-318h0m0 5h0m0 5h0m0 5h0m0 6h0m0 4h0m0 6h0m0 5h0m0 5h0m0 5h0m0 5h0m0 47h0m0 4h0m0 5h0m0 5h0m1 200h0m-1 5h0m0 4h0m0 5h0m0 5h0m5-326h0m0 5h0m0 9h0m0 6h0m0 5h0m0 5h0m0 6h0m-1 4h0m1 6h0m0 259h0m0 6h0m0 4h0m0 6h0m5-295h0m0 5h0m0 276h0m0 4h0m0 5h0m0 6h0m4-2h0m6-338h0m0 5h0m5-11h0m-1 4h0m0 5h0m0 5h0m0 327h0m5-354h0m0 16h0m0 4h0m0 6h0m0 5h0m0 21h0m0 5h0m0 5h0m0 30h0m0 5h0m0 255h0m0 6h0m0 101h0m1 5h0m4-442h0m0 5h0m-1 21h0m1 4h0m0 6h0m0 5h0m0 26h0m0 259h0m-1 6h0m1 4h0m0 102h0m0 6h0m5-120h0m0 6h0m0 10h0m0 4h0m0 6h0m0 86h0m0 6h0m5-110h0m-1 6h0m0 5h0m1 5h0m0 87h0m-1 4h0m1 6h0m5-108h0m-1 6h0m1 5h0m0 86h0m-1 6h0m0 5h0m5-100h0m0 87h0m0 5h0m5-4h0m14-207h0m5-9h0m0 6h0m5-35h0m0 26h0m0 4h0m0 5h0m5-33h0m0 26h0m0 5h0m0 5h0m5-32h0m0 22h0m0 4h0m-1 6h0m5-6h0m1 5h0m125-83h0m29 34h0m5-51h0m4 39h0m1 16h0m-1 10h0m5 10h0m5-31h0m0 16h0m0 24h0m5-34h0m29 187h0m4 4h0m0 9h0m1 6h0m5-7h0m-1 5h0m0 6h0m0 5h0m5 10h0m0-36h0m1 26h0m0 5h0m4-18h0m0 21h0m0 5h0m0-16h0m5-21h0m0 10h0m0 5h0m0 15h0m0 15h0m5-24h0m0 20h0m0 6h0m0-21h0m4-24h0m1 5h0m-1 36h0m1-31h0m0 16h0m0 20h0m28-251h0m0 5h0m0 5h0m1 26h0m4-39h0m5 38h0m1-36h0m-1 15h0m5-8h0m0 30h0m5-11h0m0-11h0m0 21h0m0 4h0m4-39h0m1 10h0m4 0h0m1 16h0m-1 5h0m1 5h0m4-15h0m0-6h0m5-12h0m1 31h0m0 5h0m4-25h0m0 16h0m0 5h0m229-76h0m0 4h0m0 98h0m0 5h0m0 5h0m0 10h0m0 5h0m0 5h0m0 6h0m0 117h0m0 4h0m0 6h0m0 112h0m0 5h0m0 5h0m0 30h0m0 16h0m5-437h0m-1 6h0m1 5h0m0 5h0m-1 86h0m0 6h0m1 5h0m0 5h0m0 5h0m-1 5h0m0 6h0m1 4h0m0 6h0m0 117h0m0 5h0m0 6h0m0 40h0m0 5h0m0 5h0m0 61h0m0 5h0m5-386h0m0 5h0m-1 5h0m0 92h0m0 5h0m0 5h0m0 5h0m0 5h0m0 5h0m1 6h0m-1 4h0m1 113h0m-1 5h0m0 4h0m0 5h0m0 6h0m1 40h0m-1 6h0m0 5h0m0 36h0m0 5h0m0 21h0m5-387h0m0 5h0m0 107h0m0 5h0m0 6h0m0 5h0m1 5h0m-1 5h0m0 5h0m0 72h0m0 40h0m0 5h0m0 5h0m0 5h0m0 21h0m0 5h0m0 5h0m1 5h0m-1 5h0m0 5h0m0 5h0m0 5h0m0 5h0m0 21h0m0 5h0m1 5h0m-1 5h0m0 5h0m0 77h0m0 5h0m5-493h0m0 5h0m0 6h0m-1 4h0m1 6h0m0 132h0m0 5h0m0 6h0m0 4h0m0 6h0m0 4h0m0 5h0m0 41h0m0 6h0m0 5h0m0 19h0m0 6h0m0 6h0m0 30h0m0 4h0m-1 6h0m0 21h0m1 5h0m0 4h0m0 5h0m0 5h0m0 11h0m0 5h0m0 10h0m0 6h0m0 5h0m0 5h0m0 5h0m-1 5h0m1 5h0m0 71h0m0 5h0m0 6h0m5-478h0m0 4h0m0 5h0m-1 139h0m1 4h0m-1 6h0m0 5h0m1 5h0m0 4h0m-1 5h0m1 41h0m0 5h0m0 5h0m0 5h0m0 16h0m0 5h0m0 5h0m0 62h0m0 5h0m-1 5h0m1 5h0m0 5h0m0 21h0m0 4h0m0 6h0m0 5h0m0 4h0m0 6h0m0 5h0m-1 6h0m1 71h0m0 4h0m-1 6h0m6-473h0m-1 91h0m1 6h0m0 41h0m0 5h0m0 10h0m-1 6h0m0 4h0m1 6h0m-1 5h0m0 35h0m1 5h0m0 6h0m-1 4h0m0 6h0m0 15h0m0 5h0m1 66h0m-1 5h0m1 5h0m0 6h0m-1 25h0m0 5h0m0 6h0m0 5h0m0 4h0m0 5h0m1 5h0m0 77h0m0 5h0m10-382h0m0 5h0m0 4h0m0 6h0m0 50h0m0 21h0m0 5h0m0 6h0m0 25h0m0 5h0m0 5h0m0 5h0m0 5h0m0 6h0m0 5h0m0 5h0m0 71h0m0 5h0m0 6h0m0 5h0m0 4h0m0 6h0m0 4h0m0 6h0m0 4h0m0 6h0m0 5h0m0 31h0m-1 5h0m1 5h0m0 45h0m0 6h0m4-464h0m1 5h0m0 16h0m-1 4h0m1 5h0m0 62h0m0 4h0m0 6h0m0 5h0m0 72h0m-1 4h0m1 5h0m-1 26h0m0 5h0m0 5h0m0 6h0m1 5h0m-1 5h0m0 4h0m0 5h0m1 6h0m-1 66h0m1 5h0m-1 6h0m0 5h0m1 4h0m-1 5h0m0 5h0m0 6h0m1 5h0m0 5h0m0 6h0m0 30h0m0 5h0m0 5h0m0 41h0m0 5h0m-1 5h0m5-472h0m0 5h0m0 5h0m0 5h0m0 5h0m0 5h0m0 6h0m0 5h0m0 71h0m0 5h0m0 67h0m0 4h0m1 5h0m-1 5h0m0 32h0m0 4h0m0 6h0m0 4h0m0 15h0m1 6h0m-1 67h0m0 4h0m0 5h0m0 5h0m0 6h0m0 5h0m0 4h0m0 7h0m0 4h0m0 5h0m0 6h0m0 35h0m0 5h0m0 5h0m0 36h0m0 5h0m4-496h0m1 35h0m0 5h0m-1 6h0m0 4h0m1 6h0m0 5h0m0 132h0m0 25h0m0 6h0m0 41h0m0 96h0m-1 6h0m0 5h0m1 4h0m-1 6h0m1 5h0m0 6h0m0 4h0m0 5h0m-1 6h0m0 41h0m5-450h0m0 5h0m0 30h0m1 5h0m-1 6h0m1 5h0m-1 5h0m1 126h0m-1 6h0m0 6h0m1 4h0m-1 62h0m0 106h0m0 6h0m0 4h0m0 22h0m0 4h0m5-396h0m0 25h0m0 6h0m0 5h0m0 5h0m0 5h0m0 128h0m0 5h0m-1 5h0m1 5h0m0 5h0m0 55h0m0 6h0m0 5h0m0 103h0m0 5h0m0 4h0m4-379h0m1 16h0m-1 5h0m1 5h0m-1 16h0m1 4h0m0 5h0m-1 5h0m0 118h0m1 5h0m0 5h0m-1 5h0m1 5h0m0 6h0m0 4h0m0 6h0m0 40h0m0 5h0m0 5h0m0 5h0m0 108h0m4-361h0m0 6h0m0 5h0m0 5h0m0 15h0m0 6h0m0 4h0m0 5h0m0 6h0m0 5h0m0 5h0m0 5h0m0 5h0m0 5h0m0 62h0m0 5h0m1 5h0m-1 5h0m1 5h0m-1 5h0m0 5h0m0 11h0m0 4h0m0 5h0m0 6h0m0 5h0m1 4h0m-1 27h0m0 4h0m0 6h0m0 4h0m0 6h0m0 5h0m0 4h0m1 11h0m-1 51h0m0 5h0m0 6h0m0 5h0m0 20h0m0 5h0m0 81h0m0 5h0m0 6h0m0 45h0m0 6h0m4-466h0m0 6h0m0 116h0m0 6h0m0 82h0m0 4h0m0 15h0m0 36h0m0 194h0m1-500h0m0 5h0m0 6h0m0 5h0m0 15h0m-1 5h0m1 15h0m0 6h0m0 5h0m0 5h0m0 4h0m0 6h0m0 4h0m0 57h0m0 5h0m0 6h0m0 4h0m0 6h0m0 15h0m0 5h0m-1 6h0m1 5h0m-1 4h0m0 6h0m1 4h0m0 31h0m0 5h0m0 6h0m0 15h0m0 20h0m0 15h0m0 6h0m0 9h0m0 6h0m-1 4h0m1 6h0m0 5h0m0 5h0m-1 20h0m1 6h0m-1 5h0m1 5h0m-1 10h0m1 66h0m0 6h0m0 4h0m-1 46h0m1 6h0m4-477h0m0 31h0m0 4h0m0 5h0m0 5h0m0 82h0m0 16h0m0 15h0m0 45h0m0 41h0m0 11h0m0 35h0m0 62h0m0-383h0m0 6h0m1 4h0m0 26h0m0 15h0m0 5h0m0 26h0m0 56h0m-1 6h0m1 4h0m0 5h0m0 15h0m0 11h0m0 4h0m0 11h0m-1 5h0m0 31h0m0 10h0m1 5h0m0 6h0m0 4h0m-1 5h0m0 6h0m1 4h0m0 11h0m-1 10h0m0 5h0m1 5h0m0 5h0m0 6h0m-1 4h0m0 11h0m1 5h0m0 5h0m0 15h0m-1 5h0m1 6h0m0 4h0m0 6h0m0 5h0m-1 72h0m0 5h0m1 40h0m0 10h0m4-487h0m0 11h0m0 5h0m0 20h0m0 6h0m0 4h0m0 16h0m0 61h0m0 5h0m0 6h0m0 4h0m0 6h0m0 10h0m0 16h0m0 50h0m0 42h0m0 4h0m0 15h0m0 21h0m0 4h0m0 31h0m0 5h0m0 5h0m0 6h0m0 4h0m0 6h0m0 66h0m0 5h0m0-444h0m0 6h0m0 56h0m0 5h0m0 92h0m0 10h0m0 5h0m0 46h0m0 5h0m0 10h0m0 31h0m0 15h0m0 5h0m0 10h0m0 5h0m0 6h0m0 20h0m0 6h0m0 10h0m5-342h0m0 4h0m-1 47h0m1 5h0m0 4h0m0 6h0m-1 41h0m0 46h0m0 14h0m1 6h0m-1 31h0m0 9h0m0 6h0m1 11h0m-1 30h0m0 26h0m1 35h0m-1 5h0m1 20h0m0 6h0m-1 10h0m0 10h0m1 31h0m0 15h0m0-408h0m0 5h0m0 5h0m0 137h0m0 6h0m0 61h0m0 41h0m0 5h0m0 46h0m0 40h0m0 42h0m4-397h0m0 5h0m0 5h0m0 5h0m1 77h0m-1 5h0m0 5h0m0 65h0m1 36h0m-1 6h0m0 4h0m0 6h0m0 5h0m0 5h0m0 31h0m0 5h0m0 51h0m0 30h0m0 5h0m0 11h0m0 5h0m0 5h0m1-15h0m4-356h0m0 11h0m-1 5h0m1 76h0m0 5h0m0 5h0m0 5h0m-1 92h0m1 5h0m-1 5h0m1 5h0m0 6h0m0 4h0m-1 31h0m1 5h0m0 6h0m-1 40h0m1 5h0m-1 5h0m1 31h0m0 5h0m4-358h0m0 5h0m0 5h0m0 5h0m0 6h0m1 71h0m-1 5h0m0 5h0m0 4h0m0 7h0m0 91h0m0 5h0m0 6h0m5-209h0m0 82h0m0 5h0m0 5h0m0 5h0m0 5h0m0 46h0m0 5h0m0 5h0m0 5h0m127-172h0m-1 4h0m1 6h0m-1 5h0m1 5h0m0 6h0m0 5h0m0 4h0m0 5h0m0 5h0m-1 6h0m1 5h0m-1 5h0m0 5h0m1 5h0m-1 5h0m0 6h0m0 4h0m0 6h0m1 4h0m0 32h0m-1 5h0m1 60h0m0 6h0m0 5h0m0 5h0m0 56h0m-1 5h0m1 6h0m0 10h0m0 4h0m0 5h0m0 5h0m0 6h0m0 5h0m-1 5h0m0 5h0m1 5h0m0 5h0m0 11h0m0 5h0m0 5h0m0 4h0m0 6h0m0 25h0m-1 6h0m1 5h0m0 5h0m0 5h0m0 5h0m0 20h0m-1 6h0m1 4h0m0 5h0m-1 5h0m1 6h0m0 5h0m-1 5h0m1 5h0m4-473h0m0 5h0m0 6h0m1 4h0m0 5h0m-1 5h0m1 6h0m-1 4h0m1 6h0m0 5h0m-1 5h0m0 5h0m0 5h0m1 6h0m-1 4h0m0 5h0m0 5h0m0 6h0m0 5h0m0 5h0m0 21h0m1 5h0m-1 5h0m0 5h0m0 87h0m0 40h0m0 5h0m0 5h0m1 5h0m-1 6h0m0 5h0m0 5h0m0 5h0m1 5h0m-1 21h0m0 5h0m0 4h0m0 10h0m0 6h0m0 4h0m0 6h0m0 5h0m0 26h0m0 5h0m1 5h0m0 5h0m0 5h0m-1 5h0m1 26h0m-1 5h0m0 4h0m1 6h0m0 5h0m0 6h0m-1 4h0m1 5h0m-1 6h0m4-432h0m0 4h0m0 41h0m0 5h0m0 163h0m0 71h0m0 67h0m0 46h0m0 36h0m1-480h0m0 6h0m0 4h0m0 5h0m0 5h0m-1 6h0m1 4h0m0 5h0m0 5h0m0 16h0m0 5h0m0 5h0m0 6h0m0 5h0m0 5h0m0 5h0m0 25h0m0 6h0m0 4h0m0 5h0m0 87h0m0 6h0m0 45h0m0 5h0m0 6h0m0 5h0m0 5h0m0 5h0m0 4h0m0 27h0m0 5h0m0 10h0m-1 5h0m1 4h0m0 6h0m0 5h0m0 31h0m0 5h0m0 10h0m0 5h0m0 5h0m0 5h0m0 20h0m0 11h0m0 5h0m0 5h0m0 5h0m0 5h0m0 5h0m0 11h0m10-491h0m0 6h0m0 5h0m0 25h0m0 5h0m0 5h0m-1 5h0m0 6h0m1 5h0m0 5h0m0 15h0m0 5h0m0 5h0m-1 5h0m0 5h0m1 6h0m0 5h0m0 4h0m0 6h0m0 6h0m0 25h0m0 4h0m0 6h0m0 51h0m0 5h0m-1 5h0m1 5h0m0 41h0m0 4h0m-1 7h0m0 4h0m1 5h0m0 6h0m0 5h0m0 5h0m0 15h0m0 5h0m0 5h0m0 5h0m0 5h0m0 6h0m0 5h0m-1 4h0m1 6h0m0 5h0m0 5h0m0 5h0m0 10h0m0 5h0m0 6h0m0 5h0m0 4h0m0 5h0m-1 11h0m1 5h0m-1 6h0m1 4h0m0 5h0m0 21h0m0 30h0m4-492h0m0 30h0m0 26h0m0 52h0m0 10h0m0 25h0m0 123h0m0 36h0m0 4h0m0 133h0m1-443h0m-1 10h0m1 19h0m-1 11h0m1 5h0m-1 5h0m0 15h0m0 21h0m0 5h0m1 5h0m-1 5h0m0 6h0m0 10h0m0 10h0m0 25h0m0 6h0m0 4h0m0 5h0m0 5h0m0 42h0m0 5h0m0 56h0m0 4h0m0 6h0m0 5h0m0 5h0m0 6h0m0 14h0m0 6h0m0 5h0m0 5h0m0 5h0m0 5h0m1 5h0m0 5h0m-1 6h0m0 4h0m0 5h0m1 6h0m0 5h0m-1 4h0m0 6h0m0 5h0m0 5h0m0 5h0m0 5h0m0 16h0m1 5h0m-1 5h0m0 4h0m0 62h0m1 5h0m4-503h0m-1 4h0m0 5h0m0 15h0m1 11h0m0 5h0m0 26h0m0 20h0m0 5h0m0 5h0m-1 6h0m0 15h0m0 10h0m1 25h0m-1 6h0m1 4h0m-1 5h0m0 6h0m1 71h0m-1 25h0m0 6h0m0 4h0m0 6h0m1 5h0m-1 5h0m0 16h0m0 15h0m0 4h0m0 6h0m0 5h0m0 21h0m1 4h0m0 6h0m0 19h0m-1 6h0m0 26h0m1 5h0m-1 5h0m1 4h0m-1 6h0m0 56h0m1-469h0m0 15h0m0 10h0m0 5h0m0 52h0m0 9h0m0 10h0m0 47h0m0 61h0m0 62h0m0 4h0m0 10h0m0 6h0m0 25h0m0 6h0m0 4h0m0 20h0m0 5h0m0 6h0m0 15h0m0 102h0m11-482h0m0 5h0m0 30h0m0 6h0m0 16h0m0 10h0m0 4h0m0 5h0m1 31h0m0 5h0m0 21h0m0 5h0m-1 15h0m0 26h0m1 5h0m0 35h0m-1 5h0m0 6h0m0 15h0m1 5h0m0 5h0m-1 138h0m0 5h0m0 5h0m0 20h0m1 5h0m-1 5h0m0 5h0m0 6h0m0 5h0m1-454h0m0 56h0m0 10h0m0 41h0m0 41h0m0 5h0m0 40h0m0 46h0m0 5h0m0 240h0m0 6h0m4-488h0m0 6h0m0 35h0m0 5h0m0 5h0m0 11h0m0 46h0m0 5h0m0 4h0m0 6h0m0 15h0m0 6h0m0 5h0m0 5h0m0 35h0m0 36h0m0 5h0m0 5h0m0 6h0m0 9h0m0 6h0m0 4h0m0 133h0m0 5h0m0 5h0m0 21h0m0 5h0m0 11h0m0 4h0m0 5h0m1-392h0m-1 122h0m0 5h0m0 61h0m5-210h0m0 4h0m0 5h0m0 62h0m-1 14h0m0 11h0m1 5h0m-1 5h0m1 10h0m0 5h0m-1 21h0m1 5h0m0 5h0m-1 36h0m1 5h0m-1 5h0m1 5h0m-1 5h0m1 5h0m0 6h0m0 5h0m0 116h0m-1 26h0m1 21h0m-1 5h0m0 20h0m1-337h0m0 5h0m0 10h0m0 21h0m5-111h0m0 6h0m0 5h0m-1 56h0m1 11h0m-1 4h0m1 5h0m0 6h0m0 5h0m0 5h0m0 5h0m-1 10h0m0 5h0m1 6h0m-1 5h0m0 4h0m0 11h0m1 46h0m-1 5h0m1 6h0m-1 4h0m0 5h0m0 5h0m0 10h0m1 113h0m-1 4h0m1 36h0m0 6h0m0-316h0m0 279h0m0 62h0m4-402h0m0 25h0m1 6h0m0 21h0m0 9h0m0 6h0m-1 5h0m0 10h0m1 5h0m-1 10h0m0 10h0m1 6h0m-1 5h0m1 10h0m0 5h0m-1 4h0m1 6h0m-1 35h0m0 6h0m0 10h0m0 6h0m0 20h0m1 112h0m-1 10h0m1 76h0m0-428h0m0 5h0m0 61h0m0 21h0m0 15h0m0 11h0m0 20h0m0 66h0m0 138h0m5-341h0m-1 6h0m0 5h0m0 5h0m0 20h0m0 6h0m0 5h0m0 25h0m0 6h0m0 4h0m0 5h0m0 6h0m0 10h0m1 4h0m-1 6h0m0 5h0m0 5h0m0 6h0m0 4h0m0 6h0m0 5h0m0 9h0m1 6h0m-1 35h0m0 6h0m0 5h0m0 9h0m0 16h0m0 6h0m0 50h0m0 5h0m0 5h0m1 5h0m-1 41h0m0 6h0m1 4h0m-1 5h0m0 77h0m0 6h0m0 4h0m1-377h0m0 31h0m0 51h0m0 60h0m4-275h0m0 67h0m0 5h0m0 5h0m0 25h0m0 6h0m0 4h0m0 6h0m0 10h0m0 6h0m0 4h0m0 16h0m0 4h0m0 6h0m0 5h0m0 10h0m0 10h0m0 5h0m0 21h0m0 5h0m0 6h0m0 4h0m0 10h0m0 6h0m0 5h0m0 15h0m0 5h0m0 21h0m0 4h0m0 6h0m0 46h0m0 5h0m0 15h0m0 5h0m0 36h0m0 5h0m0 5h0m0 26h0m0 4h0m0 52h0m0 4h0m0 6h0m0-388h0m1 21h0m0 5h0m-1 26h0m0 10h0m0 71h0m0 5h0m0 97h0m0 5h0m0 159h0m5-528h0m0 77h0m0 10h0m-1 26h0m1 5h0m0 4h0m-1 11h0m1 5h0m-1 5h0m1 5h0m0 5h0m-1 21h0m0 16h0m1 9h0m0 21h0m0 4h0m0 6h0m0 5h0m0 5h0m-1 6h0m0 5h0m1 9h0m0 37h0m-1 4h0m1 6h0m0 46h0m0 4h0m0 5h0m-1 6h0m1 5h0m0 77h0m-1 5h0m0 4h0m0 6h0m0 61h0m1-521h0m0 77h0m0 26h0m0 20h0m0 66h0m0 61h0m5-251h0m-1 66h0m1 6h0m0 5h0m0 4h0m0 41h0m0 5h0m-1 6h0m1 4h0m-1 5h0m0 5h0m1 21h0m0 51h0m-1 5h0m1 15h0m-1 6h0m1 5h0m0 5h0m-1 5h0m0 25h0m1 6h0m0 4h0m-1 57h0m1 5h0m-1 5h0m1 5h0m0 77h0m-1 10h0m0 5h0m1-373h0m0 107h0m0 36h0m0 219h0m5-444h0m-1 66h0m0 6h0m0 6h0m1 4h0m-1 6h0m0 4h0m0 26h0m0 4h0m0 6h0m1 4h0m0 6h0m0 21h0m-1 5h0m0 4h0m1 21h0m-1 26h0m1 4h0m-1 6h0m1 5h0m-1 5h0m1 5h0m0 5h0m0 5h0m-1 5h0m1 25h0m-1 7h0m0 5h0m1 71h0m-1 81h0m0 6h0m0 5h0m1-459h0m0 147h0m5-144h0m-1 5h0m0 67h0m0 5h0m0 5h0m0 5h0m0 6h0m0 4h0m0 26h0m0 4h0m0 6h0m0 5h0m0 5h0m0 15h0m0 36h0m0 36h0m0 5h0m0 5h0m0 5h0m0 31h0m0 5h0m0 5h0m0 153h0m0 5h0m0 6h0m0 4h0m0 5h0m0 6h0m1 30h0m0-332h0m0 52h0m0 5h0m0 4h0m0 67h0m4-291h0m0 4h0m0 71h0m0 6h0m0 10h0m0 4h0m0 6h0m0 36h0m0 20h0m0 5h0m0 5h0m0 21h0m0 5h0m0 5h0m0 5h0m0 5h0m0 5h0m0 6h0m0 4h0m0 10h0m0 6h0m0 5h0m0 5h0m0 30h0m0 6h0m0 4h0m0 149h0m0 5h0m0 5h0m0 5h0m0 5h0m0 5h0m0 6h0m0 4h0m0 5h0m0 5h0m0 6h0m0 5h0m0 10h0m0-419h0m0 144h0m0 270h0m5-501h0m0 5h0m0 4h0m-1 72h0m0 5h0m0 6h0m1 5h0m0 60h0m0 6h0m0 5h0m0 21h0m0 5h0m0 5h0m-1 4h0m1 6h0m-1 5h0m0 5h0m0 5h0m1 6h0m0 4h0m0 5h0m-1 6h0m1 5h0m0 31h0m-1 4h0m1 6h0m-1 5h0m0 142h0m1 5h0m0 6h0m-1 9h0m1 6h0m0 5h0m0 5h0m0 5h0m-1 5h0m0 5h0m1 5h0m0 6h0m0 5h0m0 5h0m0-57h0m5-456h0m-1 6h0m1 4h0m0 112h0m0 21h0m0 5h0m-1 16h0m1 4h0m0 20h0m0 6h0m0 5h0m-1 4h0m0 6h0m1 5h0m-1 6h0m1 4h0m0 6h0m0 4h0m-1 6h0m0 5h0m1 10h0m-1 30h0m0 6h0m1 5h0m-1 5h0m1 153h0m0 5h0m-1 4h0m0 11h0m1 6h0m-1 4h0m0 5h0m1 6h0m-1 5h0m1 5h0m0 10h0m0-331h0m0 65h0m0 220h0m0 40h0m4-507h0m1 5h0m0 5h0m-1 51h0m1 6h0m-1 5h0m0 5h0m0 4h0m0 41h0m0 5h0m0 11h0m0 5h0m0 5h0m0 5h0m0 5h0m0 10h0m1 10h0m-1 5h0m0 5h0m1 6h0m-1 4h0m0 11h0m1 5h0m0 5h0m0 6h0m-1 4h0m1 5h0m-1 6h0m0 5h0m0 5h0m0 51h0m1 51h0m-1 5h0m1 4h0m-1 6h0m1 5h0m-1 5h0m1 5h0m-1 6h0m0 5h0m0 4h0m0 6h0m0 55h0m0 6h0m1 5h0m-1 5h0m0 5h0m1 6h0m0 15h0m-1 5h0m0 5h0m1-306h0m4-207h0m0 11h0m0 20h0m0 5h0m1 6h0m-1 5h0m1 15h0m-1 5h0m0 5h0m0 5h0m0 6h0m0 40h0m0 5h0m0 5h0m1 5h0m-1 5h0m0 6h0m0 5h0m0 4h0m0 5h0m0 6h0m0 5h0m0 5h0m0 5h0m0 5h0m0 26h0m0 5h0m0 5h0m0 5h0m1 5h0m-1 5h0m0 5h0m0 6h0m0 4h0m0 51h0m0 5h0m0 46h0m1 5h0m-1 6h0m0 5h0m0 5h0m0 5h0m0 5h0m0 5h0m0 5h0m0 6h0m1 4h0m-1 57h0m0 5h0m0 5h0m0 5h0m0 5h0m0 5h0m0 20h0m1-504h0m0 254h0m3-258h0m1 5h0m0 5h0m-1 20h0m0 5h0m1 5h0m0 21h0m0 5h0m0 5h0m0 5h0m0 6h0m0 45h0m0 5h0m-1 5h0m1 5h0m0 6h0m0 4h0m0 5h0m0 6h0m0 4h0m0 5h0m0 6h0m0 5h0m0 31h0m0 5h0m-1 5h0m1 5h0m0 5h0m0 5h0m0 5h0m0 11h0m0 4h0m0 41h0m0 5h0m0 5h0m0 47h0m0 5h0m-1 4h0m1 5h0m0 6h0m0 5h0m0 4h0m-1 6h0m1 5h0m0 5h0m-1 6h0m1 55h0m0 5h0m0 6h0m0 5h0m0 5h0m0 26h0m0 4h0m11-491h0m1 4h0m-1 6h0m0 5h0m0 5h0m0 21h0m1 5h0m-1 5h0m1 5h0m0 5h0m0 5h0m0 5h0m-1 5h0m0 5h0m0 10h0m0 62h0m1 5h0m0 5h0m0 5h0m0 5h0m0 5h0m0 5h0m-1 6h0m0 5h0m1 5h0m0 66h0m0 5h0m0 6h0m-1 19h0m1 5h0m0 5h0m-1 36h0m0 5h0m0 6h0m0 4h0m0 42h0m1 5h0m-1 4h0m0 5h0m0 32h0m1 4h0m0 6h0m-1 5h0m5-459h0m0 4h0m0 5h0m0 6h0m0 5h0m0 5h0m0 15h0m0 5h0m1 5h0m-1 6h0m0 5h0m0 4h0m0 6h0m1 5h0m-1 5h0m0 6h0m0 4h0m0 5h0m0 57h0m0 4h0m0 6h0m0 5h0m0 5h0m0 5h0m0 5h0m0 5h0m0 5h0m0 5h0m0 62h0m0 5h0m0 4h0m0 5h0m0 22h0m0 5h0m0 5h0m0 40h0m0 51h0m0 5h0m0 5h0m0 6h0m0 40h0m0 5h0m1 6h0m4-466h0m0 5h0m0 5h0m0 5h0m-1 5h0m0 5h0m1 5h0m0 15h0m-1 6h0m1 9h0m0 6h0m0 5h0m0 5h0m0 16h0m-1 4h0m0 6h0m1 51h0m0 5h0m0 5h0m-1 5h0m1 5h0m0 6h0m0 5h0m-1 76h0m1 5h0m0 5h0m-1 5h0m0 20h0m1 6h0m0 4h0m-1 6h0m1 4h0m0 32h0m0 4h0m0 26h0m0 21h0m0 5h0m0 51h0m-1 4h0m1 6h0m5-467h0m0 5h0m-1 6h0m0 5h0m0 5h0m0 5h0m0 5h0m0 5h0m0 31h0m0 4h0m0 6h0m1 20h0m-1 5h0m0 6h0m0 5h0m0 5h0m0 5h0m0 4h0m0 6h0m0 21h0m0 4h0m0 5h0m0 5h0m0 6h0m0 5h0m0 61h0m0 30h0m0 6h0m0 4h0m0 22h0m0 5h0m1 5h0m-1 5h0m0 5h0m0 30h0m0 6h0m1 5h0m0 14h0m-1 5h0m1 57h0m-1 16h0m0 4h0m0 5h0m0 6h0m4-451h0m0 106h0m0 179h0m0 158h0m1-463h0m0 4h0m-1 5h0m1 5h0m0 11h0m0 4h0m0 5h0m-1 6h0m1 26h0m0 4h0m-1 5h0m1 31h0m0 6h0m0 4h0m0 6h0m0 15h0m-1 20h0m0 10h0m1 6h0m0 51h0m0 5h0m0 4h0m0 5h0m-1 6h0m1 31h0m0 5h0m-1 5h0m1 4h0m0 11h0m0 10h0m0 5h0m0 6h0m0 4h0m-1 31h0m0 5h0m1 5h0m0 5h0m-1 6h0m1 5h0m-1 50h0m1 5h0m-1 22h0m1 9h0m0 21h0m4-495h0m0 11h0m0 5h0m0 5h0m0 5h0m0 10h0m0 6h0m0 35h0m0 36h0m0 5h0m0 46h0m0 6h0m0 9h0m0 56h0m0 5h0m0 5h0m0 52h0m0 24h0m0 6h0m0 36h0m0 15h0m0 10h0m0 46h0m0 10h0m0 46h0m0 5h0m0-489h0m0 26h0m1 14h0m-1 26h0m0 10h0m0 25h0m0 21h0m0 5h0m1 5h0m-1 37h0m0 56h0m0 56h0m0 4h0m0 26h0m1 15h0m-1 36h0m0 4h0m0 11h0m0 57h0m0 24h0m0 6h0m0 5h0m0 5h0m12-452h0m0 15h0m0 31h0m0 10h0m0 51h0m0 35h0m0 52h0m0 203h0m0 11h0m0-428h0m0 5h0m1 5h0m0 5h0m0 10h0m0 5h0m0 10h0m0 5h0m0 5h0m-1 6h0m0 5h0m0 10h0m0 10h0m0 5h0m0 5h0m0 5h0m0 25h0m1 11h0m0 6h0m0 4h0m-1 11h0m0 4h0m1 10h0m-1 51h0m0 6h0m1 5h0m-1 5h0m0 15h0m0 5h0m1 6h0m-1 87h0m0 4h0m0 6h0m0 5h0m0 5h0m0 46h0m1 10h0m-1 10h0m1 4h0m-1 6h0m0 5h0m1 6h0m-1 4h0m0 26h0m0 5h0m5-490h0m-1 5h0m1 6h0m-1 5h0m0 5h0m1 5h0m0 5h0m0 5h0m-1 5h0m0 6h0m0 5h0m0 5h0m1 5h0m-1 4h0m1 6h0m-1 5h0m0 5h0m0 5h0m1 11h0m-1 4h0m0 20h0m1 6h0m0 5h0m0 10h0m0 5h0m0 11h0m-1 5h0m0 5h0m1 41h0m0 4h0m0 5h0m0 31h0m-1 6h0m0 4h0m0 78h0m0 15h0m0 5h0m1 5h0m0 5h0m-1 45h0m0 6h0m1 5h0m-1 5h0m1 5h0m-1 6h0m1 5h0m-1 5h0m0 5h0m0 5h0m1-368h0m0 46h0m0 16h0m0 111h0m0 77h0m0 5h0m3-344h0m1 4h0m-1 5h0m1 5h0m-1 6h0m1 5h0m0 5h0m0 11h0m0 4h0m-1 5h0m0 5h0m0 6h0m0 4h0m0 6h0m1 10h0m-1 5h0m1 5h0m-1 5h0m1 5h0m-1 15h0m1 6h0m-1 5h0m1 5h0m-1 5h0m1 6h0m0 4h0m0 6h0m0 5h0m-1 5h0m1 46h0m0 4h0m-1 6h0m0 117h0m0 5h0m1 5h0m-1 6h0m1 5h0m-1 5h0m0 4h0m0 41h0m0 6h0m0 5h0m0 10h0m1 5h0m-1 15h0m0 5h0m1 6h0m14-434h0m-1 5h0m1 61h0m0 5h0m0 5h0m-1 6h0m1 4h0m-1 6h0m1 5h0m-1 5h0m1 5h0m0 5h0m0 5h0m-1 6h0m1 4h0m0 6h0m0 5h0m0 5h0m0 4h0m-1 6h0m0 5h0m0 5h0m0 5h0m0 5h0m1 26h0m0 10h0m-1 6h0m0 4h0m1 36h0m-1 5h0m0 5h0m0 6h0m0 4h0m1 5h0m-1 6h0m0 25h0m0 5h0m1 25h0m-1 5h0m1 6h0m-1 4h0m0 5h0m1 5h0m-1 72h0m0 5h0m0 6h0m1 4h0m3-386h0m0 42h0m0 9h0m0 16h0m0 5h0m0 72h0m0 45h0m0 5h0m0 11h0m0 66h0m0 5h0m0 5h0m1-290h0m0 5h0m0 10h0m0 5h0m0 5h0m0 5h0m0 6h0m0 4h0m0 5h0m0 11h0m0 10h0m0 5h0m0 16h0m0 9h0m0 6h0m-1 5h0m1 4h0m0 6h0m-1 20h0m1 5h0m0 6h0m0 9h0m0 6h0m0 31h0m0 15h0m0 10h0m0 5h0m0 72h0m0 5h0m0 4h0m0 5h0m0 67h0m0 5h0m0 5h0m0 5h0m0 5h0m4-364h0m0 10h0m0 46h0m0 11h0m0 5h0m0 36h0m0 4h0m0 11h0m0 5h0m0 26h0m0 5h0m0 5h0m0 86h0m0 5h0m0 5h0m0 6h0m0 5h0m0 76h0m0 11h0m0 5h0m1-373h0m-1 5h0m0 20h0m0 26h0m0 20h0m1 15h0m-1 6h0m0 20h0m0 15h0m0 51h0m0 184h0m5-362h0m0 6h0m-1 5h0m1 5h0m-1 72h0m0 4h0m1 21h0m0 6h0m0 4h0m-1 5h0m0 5h0m1 5h0m-1 21h0m0 4h0m0 6h0m1 5h0m-1 5h0m0 189h0m0 6h0m5-257h0m0 5h0m0 5h0m0 4h0m0 31h0m0 6h0m0 4h0m4-51h0m0 6h0m0 4h0m0 36h0m0 5h0m5-238h0m-1 190h0m12-202h0m1 10h0m-1 5h0m1 51h0m0 5h0m-1 6h0m0 97h0m0 4h0m1 5h0m-1 5h0m5-220h0m0 4h0m0 204h0m-1 5h0m1-173h0m0 61h0m0 11h0m4-110h0m0 6h0m0 96h0m1 30h0m-1 6h0m1-143h0m0 112h0m0 10h0m4-127h0m0 5h0m0 5h0m0 102h0m0 5h0m0 5h0m0 25h0m0 11h0m1-143h0m0 148h0m4-161h0m0 143h0m0 4h0m0-142h0m0 5h0m0 148h0m0 5h0m5-13h0m0 10h0m0 5h0m0-11h0m0 16h0m0 46h0m5-149h0m-1 4h0m0 87h0m0 10h0m0 5h0m0 6h0m0 5h0m0 40h0m1-4h0m4-163h0m0 6h0m0 5h0m0 4h0m0 5h0m0 88h0m0 5h0m0 5h0m0 5h0m1 35h0m-1 6h0m0 5h0m5-160h0m0 5h0m0 5h0m0 76h0m0 5h0m0 6h0m-1 56h0m1 5h0m0 5h0m5-118h0m-1 6h0m1 4h0m-1 26h0m0 5h0m1 5h0m0 5h0m-1 57h0m1 5h0m-1 5h0m5-117h0m0 5h0m0 5h0m0 5h0m0 20h0m0 5h0m0 5h0m1 6h0m-1 60h0m0 6h0m0 5h0m5-120h0m0 6h0m0 5h0m0 20h0m0 6h0m0 5h0m0 66h0m0 4h0m0 6h0m5-116h0m0 5h0m-1 5h0m1 20h0m0 6h0m-1 70h0m1 6h0m-1 5h0m5-109h0m0 91h0m0 6h0m0 5h0m0 5h0m14-227h0m0 5h0m0 15h0m0 5h0"/>
<path stroke="#00afff" d="M855 929h0m-1 4h0m1 5h0m-1 6h0m0 5h0m5-17h0m0 6h0m0 5h0m0 5h0m5-43h0m0 20h0m0 5h0m0 5h0m0 5h0m5-54h0m0 4h0m0 6h0m-1 6h0m0 4h0m0 25h0m6-67h0m-1 5h0m0 6h0m1 4h0m-1 6h0m0 4h0m1 5h0m-1 6h0m0 4h0m5-42h0m0 5h0m0 6h0m0 5h0m0 4h0m0 5h0m0 6h0m0 5h0m0 5h0m5-36h0m0 4h0m0 10h0m0 6h0m0 5h0m-1 4h0m1 6h0m-1 5h0m5-29h0m0 11h0m5-7h0m0 10h0m5-10h0m0 6h0m0 6h0m0 14h0m5-23h0m0 6h0m0 15h0m5-19h0m-1 5h0m1 5h0m0 6h0m0 5h0m-1 5h0m5-27h0m0 6h0m1 5h0m-1 10h0m0 4h0m5-17h0m0-11h0m0 6h0m0 10h0m0 5h0m0 6h0m0 5h0m22-2h0m0 5h0m1 5h0m4-11h0m0 11h0m1 5h0m4-18h0m0 6h0m0 5h0m0 4h0m0 5h0m0 6h0m0 5h0m0 5h0m5-33h0m0 5h0m0 5h0m0 15h0m0 6h0m0 5h0m5-10h0m0 5h0m4 0h0m78-474h0m5 7h0m0 134h0m0 5h0m-1 4h0m6-11h0m0 4h0m-1 6h0m5-11h0m1 4h0m-1 5h0m0 6h0m0 4h0m0 327h0m0 5h0m5-343h0m0 5h0m0 332h0m0 5h0m5-8h0m4-484h0m1 21h0m10-9h0m-1 10h0m6-18h0m-1 14h0m24-3h0m0 15h0m0 5h0m0 5h0m0 6h0m5 1h0m5 2h0m4 15h0m1 363h0m-1 5h0m0 4h0m0 5h0m1 16h0m0 11h0m-1 5h0m0 5h0m1 4h0m0-433h0m0 398h0m0 16h0m5-402h0m-1 6h0m0 357h0m1 5h0m-1 5h0m1 10h0m0 6h0m0 4h0m0 6h0m0 4h0m-1 6h0m1 5h0m0 5h0m-1 5h0m1-46h0m4-12h0m0 15h0m0 11h0m0 4h0m0 6h0m0 4h0m0 11h0m0 5h0m1-423h0m0 362h0m0 25h0m4-393h0m0 4h0m0 358h0m0 4h0m0 6h0m0 16h0m0 4h0m0 15h0m0 10h0m0 6h0m1-26h0m0 5h0m4-36h0m0 4h0m0 11h0m0 5h0m-1 5h0m1 10h0m0 15h0m0 5h0m0 5h0m0-67h0m0 37h0m0 14h0m4-52h0m1 5h0m-1 5h0m0 5h0m1 5h0m0 11h0m-1 20h0m0 10h0m1 6h0m0-41h0m0 30h0m4-53h0m1 5h0m-1 4h0m0 41h0m1 6h0m-1 4h0m1-46h0m0 51h0m4-67h0m0 9h0m1-4h0m14-394h0m4-42h0m0 15h0m0 36h0m1-15h0m0 10h0m5 0h0m0-51h0m0 10h0m0 5h0m0 31h0m0 10h0m4-47h0m1-15h0m0 46h0m4 11h0m0 15h0m0 6h0m1-57h0m4 54h0m5-1h0m14-20h0m0 6h0m0 5h0m0 5h0m6-21h0m-1 11h0m0 5h0m4-18h0m1 4h0m0 5h0m0 6h0m4-5h0m5-45h0m0 16h0m1-21h0m0 10h0m0 5h0m4 42h0m1-56h0m-1 5h0m1 6h0m-1 5h0m1 36h0m4-38h0m0 36h0m0 6h0m1 4h0m4 421h0m0-475h0m0 52h0m0 419h0m4-7h0m1 6h0m0 4h0m0 6h0m0 61h0m4-78h0m1-463h0m0 20h0m-1 35h0m1 404h0m0 9h0m0 6h0m0 4h0m4-478h0m0 536h0m1-530h0m-1 6h0m1 4h0m0 6h0m-1 5h0m1 25h0m0 4h0m0 404h0m0 5h0m0 4h0m4-464h0m1 5h0m-1 5h0m0 11h0m5-30h0m0 5h0m0 5h0m1 5h0m0 16h0m-1 20h0m5 2h0m0-40h0m0 4h0m0 6h0m14-42h0m5-2h0m5-4h0m0 102h0m0 6h0m0 4h0m5-13h0m-1 5h0m1 6h0m0 4h0m5-12h0m0 11h0m0 4h0m-1 10h0m6-20h0m0 5h0m0 4h0m0 11h0m0 4h0m4-21h0m0 6h0m0 4h0m0 5h0m0 6h0m5-99h0m0 30h0m1 6h0m-1 4h0m0 47h0m0 5h0m0 4h0m0 5h0m5-71h0m0 5h0m0 5h0m0 47h0m0 4h0m0 5h0m0 66h0m0 11h0m5-166h0m0 20h0m0 6h0m0 4h0m0 118h0m0 5h0m-1 5h0m1 5h0m5-161h0m0 5h0m0 5h0m0 15h0m0 6h0m0 111h0m0 6h0m0 5h0m0 5h0m5-157h0m0 15h0m0 6h0m-1 10h0m0 113h0m1 10h0m0 4h0m4-151h0m0 5h0m0 6h0m1 5h0m-1 128h0m1 4h0m4-154h0m1 6h0m3-8h0m1 5h0m0 5h0m5-12h0m0 6h0m0 5h0m5-55h0m0 51h0m0 5h0m9 268h0m0 5h0m6-7h0m-1 5h0m5-286h0m0 41h0m0 240h0m0 4h0m0 5h0m4-299h0m0 5h0m0 5h0m1 5h0m0 5h0m0 16h0m0 5h0m0 5h0m0 5h0m0 239h0m0 5h0m5-302h0m-1 4h0m1 5h0m-1 5h0m0 6h0m1 5h0m0 5h0m-1 4h0m0 5h0m1 6h0m0 5h0m0 5h0m4-57h0m1 5h0m-1 6h0m1 4h0m-1 5h0m0 5h0m0 6h0m0 5h0m1 5h0m-1 5h0m0 5h0m0 5h0m0 5h0m5-83h0m0 26h0m1 5h0m-1 5h0m0 5h0m1 5h0m-1 5h0m0 5h0m0 5h0m0 5h0m0 5h0m1 6h0m0 4h0m4-83h0m0 6h0m0 25h0m0 6h0m0 4h0m0 21h0m0 5h0m0 5h0m0 5h0m0 5h0m0 357h0m0 5h0m0 5h0m5-448h0m0 5h0m0 5h0m0 16h0m0 5h0m0 6h0m0 25h0m-1 5h0m1 5h0m0 5h0m0 362h0m-1 5h0m1 5h0m4-12h0m1 5h0m-1 6h0m6-109h0m-1 4h0m0 98h0m0 5h0m5-144h0m0 5h0m1 6h0m-1 25h0m1 5h0m-1 6h0m0 91h0m0 6h0m6-146h0m-1 5h0m0 5h0m0 6h0m0 20h0m0 5h0m1 5h0m-1 5h0m5-121h0m0 5h0m0 67h0m0 5h0m0 10h0m0 21h0m0 5h0m0 5h0m0 5h0m0 41h0m0 5h0m0 5h0m0 5h0m0 5h0m0 5h0m5-199h0m0 6h0m0 5h0m-1 107h0m1 5h0m0 46h0m0 5h0m0 6h0m0 4h0m0 5h0m0 5h0m0 6h0m0 5h0m4-202h0m0 6h0m1 4h0m0 5h0m-1 6h0m1 143h0m-1 5h0m1 5h0m0 5h0m-1 5h0m1 5h0m0 5h0m-1 6h0m5-197h0m1 6h0m0 4h0m0 11h0m0 147h0m-1 6h0m1 5h0m0 6h0m0 4h0m5-166h0m-1 148h0m5-153h0m0 5h0m5 3h0m0 5h0m0 6h0m4-11h0m6-6h0m0 5h0m115-81h0m1 15h0m-1 5h0m1 6h0m4-33h0m0 5h0m0 9h0m1 6h0m-1 5h0m0 11h0m5-31h0m0 6h0m0 5h0m-1 6h0m1 5h0m0 14h0m0 6h0m5-59h0m-1 5h0m1 5h0m-1 5h0m1 5h0m0 5h0m0 5h0m0 5h0m4-49h0m0 5h0m1 5h0m0 5h0m-1 6h0m0 9h0m5-38h0m0 5h0m0 11h0m0 9h0m5-22h0m0 6h0m0 9h0m5-19h0m0 4h0m0 10h0m0 6h0m0 15h0m0 10h0m0 5h0m0 6h0m0 4h0m0 25h0m0-45h0m0 40h0m0 12h0m5-99h0m0 6h0m0 4h0m0 21h0m-1 11h0m1 9h0m0 6h0m0 5h0m0 14h0m0 6h0m0 5h0m0-72h0m0 11h0m5-16h0m0 16h0m0 4h0m-1 16h0m1 4h0m0 6h0m-1 10h0m0 5h0m1 15h0m4-21h0m0 4h0m0 11h0m1 10h0m4-41h0m0 4h0m0 6h0m0 5h0m0 6h0m0 9h0m0 6h0m0 4h0m5-30h0m0 15h0m0 10h0m0 6h0m0 9h0m1-5h0m4-28h0m0 21h0m0 5h0m0-16h0m0 5h0m34 184h0m14-8h0m1 31h0m4-6h0m5-10h0m57-189h0m15-16h0m0 10h0m5 6h0m229 92h0m-1 5h0m10 212h0m5-4h0m0 5h0m0 6h0m0 31h0m0 5h0m0 4h0m5-99h0m0 40h0m0 4h0m0 6h0m0 5h0m-1 6h0m1 24h0m-1 6h0m1 5h0m-1 6h0m6-198h0m0 82h0m0 4h0m0 6h0m0 45h0m-1 5h0m0 5h0m0 5h0m1 5h0m0 20h0m0 6h0m-1 5h0m1 6h0m-1 4h0m5-202h0m1 5h0m-1 76h0m0 6h0m1 5h0m-1 5h0m1 40h0m-1 6h0m1 5h0m-1 5h0m1 5h0m0 26h0m0 5h0m-1 5h0m0 4h0m11-203h0m0 5h0m0 5h0m0 5h0m0 198h0m5-208h0m-1 5h0m0 113h0m0 96h0m5-217h0m1 5h0m-1 5h0m0 107h0m0 5h0m0 41h0m1 42h0m-1 4h0m0 5h0m5-99h0m0 6h0m0 5h0m0 20h0m0 10h0m0 6h0m-1 5h0m0 5h0m0 4h0m1 6h0m0 5h0m0 5h0m0 6h0m0 4h0m-1 6h0m1 4h0m4-246h0m1 5h0m0 112h0m-1 6h0m0 6h0m1 14h0m-1 6h0m1 5h0m-1 5h0m1 5h0m-1 10h0m0 5h0m1 5h0m-1 6h0m1 5h0m0 4h0m-1 5h0m1 5h0m0 5h0m-1 6h0m0 5h0m1 5h0m-1 5h0m1 5h0m-1 5h0m5-237h0m0 116h0m0 6h0m0 5h0m0 5h0m0 5h0m0 5h0m0 5h0m0 5h0m0 6h0m0 5h0m0 5h0m0 4h0m0 5h0m0 6h0m0 5h0m-1 5h0m1 5h0m0 5h0m0 6h0m0 4h0m0 5h0m0 6h0m0 5h0m0 5h0m0 5h0m5-409h0m-1 4h0m0 6h0m1 157h0m-1 6h0m1 15h0m-1 62h0m0 25h0m1 5h0m-1 5h0m0 5h0m1 5h0m-1 5h0m0 6h0m0 5h0m1 4h0m0 6h0m-1 5h0m0 5h0m0 4h0m0 6h0m1 5h0m0 5h0m-1 6h0m0 4h0m1 6h0m0 5h0m-1 4h0m0 6h0m0 5h0m0 5h0m1 5h0m-1 5h0m0 5h0m5-415h0m0 4h0m0 5h0m0 5h0m0 5h0m0 123h0m0 40h0m0 12h0m0 4h0m0 5h0m0 56h0m0 5h0m0 5h0m0 16h0m0 5h0m1 5h0m0 6h0m-1 5h0m0 9h0m1 6h0m-1 5h0m0 5h0m0 5h0m0 5h0m0 5h0m0 5h0m0 6h0m0 20h0m0 5h0m0 5h0m0 4h0m4-245h0m0 286h0m0-428h0m1 5h0m0 4h0m0 5h0m0 6h0m-1 5h0m1 5h0m0 91h0m0 6h0m0 5h0m0 5h0m-1 41h0m1 19h0m0 6h0m0 51h0m0 5h0m0 5h0m0 26h0m0 30h0m-1 6h0m1 5h0m0 4h0m0 6h0m4-329h0m0 10h0m0 97h0m0 6h0m0 10h0m0 122h0m0 5h0m0 61h0m1-367h0m-1 46h0m0 5h0m0 10h0m1 11h0m0 102h0m0 10h0m-1 188h0m0 5h0m1 5h0m-1 5h0m4-389h0m1 10h0m0 52h0m0 15h0m0 76h0m0 5h0m0 20h0m0 42h0m0 153h0m0-317h0m0 16h0m0 91h0m0 6h0m0 5h0m0 10h0m0 31h0m0 10h0m0 81h0m0 61h0m0 11h0m0 5h0m0 5h0m4-393h0m0 5h0m1 11h0m-1 5h0m1 45h0m-1 5h0m1 82h0m-1 5h0m0 5h0m0 5h0m0 5h0m1 37h0m-1 5h0m1 4h0m0 10h0m-1 26h0m0 51h0m0 5h0m0 72h0m0 5h0m1-163h0m0 25h0m0 66h0m4-319h0m0 4h0m1 5h0m-1 5h0m1 5h0m-1 6h0m0 5h0m0 4h0m0 6h0m0 86h0m0 5h0m0 6h0m0 5h0m0 9h0m0 6h0m0 5h0m0 5h0m0 5h0m0 6h0m0 35h0m0 5h0m0 6h0m0 5h0m0 5h0m0 15h0m0 4h0m0 6h0m1 5h0m-1 36h0m0 5h0m0 5h0m0 5h0m0 6h0m0 45h0m0 5h0m5-370h0m0 4h0m0 5h0m0 6h0m0 4h0m0 5h0m0 6h0m0 5h0m0 5h0m0 5h0m0 77h0m0 5h0m-1 5h0m0 5h0m1 5h0m0 5h0m0 5h0m0 6h0m0 5h0m0 4h0m-1 5h0m0 37h0m1 5h0m0 5h0m0 5h0m0 5h0m0 20h0m0 5h0m0 6h0m0 40h0m0 5h0m0 6h0m0 5h0m0 5h0m4-322h0m0 5h0m1 5h0m-1 4h0m0 6h0m0 5h0m0 6h0m1 4h0m0 5h0m-1 5h0m1 5h0m0 46h0m0 5h0m-1 6h0m1 20h0m-1 5h0m1 5h0m-1 5h0m0 6h0m0 4h0m0 6h0m0 5h0m1 5h0m0 5h0m4-152h0m0 5h0m0 5h0m0 56h0m0 5h0m0 6h0m0 4h0m0 5h0m127-35h0m0 6h0m0 5h0m-1 5h0m1 6h0m0 24h0m-1 5h0m1 6h0m-1 5h0m0 6h0m0 5h0m0 4h0m1 5h0m-1 6h0m1 25h0m0 5h0m0 5h0m0 5h0m0 5h0m0 5h0m-1 6h0m1 5h0m0 5h0m0 5h0m-1 20h0m1 56h0m-1 31h0m1 5h0m0 6h0m-1 5h0m1 35h0m0 5h0m0 5h0m4-325h0m0 5h0m0 5h0m0 41h0m0 5h0m0 5h0m1 5h0m0 5h0m-1 5h0m1 20h0m-1 6h0m0 5h0m0 6h0m0 9h0m0 6h0m1 5h0m0 5h0m0 5h0m-1 5h0m0 5h0m0 51h0m1 5h0m-1 5h0m0 21h0m0 30h0m0 5h0m0 5h0m0 6h0m0 35h0m0 6h0m1 4h0m-1 5h0m5-330h0m0 5h0m0 46h0m0 5h0m0 6h0m0 4h0m0 6h0m0 20h0m0 5h0m0 5h0m0 6h0m0 15h0m0 4h0m-1 5h0m1 5h0m0 5h0m0 5h0m0 6h0m0 46h0m0 6h0m0 4h0m0 5h0m0 51h0m0 5h0m0 5h0m0 6h0m0 40h0m0 6h0m0 4h0m10-424h0m-1 6h0m1 5h0m-1 108h0m1 4h0m-1 31h0m1 4h0m0 26h0m0 5h0m0 6h0m0 30h0m0 5h0m-1 5h0m1 6h0m0 4h0m0 6h0m0 45h0m-1 6h0m0 65h0m1 67h0m0 6h0m0 5h0m-1 20h0m1 5h0m0 5h0m4-283h0m0 204h0m0 52h0m0 19h0m0 6h0m0-474h0m0 5h0m0 5h0m0 106h0m0 6h0m0 4h0m0 57h0m0 5h0m0 41h0m0 5h0m0 5h0m0 5h0m0 5h0m1 154h0m-1 29h0m0 6h0m0 5h0m0 36h0m4-478h0m0 5h0m0 116h0m0 11h0m0 52h0m0 50h0m0 11h0m0 4h0m0 143h0m0 5h0m1 36h0m-1 5h0m0 11h0m1-322h0m0 61h0m0 5h0m0 47h0m0 163h0m0 40h0m0 26h0m0 5h0m11-488h0m0 32h0m0 9h0m0 97h0m0 5h0m0 6h0m0 70h0m0 6h0m0 5h0m0 199h0m0 5h0m0 5h0m0 41h0m0 15h0m1-489h0m0 5h0m0 25h0m0 199h0m0 122h0m0 6h0m0 5h0m4-370h0m0 11h0m0 4h0m0 16h0m0 4h0m0 6h0m0 5h0m0 107h0m0 71h0m0 10h0m0 134h0m0 65h0m0 6h0m0 15h0m0 20h0m0 6h0m0 5h0m0 10h0m0 5h0m0 5h0m0-500h0m1 143h0m0 82h0m-1 9h0m0 123h0m1 66h0m4-420h0m0 5h0m0 5h0m0 6h0m0 5h0m0 10h0m0 5h0m0 5h0m-1 26h0m1 4h0m0 148h0m0 6h0m0 4h0m0 174h0m-1 6h0m1 9h0m-1 5h0m1 5h0m0 16h0m0 5h0m0 5h0m0 11h0m0 10h0m0 15h0m0 5h0m-1 5h0m1 5h0m0-511h0m0 32h0m0 36h0m0 407h0m4-467h0m0 6h0m0 4h0m1 5h0m0 5h0m0 6h0m0 10h0m0 5h0m0 20h0m0 6h0m0 5h0m0 137h0m-1 6h0m0 4h0m1 5h0m-1 6h0m0 5h0m1 168h0m0 5h0m0 5h0m-1 5h0m1 5h0m0 16h0m-1 5h0m1 10h0m0 11h0m0 4h0m-1 6h0m0 20h0m1 5h0m0-469h0m0 418h0m0 41h0m5-484h0m-1 6h0m0 10h0m0 5h0m0 5h0m0 4h0m1 5h0m-1 21h0m0 10h0m0 6h0m0 133h0m0 5h0m0 4h0m0 5h0m1 179h0m0 5h0m-1 6h0m1 4h0m-1 6h0m1 4h0m-1 5h0m0 6h0m1 5h0m-1 5h0m1 5h0m0 5h0m0 6h0m0 4h0m-1 25h0m1-515h0m0 36h0m0 51h0m0 138h0m0 25h0m0 261h0m4-514h0m0 5h0m0 5h0m0 16h0m0 5h0m0 11h0m0 10h0m0 4h0m0 6h0m0 168h0m0 5h0m0 5h0m0 5h0m1 5h0m-1 6h0m0 178h0m0 5h0m0 5h0m0 5h0m0 6h0m0 4h0m0 6h0m0 4h0m0 6h0m0 4h0m0 6h0m0 5h0m0 26h0m1 5h0m0-475h0m0 382h0m0 67h0m4-464h0m0 6h0m0 4h0m0 6h0m0 5h0m0 5h0m0 5h0m0 137h0m0 6h0m0 4h0m0 26h0m0 194h0m0 5h0m0 5h0m0 16h0m0 5h0m0 26h0m0 5h0m0 5h0m1-16h0m3-440h0m0 5h0m1 6h0m-1 5h0m1 5h0m0 4h0m0 88h0m-1 4h0m1 42h0m0 9h0m0 276h0m0 10h0m0 5h0m-1 6h0m1 4h0m0-346h0m0 326h0m5-445h0m-1 5h0m0 5h0m0 97h0m1 4h0m0 6h0m-1 35h0m1 6h0m0 5h0m0 6h0m0 264h0m0 6h0m0 4h0m0 5h0m0 6h0m-1 5h0m0 5h0m0 4h0m6-468h0m0 5h0m-1 4h0m1 103h0m0 40h0m0 5h0m0 6h0m-1 4h0m0 266h0m0 5h0m0 5h0m0 5h0m0 5h0m0 5h0m5-435h0m0 88h0m0 46h0m0 4h0m0 5h0m0 261h0m0 5h0m0 5h0m0 5h0m0 5h0m0 11h0m0 4h0m0 5h0m0 6h0m0 4h0m1-474h0m4 14h0m0 6h0m0 5h0m0 40h0m0 6h0m0 4h0m0 6h0m0 5h0m0 285h0m0 5h0m0 5h0m-1 82h0m1-403h0m5-78h0m0 5h0m0 6h0m0 4h0m0 16h0m0 6h0m0 4h0m-1 6h0m1 25h0m-1 5h0m0 5h0m1 5h0m0 6h0m0 4h0m0 6h0m-1 4h0m1 281h0m-1 5h0m1 5h0m0 5h0m0 82h0m5-487h0m0 4h0m-1 5h0m0 6h0m1 5h0m-1 10h0m1 5h0m0 5h0m-1 5h0m0 6h0m0 20h0m1 5h0m0 10h0m0 10h0m-1 5h0m1 6h0m0 121h0m0 6h0m0 5h0m0 6h0m0 4h0m-1 138h0m0 5h0m1 5h0m-1 6h0m0 9h0m1 5h0m4-431h0m1 5h0m-1 6h0m0 4h0m1 5h0m-1 6h0m0 4h0m0 5h0m0 6h0m0 45h0m0 6h0m0 6h0m1 4h0m-1 15h0m0 123h0m0 5h0m0 5h0m0 5h0m0 6h0m0 4h0m0 5h0m1 5h0m0 6h0m-1 122h0m1 5h0m0 6h0m-1 15h0m0 4h0m0 6h0m0 35h0m1 6h0m4-483h0m0 6h0m0 5h0m0 26h0m0 4h0m0 47h0m0 4h0m0 6h0m0 4h0m0 77h0m0 6h0m0 5h0m0 5h0m1 56h0m0 4h0m-1 5h0m1 6h0m-1 5h0m0 5h0m1 6h0m-1 5h0m0 127h0m0 20h0m0 6h0m0 4h0m0 36h0m0 5h0m0 6h0m5-489h0m0 5h0m0 5h0m0 21h0m-1 4h0m0 6h0m1 46h0m0 4h0m-1 6h0m1 5h0m0 5h0m0 66h0m0 6h0m0 5h0m-1 4h0m1 6h0m0 55h0m0 6h0m0 5h0m-1 5h0m1 6h0m0 9h0m0 153h0m0 6h0m-1 4h0m1 31h0m-1 5h0m1 5h0m0 5h0m11-455h0m1 4h0m-1 67h0m1 4h0m-1 6h0m1 127h0m-1 5h0m1 6h0m-1 5h0m1 5h0m0 76h0m0 5h0m-1 128h0m5-362h0m0 4h0m1 134h0m0 5h0m-1 5h0m1 5h0m-1 71h0m0 5h0m1 5h0m-1 5h0m1 127h0m3-414h0m0 183h0m1 6h0m-1 5h0m0 4h0m0 72h0m0 5h0m1 5h0m0 5h0m0 128h0m0 6h0m4-427h0m0 6h0m0 5h0m1 183h0m-1 6h0m0 4h0m1 72h0m-1 5h0m0 5h0m1 5h0m-1 6h0m0 126h0m0 6h0m0 4h0m5-434h0m0 10h0m0 269h0m-1 6h0m0 138h0m0 5h0m0 4h0m5-433h0m1-4h0m0 10h0m-1 5h0m0 418h0m12-268h0m1-11h0m0 6h0m3-6h0m4-3h0m0 5h0m0 5h0m14-198h0m0 4h0m0 5h0m0 6h0m0 184h0m0 4h0m0 6h0m1 4h0m0 296h0m3 2h0m1-511h0m-1 6h0m1 5h0m0 6h0m0 183h0m0 4h0m0 6h0m4-2h0m1-9h0m-1 4h0m4-4h0m0 5h0m0 5h0m5-7h0m0 6h0m0 5h0m4-11h0m0 4h0m0 6h0m0 5h0m0 46h0m5-155h0m0 96h0m0 5h0m0 6h0m0 4h0m0 41h0m0 6h0m0 4h0m11-150h0m0 20h0m0 127h0m0 6h0m1-169h0m-1 11h0m0 15h0m1 5h0m0 118h0m-1 4h0m0 5h0m5-149h0m0 11h0m0 20h0m-1 112h0m1 4h0m0-152h0m0 10h0m0 21h0m0 127h0m5-130h0m-1 5h0m1-26h0m14 117h0m-1 5h0m1 5h0m5-1h0m-1 4h0m1-11h0m4 2h0m0 6h0m0 5h0m0 4h0m5-17h0m-1 6h0m1 5h0m0 4h0m37-250h0m0 5h0"/>
<path stroke="#00bfff" d="M1141 926h0m4-7h0m0 5h0m1-10h0m4 3h0m1 10h0m0-6h0m4-12h0m0 6h0m198-388h0m0 4h0m5-12h0m0 5h0m-1 6h0m1 5h0m4-17h0m1 5h0m0 5h0m0 4h0m5-14h0m-1 5h0m1 6h0m0 5h0m5-8h0m0 6h0m4 0h0m1 5h0m28 279h0m0 5h0m0 6h0m5-12h0m0 5h0m0 4h0m0 6h0m0 51h0m0 4h0m5-75h0m0 5h0m0 5h0m0 5h0m0 56h0m0 6h0m0 4h0m4-77h0m1 4h0m0 6h0m-1 56h0m1 4h0m-1 6h0m5-78h0m0 5h0m0 5h0m1 5h0m0 56h0m4-71h0m0 5h0m0 5h0m0 4h0m5-17h0m0 5h0m0 5h0m0 5h0m29-198h0m1 10h0m-1 5h0m5-13h0m0 6h0m0 5h0m0 4h0m5-10h0m-1 5h0m117-44h0m0 5h0m0 6h0m4-13h0m1 5h0m4-7h0m1 20h0m4-29h0m0 31h0m0 4h0m10-36h0m4-23h0m0 10h0m5-23h0m0 16h0m5-5h0m0 56h0m0 5h0m0 5h0m4-63h0m0 16h0m0 10h0m1 21h0m-1 25h0m5-51h0m0 20h0m1 15h0m-1 5h0m1-66h0m0 20h0m4 19h0m1-5h0m4 25h0m5-5h0m72-87h0m25 102h0m33 132h0m278 141h0m-1 10h0m1 5h0m-1 6h0m1 41h0m0 4h0m0 6h0m-1 5h0m6-71h0m-1 4h0m1 6h0m-1 4h0m0 47h0m1 5h0m4-64h0m0 4h0m1 6h0m-1 4h0m1 41h0m-1 5h0m4-57h0m0 5h0m1 5h0m4-6h0m10-291h0m-1 5h0m5-13h0m0 5h0m0 5h0m0 347h0m1 5h0m-1 5h0m0 5h0m4-368h0m1-6h0m0 10h0m0 302h0m0 5h0m0 5h0m0 21h0m-1 5h0m1 4h0m0 5h0m0 6h0m0 5h0m0 5h0m4-369h0m0 10h0m0 301h0m0 4h0m0 37h0m0 10h0m0 5h0m0-372h0m1 10h0m-1 316h0m1 15h0m-1 5h0m1 6h0m-1 9h0m5-394h0m0 41h0m0 316h0m0 16h0m0 4h0m0 11h0m0-382h0m0 29h0m0 312h0m0 5h0m4-351h0m0 9h0m0 26h0m0 5h0m0 306h0m1-352h0m0 10h0m0 214h0m0 5h0m0 6h0m0 5h0m4-239h0m0 5h0m0 5h0m0 5h0m0 31h0m0 5h0m0 173h0m0 6h0m0 5h0m0 4h0m5-238h0m0 6h0m0 4h0m0 5h0m0 26h0m0 5h0m0 5h0m0 164h0m-1 5h0m1 10h0m4-226h0m0 6h0m0 30h0m5-55h0m0 6h0m0 4h0m0 6h0m195 177h0m0 148h0m5-164h0m0 5h0m0 4h0m-1 6h0m1 5h0m0 143h0m0 5h0m0 5h0m0 5h0m5-170h0m-1 6h0m1 4h0m0 148h0m-1 5h0m1 6h0m0-174h0m4 5h0m0 4h0m0 6h0m0 21h0m0 126h0m0 6h0m0 5h0m0 5h0m1-20h0m4-124h0m0 128h0m0 5h0m0 5h0m1-132h0m4-7h0m0 5h0m0 5h0m0 128h0m4-135h0m1 5h0m186-208h0m1 5h0m-1 21h0m1 143h0m4-222h0m0 37h0m0 51h0m0 41h0m0 101h0m5-137h0m0 5h0m-1 21h0m1 56h0m4-170h0m0 5h0m0 142h0"/>
<path stroke="#00cfff" d="M1700 441h0m0 10h0m0 4h0m5-6h0m0 40h0m0-20h0m5 33h0m0 16h0m0-76h0m1 10h0m-1 40h0m0 21h0m5-55h0m0 10h0m0 10h0m0 10h0m0 15h0m0-51h0m0 10h0m0 11h0m0 26h0m5-19h0m-1 20h0m1 41h0m-1 4h0m1-56h0m0 7h0m0 14h0m4 26h0m0 9h0m1-45h0m0 14h0m0 41h0m4-2h0m0 11h0m1 4h0m0 11h0m23 39h0m0 10h0m5-12h0m0 10h0m5-14h0m0 128h0m0-123h0m0 6h0m0 5h0m0 118h0m0 19h0m5-27h0m5-5h0m5 21h0m4-20h0m5 13h0m5-4h0m0 16h0m0 4h0m5-36h0m0 15h0m0 6h0m0 5h0m0 5h0m4-30h0m0 15h0m1 25h0m9-12h0m0 15h0m116-84h0m14-7h0m319-4h0m1 6h0m4-9h0m0 5h0m0 5h0m9-17h0m1 6h0m0 5h0m0 5h0m4-17h0m0 4h0m0 6h0m0 5h0m4-9h0m1 10h0m0-5h0m73 232h0m6-3h0m-1 5h0m6-7h0m-1 5h0m0 6h0m4-15h0m1 5h0m-1 5h0m1 5h0m11-3h0m152-232h0m4-2h0m1 5h0m-1 5h0m0 5h0m5-169h0m0 5h0m0 10h0m0 6h0m0 4h0m0 11h0m0 5h0m0 4h0m0 6h0m0 5h0m0 5h0m0 5h0m0 5h0m0 6h0m0 10h0m0 4h0m0 5h0m0 6h0m0 5h0m0 5h0m0 6h0m0 20h0m0 4h0m0 6h0m0 5h0m0 4h0m0 6h0m0 10h0m0 10h0m0 5h0m0 5h0m0 6h0m0 5h0m0 5h0m0 5h0m0 5h0m0 11h0m5-239h0m0 4h0m0 6h0m-1 5h0m1 5h0m-1 5h0m1 9h0m-1 7h0m0 5h0m1 9h0m-1 5h0m1 6h0m0 5h0m0 5h0m-1 5h0m1 5h0m0 6h0m-1 14h0m1 6h0m-1 15h0m1 16h0m0 9h0m0 6h0m-1 5h0m1 10h0m-1 15h0m1 6h0m0 9h0m-1 11h0m1 4h0m0 6h0m0 10h0m5-231h0m-1 14h0m1 11h0m0 5h0m-1 5h0m1 10h0m0 11h0m0 10h0m-1 5h0m0 153h0"/>
<path stroke="#00dfff" d="M1700 445h0m5-2h0m0 11h0m0 20h0m0-15h0m1 5h0m-1 21h0m5-23h0m0 10h0m0 6h0m0 5h0m0 15h0m5-50h0m-1 61h0m0 15h0m1 5h0m0-46h0m0 11h0m0 20h0m0 5h0m5 12h0m-1 20h0m0 5h0m1-72h0m0 21h0m0 10h0m0 10h0m4 26h0m0 20h0m1-41h0m0 10h0m4 18h0m6 29h0m14 30h0m-1 9h0m5 94h0m0 10h0m0 30h0m1-137h0m0 103h0m0 9h0m0 11h0m-1 5h0m0 4h0m0 11h0m5-39h0m0-9h0m0 20h0m1 15h0m-1 11h0m0 4h0m6-34h0m-1 17h0m0 4h0m0 5h0m0 10h0m5-18h0m0-19h0m0 9h0m0 5h0m0 11h0m0 5h0m0 5h0m4-4h0m0-35h0m1 10h0m0 4h0m-1 5h0m1 6h0m0 5h0m0 10h0m4-10h0m0-36h0m0 6h0m1 5h0m0 5h0m-1 5h0m1 5h0m0 15h0m-1 6h0m5-41h0m0 10h0m0 5h0m0 4h0m0 11h0m0 5h0m5-21h0m0 10h0m0 5h0m0-31h0m0 6h0m0 30h0m0 5h0m5-44h0m0 4h0m0 5h0m0 5h0m5-6h0m0 5h0m0 26h0m0 5h0m5-30h0m0 10h0m0 4h0m0 6h0m0 5h0m4-30h0m1 10h0m-1 5h0m0 5h0m0 5h0m1 5h0m-1 5h0m5-27h0m0 10h0m0 10h0m0 5h0m107-92h0m5-2h0m-1 5h0m5-25h0m0 25h0m0 5h0m5-228h0m0 21h0m0 20h0m-1 11h0m1 15h0m0 16h0m0 4h0m0 21h0m0 20h0m0 11h0m0 61h0m0 4h0m0 11h0m0 10h0m4-225h0m1 5h0m0 15h0m0 5h0m0 6h0m0 5h0m0 30h0m0 6h0m0 5h0m0 4h0m-1 22h0m0 20h0m0 9h0m1 6h0m0 11h0m0 5h0m0 66h0m0 4h0m0 6h0m0 4h0m4-126h0m0 5h0m0 5h0m1 6h0m-1 9h0m1 6h0m0 10h0m-1 10h0m0 6h0m1 9h0m0 6h0m-1 40h0m599-63h0m-1 4h0m0 6h0m0 6h0m5-115h0m0 21h0m0 117h0m0 5h0m0 36h0m0 10h0m5-157h0m0 21h0m0 65h0m0 16h0m0 5h0m0 10h0m-1 20h0m1 16h0m0 15h0m0 10h0m-1 21h0m6-206h0m0 20h0m-1 10h0m1 10h0"/>
<path stroke="#00efff" d="M1729 573h0m58 164h0m5 12h0m0 5h0m10-21h0m4 4h0m5 8h0m112-63h0m4-66h0m0 16h0m0 5h0m0 5h0m0 4h0m0 11h0m0 5h0m0 5h0m0 4h0m5-222h0m0 11h0m-1 4h0m1 6h0m0 10h0m0 9h0m0 11h0m0 11h0m-1 4h0m1 11h0m0 26h0m0 5h0m-1 9h0m1 5h0m0 16h0m0 10h0m0 10h0m0 5h0m-1 5h0m1 5h0m0 6h0m0 5h0m0 5h0m0 10h0m0 15h0m0 10h0m0 15h0m5-218h0m0 25h0m0 10h0m0 5h0m0 6h0m0 25h0m0 5h0m-1 5h0m1 10h0m0 6h0m0 4h0m0 11h0m0 15h0m0 15h0m0 5h0m0 11h0m0 5h0m0 10h0m0 5h0m0 5h0m0 6h0m-1 9h0m5-147h0m1 5h0m-1 6h0m1 6h0m-1 4h0m1 6h0m0 10h0m0 40h0m-1 11h0m1 15h0m-1 15h0m1 5h0m-1 5h0m1 6h0m0 4h0m0 5h0m0 5h0"/>
<path stroke="#00ffff" d="M1932 602h0m4 36h0m6-56h0"/>
<path stroke="#20ffdf" d="M1922 586h0m0 61h0m0 10h0m0 4h0m5-152h0m0 35h0m0 56h0m0 26h0"/>
<path stroke="#30ffcf" d="M1782 784h0m140-219h0m1 10h0m0 15h0m0 6h0m-1 5h0m1 4h0m0 6h0m-1 21h0m0 9h0m0 10h0m0 15h0m5-183h0m0 5h0m0 5h0m0 5h0m0 16h0m0 5h0m0 5h0m0 5h0m0 6h0m1 4h0m-1 10h0m0 6h0m0 5h0m0 10h0m0 5h0m0 5h0m0 5h0m0 11h0m0 10h0m0 4h0m5-126h0"/>
<path stroke="#40ffbf" d="M1782 770h0m0 4h0m0 5h0m5-6h0m0 4h0m5-3h0m0 5h0m130-158h0m0 5h0m0 11h0m5-133h0m0 60h0"/>
<path stroke="#50ffaf" d="M1787 783h0m5-14h0m121-162h0m-1 32h0m5 30h0m6-150h0m630 74h0m0 15h0m1 11h0m0 5h0m-1 10h0m1 9h0m0 21h0m-1 30h0m0 16h0m1 16h0m9-99h0m0 45h0m0 42h0m5-91h0m-1 77h0m0 4h0"/>
<path stroke="#60ff9f" d="M1912 593h0m0 4h0m1 6h0m0 10h0m0 5h0m0 5h0m0 5h0m-1 5h0m1 11h0m5-82h0m-1 5h0m1 16h0m0 5h0m-1 5h0m0 5h0m0 5h0m0 5h0m1 5h0m-1 6h0m0 5h0m0 5h0m0 5h0m1 5h0m0 10h0m-1 10h0m5-135h0m0 5h0m0 6h0m0 4h0m0 5h0m0 11h0m0 5h0m0 10h0m631 28h0m1 15h0m0 15h0m-1 11h0m0 9h0m0 6h0m0 5h0m1 16h0m0 10h0m0 4h0m-1 16h0m0 16h0m0 10h0m1 5h0m8-124h0m0 21h0m0 4h0m1 11h0m0 36h0m-1 15h0m1 4h0m0 6h0m0 15h0m-1 11h0m0 15h0m6-117h0m-1 20h0m0 5h0m1 26h0m0 5h0m0 5h0m-1 36h0m1 11h0"/>
<path stroke="#70ff8f" d="M1912 659h0m6-107h0m-1 21h0m0 70h0m1 11h0m-1 11h0m5-151h0m0 36h0m0 30h0m631 23h0m0 77h0m1 20h0m0 16h0m13-52h0m1 10h0"/>
<path stroke="#afff50" d="M1792 799h0"/>
<path stroke="#bfff40" d="M1788 793h0m-1 6h0"/>
<path stroke="#cfff30" d="M1792 795h0"/>
<path stroke="#ff8000" d="M1792 785h0m0 4h0m5-6h0m0 10h0m4-20h0m1 11h0m0 4h0m4-15h0m0 15h0"/>
<path stroke="#ff7000" d="M1796 773h0m1 5h0m0 11h0m5-11h0m0 16h0m4-16h0m1 5h0m0 11h0"/>
<path stroke="#00008f" d="M750 800h0"/>
<path stroke="#0000af" d="M831 772h0M1879 734h0M1886 741h0M1890 813h0M1916 825h0M1879 846h0"/>
<path stroke="#0000bf" d="M1889 761h0M1856 790h0M1778 852h0M2225 808h0M2184 830h0M2174 837h0M2255 834h0M2403 750h0M2418 798h0M2419 805h0M2437 878h0M2438 885h0"/>
<path stroke="#0000cf" d="M527 772h0"/>
<path stroke="#0000df" d="M2271 823h0M2282 823h0"/>
<path stroke="#0000ef" d="M567 863h0M534 515h0M528 585h0M863 480h0M816 638h0M914 658h0M1603 553h0"/>
<path stroke="#0000ff" d="M508 782h0M1639 975h0"/>
<path stroke="#0030ff" d="M878 545h0M1991 472h0M1995 493h0"/>
<path stroke="#0040ff" d="M1768 561h0M1768 575h0M1636 975h0M1602 982h0M1990 493h0M1990 498h0M1989 503h0M1990 508h0M1991 513h0M1990 524h0M1990 529h0M1996 472h0M1996 478h0M1995 508h0M1996 513h0M1995 519h0M1996 529h0M1996 535h0"/>
<path stroke="#0050ff" d="M1580 968h0M1854 939h0M1996 504h0M1991 741h0"/>
<path stroke="#0060ff" d="M1990 715h0M1990 720h0M1990 730h0M1990 787h0M1990 822h0M1990 889h0M1990 904h0M1990 914h0M2000 737h0M2000 802h0M2000 843h0M2001 854h0M2000 874h0M2000 879h0M2001 885h0M2001 900h0M2000 915h0M2001 925h0M2001 946h0M2001 957h0M2010 711h0M2010 768h0M2010 830h0M2010 861h0"/>
<path stroke="#0070ff" d="M1432 569h0M1845 766h0M1686 932h0M1686 941h0M1686 946h0M1686 956h0M1686 959h0M1685 969h0M1685 978h0M1686 983h0M1686 987h0M1686 997h0M1685 1006h0M1686 1010h0M1990 659h0M1991 690h0M1996 674h0M2009 494h0M2010 504h0M2009 536h0M2009 561h0M2009 577h0M2010 602h0M2009 644h0M2010 648h0M2008 675h0M2009 684h0M1990 690h0M1990 710h0M1990 726h0M1990 736h0M1991 747h0M1990 751h0M1990 756h0M1990 762h0M1990 767h0M1991 772h0M1990 777h0M1990 781h0M1991 792h0M1991 798h0M1990 802h0M1990 813h0M1991 817h0M1991 833h0M1990 838h0M1990 853h0M1991 858h0M1990 868h0M1991 894h0M1990 899h0M1990 910h0M1991 919h0M1991 925h0M1991 930h0M1991 935h0M2000 690h0M2000 700h0M2001 710h0M2000 716h0M2000 721h0M2001 726h0M2000 731h0M2000 741h0M2000 746h0M2001 756h0M2001 761h0M2000 767h0M2001 772h0M2001 777h0M2000 782h0M2000 793h0M2000 798h0M2000 818h0M2000 823h0M2001 833h0M2000 849h0M2001 868h0M2001 890h0M2000 910h0M2000 920h0M2002 936h0M2009 705h0M2009 721h0M2010 731h0M2009 736h0M2010 742h0M2010 752h0M2010 762h0M2009 778h0M2010 784h0M2010 788h0M2010 814h0M2010 820h0M2010 835h0M2009 845h0M2009 871h0M2010 876h0M2011 882h0M2009 887h0M2010 897h0M2010 913h0M2010 923h0M2010 928h0M2010 933h0M2011 938h0M2010 944h0M2010 954h0M2010 965h0M2011 970h0M2011 975h0M2170 624h0M2167 732h0M2167 788h0M2166 815h0M2166 917h0M2187 518h0M2186 543h0M2185 574h0M2185 589h0M2186 615h0M2185 635h0M2186 656h0M2184 763h0M2184 769h0M2183 825h0M2183 830h0M2183 840h0M2183 917h0M2183 933h0M2182 948h0M2170 979h0"/>
<path stroke="#0080ff" d="M1442 571h0M1449 570h0M1686 937h0M1686 965h0M1686 974h0M1686 992h0M1686 1001h0M1968 531h0M1968 551h0M1969 634h0M1968 685h0M1977 685h0M1989 540h0M1990 545h0M1990 575h0M1990 581h0M1989 586h0M1991 591h0M1990 597h0M1989 602h0M1990 607h0M1990 613h0M1990 617h0M1990 622h0M1990 644h0M1990 648h0M1990 669h0M1991 674h0M1989 680h0M1990 685h0M1996 545h0M1995 550h0M1996 561h0M1996 565h0M1996 571h0M1995 575h0M1996 587h0M1995 591h0M1995 612h0M1995 622h0M1996 628h0M1996 644h0M1996 664h0M1996 684h0M2009 489h0M2009 499h0M2009 514h0M2009 525h0M2008 530h0M2009 545h0M2009 556h0M2009 571h0M2009 582h0M2010 587h0M2009 593h0M2009 598h0M2009 608h0M2010 613h0M2009 618h0M2009 634h0M2009 638h0M2010 654h0M2009 664h0M2008 669h0M2009 680h0M2010 690h0M1990 701h0M1990 705h0M1990 807h0M1991 849h0M1991 863h0M1991 874h0M1991 884h0M2000 705h0M2000 751h0M2000 807h0M2000 838h0M2000 859h0M2000 864h0M2001 895h0M2001 941h0M2002 950h0M2009 690h0M2010 695h0M2009 700h0M2009 716h0M2010 726h0M2010 747h0M2010 757h0M2009 793h0M2010 804h0M2009 809h0M2010 825h0M2010 840h0M2010 851h0M2009 856h0M2010 891h0M2010 908h0M2011 918h0M2011 949h0M2011 981h0M2170 603h0M2169 644h0M2170 660h0M2170 665h0M2169 680h0M2169 685h0M2168 695h0M2168 701h0M2168 711h0M2169 721h0M2168 737h0M2167 752h0M2168 757h0M2167 763h0M2168 768h0M2167 773h0M2167 778h0M2168 784h0M2167 794h0M2167 798h0M2166 804h0M2167 809h0M2166 819h0M2167 829h0M2167 844h0M2166 860h0M2166 865h0M2165 881h0M2165 886h0M2165 897h0M2166 901h0M2165 912h0M2166 927h0M2165 932h0M2165 938h0M2164 943h0M2165 952h0M2165 959h0M2187 502h0M2186 508h0M2187 529h0M2186 539h0M2187 548h0M2186 554h0M2187 559h0M2186 563h0M2187 570h0M2186 580h0M2186 584h0M2186 594h0M2186 600h0M2186 605h0M2185 621h0M2185 626h0M2185 630h0M2186 646h0M2185 651h0M2185 662h0M2186 666h0M2186 672h0M2185 677h0M2184 681h0M2184 687h0M2185 692h0M2185 697h0M2184 702h0M2185 707h0M2184 718h0M2185 723h0M2184 733h0M2184 738h0M2184 744h0M2184 749h0M2184 754h0M2184 758h0M2184 773h0M2183 779h0M2184 800h0M2183 804h0M2184 810h0M2184 820h0M2183 836h0M2184 846h0M2184 851h0M2183 856h0M2184 861h0M2183 881h0M2183 887h0M2183 897h0M2182 912h0M2183 927h0M2183 938h0M2183 958h0M2182 964h0M2182 974h0M2182 984h0M2207 553h0M2206 569h0M2205 615h0M2204 722h0M2203 743h0M2219 615h0M2218 687h0M2217 855h0"/>
<path stroke="#008fff" d="M1686 950h0M1685 928h0M1969 480h0M1969 490h0M1969 506h0M1968 511h0M1968 526h0M1969 536h0M1969 546h0M1968 557h0M1969 578h0M1968 583h0M1969 588h0M1968 608h0M1969 613h0M1968 628h0M1969 639h0M1969 654h0M1969 675h0M1969 690h0M1976 465h0M1976 476h0M1976 480h0M1977 486h0M1976 497h0M1977 501h0M1976 527h0M1976 542h0M1975 547h0M1976 552h0M1977 567h0M1976 578h0M1976 587h0M1976 593h0M1976 599h0M1976 604h0M1976 624h0M1977 628h0M1977 634h0M1977 639h0M1976 654h0M1976 659h0M1976 664h0M1975 674h0M1976 690h0M1989 566h0M1990 638h0M1996 597h0M1995 602h0M1995 607h0M1996 638h0M1996 649h0M1995 659h0M2009 510h0M2171 608h0M2169 618h0M2169 629h0M2169 635h0M2169 640h0M2169 650h0M2170 654h0M2169 670h0M2169 675h0M2168 690h0M2169 716h0M2168 727h0M2167 742h0M2167 824h0M2166 835h0M2166 850h0M2166 855h0M2165 871h0M2165 876h0M2165 907h0M2166 922h0M2187 492h0M2186 497h0M2187 512h0M2187 523h0M2185 641h0M2185 713h0M2185 728h0M2184 784h0M2184 789h0M2183 902h0M2182 922h0M2182 954h0M2183 968h0M2207 487h0M2207 497h0M2207 508h0M2206 513h0M2207 518h0M2206 523h0M2206 544h0M2206 594h0M2206 600h0M2205 605h0M2206 610h0M2206 626h0M2205 630h0M2205 645h0M2204 650h0M2203 671h0M2205 676h0M2204 681h0M2204 686h0M2203 696h0M2204 707h0M2203 748h0M2203 752h0M2203 758h0M2202 763h0M2201 799h0M2202 820h0M2200 824h0M2201 830h0M2202 835h0M2201 871h0M2201 880h0M2201 891h0M2213 480h0M2213 521h0M2213 526h0M2214 536h0M2214 547h0M2214 551h0M2212 568h0M2212 573h0M2212 583h0M2212 587h0M2213 598h0M2212 618h0M2213 624h0M2212 639h0M2212 644h0M2212 649h0M2211 655h0M2211 669h0M2210 690h0M2210 706h0M2210 711h0M2211 721h0M2211 726h0M2211 736h0M2210 742h0M2211 752h0M2209 783h0M2210 808h0M2209 819h0M2209 823h0M2209 828h0M2209 844h0M2209 855h0M2208 871h0M2208 875h0M2221 482h0M2219 497h0M2220 508h0M2219 523h0M2219 533h0M2221 538h0M2220 543h0M2219 554h0M2220 559h0M2219 574h0M2220 579h0M2220 584h0M2220 594h0M2219 600h0M2219 604h0M2219 610h0M2219 625h0M2220 635h0M2219 641h0M2218 650h0M2219 666h0M2219 671h0M2220 682h0M2219 696h0M2218 701h0M2219 717h0M2219 742h0M2217 748h0M2218 753h0M2218 763h0M2219 774h0M2217 778h0M2218 789h0M2218 794h0M2218 804h0M2217 830h0M2218 845h0M2218 850h0M2218 865h0M2217 880h0M2217 886h0M2217 891h0M2217 896h0M2186 454h0M2187 467h0M2554 478h0"/>
<path stroke="#009fff" d="M1732 637h0M1874 705h0M1968 465h0M1968 496h0M1969 572h0M1968 593h0M1968 603h0M1969 670h0M1977 470h0M1977 558h0M1977 680h0M2095 452h0M2010 1013h0M2018 1006h0M2208 482h0M2206 502h0M2208 528h0M2207 538h0M2206 564h0M2205 579h0M2206 584h0M2205 589h0M2203 660h0M2205 666h0M2203 692h0M2204 702h0M2202 718h0M2203 728h0M2203 733h0M2202 738h0M2203 789h0M2202 814h0M2202 840h0M2201 845h0M2201 850h0M2200 855h0M2200 865h0M2200 886h0M2200 896h0M2200 947h0M2214 485h0M2213 490h0M2213 500h0M2213 516h0M2214 542h0M2214 557h0M2212 603h0M2213 608h0M2211 614h0M2213 633h0M2211 664h0M2211 680h0M2211 696h0M2210 731h0M2210 747h0M2211 757h0M2210 762h0M2211 773h0M2210 788h0M2210 793h0M2209 803h0M2210 840h0M2208 859h0M2208 865h0M2209 880h0M2208 886h0M2208 890h0M2209 896h0M2208 947h0M2208 957h0M2208 978h0M2221 513h0M2221 528h0M2220 548h0M2221 564h0M2219 569h0M2220 589h0M2220 631h0M2219 646h0M2218 656h0M2219 661h0M2219 723h0M2218 728h0M2218 732h0M2219 798h0M2218 815h0M2218 819h0M2218 840h0M2218 861h0M2218 875h0M2217 902h0M2216 916h0M2217 922h0M2218 937h0M2217 957h0M2217 962h0M2217 988h0"/>
<path stroke="#00afff" d="M1423 482h0M1300 421h0M1311 428h0M1292 427h0M1725 661h0M1714 672h0M1805 606h0M1980 858h0M2025 1014h0M2172 474h0M2172 485h0M2171 527h0M2171 531h0M2202 768h0M2199 901h0M2200 912h0M2200 917h0M2200 927h0M2199 932h0M2198 936h0M2198 962h0M2199 973h0M2198 977h0M2198 983h0M2197 988h0M2207 932h0M2208 953h0M2208 968h0M2207 973h0M2207 983h0M2206 988h0M2218 691h0M2216 906h0M2218 911h0M2216 942h0M2217 947h0M2217 967h0M2216 973h0"/>
<path stroke="#00bfff" d="M1426 440h0M1423 466h0M1710 688h0M1709 440h0M1958 774h0M1963 769h0M1976 440h0M2102 1014h0M2173 450h0M2173 455h0M2172 459h0M2173 470h0M2171 480h0M2172 490h0M2172 495h0M2172 501h0M2172 505h0M2172 511h0M2171 516h0M2172 521h0M2171 536h0M2171 542h0M2171 547h0M2171 557h0M2171 563h0M2170 567h0M2171 578h0M2170 583h0M2171 593h0M2171 598h0M2209 901h0M2208 911h0M2208 937h0M2208 963h0M2217 952h0M2223 479h0M2185 1021h0M2185 1010h0"/>
<path stroke="#00cfff" d="M1425 418h0M1365 408h0M1818 761h0M1955 458h0M1955 463h0M1954 483h0M1955 488h0M1954 499h0M1956 504h0M1955 514h0M1955 555h0M1955 627h0M1954 652h0M1954 673h0M1955 698h0M1951 712h0M1951 733h0M1951 743h0M1952 758h0M1957 712h0M1957 728h0M1958 748h0M1958 780h0M1959 790h0M1959 800h0M1964 741h0M1964 779h0M1964 791h0M1964 796h0M1968 449h0M1975 445h0M1975 443h0M2172 464h0M2170 573h0M2206 998h0M2211 1000h0"/>
<path stroke="#00dfff" d="M1410 403h0M1736 693h0M1745 699h0M1956 453h0M1955 473h0M1955 478h0M1955 509h0M1956 518h0M1955 540h0M1954 560h0M1955 581h0M1955 591h0M1955 606h0M1954 612h0M1955 632h0M1955 637h0M1955 642h0M1954 678h0M1955 683h0M1955 689h0M1951 718h0M1951 723h0M1951 727h0M1951 748h0M1951 763h0M1951 780h0M1952 784h0M1951 790h0M1951 794h0M1957 717h0M1958 732h0M1957 743h0M1958 753h0M1957 759h0M1958 763h0M1959 785h0M1958 795h0M1964 725h0M1964 731h0M1964 764h0M1964 775h0M1969 434h0M1969 460h0M1976 455h0M1965 432h0M2537 873h0"/>
<path stroke="#00efff" d="M1697 441h0M1925 703h0M1932 707h0M1955 566h0M1951 774h0M1964 758h0M1968 454h0M1941 762h0M1961 831h0M1931 761h0"/>
<path stroke="#00ffff" d="M2200 452h0M2568 728h0M2564 790h0M2559 853h0"/>
<path stroke="#10ffef" d="M1721 886h0M1728 890h0M1735 893h0M1729 896h0"/>
<path stroke="#20ffdf" d="M1735 877h0"/>
<path stroke="#30ffcf" d="M1763 847h0M1759 855h0M1745 872h0M1762 878h0M1926 443h0"/>
<path stroke="#40ffbf" d="M1755 863h0M1752 870h0"/>
<path stroke="#50ffaf" d="M1802 646h0M1918 452h0"/>
<path stroke="#60ff9f" d="M2569 624h0M2572 690h0M2566 744h0"/>
<path stroke="#70ff8f" d="M1794 732h0M1800 801h0M1820 747h0M1827 749h0M1824 755h0M1906 594h0M1999 632h0M2009 634h0M2009 662h0M2485 809h0"/>
<path stroke="#80ff80" d="M1910 601h0M1905 657h0M2009 648h0M1996 670h0M2492 810h0"/>
<path stroke="#8fff70" d="M1792 803h0M1982 611h0M1986 595h0"/>
<path stroke="#9fff60" d="M1961 545h0"/>
<path stroke="#ffef00" d="M1902 543h0"/>
<path stroke="#ffaf00" d="M1788 745h0"/>
<path stroke="#ff8f00" d="M1791 737h0M1911 612h0"/>
<path stroke="#ff8000" d="M1787 728h0M1924 485h0M1914 609h0"/>
<path stroke="#ef0000" d="M1841 772h0M1839 779h0M1839 790h0"/>
<path stroke="#df0000" d="M1906 636h0M1910 661h0M2564 731h0"/>
<path stroke="#cf0000" d="M1908 666h0"/>
<path stroke="#800000" d="M1906 545h0M1912 564h0"/>
</g>
<g id="gaps" fill="none" stroke="#fff"><line x1="222.0" y1="257.7" x2="221.2" y2="484.0" stroke-width="0.75" stroke-opacity="0.62" stroke-dasharray="1.1 1.45"/><line x1="227.5" y1="246.9" x2="226.7" y2="484.0" stroke-width="0.75" stroke-opacity="0.62" stroke-dasharray="1.1 1.45"/><line x1="232.5" y1="241.4" x2="231.7" y2="484.0" stroke-width="0.75" stroke-opacity="0.62" stroke-dasharray="1.1 1.45"/><line x1="240.5" y1="285.8" x2="239.7" y2="484.0" stroke-width="0.75" stroke-opacity="0.62" stroke-dasharray="1.1 1.45"/><line x1="245.0" y1="270.6" x2="244.2" y2="484.0" stroke-width="0.75" stroke-opacity="0.62" stroke-dasharray="1.1 1.45"/><line x1="252.5" y1="245.2" x2="251.7" y2="484.0" stroke-width="0.75" stroke-opacity="0.62" stroke-dasharray="1.1 1.45"/><line x1="263.0" y1="279.4" x2="262.2" y2="484.0" stroke-width="0.75" stroke-opacity="0.62" stroke-dasharray="1.1 1.45"/><line x1="274.5" y1="246.0" x2="273.7" y2="484.0" stroke-width="0.75" stroke-opacity="0.62" stroke-dasharray="1.1 1.45"/><line x1="283.0" y1="271.8" x2="282.2" y2="484.0" stroke-width="0.75" stroke-opacity="0.62" stroke-dasharray="1.1 1.45"/><line x1="301.0" y1="267.7" x2="300.2" y2="484.0" stroke-width="0.75" stroke-opacity="0.62" stroke-dasharray="1.1 1.45"/><line x1="315.5" y1="279.0" x2="314.7" y2="484.0" stroke-width="0.75" stroke-opacity="0.62" stroke-dasharray="1.1 1.45"/><line x1="344.0" y1="273.0" x2="343.2" y2="486.0" stroke-width="0.75" stroke-opacity="0.55" stroke-dasharray="1.1 1.45"/><line x1="386.0" y1="316.4" x2="385.2" y2="486.0" stroke-width="0.75" stroke-opacity="0.55" stroke-dasharray="1.1 1.45"/><line x1="403.0" y1="297.5" x2="402.2" y2="486.0" stroke-width="0.75" stroke-opacity="0.55" stroke-dasharray="1.1 1.45"/><line x1="441.0" y1="275.9" x2="440.2" y2="486.0" stroke-width="0.75" stroke-opacity="0.55" stroke-dasharray="1.1 1.45"/><line x1="517.5" y1="264.0" x2="511.0" y2="495.0" stroke-width="0.90" stroke-opacity="0.85" stroke-dasharray="27 3"/><line x1="568.0" y1="308.0" x2="558.0" y2="490.0" stroke-width="0.90" stroke-opacity="0.85" stroke-dasharray="18 1"/><line x1="574.0" y1="300.0" x2="568.0" y2="492.0" stroke-width="0.90" stroke-opacity="0.85" stroke-dasharray="21 3"/><line x1="580.6" y1="300.0" x2="578.7" y2="494.0" stroke-width="0.90" stroke-opacity="0.85" stroke-dasharray="21 3"/><line x1="634.8" y1="258.0" x2="634.8" y2="492.0" stroke-width="0.90" stroke-opacity="0.85" stroke-dasharray="15 2"/><line x1="655.0" y1="290.0" x2="662.0" y2="470.0" stroke-width="0.90" stroke-opacity="0.85" stroke-dasharray="21 2"/><line x1="662.0" y1="290.0" x2="668.7" y2="480.0" stroke-width="0.90" stroke-opacity="0.85" stroke-dasharray="18 1"/><line x1="670.6" y1="290.0" x2="672.0" y2="420.0" stroke-width="0.90" stroke-opacity="0.85" stroke-dasharray="16 1"/><line x1="729.7" y1="345.0" x2="729.7" y2="410.0" stroke-width="0.90" stroke-opacity="0.85" stroke-dasharray="26 3"/><line x1="736.5" y1="345.0" x2="736.5" y2="420.0" stroke-width="0.90" stroke-opacity="0.85" stroke-dasharray="23 2"/><line x1="755.0" y1="350.0" x2="755.0" y2="412.0" stroke-width="0.90" stroke-opacity="0.85" stroke-dasharray="19 1"/><line x1="487.5" y1="300.0" x2="487.7" y2="490.0" stroke-width="0.75" stroke-opacity="0.60" stroke-dasharray="1.1 1.45"/><line x1="500.0" y1="330.0" x2="500.9" y2="490.0" stroke-width="0.75" stroke-opacity="0.60" stroke-dasharray="1.1 1.45"/><line x1="523.0" y1="300.0" x2="523.6" y2="494.0" stroke-width="0.75" stroke-opacity="0.60" stroke-dasharray="1.1 1.45"/><line x1="531.0" y1="270.0" x2="530.9" y2="494.0" stroke-width="0.75" stroke-opacity="0.60" stroke-dasharray="1.1 1.45"/><line x1="538.0" y1="270.0" x2="538.0" y2="494.0" stroke-width="0.75" stroke-opacity="0.60" stroke-dasharray="1.1 1.45"/><line x1="545.0" y1="268.0" x2="545.0" y2="494.0" stroke-width="0.75" stroke-opacity="0.60" stroke-dasharray="1.1 1.45"/><line x1="552.0" y1="268.0" x2="550.6" y2="494.0" stroke-width="0.75" stroke-opacity="0.60" stroke-dasharray="1.1 1.45"/><line x1="588.0" y1="300.0" x2="588.7" y2="494.0" stroke-width="0.75" stroke-opacity="0.60" stroke-dasharray="1.1 1.45"/><line x1="596.0" y1="300.0" x2="596.1" y2="494.0" stroke-width="0.75" stroke-opacity="0.60" stroke-dasharray="1.1 1.45"/><line x1="605.0" y1="250.0" x2="604.0" y2="494.0" stroke-width="0.75" stroke-opacity="0.60" stroke-dasharray="1.1 1.45"/><line x1="615.0" y1="300.0" x2="614.2" y2="494.0" stroke-width="0.75" stroke-opacity="0.60" stroke-dasharray="1.1 1.45"/><line x1="627.0" y1="290.0" x2="626.6" y2="494.0" stroke-width="0.75" stroke-opacity="0.60" stroke-dasharray="1.1 1.45"/><line x1="644.0" y1="256.0" x2="644.0" y2="494.0" stroke-width="0.75" stroke-opacity="0.60" stroke-dasharray="1.1 1.45"/><line x1="650.5" y1="300.0" x2="650.4" y2="492.0" stroke-width="0.75" stroke-opacity="0.60" stroke-dasharray="1.1 1.45"/><line x1="690.0" y1="330.0" x2="689.0" y2="470.0" stroke-width="0.75" stroke-opacity="0.60" stroke-dasharray="1.1 1.45"/><line x1="705.0" y1="330.0" x2="704.0" y2="445.0" stroke-width="0.75" stroke-opacity="0.60" stroke-dasharray="1.1 1.45"/><line x1="716.0" y1="340.0" x2="715.2" y2="430.0" stroke-width="0.75" stroke-opacity="0.60" stroke-dasharray="1.1 1.45"/><line x1="775.0" y1="395.0" x2="777.0" y2="450.0" stroke-width="1.00" stroke-opacity="0.85" stroke-dasharray="20 3"/><line x1="798.0" y1="385.0" x2="800.0" y2="470.0" stroke-width="1.00" stroke-opacity="0.85" stroke-dasharray="19 2"/><line x1="816.0" y1="392.0" x2="819.0" y2="480.0" stroke-width="1.00" stroke-opacity="0.85" stroke-dasharray="14 1"/><line x1="808.0" y1="400.0" x2="810.0" y2="470.0" stroke-width="1.00" stroke-opacity="0.85" stroke-dasharray="18 4"/><line x1="787.0" y1="400.0" x2="789.0" y2="470.0" stroke-width="1.00" stroke-opacity="0.85" stroke-dasharray="25 1"/><line x1="1037.4" y1="238.0" x2="1036.4" y2="490.0" stroke-width="0.80" stroke-opacity="0.65" stroke-dasharray="1.2 1.35"/><line x1="1041.5" y1="300.0" x2="1040.5" y2="470.0" stroke-width="0.70" stroke-opacity="0.65" stroke-dasharray="1.2 1.35"/><line x1="1055.8" y1="240.0" x2="1054.8" y2="440.0" stroke-width="0.70" stroke-opacity="0.65" stroke-dasharray="1.2 1.35"/><line x1="1063.4" y1="250.0" x2="1062.4" y2="350.0" stroke-width="1.04" stroke-opacity="0.65" stroke-dasharray="1.2 1.35"/><line x1="1014.0" y1="245.0" x2="1013.0" y2="490.0" stroke-width="0.70" stroke-opacity="0.65" stroke-dasharray="1.2 1.35"/><line x1="1020.5" y1="300.0" x2="1019.5" y2="495.0" stroke-width="0.70" stroke-opacity="0.65" stroke-dasharray="1.2 1.35"/><line x1="1047.5" y1="236.0" x2="1046.5" y2="495.0" stroke-width="0.70" stroke-opacity="0.65" stroke-dasharray="1.2 1.35"/><line x1="1032.5" y1="245.0" x2="1031.5" y2="500.0" stroke-width="0.70" stroke-opacity="0.65" stroke-dasharray="1.2 1.35"/><line x1="1051.5" y1="300.0" x2="1050.5" y2="500.0" stroke-width="0.70" stroke-opacity="0.65" stroke-dasharray="1.2 1.35"/><line x1="1225.2" y1="244.0" x2="1227.5" y2="500.0" stroke-width="0.90" stroke-opacity="0.85" stroke-dasharray="12 2"/><line x1="1196.8" y1="244.0" x2="1195.3" y2="500.0" stroke-width="1.00" stroke-opacity="0.65" stroke-dasharray="1.2 1.35"/><line x1="1248.7" y1="244.0" x2="1247.2" y2="500.0" stroke-width="0.70" stroke-opacity="0.65" stroke-dasharray="1.2 1.35"/><line x1="1255.5" y1="244.0" x2="1254.0" y2="500.0" stroke-width="0.70" stroke-opacity="0.65" stroke-dasharray="1.2 1.35"/><line x1="1200.5" y1="244.0" x2="1199.0" y2="500.0" stroke-width="0.70" stroke-opacity="0.65" stroke-dasharray="1.2 1.35"/><line x1="1212.0" y1="244.0" x2="1210.5" y2="500.0" stroke-width="0.70" stroke-opacity="0.65" stroke-dasharray="1.2 1.35"/><line x1="1222.0" y1="244.0" x2="1220.5" y2="500.0" stroke-width="0.70" stroke-opacity="0.65" stroke-dasharray="1.2 1.35"/><line x1="1231.5" y1="244.0" x2="1230.0" y2="500.0" stroke-width="0.70" stroke-opacity="0.65" stroke-dasharray="1.2 1.35"/><line x1="1160.0" y1="244.0" x2="1158.5" y2="500.0" stroke-width="0.70" stroke-opacity="0.65" stroke-dasharray="1.2 1.35"/><line x1="1172.0" y1="244.0" x2="1170.5" y2="500.0" stroke-width="0.70" stroke-opacity="0.65" stroke-dasharray="1.2 1.35"/><line x1="1243.0" y1="244.0" x2="1241.5" y2="500.0" stroke-width="0.70" stroke-opacity="0.65" stroke-dasharray="1.2 1.35"/><line x1="1262.0" y1="244.0" x2="1260.5" y2="500.0" stroke-width="0.70" stroke-opacity="0.65" stroke-dasharray="1.2 1.35"/></g>
<g id="axes"><polyline class="ax" points="65.4,218.4 559.5,116.8 1447.3,245.4 1447.3,553.2"/><line class="ax" x1="94.2" y1="212.5" x2="71.0" y2="209.2"/><line class="ax" x1="301.3" y1="169.9" x2="278.1" y2="166.6"/><line class="ax" x1="508.4" y1="127.3" x2="485.2" y2="124.0"/><line class="ax" x1="623.2" y1="126.0" x2="646.1" y2="121.3"/><line class="ax" x1="870.2" y1="161.8" x2="893.1" y2="157.1"/><line class="ax" x1="1117.2" y1="197.6" x2="1140.1" y2="192.8"/><line class="ax" x1="1364.2" y1="233.3" x2="1387.1" y2="228.6"/><line class="ax" x1="1447.3" y1="260.0" x2="1470.5" y2="263.4"/><line class="ax" x1="1447.3" y1="323.8" x2="1470.5" y2="327.2"/><line class="ax" x1="1447.3" y1="387.6" x2="1470.5" y2="391.0"/><line class="ax" x1="1447.3" y1="451.4" x2="1470.5" y2="454.8"/><line class="ax" x1="1447.3" y1="515.2" x2="1470.5" y2="518.6"/></g>
<g id="ticks"><text class="tk" x="24.5" y="196.8" text-anchor="start">15</text><text class="tk" x="229.5" y="155.0" text-anchor="start">20</text><text class="tk" x="437.5" y="110.0" text-anchor="start">25</text><text class="tk" x="656.0" y="106.5" text-anchor="start">-10</text><text class="tk" x="904.5" y="143.0" text-anchor="start">-5</text><text class="tk" x="1150.5" y="179.7" text-anchor="start">0</text><text class="tk" x="1397.5" y="216.0" text-anchor="start">5</text><text class="tk" x="1480.5" y="273.2" text-anchor="start">3</text><text class="tk" x="1480.5" y="337.0" text-anchor="start">4</text><text class="tk" x="1480.5" y="400.8" text-anchor="start">5</text><text class="tk" x="1480.5" y="464.6" text-anchor="start">6</text><text class="tk" x="1480.5" y="528.4" text-anchor="start">7</text></g>
<g id="labels"><text class="lbi" x="238.8" y="59.8">x</text><path class="br" d="M284.7 29.6H279.5V68.6H284.7"/><text class="lb" style="font-size:41.5px" x="286.4" y="59.6" textLength="32.7" lengthAdjust="spacingAndGlyphs">m</text><path class="br" d="M321.0 29.6H326.2V68.6H321.0"/><text class="lbi" x="901" y="65.6">y</text><path class="br" d="M944.7 35.8H939.5V74.8H944.7"/><text class="lb" style="font-size:41.5px" x="946.4" y="65.8" textLength="32.7" lengthAdjust="spacingAndGlyphs">m</text><path class="br" d="M981.0 35.8H986.2V74.8H981.0"/><g transform="translate(1543.3,445) rotate(-90)"><text class="lbi" x="0" y="0">z</text><path class="br" d="M44.8 -30.0H39.6V9.0H44.8"/><text class="lb" style="font-size:41.5px" x="46.5" y="0.0" textLength="32.7" lengthAdjust="spacingAndGlyphs">m</text><path class="br" d="M81.1 -30.0H86.3V9.0H81.1"/></g></g>
<g id="cbar"><rect shape-rendering="crispEdges" x="101.5" y="605.1" width="19.5" height="65.1" fill="rgb(0,0,143)"/><rect shape-rendering="crispEdges" x="121.0" y="605.1" width="19.0" height="65.1" fill="rgb(0,0,159)"/><rect shape-rendering="crispEdges" x="140.0" y="605.1" width="20.0" height="65.1" fill="rgb(0,0,175)"/><rect shape-rendering="crispEdges" x="160.0" y="605.1" width="19.0" height="65.1" fill="rgb(0,0,191)"/><rect shape-rendering="crispEdges" x="179.0" y="605.1" width="20.0" height="65.1" fill="rgb(0,0,207)"/><rect shape-rendering="crispEdges" x="199.0" y="605.1" width="19.0" height="65.1" fill="rgb(0,0,223)"/><rect shape-rendering="crispEdges" x="218.0" y="605.1" width="20.0" height="65.1" fill="rgb(0,0,239)"/><rect shape-rendering="crispEdges" x="238.0" y="605.1" width="19.0" height="65.1" fill="rgb(0,0,255)"/><rect shape-rendering="crispEdges" x="257.0" y="605.1" width="20.0" height="65.1" fill="rgb(0,16,255)"/><rect shape-rendering="crispEdges" x="277.0" y="605.1" width="19.0" height="65.1" fill="rgb(0,32,255)"/><rect shape-rendering="crispEdges" x="296.0" y="605.1" width="20.0" height="65.1" fill="rgb(0,48,255)"/><rect shape-rendering="crispEdges" x="316.0" y="605.1" width="19.0" height="65.1" fill="rgb(0,64,255)"/><rect shape-rendering="crispEdges" x="335.0" y="605.1" width="20.0" height="65.1" fill="rgb(0,80,255)"/><rect shape-rendering="crispEdges" x="355.0" y="605.1" width="19.0" height="65.1" fill="rgb(0,96,255)"/><rect shape-rendering="crispEdges" x="374.0" y="605.1" width="20.0" height="65.1" fill="rgb(0,112,255)"/><rect shape-rendering="crispEdges" x="394.0" y="605.1" width="19.0" height="65.1" fill="rgb(0,128,255)"/><rect shape-rendering="crispEdges" x="413.0" y="605.1" width="20.0" height="65.1" fill="rgb(0,143,255)"/><rect shape-rendering="crispEdges" x="433.0" y="605.1" width="19.0" height="65.1" fill="rgb(0,159,255)"/><rect shape-rendering="crispEdges" x="452.0" y="605.1" width="20.0" height="65.1" fill="rgb(0,175,255)"/><rect shape-rendering="crispEdges" x="472.0" y="605.1" width="19.0" height="65.1" fill="rgb(0,191,255)"/><rect shape-rendering="crispEdges" x="491.0" y="605.1" width="20.0" height="65.1" fill="rgb(0,207,255)"/><rect shape-rendering="crispEdges" x="511.0" y="605.1" width="19.0" height="65.1" fill="rgb(0,223,255)"/><rect shape-rendering="crispEdges" x="530.0" y="605.1" width="20.0" height="65.1" fill="rgb(0,239,255)"/><rect shape-rendering="crispEdges" x="550.0" y="605.1" width="19.0" height="65.1" fill="rgb(0,255,255)"/><rect shape-rendering="crispEdges" x="569.0" y="605.1" width="20.0" height="65.1" fill="rgb(16,255,239)"/><rect shape-rendering="crispEdges" x="589.0" y="605.1" width="20.0" height="65.1" fill="rgb(32,255,223)"/><rect shape-rendering="crispEdges" x="609.0" y="605.1" width="19.0" height="65.1" fill="rgb(48,255,207)"/><rect shape-rendering="crispEdges" x="628.0" y="605.1" width="20.0" height="65.1" fill="rgb(64,255,191)"/><rect shape-rendering="crispEdges" x="648.0" y="605.1" width="19.0" height="65.1" fill="rgb(80,255,175)"/><rect shape-rendering="crispEdges" x="667.0" y="605.1" width="20.0" height="65.1" fill="rgb(96,255,159)"/><rect shape-rendering="crispEdges" x="687.0" y="605.1" width="19.0" height="65.1" fill="rgb(112,255,143)"/><rect shape-rendering="crispEdges" x="706.0" y="605.1" width="20.0" height="65.1" fill="rgb(128,255,128)"/><rect shape-rendering="crispEdges" x="726.0" y="605.1" width="19.0" height="65.1" fill="rgb(143,255,112)"/><rect shape-rendering="crispEdges" x="745.0" y="605.1" width="20.0" height="65.1" fill="rgb(159,255,96)"/><rect shape-rendering="crispEdges" x="765.0" y="605.1" width="19.0" height="65.1" fill="rgb(175,255,80)"/><rect shape-rendering="crispEdges" x="784.0" y="605.1" width="20.0" height="65.1" fill="rgb(191,255,64)"/><rect shape-rendering="crispEdges" x="804.0" y="605.1" width="19.0" height="65.1" fill="rgb(207,255,48)"/><rect shape-rendering="crispEdges" x="823.0" y="605.1" width="20.0" height="65.1" fill="rgb(223,255,32)"/><rect shape-rendering="crispEdges" x="843.0" y="605.1" width="19.0" height="65.1" fill="rgb(239,255,16)"/><rect shape-rendering="crispEdges" x="862.0" y="605.1" width="20.0" height="65.1" fill="rgb(255,255,0)"/><rect shape-rendering="crispEdges" x="882.0" y="605.1" width="19.0" height="65.1" fill="rgb(255,239,0)"/><rect shape-rendering="crispEdges" x="901.0" y="605.1" width="20.0" height="65.1" fill="rgb(255,223,0)"/><rect shape-rendering="crispEdges" x="921.0" y="605.1" width="19.0" height="65.1" fill="rgb(255,207,0)"/><rect shape-rendering="crispEdges" x="940.0" y="605.1" width="20.0" height="65.1" fill="rgb(255,191,0)"/><rect shape-rendering="crispEdges" x="960.0" y="605.1" width="19.0" height="65.1" fill="rgb(255,175,0)"/><rect shape-rendering="crispEdges" x="979.0" y="605.1" width="20.0" height="65.1" fill="rgb(255,159,0)"/><rect shape-rendering="crispEdges" x="999.0" y="605.1" width="19.0" height="65.1" fill="rgb(255,143,0)"/><rect shape-rendering="crispEdges" x="1018.0" y="605.1" width="20.0" height="65.1" fill="rgb(255,128,0)"/><rect shape-rendering="crispEdges" x="1038.0" y="605.1" width="19.0" height="65.1" fill="rgb(255,112,0)"/><rect shape-rendering="crispEdges" x="1057.0" y="605.1" width="20.0" height="65.1" fill="rgb(255,96,0)"/><rect shape-rendering="crispEdges" x="1077.0" y="605.1" width="19.0" height="65.1" fill="rgb(255,80,0)"/><rect shape-rendering="crispEdges" x="1096.0" y="605.1" width="20.0" height="65.1" fill="rgb(255,64,0)"/><rect shape-rendering="crispEdges" x="1116.0" y="605.1" width="19.0" height="65.1" fill="rgb(255,48,0)"/><rect shape-rendering="crispEdges" x="1135.0" y="605.1" width="20.0" height="65.1" fill="rgb(255,32,0)"/><rect shape-rendering="crispEdges" x="1155.0" y="605.1" width="19.0" height="65.1" fill="rgb(255,16,0)"/><rect shape-rendering="crispEdges" x="1174.0" y="605.1" width="20.0" height="65.1" fill="rgb(255,0,0)"/><rect shape-rendering="crispEdges" x="1194.0" y="605.1" width="19.0" height="65.1" fill="rgb(239,0,0)"/><rect shape-rendering="crispEdges" x="1213.0" y="605.1" width="20.0" height="65.1" fill="rgb(223,0,0)"/><rect shape-rendering="crispEdges" x="1233.0" y="605.1" width="20.0" height="65.1" fill="rgb(207,0,0)"/><rect shape-rendering="crispEdges" x="1253.0" y="605.1" width="19.0" height="65.1" fill="rgb(191,0,0)"/><rect shape-rendering="crispEdges" x="1272.0" y="605.1" width="20.0" height="65.1" fill="rgb(175,0,0)"/><rect shape-rendering="crispEdges" x="1292.0" y="605.1" width="19.0" height="65.1" fill="rgb(159,0,0)"/><rect shape-rendering="crispEdges" x="1311.0" y="605.1" width="20.0" height="65.1" fill="rgb(143,0,0)"/><rect shape-rendering="crispEdges" x="1331.0" y="605.1" width="18.7" height="65.1" fill="rgb(128,0,0)"/><rect class="cbb" x="101.85" y="605.45" width="1247.50" height="64.40"/><line class="cbt" x1="156.0" y1="669.6" x2="156.0" y2="657.3"/><text class="ctk" x="156.0" y="709.4" text-anchor="middle">0.04</text><line class="cbt" x1="336.8" y1="669.6" x2="336.8" y2="657.3"/><text class="ctk" x="336.8" y="709.4" text-anchor="middle">0.06</text><line class="cbt" x1="517.5" y1="669.6" x2="517.5" y2="657.3"/><text class="ctk" x="517.5" y="709.4" text-anchor="middle">0.08</text><line class="cbt" x1="698.3" y1="669.6" x2="698.3" y2="657.3"/><text class="ctk" x="698.3" y="709.4" text-anchor="middle">0.1</text><line class="cbt" x1="879.1" y1="669.6" x2="879.1" y2="657.3"/><text class="ctk" x="879.1" y="709.4" text-anchor="middle">0.12</text><line class="cbt" x1="1059.8" y1="669.6" x2="1059.8" y2="657.3"/><text class="ctk" x="1059.8" y="709.4" text-anchor="middle">0.14</text><line class="cbt" x1="1240.6" y1="669.6" x2="1240.6" y2="657.3"/><text class="ctk" x="1240.6" y="709.4" text-anchor="middle">0.16</text></g>
<g id="cblabel"><path class="sq" d="M631.6 749.8L635.8 747.4L643.4 764.4L660.6 724.6H765.6"/><path d="M634.6 747.6L637.4 746.2L644.6 761.6L643.0 765.0Z" fill="#262626"/><text class="cl" x="662.2" y="755.2">(</text><text class="cli" x="674.5" y="755.2">tr</text><text class="cl" x="703.5" y="755.2">(</text><text class="cl" x="716.5" y="755.2" textLength="22" lengthAdjust="spacingAndGlyphs">Σ</text><text class="cl" x="739.5" y="755.2">)</text><text class="cl" x="752" y="755.2">)</text><g class="cg"><path class="br" d="M786.0 730.5H780.8V762.6H786.0"/><text class="lb" style="font-size:34.2px" x="787.7" y="755.2" textLength="26.9" lengthAdjust="spacingAndGlyphs">m</text><path class="br" d="M814.1 730.5H819.3V762.6H814.1"/></g></g>
</svg>
</body></html>
